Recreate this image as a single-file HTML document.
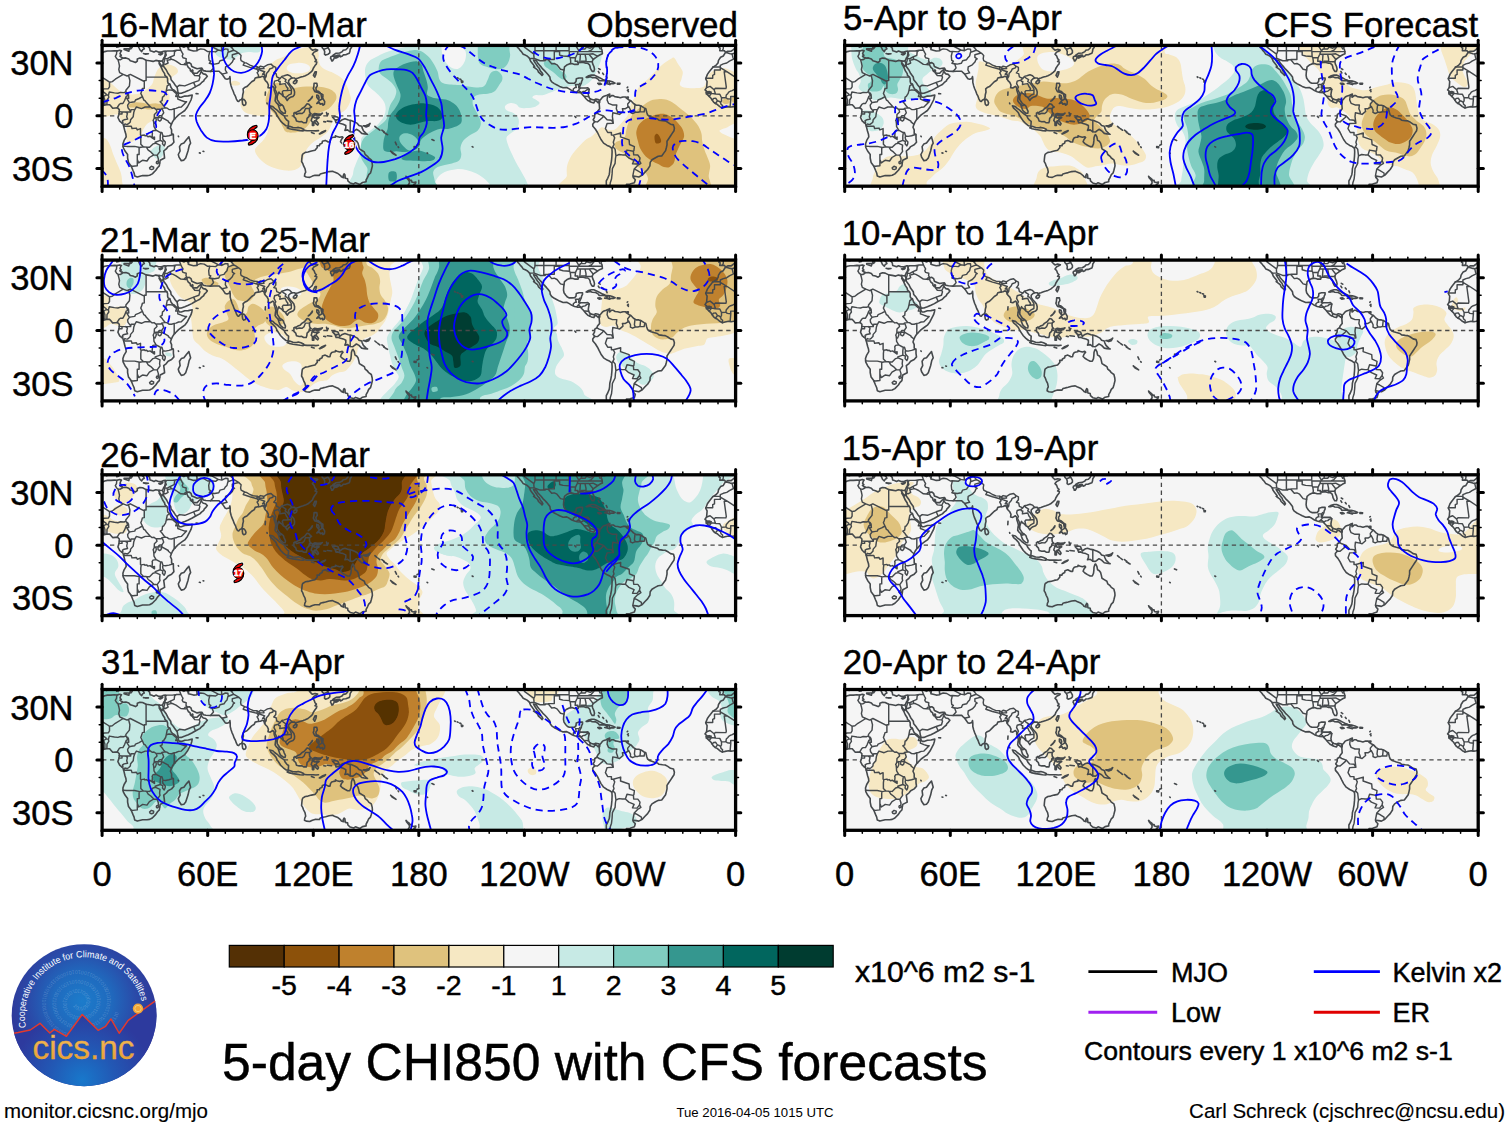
<!DOCTYPE html>
<html lang="en"><head><meta charset="utf-8"><title>5-day CHI850 with CFS forecasts</title>
<style>
html,body{margin:0;padding:0;background:#fff;}
svg{display:block;}
text{font-family:"Liberation Sans", sans-serif;fill:#000;stroke:#000;stroke-width:0.45px;}
.t34{font-size:35.15px;}
.tk{font-size:34.5px;}
.cb{font-size:28.5px;}
.lg{font-size:27px;}
.sm{font-size:20.5px;stroke-width:0.15px;}
.kc{fill:none;stroke:#0000ff;stroke-width:1.8;stroke-linejoin:round;stroke-linecap:butt;}
.kd{fill:none;stroke:#0000ff;stroke-width:1.8;stroke-dasharray:7.2 5;stroke-linejoin:round;}
.cst{fill:none;stroke:#45494c;stroke-width:1.6;stroke-linejoin:round;stroke-linecap:round;}
.bdr{fill:none;stroke:#45494c;stroke-width:1.45;stroke-linejoin:round;stroke-linecap:round;}
</style></head><body>
<svg width="1510" height="1127" viewBox="0 0 1510 1127">
<rect width="1510" height="1127" fill="#fff"/>
<defs>
<clipPath id="pc"><rect x="0" y="0" width="633.5" height="140.8"/></clipPath>
<filter id="sm" x="-5%" y="-5%" width="110%" height="110%"><feGaussianBlur stdDeviation="0.6"/></filter>
<g id="cst"><path class="cst" d="M-10.4,7.4L-9.3,7.2L-5.3,8.3L-3.5,8.6L0.0,7.4L2.6,6.2L5.3,5.6L8.8,5.6L12.3,5.3L15.1,5.5L17.6,4.8L19.4,5.3L18.7,6.3L17.9,8.4L19.2,9.9L17.8,10.7L19.4,12.0L21.1,12.7L23.8,12.5L26.7,13.5L28.2,15.3L30.8,16.0L33.4,17.1L35.2,15.8L35.2,13.7L37.8,12.7L40.5,13.0L44.0,14.8L47.5,15.3L51.0,16.0L53.7,15.0L56.3,15.5L57.4,17.6L57.0,18.3L58.9,21.5L60.7,25.5L62.5,28.2L62.8,29.9L64.8,31.7L65.5,33.4L65.5,36.1L66.0,37.8L67.7,38.7L69.0,42.2L70.4,44.0L72.1,44.9L74.8,47.5L76.2,48.4L76.0,50.0L77.4,51.9L79.2,51.9L82.7,50.7L86.2,50.5L90.1,49.6L89.7,51.9L88.9,54.6L87.1,58.1L85.3,61.6L82.7,65.1L80.1,66.9L76.5,69.5L73.9,72.1L72.1,73.9L70.4,76.5L69.2,79.2L68.3,81.8L69.5,84.5L69.5,88.0L71.3,89.7L71.3,93.3L71.8,96.8L69.5,99.4L66.0,101.2L64.2,103.5L61.6,105.6L62.1,109.1L62.5,112.6L58.1,114.9L57.7,117.0L57.2,120.5L55.4,122.3L53.7,124.9L50.2,128.5L47.5,129.9L44.9,130.2L40.5,130.2L35.2,131.6L32.6,130.6L32.0,127.6L30.8,124.9L29.0,120.5L26.4,117.0L25.5,112.6L25.5,109.1L22.9,105.6L21.1,102.1L20.8,98.5L22.0,95.0L24.1,91.5L23.8,88.9L22.9,86.2L21.6,80.9L20.8,78.3L17.6,75.7L15.8,72.1L16.7,69.5L17.1,66.9L17.2,64.2L15.5,62.5L13.2,62.6L10.6,62.8L8.8,60.7L7.6,59.3L4.4,59.3L1.8,59.8L-1.8,61.2L-4.4,61.6L-7.0,61.2L-10.6,61.9L-13.2,62.6L-15.8,61.2L-18.5,58.9L-20.2,58.1L-22.0,56.7L-23.4,54.6L-24.6,52.8L-26.4,51.0L-28.2,49.3L-29.4,47.5L-29.0,45.8L-30.6,44.5L-29.0,42.2L-28.7,38.7L-28.5,36.1L-29.9,33.4L-28.2,29.0L-26.4,26.4L-22.9,22.0L-19.4,19.7L-17.6,17.6L-17.1,15.0L-15.0,11.8L-12.3,10.6L-10.4,7.4M86.8,91.5L88.5,97.7L87.1,100.3L85.9,105.6L83.6,112.6L81.8,114.7L79.2,115.3L76.9,111.7L76.2,109.1L78.0,105.6L77.4,101.2L79.2,98.5L81.8,97.7L84.5,94.1L86.8,91.5M57.4,17.6L59.8,21.1L61.4,18.5L61.6,21.1L64.2,24.6L66.0,28.2L68.6,31.7L69.0,34.3L71.3,37.0L73.0,39.6L75.1,42.2L75.7,45.8L76.5,48.0L79.2,47.9L82.7,46.6L86.2,45.2L89.7,43.5L91.9,42.2L95.0,40.5L97.7,39.1L99.4,37.3L101.7,35.5L102.1,34.3L103.8,32.6L105.2,30.8L103.5,29.0L101.2,28.5L99.4,26.7L99.1,24.3L98.5,24.6L96.8,25.9L95.0,27.8L92.4,27.8L90.6,27.3L90.8,25.0L90.1,24.5L89.4,26.4L88.3,25.2L88.0,23.4L86.2,22.0L85.3,20.2L84.5,18.5L85.3,17.6L87.1,17.2L88.9,18.5L89.7,21.1L92.4,22.3L95.0,23.4L97.7,22.9L99.8,22.7L101.2,25.2L103.8,25.7L108.2,26.0L111.7,25.9L114.4,25.9L117.0,25.9L118.4,27.3L120.0,28.7L121.4,30.8L123.2,33.4L124.9,33.8L127.1,33.1L127.8,31.1L128.1,33.4L128.1,37.0L129.0,40.5L129.9,43.1L131.1,45.8L132.0,48.4L133.4,51.0L134.3,53.7L135.5,55.8L136.6,56.1L137.8,54.6L139.4,54.0L140.4,51.9L140.6,49.3L141.3,46.6L141.0,43.5L142.5,42.2L144.8,41.2L146.9,39.1L149.6,36.4L152.2,34.8L153.1,32.6L155.7,32.0L158.4,31.7L160.1,30.8L161.5,31.1L162.4,33.4L163.3,35.2L165.1,37.0L166.3,39.6L165.9,42.2L168.1,42.6L170.7,41.0L171.9,42.2L172.1,44.9L173.0,47.5L173.7,50.2L173.3,52.8L173.0,55.4L174.2,57.2L176.0,58.9L176.8,61.6L177.7,64.2L178.6,65.6L181.2,67.7L183.0,67.9L183.4,66.0L182.1,63.3L181.2,60.7L179.5,59.3L177.7,58.2L176.5,56.3L175.1,54.2L175.1,51.0L176.0,48.4L176.8,46.6L177.7,48.0L179.5,48.9L181.2,51.0L183.0,51.9L184.8,54.6L185.1,55.1L186.5,53.1L188.3,51.9L190.9,51.0L192.3,49.3L192.5,46.6L191.8,44.0L190.0,41.7L188.3,39.9L186.5,37.3L186.5,35.2L188.3,33.4L190.0,32.6L192.7,32.6L193.6,34.3L194.4,33.1L196.2,32.6L198.8,31.7L201.1,31.0L203.2,30.3L205.9,29.0L208.5,26.9L210.3,25.2L211.2,22.9L212.9,20.2L214.3,18.5L214.7,16.7L212.9,16.2L214.3,14.6L212.9,13.2L212.0,10.6L210.3,8.8L212.0,6.7L215.0,5.3L215.6,4.6L212.9,4.0L210.3,4.8L208.5,3.2L207.3,1.8L208.5,1.2L210.3,0.2L212.9,-1.4M219.1,-0.5L220.3,2.6L221.7,4.0L222.6,6.2L222.4,8.8L223.5,9.7L226.1,8.8L227.7,7.4L227.7,5.3L226.1,2.6L224.7,0.5L225.2,-0.7M228.8,11.4L228.4,12.8L229.3,14.1L229.6,15.5L230.5,15.5L231.9,13.2L232.3,11.4L230.5,10.6L231.0,9.7L234.0,7.9L237.6,7.6L240.2,6.2L241.1,4.9L243.7,4.4L245.5,2.6L246.4,0.0L246.9,-1.4L249.0,-1.1L249.5,1.8L248.1,3.9L247.8,6.2L247.2,7.9L245.8,8.4L243.7,9.3L241.1,9.5L240.2,10.6L238.4,11.4L237.6,9.7L234.9,10.0L233.2,10.6L230.5,10.6L228.8,11.4M233.2,12.3L234.9,11.4L236.7,10.2L236.7,11.1L234.9,12.3L233.7,12.7L233.2,12.3M211.3,29.9L212.9,26.4L214.3,26.4L213.8,29.0L212.6,31.7L211.3,29.9M191.3,36.6L192.7,35.2L195.0,35.2L194.4,37.3L192.7,38.4L191.3,37.7L191.3,36.6M140.4,53.7L141.7,54.0L143.1,55.4L143.9,57.5L143.4,59.3L141.7,60.0L140.6,58.9L140.2,56.3L140.4,53.7M167.7,60.5L170.7,61.2L172.5,63.0L175.1,64.8L176.8,66.5L179.5,68.6L182.1,70.4L183.0,72.5L184.8,74.8L186.5,76.0L186.2,80.6L183.9,80.4L181.2,78.3L178.6,75.7L176.8,73.0L175.1,70.4L173.7,67.4L171.6,65.1L168.9,62.8L167.7,60.5M185.1,82.4L187.4,80.9L190.9,82.2L194.4,82.4L196.2,82.0L198.8,82.7L201.5,83.9L201.1,85.5L198.0,85.2L194.4,84.6L190.9,84.1L187.4,83.4L185.1,82.4M191.8,67.7L193.6,67.4L195.7,66.0L198.0,65.1L199.7,63.3L202.4,61.6L205.0,58.4L206.8,58.9L208.2,60.7L209.4,61.6L207.6,62.8L207.3,64.6L207.6,66.9L209.1,68.6L207.3,69.0L206.8,71.3L205.0,73.0L204.7,75.7L204.1,77.4L201.5,77.4L199.7,76.2L197.1,76.4L194.4,75.7L193.6,73.0L191.8,71.3L191.8,67.7M210.8,69.0L212.6,68.1L215.6,68.6L219.1,68.3L220.3,67.7L218.2,69.7L215.6,69.5L212.6,69.5L211.2,71.8L212.9,72.5L215.6,71.8L217.0,72.1L214.7,73.6L213.8,75.1L215.2,76.5L216.4,78.3L215.6,79.7L214.3,78.8L212.9,77.1L212.6,75.3L211.7,76.5L211.7,80.1L210.3,80.1L210.3,76.5L209.1,75.1L209.9,72.5L210.8,69.0M212.0,37.8L214.7,37.8L215.2,40.5L213.8,42.6L214.2,45.4L216.1,45.8L218.2,47.5L218.2,48.4L215.6,47.0L212.9,46.3L212.0,44.9L211.2,43.1L211.7,41.4L212.0,37.8M214.7,58.1L217.3,55.1L220.8,53.1L222.6,56.3L222.3,58.9L220.8,59.8L220.3,58.1L218.2,58.9L217.3,57.2L214.7,58.1M219.1,48.4L220.8,49.3L220.8,51.9L219.6,52.4L219.1,50.2L219.1,48.4M214.7,49.6L216.4,50.2L217.0,52.3L216.4,54.2L215.6,53.1L214.7,51.9L214.7,49.6M206.2,55.8L208.5,53.7L210.3,51.0L209.9,52.3L207.6,54.9L206.2,55.8M230.5,71.8L233.2,71.1L235.8,71.8L237.6,76.2L240.2,74.3L242.8,73.4L246.4,74.6L249.0,75.1L252.5,76.5L255.2,78.0L256.9,80.1L259.6,80.9L260.1,82.7L261.3,85.3L264.0,88.0L265.4,88.9L262.2,88.5L259.6,88.0L256.9,85.3L254.3,83.9L252.5,85.3L250.8,86.6L248.1,86.4L245.5,84.5L242.8,85.0L243.7,82.7L243.7,80.1L241.1,78.8L238.4,78.1L235.8,77.1L234.0,77.4L233.2,75.3L235.4,74.4L232.8,74.3L230.5,71.8M261.3,80.4L264.0,80.1L266.6,79.2L268.0,78.0L266.6,80.6L264.0,81.5L261.3,80.4M272.8,80.9L274.5,82.4M275.7,83.2L277.7,84.8M279.8,84.8L282.1,86.6M281.6,86.9L284.2,88.5M283.8,88.5L285.4,89.2M288.6,105.8L293.0,109.1L293.9,109.8L290.4,107.9L288.6,105.8M293.2,96.8L294.4,99.4M296.0,101.4L296.5,102.1M312.0,101.2L314.1,101.4L313.8,102.4L312.0,102.1L312.0,101.2M315.0,99.8L316.7,99.1M202.4,85.0L205.0,85.3L207.6,85.3L209.4,85.3L211.2,85.3L213.8,85.5L216.4,85.2M217.3,88.5L220.0,86.6L223.5,85.2L222.6,86.2L220.0,87.6L218.2,88.5L217.3,88.5M209.4,87.1L212.0,88.0M224.4,67.2L225.2,70.4L226.1,68.3M225.2,75.7L229.6,76.2M221.7,76.2L223.5,76.5M200.1,110.0L200.6,108.7L203.2,107.0L205.9,106.6L209.4,105.6L212.9,104.9L215.2,102.1L215.0,100.3L217.3,100.3L217.7,98.9L220.0,97.7L220.3,95.9L223.1,95.0L224.9,95.9L226.1,96.6L227.9,96.6L228.4,94.1L229.6,92.4L231.4,91.9L233.2,91.7L233.3,90.4L234.9,91.2L237.6,91.9L240.2,91.3L240.9,92.2L239.3,94.1L238.4,96.4L240.2,98.2L242.8,99.8L245.5,101.2L247.6,101.2L248.8,98.5L249.2,95.0L249.3,92.4L250.2,89.7L250.9,89.2L252.2,91.5L252.9,95.0L254.6,95.9L255.9,97.7L256.6,100.3L257.3,103.5L259.9,105.1L262.2,106.5L263.1,109.1L265.4,110.9L266.6,112.6L269.2,114.4L270.1,117.9L270.3,120.5L269.2,124.9L268.4,127.6L266.6,129.3L265.4,132.0L264.0,134.6L264.0,136.4L260.4,137.1L257.8,139.0L255.2,138.0L253.4,137.3L251.6,138.5L248.1,137.6L245.8,135.5L245.5,133.4L243.2,132.9L242.8,129.3L242.0,128.5L241.1,130.2L241.4,132.3L239.3,131.4L238.4,130.2L235.8,128.1L232.3,126.7L230.5,125.8L227.0,126.2L223.5,127.2L220.8,127.8L218.2,128.5L217.3,130.0L212.9,129.9L210.3,130.7L207.6,132.0L204.1,131.6L202.4,130.7L202.7,128.5L203.6,126.7L202.9,123.2L201.5,120.5L200.6,117.9L199.5,116.1L199.7,113.5L200.1,110.0M308.3,141.7L307.6,140.6L306.2,139.4L307.4,137.6L307.2,135.8L306.2,134.4L304.4,132.3L303.9,130.9L305.3,132.3L307.1,133.7L307.9,135.1L309.4,135.0L309.7,136.6L311.5,137.1L313.8,136.6L313.2,138.5L311.5,139.4L311.5,140.4L310.6,141.8M359.2,35.4L360.7,35.9L360.6,37.0L359.5,37.0L359.2,35.4M357.7,33.6L358.8,34.0M355.1,32.4L356.0,32.9M352.5,31.5L353.0,31.9M414.6,-1.1L415.3,1.8L417.0,3.5L418.3,5.3L419.3,6.2L421.1,8.8L423.2,9.7L425.0,10.6L427.3,12.7L428.5,15.8L429.9,17.6L431.5,19.7L432.5,21.1L431.5,21.6L433.8,23.2L435.5,24.6L436.4,26.7L439.0,29.0L439.9,30.1L440.8,29.0L439.9,27.3L438.2,25.5L437.3,23.2L435.5,21.1L433.8,18.5L432.0,15.8L431.5,14.6L434.3,15.3L435.5,17.6L437.3,19.7L439.0,21.5L440.8,23.8L442.6,25.5L444.3,27.3L446.1,29.4L447.8,31.7L448.2,34.3L449.6,36.4L452.2,38.2L454.9,39.6L457.5,41.0L461.0,42.4L464.6,42.1L467.2,43.5L469.8,45.2L472.5,46.3L475.1,47.0L478.6,47.2L479.5,48.4L481.3,50.2L482.7,51.9L483.9,53.3L485.7,55.1L487.4,55.8L489.2,56.8L491.8,57.5L492.7,55.4L494.5,55.8L495.9,57.2L497.1,55.8L497.6,56.3L497.1,58.1L497.3,60.7L497.5,63.3L495.4,66.0L494.8,67.7L492.7,69.0L492.4,72.1L491.0,74.4L492.7,76.2L490.6,78.8L490.8,80.9L493.2,83.6L495.4,87.1L497.1,90.6L498.9,94.1L501.5,97.7L505.0,100.0L507.7,101.2L509.8,102.9L510.0,106.5L509.8,110.9L509.4,115.3L508.6,119.7L507.7,123.2L507.5,126.7L507.1,129.3L505.6,132.9L504.2,135.5L504.2,138.1L504.5,141.8M503.3,-1.1L502.9,0.9L500.6,0.9L499.1,1.4L499.2,3.5L499.8,4.4L500.1,6.2L500.3,8.3L498.0,9.3L495.4,10.9L493.6,12.3L491.0,14.1L490.1,16.2L490.6,18.5L491.8,21.1L492.4,23.8L491.8,26.0L490.1,26.0L489.2,24.6L488.3,22.9L488.0,21.1L487.4,19.4L485.7,17.9L483.9,17.9L481.3,17.1L478.6,16.9L476.5,17.1L476.0,19.0L472.5,19.0L469.8,18.1L467.2,18.5L464.6,19.7L462.4,21.5L461.9,24.6L461.6,27.3L461.4,29.9L461.9,32.6L463.7,35.2L465.4,37.0L467.2,37.8L469.8,37.8L472.5,37.7L473.9,36.1L474.2,33.4L476.9,32.6L480.4,32.6L480.4,34.3L479.5,36.1L479.2,37.8L478.3,39.6L477.2,42.2L478.6,42.6L481.3,42.6L483.9,42.6L485.7,42.4L487.1,44.0L486.6,46.6L486.2,49.3L486.6,51.0L487.4,52.8L489.2,54.0L491.8,54.6L493.6,53.7L496.2,54.2L497.5,55.1L498.9,53.7L500.6,51.6L501.9,50.9L504.2,50.2L505.9,49.3L507.7,48.6L507.3,50.2L507.3,51.9L508.2,51.4L509.4,50.2L511.2,50.2L513.0,51.4L515.6,51.7L518.2,52.4L520.9,51.6L523.5,51.6L524.4,52.8L527.0,54.6L528.8,55.4L531.4,58.1L534.1,59.8L536.7,59.8L539.3,60.7L542.0,62.5L543.7,63.3L544.6,66.9L545.5,69.5L547.3,70.9L549.0,71.6L551.7,72.5L555.2,73.4L556.9,74.8L560.5,75.3L563.1,75.5L565.7,76.9L568.4,78.8L571.4,79.5L572.3,82.7L571.9,85.3L570.1,88.0L568.4,90.6L566.6,93.3L564.9,95.9L564.9,99.4L564.3,102.1L563.5,105.2L561.3,108.2L559.6,110.5L556.1,110.9L553.4,112.3L549.9,114.4L548.1,117.0L547.8,120.5L545.5,124.1L542.9,126.7L540.2,129.7L536.7,131.6L534.1,131.1L531.4,130.7L531.1,132.0L533.2,134.3L532.3,137.3L527.9,138.7L524.4,139.0L523.5,141.8M484.1,31.9L486.6,30.4L489.2,29.7L491.8,29.7L494.5,30.8L498.0,32.6L500.6,34.0L502.9,34.8L501.5,35.4L497.1,35.4L496.2,34.0L493.6,32.4L490.1,32.2L488.3,31.3L485.7,32.0L484.1,31.9M502.4,35.4L505.0,35.4L507.7,35.7L510.3,36.4L513.0,37.7L511.2,38.4L508.6,38.2L507.7,39.2L505.0,38.4L502.6,38.0L504.2,37.7L505.6,37.0L502.4,35.4M495.7,38.0L498.0,37.8L499.4,38.7L497.1,39.1L495.7,38.0M515.2,37.8L517.9,38.0L517.7,38.7L515.2,38.7L515.2,37.8M496.2,26.0L497.1,27.6M496.6,23.2L498.0,24.1M500.6,27.8L501.5,29.0M504.2,30.8L505.0,32.6M524.9,51.6L526.2,51.6L526.2,52.6L524.9,52.6L524.9,51.6M525.4,45.0L526.2,44.3M525.1,42.2L525.6,41.7M526.2,46.3L526.3,45.8M-15.5,-1.1L-16.7,2.1L-15.5,2.6L-15.8,5.3L-11.4,5.3L-9.7,6.9L-7.9,5.8L-4.4,5.8L-2.6,4.4L-0.5,2.6L0.4,2.1L-0.5,0.9L0.9,-1.1M4.4,0.9L5.8,0.4M14.6,1.8L16.7,1.4L17.1,-1.1L14.8,-1.1L14.6,1.8M22.0,3.5L27.3,3.2L26.7,5.8L22.0,4.2L22.0,3.5M27.6,-0.2L28.2,1.8L27.6,3.5L29.0,3.2L30.1,1.8L29.0,0.5L29.9,-0.9M32.6,-0.2L31.9,-1.1M34.3,-1.1L36.1,0.9L37.0,2.6L37.8,4.4L39.6,6.2L40.5,4.4L42.2,3.5L41.4,1.8L40.1,0.9L40.5,-0.9M41.4,8.1L46.3,8.4L43.6,8.8L41.4,8.1M46.3,-1.1L46.1,1.2L47.5,2.6L48.0,5.3L49.8,5.8L51.9,6.7L53.8,5.6L56.3,6.7L59.3,6.7L61.6,5.8L63.3,5.6L63.3,7.0L63.2,8.8L62.6,11.4L61.6,12.7L60.7,15.0L60.2,15.5L58.4,15.7L56.8,15.3M56.8,8.8L59.3,8.1L60.7,7.7L59.8,8.8L58.1,9.5L56.8,8.8M87.1,-1.1L86.6,1.8L86.2,4.2L88.5,4.8L91.5,5.6L95.0,5.3L94.8,1.8L93.3,-1.1M94.0,48.2L95.9,48.4M101.0,105.9L101.7,106.1M97.3,107.5L98.2,107.7M163.3,46.6L163.1,49.8M164.9,57.7L165.1,58.4M472.7,70.9L473.7,72.0M329.8,94.1L331.9,95.0M370.1,101.2L370.9,101.7M325.0,107.5L325.5,107.9M352.5,31.5L353.2,31.9M76.2,90.8L76.5,91.3"/><path class="bdr" d="M-3.5,8.6L-2.6,12.3L-2.1,13.7L-6.2,15.8L-8.8,17.6L-12.3,18.5L-15.3,19.9L-15.3,22.3M-15.3,21.6L-22.9,21.6M-15.3,22.3L-15.3,24.6L-21.1,24.6L-21.1,29.0L-22.9,29.9L-22.9,32.9L-29.9,32.9M-15.3,22.3L-8.4,26.4L2.1,33.3L5.6,35.5L7.4,36.8L10.2,36.2L13.2,33.8L21.1,29.0L17.6,27.3L16.7,24.1L17.4,20.6L16.7,17.2L15.8,14.1L14.6,13.2L13.2,10.9L14.4,8.8L14.6,6.2L15.1,5.5M15.8,14.1L18.1,14.4L20.2,13.2L20.2,12.0M44.0,14.8L44.0,31.7L44.0,35.2L42.2,35.2L42.2,36.1L28.2,29.0L26.4,29.9L25.0,30.6L21.1,29.0M44.0,31.7L64.8,31.7M-29.0,42.2L-25.5,41.0L-21.5,44.3L-20.2,42.9L-9.7,43.1L-9.3,41.7L-11.4,26.4L-8.4,26.4M-21.5,44.3L-20.1,48.6L-24.1,48.0L-26.4,51.0M-29.4,46.5L-26.4,46.1L-24.3,46.8L-26.4,47.2L-29.4,47.3M-29.4,48.6L-26.4,48.2L-24.1,48.0M-20.1,48.6L-15.8,48.9L-14.1,52.4L-14.1,55.4L-15.0,57.0L-16.7,55.8L-18.1,55.4L-18.7,54.6L-19.9,52.8L-22.0,53.0L-23.4,54.6M-15.0,57.0L-14.6,58.9L-13.0,60.2L-13.2,62.6M-18.1,55.4L-20.2,58.1M-14.1,52.4L-10.6,52.3L-9.7,52.1L-9.3,49.6L-7.7,48.0L-6.9,46.8L-4.9,45.6L-3.5,45.2L-1.2,44.0L0.4,44.0L2.3,43.5L6.2,43.3L7.4,41.4L7.4,36.8M0.4,44.0L0.9,46.3L3.9,48.4L4.2,49.4M-9.7,52.1L-8.3,53.3L-4.8,53.7L-4.9,51.0L-0.9,51.0L1.6,51.0L4.2,49.4L6.3,49.8L7.2,46.6L12.3,47.5L15.8,47.9L18.5,47.0L22.0,47.2L23.8,46.3M-4.8,53.7L-5.5,61.4M1.6,51.0L0.4,51.0L0.9,55.4L1.2,58.4L2.1,59.7M1.6,51.0L2.8,54.6L2.8,59.3M6.3,49.8L6.7,51.9L4.9,54.6L4.8,59.1M23.8,46.3L25.0,48.4L25.5,50.2L24.1,51.0L22.5,55.1L20.8,58.1L18.5,58.1L17.2,58.9L15.5,61.6L15.1,62.3M23.8,46.3L23.8,44.9L27.3,40.6L27.8,35.2L26.4,29.9M42.2,36.1L42.2,42.8L40.3,43.1L39.6,45.6L38.7,48.0L40.3,51.2L37.0,53.1L33.4,54.6L32.6,56.3L29.4,56.8L27.3,57.2L24.6,52.8L26.7,52.8L26.4,49.3L25.5,47.7L25.0,48.4M27.3,57.2L25.5,59.8L25.9,62.3L28.2,65.3L28.5,66.5L23.4,66.5L19.9,66.5L17.2,66.3M19.9,66.5L19.9,68.6L16.9,68.6M23.4,66.5L25.3,67.9L24.6,71.3L25.5,73.7L22.0,74.4L20.4,75.3L20.8,76.9L19.5,77.3M28.5,66.5L29.0,64.2L32.7,64.2L31.7,66.9L31.1,71.3L28.5,74.3L28.2,76.5L26.7,78.0L25.3,79.0L23.6,78.8L22.9,78.5L22.0,79.4L21.5,80.6M32.7,64.2L34.3,61.6L39.4,63.2L43.1,61.6L48.2,61.4L50.0,62.8L51.9,62.5L54.2,64.2L54.9,66.5L52.3,69.0L52.1,72.9M40.3,51.2L41.7,54.6L43.1,55.4L44.3,57.2L48.2,61.4M64.2,45.2L63.5,48.0L61.6,51.0L60.4,51.7L60.0,55.3L58.1,56.3L59.8,58.1L61.6,60.7L63.2,62.3L59.8,63.0L58.9,63.9L54.6,63.9L54.2,64.2M67.7,38.7L65.1,40.5L64.2,45.2L66.9,44.5L70.4,44.9L73.4,47.5L74.6,48.4L73.6,51.0L75.7,51.0L76.0,50.0M75.7,51.0L75.7,53.7L79.2,55.1L82.7,56.3L84.5,56.3L79.2,61.6L76.5,61.9L73.9,63.0L72.1,63.3L72.1,73.4L73.0,73.4M63.2,62.3L64.8,62.6L66.9,64.1L69.5,64.2L72.1,63.3M59.8,63.0L60.7,64.8L61.6,67.4L59.8,70.0L59.7,72.1L66.2,75.7L66.3,76.5L69.0,78.7M59.7,70.0L57.2,70.4L55.8,72.1L56.0,74.8L57.7,75.7L58.9,74.8L59.8,72.1L59.7,70.0M59.7,72.1L53.7,72.1L52.1,72.9L51.0,75.1L51.4,75.7L51.7,78.1L52.8,78.0L53.7,76.2L54.2,74.6L53.7,72.1M51.7,78.1L51.9,81.3L54.0,84.8L50.9,85.3L50.0,86.8L50.3,88.0L50.0,91.2L51.0,92.2L52.4,91.7L52.4,94.0L50.0,92.4L47.9,90.8L45.8,91.3L44.5,90.1L42.9,90.4L42.2,89.6L39.1,90.1L38.7,93.3L38.7,98.9L41.2,101.4M54.0,84.8L57.9,86.9L58.6,87.1L58.1,90.8L58.1,95.0L53.1,96.8L53.5,97.8M58.6,87.1L59.8,87.1L60.9,90.6L60.5,91.9L60.9,94.1L63.2,96.6L63.0,98.5L62.1,100.5L60.4,98.5L60.7,96.1L58.1,95.0M60.9,90.6L63.3,91.0L66.9,90.3L71.3,88.9M21.5,80.6L22.9,80.8L29.2,80.8L29.9,83.1L34.3,82.7L35.2,84.5L38.4,83.2L38.4,89.7L39.1,90.1M20.8,100.8L24.6,101.0L32.6,101.0L37.7,102.1L41.2,101.4L44.3,101.7L47.5,101.9L50.9,98.5L53.5,97.8L57.9,99.8L57.5,103.6L57.9,105.9L55.1,109.8L56.3,113.5L56.1,116.0L56.5,117.5L57.7,117.5M37.0,102.6L37.0,109.1L35.2,109.1L35.2,114.0L35.2,120.4L30.8,120.9L29.0,120.7M35.2,114.0L36.6,117.5L39.9,115.3L40.5,114.9L44.9,115.6L47.3,112.1L51.7,109.5L55.1,109.8M44.3,101.7L46.1,104.7L48.7,106.5L51.7,109.5M56.1,116.0L54.6,116.1L54.2,117.5L55.1,118.4L56.5,117.5M47.5,122.5L49.3,120.9L51.6,121.8L51.4,123.5L49.6,124.2L48.0,123.7L47.5,122.5M60.2,15.5L61.4,18.5L62.5,15.0L62.6,12.8L62.6,12.0L64.2,9.7L63.3,7.4M63.3,7.0L64.6,5.6L66.9,5.6L70.4,5.6L74.4,4.9L78.8,4.9L77.4,1.1L78.8,0.5L81.8,1.9L84.5,0.5L86.0,2.8M74.4,4.9L72.5,6.3L72.1,9.9L68.3,11.6L64.8,13.5L62.6,12.8M61.4,18.5L63.3,19.0L66.0,17.6L65.1,15.0L68.6,14.1L69.0,13.7L68.3,11.6M69.0,13.7L71.1,14.3L73.9,15.7L78.7,19.0L81.8,19.2L83.6,19.4M81.8,19.2L83.4,17.6L84.5,17.6M85.3,17.6L83.9,15.8L84.1,13.2L80.9,12.3L80.1,10.6L80.9,8.8L79.9,7.0L78.8,4.9M95.0,4.8L98.5,3.5L102.1,4.0L105.6,6.2L107.7,6.0L106.6,10.6L107.0,15.0L108.7,15.8L107.2,17.9L110.0,18.7L111.4,22.5L110.5,23.6L108.4,26.0M107.2,17.9L112.6,18.7L116.7,17.9L117.9,15.3L121.9,14.3L123.2,12.3L124.9,10.6L125.8,7.0L130.2,5.3L131.8,4.9L133.6,5.8L136.9,7.9M107.7,6.0L113.5,6.5L116.1,4.6L119.7,5.3L123.2,3.5L125.8,3.7L126.0,5.8M116.1,4.6L109.1,0.9L103.1,-1.1M119.7,5.3L119.3,0.7L123.2,-0.4L128.5,1.1L129.9,2.6L131.8,4.9M129.9,2.6L129.9,0.4L133.7,-1.1M75.1,41.5L77.4,39.8L82.7,40.5L91.5,37.0L96.8,35.2L97.8,31.7L97.1,30.4L92.6,30.1L90.8,27.8M91.5,37.0L93.4,41.2M97.1,30.4L98.2,28.2L98.7,26.9L99.2,26.6M120.0,28.7L124.9,27.5L123.2,24.6L123.5,21.5L127.6,19.4L130.2,16.7L131.3,14.1L132.5,13.5L130.2,12.0L130.2,9.3L135.5,7.9L136.9,7.9L139.0,10.0L138.5,13.2L139.0,15.3L142.5,17.2L141.1,19.7L147.8,22.0L155.0,23.9L155.0,21.3L151.3,21.1L147.8,19.7L144.3,17.6L142.5,17.2M155.0,21.3L156.4,22.3L158.0,23.4L161.9,23.2L161.2,21.5L158.4,20.8L156.4,22.3M161.9,21.5L165.4,19.4L168.9,18.7L171.2,20.8L170.7,22.5L167.5,23.6L166.6,25.7L164.4,28.2L164.0,31.3L162.9,32.9L162.4,34.0M155.0,23.9L156.4,25.9L155.0,27.3L156.3,29.6L156.6,31.9M156.4,24.1L158.0,24.8L162.6,26.4L160.5,28.9L162.4,28.7L162.9,32.9M171.2,20.8L173.7,22.0L173.7,25.0L171.7,27.5L174.0,28.2L174.7,31.5L178.1,33.1L176.1,34.7L172.5,35.7L171.9,38.2L173.7,41.7L172.8,43.6L174.6,47.2L175.1,50.2L173.7,52.4M178.1,33.1L179.7,31.0L181.2,32.6L183.9,34.3L183.0,36.1L185.1,37.5L187.4,40.5L189.2,43.6L189.3,44.7L189.2,48.4L186.4,49.8L184.8,51.2L183.7,52.1M176.1,34.7L176.8,36.1L178.1,36.1L177.7,39.1L179.5,38.7L183.0,38.2L184.4,41.4L185.8,43.1L185.1,45.2L181.2,45.2L180.2,46.5L181.1,49.8M185.1,45.2L189.3,44.7M179.7,31.0L182.1,30.4L185.3,29.4L187.8,30.3L190.0,32.6M176.1,59.1L177.9,60.4L179.7,59.5M192.9,66.9L194.4,68.8L197.1,67.9L200.1,68.1L202.0,66.5L203.4,63.0L206.9,63.0M248.1,75.0L248.1,86.4M221.9,3.9L225.9,2.5M218.9,-0.2L221.7,-1.1M427.4,13.2L431.5,12.8L438.0,15.3L443.1,15.3L443.1,14.4L446.1,14.4L449.6,18.5L452.2,18.1L454.9,19.4L458.4,23.8L461.9,24.6M432.7,5.3L467.0,5.3M452.2,6.2L457.5,6.2L457.5,9.7L461.0,10.6L467.4,11.1L467.2,6.2L476.0,6.2L500.3,6.2M441.7,15.3L441.7,-1.1M446.1,14.1L452.2,14.1L452.2,5.3M454.0,5.3L454.0,-1.1M422.3,1.8L431.8,8.8L431.7,10.0L432.0,12.8M422.3,1.8L422.3,-1.1M432.9,5.3L432.9,-1.1M431.8,8.8L432.7,6.7L432.9,5.3M467.0,5.3L467.0,-1.1M468.1,12.3L473.4,12.3M467.4,11.1L468.1,12.3L468.6,15.8L468.4,18.1M473.4,12.3L473.0,15.8L475.8,15.8L475.5,17.1M473.4,12.3L475.1,8.8L476.0,6.2L476.7,5.3L475.1,2.6L472.7,-1.1M478.3,8.8L477.8,15.8L477.9,17.1M482.9,8.8L483.9,13.5L483.9,15.8L483.7,16.4M479.3,15.8L483.9,15.8L484.3,16.4L489.2,16.4L490.1,16.2M475.1,8.8L486.9,8.8L491.0,13.9M486.9,8.8L491.0,8.4L495.4,10.7M486.4,6.0L489.2,4.8L492.4,1.2L496.8,1.2L498.0,3.5M476.7,5.3L478.6,3.5L483.0,3.5L484.4,1.6L488.1,2.8L491.8,0.5L491.8,-1.1M479.5,3.5L479.5,-1.1M484.3,1.6L484.3,-1.1M491.8,0.5L500.1,0.5M454.0,0.0L467.0,0.0M432.9,-1.1L441.7,-1.1M471.2,44.9L471.2,43.6L473.0,42.1L474.2,42.1L473.4,39.1L476.9,39.1L477.9,37.8M474.9,46.3L476.2,45.0L478.1,42.8M476.9,39.1L476.5,42.4L478.1,42.8M479.2,47.5L480.9,46.1L483.0,45.8L484.8,44.3L487.1,44.0M476.2,45.0L479.0,47.0M482.7,50.9L486.2,51.2M487.6,56.1L488.1,53.5M497.3,57.5L497.5,55.1M507.1,35.7L507.3,38.7M507.3,49.6L505.4,51.0L505.0,54.6L506.4,57.9L510.3,59.5L514.7,59.5L514.2,63.3L515.6,66.9L515.2,68.3L510.7,67.4L510.3,71.3L511.2,77.8L509.4,74.8L505.0,74.4L501.5,70.6L497.1,69.0L494.8,67.7M501.5,70.6L500.5,72.1L495.4,76.5L492.2,76.4M511.2,77.8L505.0,78.1L503.3,83.2L505.6,87.1L509.3,87.1L509.3,89.7L511.2,89.7L512.6,92.4L511.2,96.8L511.9,99.1L510.8,101.2L509.8,102.6M511.2,89.7L518.6,87.6L518.4,91.5L527.0,94.5L527.4,99.1L532.3,101.2L531.8,105.2L531.3,105.9L531.6,109.5L535.7,109.6L537.9,112.6L537.4,115.4L538.8,117.9L535.5,120.0L532.1,123.5L534.9,124.9L539.3,127.6L539.5,129.7M510.8,101.2L513.0,103.8L513.8,110.5L517.0,109.1L520.3,109.5L523.3,109.5L524.9,104.7L531.3,105.9M523.3,109.5L526.7,112.6L532.0,114.9L530.4,118.4L534.9,118.6L537.4,115.4M532.1,123.5L531.1,128.5L530.7,130.7M513.8,110.5L513.3,113.5L513.0,117.9L510.3,123.2L510.0,128.5L509.4,133.7L508.2,137.3L507.7,141.8M515.2,68.3L517.4,69.0L520.9,66.0L520.3,63.3L523.3,63.3L526.7,61.2L528.4,64.6L528.3,67.0L530.5,68.1L533.2,66.9L535.8,66.9L537.9,66.3L542.0,66.5L542.7,63.3M528.3,55.4L525.6,58.6L525.8,61.2L526.7,61.2M533.2,66.9L532.3,64.6L532.8,60.0M537.9,66.3L538.5,60.4M-13.0,4.9L-12.3,3.2L-12.3,0.5L-12.0,-1.1M46.3,-1.1L46.6,-0.5"/></g>
</defs>
<g transform="translate(102.1,45.4)"><g clip-path="url(#pc)">
<rect x="0" y="0" width="633.5" height="140.8" fill="#f5f5f5"/>
<g filter="url(#sm)"><path d="M-8.8,34.0C-7.4,27.6 -2.7,33.5 0.1,34.0C2.8,34.5 5.3,35.4 7.7,36.9C10.0,38.3 12.0,40.9 14.1,42.6C16.3,44.3 18.0,45.9 20.6,46.9C23.2,48.0 26.7,49.1 30.0,49.1C33.2,49.1 36.8,48.5 40.0,46.9C43.2,45.4 47.3,42.3 49.4,39.7C51.4,37.2 51.2,34.5 52.2,31.8C53.3,29.2 54.3,26.0 55.8,23.9C57.4,21.9 59.4,20.3 61.6,19.6C63.7,18.9 66.6,19.1 68.8,19.6C70.9,20.1 73.4,21.3 74.5,22.5C75.7,23.7 76.1,25.5 75.7,26.8C75.2,28.1 72.9,29.3 71.6,30.4C70.4,31.5 69.0,31.8 68.0,33.3C67.0,34.7 66.0,36.9 65.6,39.0C65.2,41.2 65.5,44.1 65.9,46.2C66.2,48.4 67.7,50.0 67.6,52.0C67.6,53.9 66.8,56.0 65.6,57.7C64.3,59.4 61.6,60.6 60.1,62.0C58.6,63.5 57.6,64.7 56.5,66.3C55.5,68.0 55.0,70.4 53.7,72.1C52.3,73.8 50.1,75.3 48.6,76.4C47.2,77.5 46.2,77.3 45.0,78.5C43.8,79.7 42.5,81.8 41.4,83.6C40.4,85.4 39.9,87.5 38.6,89.3C37.3,91.1 35.3,93.0 33.5,94.4C31.7,95.7 29.2,97.0 27.8,97.2C26.4,97.5 25.6,97.1 24.9,95.8C24.3,94.5 24.0,91.5 23.9,89.3C23.8,87.2 24.7,84.7 24.5,82.9C24.3,81.1 23.8,80.0 22.8,78.5C21.8,77.1 19.4,75.7 18.5,74.2C17.5,72.8 18.0,70.8 17.0,69.9C16.1,69.1 14.4,69.1 12.7,69.2C11.0,69.3 9.1,69.9 7.0,70.4C4.9,70.8 2.7,71.8 0.1,72.1C-2.6,72.4 -7.4,78.4 -8.8,72.1C-10.3,65.7 -10.3,40.3 -8.8,34.0Z" fill="#f6e8c3"/><path d="M-8.8,90.8C-7.4,81.2 -2.2,91.6 0.1,92.2C2.3,92.8 3.4,92.9 4.8,94.4C6.2,95.8 7.3,98.3 8.4,100.8C9.5,103.3 10.2,106.6 11.3,109.4C12.3,112.3 13.7,115.2 14.9,118.1C16.1,120.9 17.6,123.8 18.5,126.7C19.3,129.6 19.8,131.5 19.9,135.3C20.0,139.1 24.0,147.3 19.2,149.7C14.4,152.1 -4.2,159.5 -8.8,149.7C-13.5,139.9 -10.3,100.3 -8.8,90.8Z" fill="#f6e8c3"/><path d="M48.9,105.1C49.5,104.0 51.3,102.4 52.9,101.5C54.6,100.6 57.1,99.5 58.7,99.7C60.3,99.8 62.1,101.1 62.7,102.3C63.3,103.4 62.7,105.1 62.3,106.6C61.9,108.0 61.1,109.7 60.1,110.9C59.2,112.1 57.9,113.6 56.5,113.8C55.2,113.9 53.4,112.5 52.2,111.6C51.0,110.7 49.9,109.4 49.4,108.3C48.8,107.2 48.3,106.3 48.9,105.1Z" fill="#c7eae5"/><path d="M111.9,-8.4C104.0,-6.0 111.9,2.7 112.6,6.0C113.3,9.2 114.6,9.8 116.2,11.0C117.7,12.2 119.8,12.6 121.9,13.2C124.1,13.7 127.1,14.5 129.1,14.3C131.1,14.1 132.5,12.7 134.1,11.7C135.8,10.7 137.1,9.0 139.2,8.1C141.2,7.3 143.8,6.9 146.4,6.7C148.9,6.5 152.2,7.5 154.3,7.1C156.3,6.8 157.6,7.1 158.6,4.5C159.5,1.9 167.8,-6.2 160.0,-8.4C152.2,-10.6 119.8,-10.8 111.9,-8.4Z" fill="#c7eae5"/><path d="M128.4,36.9C129.0,36.3 131.1,35.4 132.7,35.4C134.3,35.5 137.0,36.6 137.7,37.3C138.5,38.0 138.0,39.3 137.0,39.7C136.1,40.2 133.4,40.3 132.0,40.2C130.6,40.1 129.4,39.6 128.8,39.0C128.2,38.5 127.7,37.5 128.4,36.9Z" fill="#f6e8c3"/><path d="M173.8,14.6C176.2,13.2 178.6,12.9 181.0,11.7C183.4,10.5 185.8,8.7 188.2,7.4C190.6,6.2 193.0,5.1 195.4,4.2C197.8,3.4 200.2,2.8 202.6,2.4C205.0,2.0 207.6,1.7 209.8,1.9C211.9,2.2 214.4,2.4 215.5,3.8C216.7,5.2 216.5,8.7 216.7,10.3C216.8,11.8 215.9,11.5 216.2,13.2C216.5,14.8 217.1,18.4 218.4,20.3C219.7,22.3 222.0,23.5 224.1,24.7C226.3,25.9 228.9,26.3 231.3,27.5C233.7,28.7 236.3,29.9 238.5,31.8C240.7,33.8 242.7,36.1 244.2,39.0C245.8,41.9 247.1,46.4 247.8,49.1C248.6,51.7 249.2,52.4 248.6,54.8C248.0,57.2 245.9,61.3 244.2,63.5C242.6,65.6 240.4,66.3 238.5,67.8C236.6,69.2 234.2,70.4 232.7,72.1C231.3,73.8 231.1,75.4 229.9,77.8C228.7,80.2 227.5,84.1 225.6,86.4C223.6,88.8 221.0,90.3 218.4,92.2C215.7,94.1 212.1,95.8 209.8,97.9C207.4,100.1 205.4,102.5 204.0,105.1C202.6,107.8 202.1,111.1 201.1,113.8C200.2,116.4 199.7,119.1 198.3,120.9C196.8,122.7 194.9,123.8 192.5,124.5C190.1,125.2 187.0,125.5 183.9,125.2C180.8,125.0 176.9,124.1 173.8,123.1C170.7,122.1 167.8,121.1 165.2,119.5C162.6,117.9 159.9,115.7 158.0,113.8C156.1,111.8 154.5,109.7 153.7,108.0C152.9,106.3 152.5,105.1 153.0,103.7C153.5,102.3 155.3,100.8 156.6,99.4C157.9,97.9 159.5,97.0 160.9,95.1C162.3,93.2 164.1,90.8 165.2,87.9C166.3,85.0 167.0,80.7 167.4,77.8C167.7,74.9 168.7,71.6 167.4,70.4C166.0,69.1 162.5,70.5 159.5,70.4C156.5,70.2 152.3,69.9 149.4,69.2C146.5,68.5 144.0,67.8 142.2,66.3C140.4,64.9 139.1,62.7 138.6,60.6C138.1,58.4 138.7,55.8 139.3,53.4C139.9,51.0 141.0,48.6 142.2,46.2C143.4,43.8 144.8,41.2 146.5,39.0C148.2,36.9 150.1,35.4 152.3,33.3C154.4,31.1 157.1,28.2 159.5,26.1C161.9,23.9 164.2,22.3 166.6,20.3C169.0,18.4 171.4,16.0 173.8,14.6Z" fill="#f6e8c3"/><path d="M251.0,149.7C237.5,146.1 250.5,133.4 251.0,128.1C251.5,122.9 252.8,121.2 253.9,118.1C255.0,114.9 256.6,112.3 257.5,109.4C258.3,106.6 258.6,103.7 258.9,100.8C259.3,97.9 258.1,94.8 259.6,92.2C261.2,89.6 265.4,87.4 268.3,85.0C271.1,82.6 274.5,80.5 276.9,77.8C279.3,75.2 281.6,72.1 282.6,69.2C283.7,66.3 283.8,63.2 283.3,60.6C282.9,57.9 281.6,55.8 279.8,53.4C278.0,51.0 275.0,48.6 272.6,46.2C270.2,43.8 266.9,41.7 265.4,39.0C263.8,36.4 263.6,33.2 263.2,30.4C262.9,27.6 262.6,24.9 263.2,22.5C263.8,20.1 265.0,17.8 266.8,16.0C268.6,14.2 271.4,13.2 274.0,11.7C276.6,10.3 279.8,8.6 282.6,7.4C285.5,6.2 288.4,5.4 291.3,4.5C294.1,3.7 297.0,3.1 299.9,2.4C302.7,1.6 307.1,1.7 308.5,-0.1C309.9,-1.9 290.8,-6.1 308.5,-8.4C326.2,-10.7 382.6,-13.2 414.5,-14.1C446.4,-15.1 485.8,-16.5 500.0,-14.1C514.3,-11.8 500.1,-4.6 500.0,-0.1C499.9,4.5 500.0,9.3 499.3,13.2C498.6,17.0 497.0,20.1 495.7,23.2C494.4,26.3 492.9,29.4 491.4,31.8C489.8,34.2 488.4,36.0 486.4,37.6C484.3,39.1 482.0,40.7 479.2,41.2C476.3,41.7 472.7,40.1 469.1,40.5C465.5,40.8 461.0,42.3 457.6,43.3C454.3,44.4 451.9,45.9 449.0,46.9C446.1,48.0 443.0,49.3 440.4,49.8C437.7,50.3 434.9,49.4 433.2,49.8C431.5,50.2 430.1,51.1 430.3,52.0C430.5,52.8 433.4,53.9 434.6,54.8C435.8,55.8 437.7,56.6 437.5,57.7C437.2,58.8 435.3,60.5 433.2,61.3C431.0,62.1 427.2,62.6 424.6,62.7C421.9,62.9 419.0,62.6 417.4,62.0C415.7,61.4 415.9,59.9 414.5,59.1C413.1,58.4 410.7,57.5 408.7,57.7C406.8,57.9 403.7,59.4 403.0,60.6C402.3,61.8 403.0,63.7 404.4,64.9C405.9,66.1 409.7,66.6 411.6,67.8C413.5,69.0 415.1,70.4 415.9,72.1C416.8,73.8 416.9,75.9 416.7,77.8C416.4,79.7 415.8,81.9 414.5,83.6C413.2,85.3 410.4,86.4 408.7,87.9C407.1,89.3 404.9,90.3 404.4,92.2C404.0,94.1 404.9,96.5 405.9,99.4C406.8,102.3 408.7,106.3 410.2,109.4C411.6,112.6 412.8,114.9 414.5,118.1C416.2,121.2 418.6,125.0 420.2,128.1C421.9,131.2 423.5,133.2 424.6,136.7C425.6,140.3 432.7,147.5 426.7,149.7C420.7,151.8 395.0,151.1 388.6,149.7C382.3,148.2 389.6,143.7 388.6,141.1C387.7,138.4 385.3,136.0 382.9,133.9C380.5,131.7 377.4,129.7 374.3,128.1C371.1,126.6 367.6,125.2 364.2,124.5C360.8,123.8 357.7,123.5 354.1,123.8C350.5,124.2 345.8,125.2 342.6,126.7C339.5,128.1 337.3,130.0 335.5,132.4C333.7,134.8 332.5,138.2 331.9,141.1C331.3,143.9 345.3,148.2 331.9,149.7C318.4,151.1 264.5,153.3 251.0,149.7Z" fill="#c7eae5"/><path d="M466.5,150.4C436.7,147.0 465.1,135.2 464.8,130.2C464.6,125.1 464.3,123.5 465.1,120.1C465.9,116.7 467.5,113.1 469.4,110.0C471.4,106.9 474.2,104.0 476.6,101.3C479.1,98.7 481.7,95.8 483.9,94.1C486.0,92.4 487.7,92.4 489.6,90.9C491.6,89.5 493.7,87.0 495.4,85.4C497.1,83.9 498.1,82.1 499.7,81.8C501.4,81.6 503.4,83.6 505.5,84.0C507.7,84.4 510.3,85.2 512.7,84.0C515.1,82.8 517.8,79.2 520.0,76.8C522.1,74.4 524.3,72.4 525.7,69.6C527.2,66.7 527.4,62.6 528.6,59.5C529.8,56.3 531.9,53.2 533.0,50.8C534.0,48.4 534.2,46.9 535.1,45.0C536.1,43.1 536.9,41.2 538.7,39.2C540.5,37.3 543.5,35.6 545.9,33.5C548.4,31.3 550.8,28.7 553.2,26.2C555.6,23.8 557.7,21.2 560.4,19.0C563.0,16.9 567.1,14.3 569.0,13.3C571.0,12.2 571.0,11.6 572.2,12.5C573.4,13.5 574.9,16.7 576.3,19.0C577.7,21.3 580.1,23.8 580.6,26.2C581.1,28.7 579.9,31.3 579.4,33.5C579.0,35.6 577.3,37.8 577.7,39.2C578.1,40.7 579.6,41.5 582.0,42.1C584.4,42.7 588.9,43.0 592.1,42.9C595.4,42.7 599.5,42.7 601.5,41.4C603.6,40.1 603.3,37.2 604.4,34.9C605.5,32.6 606.5,29.5 608.0,27.7C609.6,25.9 611.6,24.9 613.8,24.1C616.0,23.2 618.6,22.5 621.0,22.6C623.4,22.8 625.8,24.0 628.2,24.8C630.6,25.6 632.8,27.1 635.5,27.7C638.1,28.3 642.7,20.0 644.1,28.4C645.6,36.8 645.9,70.0 644.1,78.2C642.3,86.5 636.6,77.3 633.4,77.9C630.3,78.5 628.0,80.6 625.4,81.8C622.7,83.1 617.7,84.1 617.4,85.4C617.2,86.8 621.2,88.4 623.9,89.8C626.6,91.1 630.1,92.8 633.4,93.4C636.8,94.0 642.3,83.9 644.1,93.4C645.9,102.9 673.7,140.9 644.1,150.4C614.5,159.9 496.4,153.8 466.5,150.4Z" fill="#f6e8c3"/><path d="M184.6,22.5C184.7,21.3 185.7,19.7 187.5,18.9C189.3,18.1 192.9,17.6 195.4,17.5C197.9,17.3 200.5,17.6 202.6,18.2C204.6,18.8 206.9,19.9 207.6,21.1C208.3,22.3 208.0,24.3 206.9,25.4C205.8,26.4 203.5,27.1 201.1,27.5C198.7,27.9 194.9,28.1 192.5,27.8C190.1,27.6 188.1,27.0 186.8,26.1C185.4,25.2 184.5,23.7 184.6,22.5Z" fill="#f5f5f5"/><path d="M340.5,-12.7C337.7,-9.1 339.5,3.8 340.1,8.8C340.7,13.9 342.5,15.2 344.1,17.5C345.7,19.7 347.9,21.5 349.8,22.5C351.7,23.5 353.8,24.0 355.6,23.5C357.4,23.0 359.3,21.3 360.6,19.6C361.9,17.9 363.0,15.4 363.5,13.2C364.0,10.9 364.1,8.1 363.5,6.0C362.9,3.9 361.0,3.6 359.9,0.5C358.8,-2.6 360.2,-10.5 357.0,-12.7C353.8,-14.9 343.3,-16.3 340.5,-12.7Z" fill="#f5f5f5"/><path d="M26.4,59.4C27.2,58.6 30.6,57.3 32.8,57.0C35.1,56.7 37.6,57.2 40.0,57.4C42.4,57.7 44.8,58.5 47.2,58.6C49.6,58.7 52.1,57.8 54.4,58.0C56.7,58.1 60.1,58.6 60.9,59.4C61.6,60.3 60.3,62.5 58.7,63.2C57.1,63.8 53.7,63.3 51.5,63.5C49.4,63.6 47.7,64.3 45.8,64.2C43.8,64.1 42.2,63.1 40.0,62.7C37.9,62.4 34.9,62.1 32.8,62.0C30.8,61.9 28.9,62.4 27.8,62.0C26.7,61.6 25.5,60.3 26.4,59.4Z" fill="#dfc27d"/><path d="M163.5,54.8C163.6,52.7 164.9,49.4 165.9,46.9C167.0,44.4 168.2,41.3 169.8,39.7C171.4,38.1 173.2,37.3 175.3,37.3C177.4,37.3 180.1,38.9 182.4,39.7C184.8,40.6 187.2,42.3 189.6,42.6C192.0,43.0 194.4,42.1 196.8,41.9C199.2,41.7 201.4,41.3 204.0,41.2C206.6,41.1 209.8,41.1 212.6,41.2C215.5,41.3 218.6,41.4 221.3,41.9C223.9,42.4 226.4,43.0 228.4,44.1C230.5,45.1 232.5,46.8 233.5,48.4C234.4,49.9 234.5,51.7 234.2,53.4C233.8,55.1 232.6,56.7 231.3,58.4C230.0,60.1 228.2,62.1 226.3,63.5C224.4,64.8 221.8,65.4 219.8,66.3C217.8,67.3 215.7,67.9 214.1,69.2C212.4,70.5 211.2,72.3 209.8,74.2C208.3,76.1 207.1,78.9 205.4,80.7C203.8,82.5 202.1,83.9 199.7,85.0C197.3,86.1 193.7,86.9 191.1,87.2C188.4,87.4 185.6,87.3 183.9,86.4C182.2,85.6 182.0,83.8 181.0,82.1C180.1,80.5 179.3,78.3 178.1,76.4C176.9,74.5 175.4,72.6 173.8,70.6C172.3,68.7 170.2,66.7 168.8,64.9C167.4,63.1 166.1,61.5 165.2,59.9C164.3,58.2 163.4,57.0 163.5,54.8Z" fill="#dfc27d"/><path d="M276.6,22.5C276.8,20.6 277.2,17.9 278.6,16.3C280.0,14.7 282.3,14.0 284.8,12.9C287.3,11.7 290.5,10.6 293.4,9.6C296.3,8.5 299.2,7.5 302.0,6.7C304.9,5.9 308.0,5.0 310.7,4.8C313.3,4.6 315.4,4.5 317.8,5.4C320.3,6.3 323.2,8.3 325.4,10.3C327.6,12.3 329.5,14.8 331.1,17.5C332.8,20.1 334.4,23.2 335.5,26.1C336.5,29.0 336.4,32.7 337.6,34.7C338.8,36.7 339.4,37.5 342.6,38.3C345.9,39.1 352.2,39.1 357.0,39.7C361.8,40.3 367.3,41.7 371.4,41.9C375.5,42.1 379.1,42.4 381.4,41.2C383.8,40.0 384.3,37.0 385.5,34.7C386.7,32.4 387.1,29.1 388.6,27.5C390.1,26.0 392.6,25.1 394.4,25.4C396.2,25.7 398.4,27.7 399.4,29.3C400.4,30.8 400.6,32.8 400.1,34.7C399.6,36.6 397.8,38.5 396.5,40.5C395.2,42.4 394.0,44.9 392.2,46.2C390.4,47.5 388.3,47.9 385.8,48.4C383.2,48.8 379.5,48.5 377.1,49.1C374.8,49.7 372.7,50.3 371.7,52.0C370.6,53.6 370.2,56.7 370.7,59.1C371.1,61.5 373.1,63.9 374.3,66.3C375.5,68.7 377.1,71.4 377.9,73.5C378.6,75.7 378.9,77.3 378.6,79.3C378.2,81.2 377.4,83.3 375.7,85.0C374.0,86.7 370.9,87.6 368.5,89.3C366.1,91.0 363.0,92.9 361.3,95.1C359.6,97.2 358.8,99.9 358.4,102.3C358.1,104.7 359.4,107.3 359.2,109.4C358.9,111.6 358.6,113.8 357.0,115.2C355.5,116.6 352.2,117.3 349.8,118.1C347.4,118.8 345.0,118.9 342.6,119.5C340.2,120.1 337.4,120.5 335.5,121.7C333.5,122.9 331.6,124.4 331.1,126.7C330.7,129.0 332.2,131.5 332.6,135.3C332.9,139.1 344.6,147.3 333.3,149.7C322.0,152.1 276.2,152.6 264.7,149.7C253.2,146.8 264.1,136.7 264.2,132.4C264.4,128.1 265.6,126.0 265.4,123.8C265.2,121.7 264.2,121.2 263.2,119.5C262.3,117.8 260.5,115.9 259.6,113.8C258.8,111.6 258.2,109.2 258.2,106.6C258.2,103.9 258.6,100.3 259.3,97.9C260.1,95.5 260.8,94.1 262.5,92.2C264.2,90.3 267.3,88.4 269.7,86.4C272.1,84.5 274.5,82.7 276.9,80.7C279.3,78.7 282.5,76.6 284.1,74.2C285.6,71.8 285.5,68.8 286.2,66.3C286.9,63.8 287.3,61.5 288.4,59.1C289.5,56.7 291.7,54.4 292.7,52.0C293.6,49.6 294.6,47.2 294.1,44.8C293.6,42.4 291.7,39.7 289.8,37.6C287.9,35.4 284.7,33.5 282.6,31.8C280.6,30.2 278.6,29.1 277.6,27.5C276.6,26.0 276.4,24.4 276.6,22.5Z" fill="#80cdc1"/><path d="M375.7,-0.1C375.6,-4.4 370.4,-10.6 375.7,-12.7C381.0,-14.8 402.0,-15.3 407.3,-12.7C412.6,-10.1 407.2,-0.7 407.3,3.1C407.4,6.9 408.3,7.9 408.0,10.3C407.8,12.7 407.0,15.4 405.9,17.5C404.8,19.5 403.5,21.4 401.6,22.5C399.6,23.6 397.0,24.1 394.4,23.9C391.7,23.8 388.4,22.6 385.8,21.8C383.1,20.9 380.2,20.3 378.6,18.9C376.9,17.5 376.5,16.3 376.0,13.2C375.5,10.0 375.7,4.2 375.7,-0.1Z" fill="#80cdc1"/><path d="M442.0,16.9C442.8,16.0 445.8,15.1 447.8,15.4C449.7,15.8 451.9,17.5 453.5,19.0C455.2,20.6 456.4,23.4 457.9,24.8C459.3,26.2 461.1,26.6 462.2,27.7C463.3,28.8 464.4,30.2 464.4,31.3C464.4,32.4 463.3,33.9 462.2,34.2C461.1,34.4 459.6,33.8 457.9,32.7C456.2,31.7 454.0,29.3 452.1,27.7C450.2,26.1 447.9,24.6 446.3,23.4C444.8,22.2 443.4,21.6 442.7,20.5C442.0,19.4 441.2,17.7 442.0,16.9Z" fill="#80cdc1"/><path d="M541.6,59.5C543.8,58.0 546.2,56.1 548.8,55.1C551.5,54.2 554.8,53.8 557.5,53.7C560.1,53.6 562.3,53.7 564.7,54.4C567.1,55.1 569.5,56.4 571.9,58.0C574.3,59.6 576.7,61.9 579.2,63.8C581.6,65.7 584.2,67.6 586.4,69.6C588.5,71.5 590.5,73.4 592.1,75.3C593.8,77.3 595.3,78.9 596.5,81.1C597.7,83.3 598.8,85.9 599.4,88.3C600.0,90.7 599.6,92.9 600.1,95.5C600.6,98.2 601.4,101.6 602.3,104.2C603.1,106.9 604.2,108.8 605.1,111.4C606.1,114.1 607.8,117.0 608.0,120.1C608.3,123.2 607.1,125.1 606.6,130.2C606.1,135.2 615.2,147.0 605.1,150.4C595.0,153.8 555.8,153.3 545.9,150.4C536.1,147.5 546.7,137.2 545.9,133.1C545.2,129.0 543.5,128.0 541.6,125.9C539.7,123.7 536.6,122.0 534.4,120.1C532.2,118.2 530.5,116.2 528.6,114.3C526.7,112.4 524.8,110.0 522.8,108.5C520.9,107.1 518.8,106.9 517.1,105.7C515.4,104.4 513.3,102.8 512.7,101.3C512.1,99.9 512.5,98.1 513.5,97.0C514.4,95.9 517.0,95.8 518.5,94.8C520.1,93.9 521.9,93.0 522.8,91.2C523.8,89.4 523.7,86.4 524.3,84.0C524.9,81.6 525.5,79.2 526.5,76.8C527.4,74.4 528.5,71.7 530.1,69.6C531.6,67.4 533.9,65.5 535.8,63.8C537.8,62.1 539.4,60.9 541.6,59.5Z" fill="#dfc27d"/><path d="M620.3,55.1C620.7,54.3 622.1,53.2 623.2,53.0C624.3,52.8 626.1,53.2 626.8,54.0C627.5,54.7 628.0,56.5 627.5,57.3C627.0,58.1 625.0,58.7 623.9,58.7C622.8,58.8 621.3,58.3 620.7,57.7C620.1,57.1 619.9,55.9 620.3,55.1Z" fill="#dfc27d"/><path d="M630.0,52.2C630.8,51.4 634.5,50.7 635.5,51.5C636.4,52.4 636.3,56.4 635.5,57.3C634.6,58.1 631.3,57.4 630.4,56.6C629.5,55.7 629.1,53.1 630.0,52.2Z" fill="#dfc27d"/><path d="M291.3,27.5C291.5,25.6 292.4,24.7 294.1,23.2C295.8,21.8 298.9,20.0 301.3,18.9C303.7,17.8 306.2,17.2 308.5,16.7C310.8,16.3 313.2,15.7 315.0,16.0C316.8,16.4 318.2,17.2 319.3,18.9C320.4,20.6 320.6,23.5 321.4,26.1C322.3,28.7 323.6,32.1 324.3,34.7C325.0,37.3 325.6,39.5 325.7,41.9C325.9,44.3 324.3,47.4 325.0,49.1C325.7,50.8 328.0,51.2 330.1,52.0C332.1,52.7 334.6,52.9 337.2,53.4C339.9,53.9 343.2,53.9 345.9,54.8C348.5,55.8 351.1,57.5 353.0,59.1C355.0,60.8 356.3,62.7 357.4,64.9C358.4,67.0 359.3,69.9 359.5,72.1C359.8,74.2 359.9,76.3 358.8,77.8C357.7,79.4 355.2,80.5 353.0,81.4C350.9,82.4 348.5,83.2 345.9,83.6C343.2,83.9 339.9,83.1 337.2,83.6C334.6,84.1 332.4,85.3 330.1,86.4C327.7,87.6 324.8,89.3 322.9,90.8C321.0,92.2 319.5,93.4 318.6,95.1C317.6,96.7 318.3,99.1 317.1,100.8C315.9,102.5 313.8,104.2 311.4,105.1C309.0,106.1 305.6,106.4 302.7,106.6C299.9,106.7 296.5,105.8 294.1,105.8C291.7,105.8 290.4,106.7 288.4,106.6C286.3,106.4 283.1,106.6 281.9,105.1C280.7,103.7 281.1,100.3 281.2,97.9C281.3,95.5 281.9,93.2 282.6,90.8C283.3,88.4 284.9,86.0 285.5,83.6C286.1,81.2 285.7,78.8 286.2,76.4C286.7,74.0 287.3,71.4 288.4,69.2C289.5,67.0 291.3,65.6 292.7,63.5C294.1,61.3 296.0,58.7 297.0,56.3C298.0,53.9 298.7,51.5 298.4,49.1C298.2,46.7 296.5,44.3 295.6,41.9C294.6,39.5 293.4,37.1 292.7,34.7C292.0,32.3 291.0,29.4 291.3,27.5Z" fill="#35978f"/><path d="M299.9,112.3C301.1,111.0 305.6,107.8 308.5,106.6C311.4,105.4 314.2,104.9 317.1,105.1C320.0,105.4 323.1,106.9 325.7,108.0C328.4,109.1 332.2,110.4 332.9,111.6C333.6,112.8 332.2,114.5 330.1,115.2C327.9,115.9 323.6,115.9 320.0,115.9C316.4,115.9 311.6,115.4 308.5,115.2C305.4,114.9 302.7,114.9 301.3,114.5C299.9,114.0 298.7,113.6 299.9,112.3Z" fill="#35978f"/><path d="M286.9,127.0C288.0,125.5 292.6,125.3 293.8,126.7C295.0,128.0 295.2,133.6 294.1,135.0C293.0,136.5 288.4,136.6 287.2,135.3C286.0,134.0 285.8,128.4 286.9,127.0Z" fill="#35978f"/><path d="M534.4,85.4C534.8,83.8 535.4,81.5 536.6,79.7C537.8,77.9 539.6,76.1 541.6,74.6C543.7,73.2 546.4,72.0 548.8,71.0C551.2,70.0 553.6,69.2 556.1,68.8C558.5,68.5 560.9,68.2 563.3,68.8C565.7,69.4 568.3,70.9 570.5,72.4C572.7,74.0 574.6,76.3 576.3,78.2C577.9,80.1 579.6,81.8 580.6,84.0C581.6,86.2 582.3,89.1 582.0,91.2C581.8,93.4 580.1,95.1 579.2,97.0C578.2,98.9 577.2,100.6 576.3,102.8C575.3,104.9 574.1,107.6 573.4,110.0C572.7,112.4 572.9,115.3 571.9,117.2C571.0,119.1 569.3,120.8 567.6,121.5C565.9,122.3 563.8,122.0 561.8,121.5C559.9,121.1 558.0,119.6 556.1,118.6C554.1,117.7 552.0,116.7 550.3,115.8C548.6,114.8 547.4,114.1 545.9,112.9C544.5,111.7 542.9,110.2 541.6,108.5C540.3,106.9 539.0,104.9 538.0,102.8C537.0,100.6 536.4,97.7 535.8,95.5C535.2,93.4 534.6,91.5 534.4,89.8C534.2,88.1 534.0,87.1 534.4,85.4Z" fill="#bf812d"/><path d="M297.7,90.8C298.6,89.4 300.7,88.1 302.7,87.9C304.8,87.6 307.9,88.4 309.9,89.3C312.0,90.3 314.0,92.1 315.0,93.6C315.9,95.2 316.3,97.1 315.7,98.7C315.1,100.2 312.8,101.9 311.4,103.0C309.9,104.1 308.7,105.5 307.1,105.1C305.4,104.8 302.9,102.4 301.3,100.8C299.8,99.3 298.3,97.5 297.7,95.8C297.1,94.1 296.9,92.1 297.7,90.8Z" fill="#80cdc1"/><path d="M293.8,69.2C294.3,68.0 295.5,66.2 297.0,64.9C298.5,63.6 300.6,62.3 302.7,61.3C304.9,60.3 307.5,59.7 309.9,59.1C312.3,58.6 314.7,58.1 317.1,58.0C319.5,57.9 321.9,58.1 324.3,58.4C326.7,58.7 329.3,59.0 331.5,59.9C333.6,60.7 335.8,61.9 337.2,63.5C338.7,65.0 339.8,67.5 340.1,69.2C340.5,70.9 340.4,72.4 339.4,73.5C338.4,74.6 336.4,75.3 334.4,75.7C332.3,76.0 329.3,75.5 327.2,75.7C325.0,75.8 323.3,76.0 321.4,76.4C319.5,76.7 317.8,77.3 315.7,77.8C313.5,78.3 310.9,79.3 308.5,79.3C306.1,79.3 303.3,78.5 301.3,77.8C299.3,77.1 297.5,75.9 296.3,75.0C295.1,74.0 294.5,73.0 294.1,72.1C293.7,71.1 293.4,70.4 293.8,69.2Z" fill="#01665e"/><path d="M552.4,91.2C552.6,89.8 553.3,89.0 553.9,88.6C554.5,88.3 555.3,88.4 556.1,89.1C556.8,89.7 557.7,91.5 558.2,92.7C558.7,93.9 559.3,95.4 558.9,96.3C558.6,97.2 557.0,98.0 556.1,98.1C555.1,98.3 553.8,98.1 553.2,97.0C552.6,95.8 552.3,92.6 552.4,91.2Z" fill="#8c510a"/></g>
<use href="#cst"/><use href="#cst" x="633.5"/><use href="#cst" x="-633.5"/>
</g></g>
<line x1="102.1" y1="115.8" x2="118.5" y2="115.8" stroke="#484848" stroke-width="1.3" stroke-dasharray="4.3 3.6" stroke-dashoffset="0.00"/><line x1="177.8" y1="115.8" x2="277.0" y2="115.8" stroke="#484848" stroke-width="1.3" stroke-dasharray="4.3 3.6" stroke-dashoffset="4.57"/><line x1="284.4" y1="115.8" x2="293.9" y2="115.8" stroke="#484848" stroke-width="1.3" stroke-dasharray="4.3 3.6" stroke-dashoffset="0.60"/><line x1="309.0" y1="115.8" x2="312.9" y2="115.8" stroke="#484848" stroke-width="1.3" stroke-dasharray="4.3 3.6" stroke-dashoffset="1.54"/><line x1="313.6" y1="115.8" x2="594.6" y2="115.8" stroke="#484848" stroke-width="1.3" stroke-dasharray="4.3 3.6" stroke-dashoffset="6.12"/><line x1="648.7" y1="115.8" x2="735.6" y2="115.8" stroke="#484848" stroke-width="1.3" stroke-dasharray="4.3 3.6" stroke-dashoffset="1.46"/><line x1="418.8" y1="45.4" x2="418.8" y2="186.2" stroke="#484848" stroke-width="1.3" stroke-dasharray="4.3 3.6"/>
<g transform="translate(102.1,45.4)"><g clip-path="url(#pc)">
<path class="kd" d="M0.1,57.0C1.2,56.6 4.6,55.6 7.0,54.8C9.3,54.1 11.7,53.3 14.1,52.4C16.5,51.4 19.1,50.0 21.3,49.1C23.6,48.2 25.4,47.6 27.8,46.9C30.2,46.3 32.9,45.6 35.7,45.2C38.5,44.8 41.2,44.7 44.3,44.8C47.4,44.8 51.4,45.1 54.4,45.5C57.4,45.8 60.4,45.7 62.3,46.9C64.2,48.1 65.6,50.8 65.9,52.7C66.1,54.6 64.9,56.5 63.7,58.4C62.5,60.3 60.1,62.3 58.7,64.2C57.3,66.1 56.0,67.9 55.1,69.9C54.2,72.0 53.5,74.5 53.4,76.4C53.2,78.3 54.4,79.9 54.1,81.4C53.8,82.9 52.9,84.2 51.5,85.3C50.1,86.4 48.2,87.0 45.8,88.2C43.4,89.3 40.0,90.8 37.1,92.2C34.3,93.6 31.2,95.2 28.5,96.5C25.8,97.8 22.5,98.7 21.0,100.1C19.6,101.5 19.7,103.1 19.9,105.1C20.1,107.2 21.2,109.6 22.5,112.3C23.7,115.1 26.0,118.2 27.4,121.7C28.8,125.1 30.0,129.8 30.8,133.2C31.7,136.5 32.3,140.3 32.5,141.8"/><path class="kd" d="M-0.9,124.5C-0.3,125.1 1.9,126.6 2.9,128.1C4.0,129.7 5.0,131.6 5.5,133.9C6.0,136.1 5.8,140.5 5.8,141.8"/><path class="kc" d="M110.4,-1.2C110.3,0.5 109.6,5.3 109.7,8.8C109.8,12.4 110.8,17.0 111.1,20.3C111.5,23.7 112.0,25.9 111.9,29.0C111.7,32.1 111.1,35.9 110.4,39.0C109.7,42.1 108.8,45.0 107.6,47.6C106.4,50.3 104.9,52.4 103.2,54.8C101.6,57.2 99.1,59.6 97.5,62.0C95.9,64.4 94.4,66.8 93.9,69.2C93.4,71.6 93.8,73.8 94.6,76.4C95.5,79.0 97.3,82.4 98.9,85.0C100.6,87.6 102.3,90.4 104.7,92.2C107.1,94.0 109.7,95.1 113.3,95.8C116.9,96.5 121.7,96.3 126.2,96.2C130.8,96.1 136.3,95.6 140.6,95.1C144.9,94.5 149.0,93.9 152.1,92.9C155.2,92.0 157.3,90.9 159.3,89.3C161.3,87.8 163.1,85.7 164.3,83.6C165.5,81.4 166.0,79.0 166.5,76.4C167.0,73.8 167.1,70.6 167.2,67.8C167.3,64.9 167.0,62.3 167.2,59.1C167.4,56.0 168.3,52.4 168.6,49.1C169.0,45.7 169.0,42.1 169.4,39.0C169.7,35.9 169.6,33.3 170.8,30.4C172.0,27.5 174.6,24.4 176.5,21.8C178.5,19.1 180.6,16.7 182.3,14.6C184.0,12.4 185.2,10.5 186.6,8.8C188.0,7.2 189.0,5.8 190.9,4.5C192.8,3.3 196.2,2.3 198.1,1.4C200.0,0.4 201.7,-0.8 202.4,-1.2"/><path class="kc" d="M122.2,-1.2C121.9,-0.0 120.5,3.3 120.5,6.0C120.4,8.6 121.0,12.0 121.9,14.6C122.9,17.2 124.6,19.9 126.2,21.8C127.9,23.7 129.8,25.1 132.0,26.1C134.1,27.0 136.8,27.6 139.2,27.5C141.6,27.4 144.0,26.6 146.4,25.4C148.8,24.2 151.6,22.4 153.5,20.3C155.5,18.3 156.8,15.6 157.9,13.2C158.9,10.8 159.8,8.4 160.0,6.0C160.2,3.6 159.4,-0.0 159.3,-1.2"/><path class="kc" d="M258.3,-1.2C257.9,0.5 256.9,5.3 255.7,8.8C254.6,12.4 253.1,16.7 251.4,20.3C249.8,23.9 247.4,27.0 245.7,30.4C244.0,33.8 242.6,36.9 241.4,40.5C240.2,44.1 239.2,48.4 238.5,52.0C237.8,55.6 237.2,58.7 237.1,62.0C236.9,65.4 238.3,69.0 237.8,72.1C237.3,75.2 235.5,77.8 234.2,80.7C232.9,83.6 231.1,86.0 229.9,89.3C228.7,92.7 227.7,96.7 227.0,100.8C226.3,104.9 225.9,109.4 225.6,113.8C225.2,118.1 225.1,122.0 224.8,126.7C224.6,131.4 224.2,139.3 224.1,141.8"/><path class="kc" d="M275.9,26.1C278.7,25.0 281.1,24.3 284.5,23.9C287.8,23.6 292.6,23.8 296.0,23.9C299.3,24.1 302.2,24.1 304.6,24.7C307.0,25.3 308.7,26.1 310.4,27.5C312.0,29.0 313.2,30.9 314.7,33.3C316.1,35.7 317.5,39.0 319.0,41.9C320.4,44.8 322.3,47.6 323.3,50.5C324.2,53.4 324.6,56.0 324.7,59.1C324.8,62.3 324.0,66.1 324.0,69.2C324.0,72.3 325.1,75.0 324.7,77.8C324.4,80.7 323.0,84.1 321.8,86.4C320.6,88.8 318.5,90.3 317.5,92.2C316.6,94.1 317.1,96.0 316.1,97.9C315.1,99.9 313.9,101.8 311.8,103.7C309.6,105.6 306.3,107.8 303.2,109.4C300.1,111.1 296.7,112.6 293.1,113.8C289.5,114.9 285.2,116.1 281.6,116.6C278.0,117.1 274.7,117.3 271.5,116.6C268.4,115.9 265.6,114.2 262.9,112.3C260.3,110.4 257.5,107.8 255.7,105.1C253.9,102.5 252.9,99.9 252.1,96.5C251.4,93.2 251.3,88.6 251.4,85.0C251.5,81.4 252.7,78.3 252.9,75.0C253.0,71.6 251.9,68.2 252.1,64.9C252.4,61.5 253.2,57.9 254.3,54.8C255.4,51.7 257.2,49.1 258.6,46.2C260.1,43.3 261.5,40.2 262.9,37.6C264.4,35.0 265.1,32.3 267.2,30.4C269.4,28.5 273.0,27.2 275.9,26.1Z"/><path class="kc" d="M280.9,-1.2C282.9,-0.3 288.9,2.9 293.1,4.5C297.3,6.2 302.2,7.4 306.0,8.8C309.9,10.3 313.2,10.8 316.1,13.2C319.0,15.6 321.1,19.6 323.3,23.2C325.4,26.8 327.1,30.9 329.0,34.7C330.9,38.5 333.1,42.4 334.8,46.2C336.5,50.0 338.1,53.9 339.1,57.7C340.1,61.5 340.1,65.4 340.5,69.2C341.0,73.0 342.2,76.9 342.0,80.7C341.7,84.5 339.3,88.4 339.1,92.2C338.9,96.0 340.8,100.1 340.5,103.7C340.3,107.3 339.6,110.9 337.7,113.8C335.7,116.6 332.1,118.8 329.0,120.9C325.9,123.1 322.6,125.0 319.0,126.7C315.4,128.4 311.3,129.6 307.5,131.0C303.6,132.4 299.6,133.5 296.0,135.3C292.4,137.1 287.6,140.7 285.9,141.8"/><path class="kd" d="M347.7,-1.2C346.8,-0.0 343.4,3.6 342.4,6.0C341.3,8.4 340.9,10.8 341.2,13.2C341.5,15.6 342.8,17.9 344.1,20.3C345.4,22.7 347.2,25.1 349.1,27.5C351.0,29.9 353.3,32.3 355.6,34.7C357.9,37.1 360.5,39.5 362.8,41.9C365.0,44.3 367.6,46.7 369.2,49.1C370.9,51.5 371.7,53.6 372.8,56.3C373.9,58.9 374.5,62.0 375.7,64.9C376.9,67.8 378.1,71.1 380.0,73.5C381.9,75.9 384.6,77.6 387.2,79.3C389.8,80.9 392.7,82.7 395.8,83.6C398.9,84.4 402.3,84.4 405.9,84.3C409.5,84.2 413.5,83.3 417.4,82.9C421.2,82.4 425.0,82.0 428.9,81.8C432.7,81.7 436.5,82.0 440.4,82.1C444.2,82.2 448.0,82.5 451.9,82.4C455.7,82.3 459.8,82.1 463.4,81.4C466.9,80.8 470.3,79.7 473.4,78.5C476.5,77.3 479.4,75.7 482.0,74.2C484.7,72.8 486.8,71.2 489.2,69.9C491.6,68.6 493.8,67.2 496.4,66.3C499.0,65.5 501.9,64.9 505.0,64.9C508.1,64.9 511.7,66.0 515.1,66.3C518.4,66.7 522.3,67.2 525.2,67.0C528.0,66.9 531.1,65.8 532.3,65.6"/><path class="kd" d="M357.0,0.2C358.0,0.7 360.8,1.6 362.8,2.8C364.7,4.0 366.4,5.7 368.5,7.4C370.7,9.1 373.3,11.4 375.7,13.2C378.1,15.0 380.2,16.7 382.9,18.2C385.5,19.6 388.6,20.7 391.5,21.8C394.4,22.9 397.3,23.8 400.1,24.7C403.0,25.5 405.9,26.1 408.7,26.8C411.6,27.5 414.5,27.9 417.4,29.0C420.2,30.0 423.1,31.8 426.0,33.3C428.9,34.7 431.7,36.3 434.6,37.6C437.5,38.9 440.4,40.1 443.2,41.2C446.1,42.3 448.7,43.2 451.9,44.1C455.0,44.9 458.6,45.7 461.9,46.2C465.3,46.7 468.6,46.7 472.0,46.9C475.3,47.2 478.9,47.6 482.0,47.6C485.2,47.6 488.0,47.4 490.7,46.9C493.3,46.4 495.9,45.8 497.8,44.8C499.8,43.7 501.1,42.4 502.2,40.5C503.2,38.5 503.8,35.9 504.3,33.3C504.8,30.6 505.0,27.5 505.0,24.7C505.0,21.8 504.1,18.7 504.3,16.0C504.6,13.4 505.4,10.9 506.5,8.8C507.5,6.8 509.1,5.1 510.8,3.8C512.5,2.5 514.6,1.8 516.5,0.9C518.4,0.1 521.3,-0.9 522.3,-1.2"/><path class="kd" d="M431.0,6.0C431.9,6.6 434.0,8.5 436.1,9.6C438.1,10.6 440.8,11.8 443.2,12.4C445.6,13.0 448.0,13.2 450.4,13.2C452.8,13.2 455.0,12.9 457.6,12.4C460.2,12.0 463.6,11.1 466.2,10.3C468.9,9.4 471.3,8.5 473.4,7.4C475.6,6.3 477.5,5.3 479.2,3.8C480.8,2.4 482.8,-0.4 483.5,-1.2"/><path class="kd" d="M504.1,34.9C504.2,33.5 504.8,29.1 504.8,26.2C504.8,23.4 504.0,20.2 504.1,17.6C504.2,14.9 504.6,12.4 505.5,10.4C506.5,8.3 507.9,6.7 509.9,5.3C511.8,3.9 514.2,2.6 517.1,2.0C520.0,1.4 523.6,1.6 527.2,1.7C530.8,1.8 535.4,1.7 538.7,2.4C542.1,3.1 545.0,4.6 547.4,6.0C549.8,7.5 551.7,9.2 553.2,11.1C554.6,13.0 555.7,15.3 556.1,17.6C556.4,19.9 556.1,22.6 555.3,24.8C554.6,27.0 553.3,28.7 551.7,30.6C550.2,32.5 548.1,34.7 545.9,36.4C543.8,38.0 540.8,39.2 538.7,40.7C536.7,42.1 534.6,43.0 533.7,45.0C532.7,47.1 533.1,51.6 533.0,53.0"/><path class="kd" d="M525.7,66.7 L534.4,63.8"/><path class="kd" d="M536.6,141.7C536.8,140.8 537.4,138.1 538.0,136.0C538.6,133.8 540.1,131.2 540.2,128.8C540.3,126.3 539.7,123.7 538.7,121.5C537.8,119.4 536.1,117.4 534.4,115.8C532.7,114.1 530.5,113.1 528.6,111.4C526.7,109.7 524.3,107.8 522.8,105.7C521.4,103.5 520.3,101.1 520.0,98.4C519.6,95.8 520.4,92.7 520.7,89.8C521.0,86.9 520.8,83.5 521.7,81.1C522.5,78.7 523.6,76.7 525.7,75.3C527.9,74.0 531.0,73.6 534.4,73.2C537.8,72.7 542.1,72.6 545.9,72.7C549.8,72.9 553.6,73.7 557.5,73.9C561.3,74.1 565.2,74.4 569.0,74.2C572.9,73.9 576.7,73.1 580.6,72.4C584.4,71.8 588.3,71.0 592.1,70.3C596.0,69.6 600.1,69.1 603.7,68.1C607.3,67.2 610.4,65.7 613.8,64.5C617.2,63.3 620.3,62.0 623.9,60.9C627.5,59.8 633.5,58.5 635.5,58.0"/><path class="kd" d="M605.1,138.9C603.9,137.9 600.6,135.2 597.9,133.1C595.3,130.9 592.1,128.3 589.3,125.9C586.4,123.5 583.0,120.8 580.6,118.6C578.2,116.5 576.3,114.8 574.8,112.9C573.3,110.9 572.3,109.0 571.6,107.1C571.0,105.2 570.2,103.0 570.8,101.3C571.3,99.6 572.9,98.0 574.8,97.0C576.7,96.0 579.4,95.7 582.0,95.5C584.7,95.4 587.8,95.4 590.7,95.8C593.6,96.3 596.5,97.0 599.4,98.4C602.3,99.8 605.1,102.3 608.0,104.2C610.9,106.1 613.8,108.1 616.7,110.0C619.6,111.9 622.2,113.8 625.4,115.8C628.5,117.7 633.8,120.6 635.5,121.5"/>
</g></g>
<line x1="102.1" y1="45.4" x2="102.1" y2="40.2" stroke="#000" stroke-width="3.0" stroke-linecap="round"/>
<line x1="102.1" y1="186.2" x2="102.1" y2="191.4" stroke="#000" stroke-width="3.0" stroke-linecap="round"/>
<line x1="119.7" y1="45.4" x2="119.7" y2="42.5" stroke="#000" stroke-width="1.5" stroke-linecap="round"/>
<line x1="119.7" y1="186.2" x2="119.7" y2="189.1" stroke="#000" stroke-width="1.5" stroke-linecap="round"/>
<line x1="137.3" y1="45.4" x2="137.3" y2="42.5" stroke="#000" stroke-width="1.5" stroke-linecap="round"/>
<line x1="137.3" y1="186.2" x2="137.3" y2="189.1" stroke="#000" stroke-width="1.5" stroke-linecap="round"/>
<line x1="154.9" y1="45.4" x2="154.9" y2="42.5" stroke="#000" stroke-width="1.5" stroke-linecap="round"/>
<line x1="154.9" y1="186.2" x2="154.9" y2="189.1" stroke="#000" stroke-width="1.5" stroke-linecap="round"/>
<line x1="172.5" y1="45.4" x2="172.5" y2="42.5" stroke="#000" stroke-width="1.5" stroke-linecap="round"/>
<line x1="172.5" y1="186.2" x2="172.5" y2="189.1" stroke="#000" stroke-width="1.5" stroke-linecap="round"/>
<line x1="190.1" y1="45.4" x2="190.1" y2="42.5" stroke="#000" stroke-width="1.5" stroke-linecap="round"/>
<line x1="190.1" y1="186.2" x2="190.1" y2="189.1" stroke="#000" stroke-width="1.5" stroke-linecap="round"/>
<line x1="207.7" y1="45.4" x2="207.7" y2="40.2" stroke="#000" stroke-width="3.0" stroke-linecap="round"/>
<line x1="207.7" y1="186.2" x2="207.7" y2="191.4" stroke="#000" stroke-width="3.0" stroke-linecap="round"/>
<line x1="225.3" y1="45.4" x2="225.3" y2="42.5" stroke="#000" stroke-width="1.5" stroke-linecap="round"/>
<line x1="225.3" y1="186.2" x2="225.3" y2="189.1" stroke="#000" stroke-width="1.5" stroke-linecap="round"/>
<line x1="242.9" y1="45.4" x2="242.9" y2="42.5" stroke="#000" stroke-width="1.5" stroke-linecap="round"/>
<line x1="242.9" y1="186.2" x2="242.9" y2="189.1" stroke="#000" stroke-width="1.5" stroke-linecap="round"/>
<line x1="260.5" y1="45.4" x2="260.5" y2="42.5" stroke="#000" stroke-width="1.5" stroke-linecap="round"/>
<line x1="260.5" y1="186.2" x2="260.5" y2="189.1" stroke="#000" stroke-width="1.5" stroke-linecap="round"/>
<line x1="278.1" y1="45.4" x2="278.1" y2="42.5" stroke="#000" stroke-width="1.5" stroke-linecap="round"/>
<line x1="278.1" y1="186.2" x2="278.1" y2="189.1" stroke="#000" stroke-width="1.5" stroke-linecap="round"/>
<line x1="295.7" y1="45.4" x2="295.7" y2="42.5" stroke="#000" stroke-width="1.5" stroke-linecap="round"/>
<line x1="295.7" y1="186.2" x2="295.7" y2="189.1" stroke="#000" stroke-width="1.5" stroke-linecap="round"/>
<line x1="313.3" y1="45.4" x2="313.3" y2="40.2" stroke="#000" stroke-width="3.0" stroke-linecap="round"/>
<line x1="313.3" y1="186.2" x2="313.3" y2="191.4" stroke="#000" stroke-width="3.0" stroke-linecap="round"/>
<line x1="330.9" y1="45.4" x2="330.9" y2="42.5" stroke="#000" stroke-width="1.5" stroke-linecap="round"/>
<line x1="330.9" y1="186.2" x2="330.9" y2="189.1" stroke="#000" stroke-width="1.5" stroke-linecap="round"/>
<line x1="348.5" y1="45.4" x2="348.5" y2="42.5" stroke="#000" stroke-width="1.5" stroke-linecap="round"/>
<line x1="348.5" y1="186.2" x2="348.5" y2="189.1" stroke="#000" stroke-width="1.5" stroke-linecap="round"/>
<line x1="366.1" y1="45.4" x2="366.1" y2="42.5" stroke="#000" stroke-width="1.5" stroke-linecap="round"/>
<line x1="366.1" y1="186.2" x2="366.1" y2="189.1" stroke="#000" stroke-width="1.5" stroke-linecap="round"/>
<line x1="383.7" y1="45.4" x2="383.7" y2="42.5" stroke="#000" stroke-width="1.5" stroke-linecap="round"/>
<line x1="383.7" y1="186.2" x2="383.7" y2="189.1" stroke="#000" stroke-width="1.5" stroke-linecap="round"/>
<line x1="401.2" y1="45.4" x2="401.2" y2="42.5" stroke="#000" stroke-width="1.5" stroke-linecap="round"/>
<line x1="401.2" y1="186.2" x2="401.2" y2="189.1" stroke="#000" stroke-width="1.5" stroke-linecap="round"/>
<line x1="418.8" y1="45.4" x2="418.8" y2="40.2" stroke="#000" stroke-width="3.0" stroke-linecap="round"/>
<line x1="418.8" y1="186.2" x2="418.8" y2="191.4" stroke="#000" stroke-width="3.0" stroke-linecap="round"/>
<line x1="436.4" y1="45.4" x2="436.4" y2="42.5" stroke="#000" stroke-width="1.5" stroke-linecap="round"/>
<line x1="436.4" y1="186.2" x2="436.4" y2="189.1" stroke="#000" stroke-width="1.5" stroke-linecap="round"/>
<line x1="454.0" y1="45.4" x2="454.0" y2="42.5" stroke="#000" stroke-width="1.5" stroke-linecap="round"/>
<line x1="454.0" y1="186.2" x2="454.0" y2="189.1" stroke="#000" stroke-width="1.5" stroke-linecap="round"/>
<line x1="471.6" y1="45.4" x2="471.6" y2="42.5" stroke="#000" stroke-width="1.5" stroke-linecap="round"/>
<line x1="471.6" y1="186.2" x2="471.6" y2="189.1" stroke="#000" stroke-width="1.5" stroke-linecap="round"/>
<line x1="489.2" y1="45.4" x2="489.2" y2="42.5" stroke="#000" stroke-width="1.5" stroke-linecap="round"/>
<line x1="489.2" y1="186.2" x2="489.2" y2="189.1" stroke="#000" stroke-width="1.5" stroke-linecap="round"/>
<line x1="506.8" y1="45.4" x2="506.8" y2="42.5" stroke="#000" stroke-width="1.5" stroke-linecap="round"/>
<line x1="506.8" y1="186.2" x2="506.8" y2="189.1" stroke="#000" stroke-width="1.5" stroke-linecap="round"/>
<line x1="524.4" y1="45.4" x2="524.4" y2="40.2" stroke="#000" stroke-width="3.0" stroke-linecap="round"/>
<line x1="524.4" y1="186.2" x2="524.4" y2="191.4" stroke="#000" stroke-width="3.0" stroke-linecap="round"/>
<line x1="542.0" y1="45.4" x2="542.0" y2="42.5" stroke="#000" stroke-width="1.5" stroke-linecap="round"/>
<line x1="542.0" y1="186.2" x2="542.0" y2="189.1" stroke="#000" stroke-width="1.5" stroke-linecap="round"/>
<line x1="559.6" y1="45.4" x2="559.6" y2="42.5" stroke="#000" stroke-width="1.5" stroke-linecap="round"/>
<line x1="559.6" y1="186.2" x2="559.6" y2="189.1" stroke="#000" stroke-width="1.5" stroke-linecap="round"/>
<line x1="577.2" y1="45.4" x2="577.2" y2="42.5" stroke="#000" stroke-width="1.5" stroke-linecap="round"/>
<line x1="577.2" y1="186.2" x2="577.2" y2="189.1" stroke="#000" stroke-width="1.5" stroke-linecap="round"/>
<line x1="594.8" y1="45.4" x2="594.8" y2="42.5" stroke="#000" stroke-width="1.5" stroke-linecap="round"/>
<line x1="594.8" y1="186.2" x2="594.8" y2="189.1" stroke="#000" stroke-width="1.5" stroke-linecap="round"/>
<line x1="612.4" y1="45.4" x2="612.4" y2="42.5" stroke="#000" stroke-width="1.5" stroke-linecap="round"/>
<line x1="612.4" y1="186.2" x2="612.4" y2="189.1" stroke="#000" stroke-width="1.5" stroke-linecap="round"/>
<line x1="630.0" y1="45.4" x2="630.0" y2="40.2" stroke="#000" stroke-width="3.0" stroke-linecap="round"/>
<line x1="630.0" y1="186.2" x2="630.0" y2="191.4" stroke="#000" stroke-width="3.0" stroke-linecap="round"/>
<line x1="647.6" y1="45.4" x2="647.6" y2="42.5" stroke="#000" stroke-width="1.5" stroke-linecap="round"/>
<line x1="647.6" y1="186.2" x2="647.6" y2="189.1" stroke="#000" stroke-width="1.5" stroke-linecap="round"/>
<line x1="665.2" y1="45.4" x2="665.2" y2="42.5" stroke="#000" stroke-width="1.5" stroke-linecap="round"/>
<line x1="665.2" y1="186.2" x2="665.2" y2="189.1" stroke="#000" stroke-width="1.5" stroke-linecap="round"/>
<line x1="682.8" y1="45.4" x2="682.8" y2="42.5" stroke="#000" stroke-width="1.5" stroke-linecap="round"/>
<line x1="682.8" y1="186.2" x2="682.8" y2="189.1" stroke="#000" stroke-width="1.5" stroke-linecap="round"/>
<line x1="700.4" y1="45.4" x2="700.4" y2="42.5" stroke="#000" stroke-width="1.5" stroke-linecap="round"/>
<line x1="700.4" y1="186.2" x2="700.4" y2="189.1" stroke="#000" stroke-width="1.5" stroke-linecap="round"/>
<line x1="718.0" y1="45.4" x2="718.0" y2="42.5" stroke="#000" stroke-width="1.5" stroke-linecap="round"/>
<line x1="718.0" y1="186.2" x2="718.0" y2="189.1" stroke="#000" stroke-width="1.5" stroke-linecap="round"/>
<line x1="735.6" y1="45.4" x2="735.6" y2="40.2" stroke="#000" stroke-width="3.0" stroke-linecap="round"/>
<line x1="735.6" y1="186.2" x2="735.6" y2="191.4" stroke="#000" stroke-width="3.0" stroke-linecap="round"/>
<line x1="102.1" y1="168.6" x2="96.9" y2="168.6" stroke="#000" stroke-width="3.0" stroke-linecap="round"/>
<line x1="735.6" y1="168.6" x2="740.8" y2="168.6" stroke="#000" stroke-width="3.0" stroke-linecap="round"/>
<line x1="102.1" y1="151.0" x2="99.2" y2="151.0" stroke="#000" stroke-width="1.5" stroke-linecap="round"/>
<line x1="735.6" y1="151.0" x2="738.5" y2="151.0" stroke="#000" stroke-width="1.5" stroke-linecap="round"/>
<line x1="102.1" y1="133.4" x2="99.2" y2="133.4" stroke="#000" stroke-width="1.5" stroke-linecap="round"/>
<line x1="735.6" y1="133.4" x2="738.5" y2="133.4" stroke="#000" stroke-width="1.5" stroke-linecap="round"/>
<line x1="102.1" y1="115.8" x2="96.9" y2="115.8" stroke="#000" stroke-width="3.0" stroke-linecap="round"/>
<line x1="735.6" y1="115.8" x2="740.8" y2="115.8" stroke="#000" stroke-width="3.0" stroke-linecap="round"/>
<line x1="102.1" y1="98.2" x2="99.2" y2="98.2" stroke="#000" stroke-width="1.5" stroke-linecap="round"/>
<line x1="735.6" y1="98.2" x2="738.5" y2="98.2" stroke="#000" stroke-width="1.5" stroke-linecap="round"/>
<line x1="102.1" y1="80.6" x2="99.2" y2="80.6" stroke="#000" stroke-width="1.5" stroke-linecap="round"/>
<line x1="735.6" y1="80.6" x2="738.5" y2="80.6" stroke="#000" stroke-width="1.5" stroke-linecap="round"/>
<line x1="102.1" y1="63.0" x2="96.9" y2="63.0" stroke="#000" stroke-width="3.0" stroke-linecap="round"/>
<line x1="735.6" y1="63.0" x2="740.8" y2="63.0" stroke="#000" stroke-width="3.0" stroke-linecap="round"/>
<rect x="102.1" y="45.4" width="633.5" height="140.8" fill="none" stroke="#000" stroke-width="3.3"/>
<text class="t34" id="t1" x="99.5" y="37.2" textLength="267.2" lengthAdjust="spacingAndGlyphs">16-Mar to 20-Mar</text>
<text class="tk" x="73.5" y="75.4" text-anchor="end">30N</text>
<text class="tk" x="73.5" y="128.2" text-anchor="end">0</text>
<text class="tk" x="73.5" y="181.0" text-anchor="end">30S</text>
<g transform="translate(102.1,260.1)"><g clip-path="url(#pc)">
<rect x="0" y="0" width="633.5" height="140.8" fill="#f5f5f5"/>
<g filter="url(#sm)"><path d="M20.6,-8.1C15.1,-5.5 20.3,3.6 19.9,7.7C19.5,11.8 18.5,13.6 18.2,16.3C17.8,19.1 17.5,22.0 17.9,24.2C18.3,26.5 19.2,28.5 20.6,30.0C22.0,31.5 24.2,32.7 26.4,33.3C28.5,33.9 31.3,34.1 33.5,33.6C35.8,33.1 38.2,32.0 39.7,30.4C41.3,28.9 42.3,26.5 42.9,24.2C43.5,22.0 42.6,18.8 43.2,17.0C43.8,15.3 45.0,14.5 46.5,13.5C48.0,12.4 51.0,12.0 52.2,10.6C53.4,9.1 53.5,7.9 53.7,4.8C53.8,1.7 58.5,-5.9 52.9,-8.1C47.4,-10.3 26.1,-10.7 20.6,-8.1Z" fill="#c7eae5"/><path d="M-8.8,35.0C-7.4,29.5 -2.3,34.8 0.1,35.0C2.5,35.3 4.3,35.5 5.5,36.4C6.8,37.4 7.7,39.3 7.7,40.8C7.7,42.2 5.2,44.0 5.5,45.1C5.9,46.1 7.9,47.0 9.8,47.2C11.7,47.5 14.7,46.3 17.0,46.5C19.3,46.7 22.0,47.5 23.5,48.7C24.9,49.9 25.4,51.7 25.6,53.7C25.9,55.7 25.6,58.8 24.9,60.9C24.2,62.9 23.1,65.2 21.3,65.9C19.5,66.6 16.3,65.6 14.1,65.2C12.0,64.8 10.1,63.5 8.4,63.8C6.7,64.0 5.5,65.9 4.1,66.6C2.7,67.3 2.2,67.8 0.1,68.1C-2.1,68.3 -7.4,73.6 -8.8,68.1C-10.3,62.6 -10.3,40.5 -8.8,35.0Z" fill="#f6e8c3"/><path d="M-8.8,97.5C-7.4,93.1 -2.3,96.9 0.1,97.5C2.5,98.1 3.7,99.3 5.5,101.1C7.4,102.9 9.6,105.9 11.3,108.3C12.9,110.7 14.6,113.3 15.6,115.5C16.5,117.6 17.7,120.0 17.0,121.2C16.3,122.4 13.2,122.3 11.3,122.7C9.4,123.0 7.4,123.2 5.5,123.4C3.7,123.6 2.5,124.0 0.1,124.1C-2.3,124.2 -7.4,128.5 -8.8,124.1C-10.3,119.7 -10.3,102.0 -8.8,97.5Z" fill="#f6e8c3"/><path d="M63.3,92.5C64.0,92.1 67.7,92.6 68.8,93.2C69.8,93.8 70.2,95.7 69.5,96.1C68.8,96.5 65.5,96.3 64.4,95.7C63.4,95.1 62.6,92.9 63.3,92.5Z" fill="#c7eae5"/><path d="M79.5,-13.8C44.7,-11.5 79.9,-3.1 79.5,0.2C79.2,3.6 78.7,4.3 77.4,6.3C76.1,8.2 73.2,10.2 71.6,12.0C70.1,13.8 68.5,15.1 68.0,17.0C67.6,19.0 67.9,21.2 68.8,23.5C69.6,25.8 71.6,28.5 73.1,30.7C74.5,32.9 75.7,34.9 77.4,36.4C79.1,38.0 81.2,39.0 83.1,40.0C85.0,41.1 87.7,41.4 88.9,42.9C90.1,44.5 90.3,47.1 90.3,49.4C90.3,51.7 89.0,54.2 88.9,56.6C88.8,59.0 89.4,61.1 89.6,63.8C89.8,66.4 90.0,69.7 90.3,72.4C90.7,75.0 90.6,77.4 91.7,79.6C92.9,81.7 95.6,83.4 97.5,85.3C99.4,87.2 101.1,89.4 103.2,91.1C105.4,92.7 107.8,94.2 110.4,95.4C113.1,96.6 116.4,97.0 119.1,98.2C121.7,99.4 123.8,100.9 126.2,102.6C128.6,104.2 131.0,106.4 133.4,108.3C135.8,110.2 138.2,112.1 140.6,114.1C143.0,116.0 145.4,118.1 147.8,119.8C150.2,121.5 152.6,122.9 155.0,124.1C157.4,125.3 160.2,126.3 162.2,127.0C164.1,127.7 164.2,127.9 166.6,128.4C169.1,128.9 173.8,130.1 176.7,129.9C179.6,129.6 181.7,127.0 183.9,127.0C186.0,127.0 187.2,129.0 189.6,129.9C192.0,130.7 195.6,132.0 198.3,132.0C200.9,132.0 203.5,130.9 205.4,129.9C207.4,128.8 208.1,126.9 209.8,125.5C211.4,124.2 213.8,122.8 215.5,122.0C217.2,121.1 218.1,120.9 219.8,120.5C221.5,120.2 223.9,120.6 225.6,119.8C227.2,119.0 228.2,116.7 229.9,115.5C231.6,114.3 233.5,113.3 235.6,112.6C237.8,111.9 240.9,112.1 242.8,111.2C244.7,110.2 245.7,108.5 247.1,106.9C248.6,105.2 250.2,103.0 251.4,101.1C252.6,99.2 253.6,97.3 254.3,95.4C255.0,93.5 255.0,91.8 255.7,89.6C256.5,87.5 257.4,84.4 258.6,82.4C259.8,80.5 261.5,79.1 262.9,78.1C264.4,77.2 265.3,77.6 267.2,76.7C269.2,75.7 272.5,74.1 274.4,72.4C276.3,70.7 277.3,68.5 278.7,66.6C280.2,64.7 281.8,63.0 283.0,60.9C284.2,58.7 285.2,56.1 285.9,53.7C286.6,51.3 286.9,48.9 287.4,46.5C287.8,44.1 288.3,41.7 288.8,39.3C289.3,36.9 290.2,34.8 290.2,32.1C290.2,29.5 289.3,26.4 288.8,23.5C288.3,20.6 287.5,17.8 287.4,14.9C287.2,12.0 287.8,11.1 288.1,6.3C288.3,1.5 323.6,-10.5 288.8,-13.8C254.0,-17.2 114.4,-16.2 79.5,-13.8Z" fill="#f6e8c3"/><path d="M203.3,112.6C203.8,111.2 207.2,111.2 209.8,111.2C212.3,111.2 216.0,111.9 218.4,112.6C220.8,113.3 223.4,114.3 224.1,115.5C224.8,116.7 224.1,118.8 222.7,119.8C221.3,120.8 218.1,121.2 215.5,121.2C212.9,121.2 208.9,121.2 206.9,119.8C204.8,118.4 202.8,114.1 203.3,112.6Z" fill="#f6e8c3"/><path d="M277.9,150.0C243.8,148.3 276.7,143.0 277.9,139.9C279.1,136.8 282.7,133.9 285.1,131.3C287.5,128.7 290.4,126.5 292.3,124.1C294.2,121.7 296.3,119.1 296.6,116.9C296.8,114.8 294.8,113.3 293.7,111.2C292.6,109.0 291.1,106.6 290.1,104.0C289.2,101.4 288.7,98.5 288.0,95.4C287.2,92.3 286.3,88.4 285.8,85.3C285.3,82.2 284.2,79.6 285.1,76.7C285.9,73.8 288.7,70.9 290.8,68.1C293.0,65.2 295.9,62.6 298.0,59.4C300.2,56.3 302.0,52.7 303.8,49.4C305.6,46.0 307.4,42.7 308.8,39.3C310.2,36.0 311.1,32.9 312.4,29.3C313.7,25.7 315.3,21.4 316.7,17.8C318.1,14.2 319.6,13.0 321.0,7.7C322.4,2.4 306.4,-10.3 325.3,-13.8C344.2,-17.4 416.1,-17.2 434.5,-13.8C453.0,-10.5 435.0,1.2 436.0,6.3C436.9,11.3 438.9,13.0 440.3,16.3C441.7,19.7 443.2,23.0 444.6,26.4C446.0,29.7 447.6,33.1 448.9,36.4C450.2,39.8 451.5,43.2 452.5,46.5C453.5,49.9 454.2,53.7 454.7,56.6C455.1,59.4 455.9,61.8 455.4,63.8C454.9,65.7 451.9,66.4 451.8,68.1C451.7,69.7 453.9,71.7 454.7,73.8C455.4,76.0 455.1,78.4 456.1,81.0C457.1,83.6 459.5,87.2 460.4,89.6C461.4,92.0 462.3,93.5 461.8,95.4C461.4,97.3 458.9,99.2 457.5,101.1C456.2,103.0 454.7,104.7 453.9,106.9C453.2,109.0 452.4,112.1 453.2,114.1C454.1,116.0 456.3,117.2 459.0,118.4C461.6,119.6 465.9,119.8 469.0,121.2C472.1,122.7 475.5,124.8 477.7,127.0C479.8,129.1 481.1,130.3 482.0,134.2C482.8,138.0 516.7,147.3 482.7,150.0C448.7,152.6 312.0,151.7 277.9,150.0Z" fill="#c7eae5"/><path d="M514.2,95.8C514.7,94.2 516.8,92.0 518.5,91.5C520.2,91.0 522.4,91.8 524.3,93.0C526.2,94.2 528.1,97.1 530.1,98.7C532.0,100.4 533.7,101.9 535.8,103.1C538.0,104.3 540.9,104.7 543.1,106.0C545.2,107.2 547.4,108.6 548.8,110.3C550.3,112.0 552.0,114.1 551.7,116.1C551.5,118.0 549.1,120.4 547.4,121.8C545.7,123.3 543.5,124.7 541.6,124.7C539.7,124.7 537.5,123.3 535.8,121.8C534.2,120.4 533.2,118.0 531.5,116.1C529.8,114.1 527.7,112.0 525.7,110.3C523.8,108.6 521.6,107.4 520.0,106.0C518.3,104.5 516.6,103.3 515.6,101.6C514.7,99.9 513.7,97.5 514.2,95.8Z" fill="#c7eae5"/><path d="M537.3,-13.9C518.8,-10.5 539.2,1.8 538.7,6.3C538.2,10.9 536.1,11.1 534.4,13.6C532.7,16.0 530.5,18.6 528.6,20.8C526.7,22.9 525.3,25.1 522.8,26.5C520.4,28.0 517.1,28.7 514.2,29.4C511.3,30.2 507.7,29.9 505.5,30.9C503.4,31.8 502.2,33.3 501.2,35.2C500.2,37.1 500.1,40.0 499.7,42.4C499.4,44.8 499.4,47.2 499.0,49.6C498.7,52.1 497.7,54.5 497.6,56.9C497.5,59.3 497.2,62.4 498.3,64.1C499.4,65.8 501.9,66.7 504.1,67.0C506.2,67.2 508.9,65.0 511.3,65.5C513.7,66.0 516.1,68.7 518.5,69.9C520.9,71.1 523.1,71.5 525.7,72.7C528.4,74.0 531.7,75.6 534.4,77.1C537.0,78.5 539.2,80.0 541.6,81.4C544.0,82.9 546.4,84.3 548.8,85.7C551.2,87.2 553.6,88.9 556.1,90.1C558.5,91.3 561.1,92.4 563.3,93.0C565.4,93.6 567.1,93.9 569.0,93.7C571.0,93.4 572.7,92.4 574.8,91.5C577.0,90.7 579.6,89.4 582.0,88.6C584.4,87.9 586.9,87.7 589.3,87.2C591.7,86.7 594.3,86.2 596.5,85.7C598.6,85.3 600.8,85.5 602.3,84.3C603.7,83.1 603.7,79.7 605.1,78.5C606.6,77.3 608.3,77.6 610.9,77.1C613.6,76.6 618.1,76.1 621.0,75.6C623.9,75.2 626.2,74.7 628.2,74.2C630.3,73.7 629.8,73.0 633.4,72.7C637.0,72.5 647.2,87.2 649.9,72.7C652.6,58.3 668.7,0.6 649.9,-13.9C631.1,-28.3 555.8,-17.2 537.3,-13.9Z" fill="#f6e8c3"/><path d="M626.8,98.7C627.8,97.4 629.6,98.1 633.4,98.0C637.3,97.9 647.2,95.2 649.9,98.0C652.6,100.8 652.6,111.8 649.9,114.6C647.2,117.4 636.8,115.1 633.4,114.6C630.1,114.1 630.7,113.2 629.7,111.7C628.7,110.3 628.0,108.1 627.5,106.0C627.0,103.8 625.8,100.1 626.8,98.7Z" fill="#f6e8c3"/><path d="M178.9,28.5C179.6,27.1 183.0,26.6 185.3,26.4C187.6,26.2 190.4,26.5 192.5,27.1C194.7,27.7 197.2,28.8 198.3,30.0C199.3,31.2 199.7,33.2 199.0,34.3C198.3,35.4 196.0,35.9 193.9,36.4C191.9,37.0 188.9,38.1 186.8,37.9C184.6,37.6 182.3,36.6 181.0,35.0C179.7,33.5 178.1,30.0 178.9,28.5Z" fill="#f5f5f5"/><path d="M162.3,76.7C162.8,75.3 164.7,73.8 166.6,73.1C168.6,72.4 171.4,72.0 173.8,72.4C176.2,72.7 179.1,73.8 181.0,75.3C182.9,76.7 185.1,79.3 185.3,81.0C185.6,82.7 184.1,84.4 182.4,85.3C180.8,86.3 177.7,86.7 175.3,86.7C172.9,86.7 170.0,86.1 168.1,85.3C166.2,84.5 164.7,83.2 163.8,81.7C162.8,80.3 161.9,78.1 162.3,76.7Z" fill="#f5f5f5"/><path d="M180.3,105.4C180.8,104.1 183.3,102.6 185.3,101.8C187.4,101.1 190.4,100.9 192.5,101.1C194.7,101.4 197.1,102.1 198.3,103.3C199.5,104.5 199.7,106.3 199.7,108.3C199.7,110.3 198.0,113.3 198.3,115.5C198.5,117.6 201.1,119.6 201.1,121.2C201.1,122.9 199.7,125.5 198.3,125.5C196.8,125.5 194.2,123.2 192.5,121.2C190.8,119.3 189.9,116.0 188.2,114.1C186.5,112.1 183.8,111.2 182.4,109.7C181.1,108.3 179.8,106.7 180.3,105.4Z" fill="#f5f5f5"/><path d="M24.9,20.6C25.5,19.4 26.8,18.1 27.8,17.8C28.8,17.4 30.5,17.6 31.1,18.5C31.7,19.3 31.7,21.4 31.4,22.8C31.1,24.2 30.1,26.3 29.2,27.1C28.4,27.9 27.2,28.2 26.4,27.8C25.6,27.5 24.7,26.2 24.5,25.0C24.3,23.8 24.4,21.8 24.9,20.6Z" fill="#80cdc1"/><path d="M99.7,19.2C100.4,18.2 104.1,17.5 106.1,17.8C108.2,18.0 110.2,19.8 111.9,20.6C113.5,21.5 115.7,22.0 116.2,22.8C116.7,23.6 116.2,25.2 114.7,25.7C113.3,26.2 109.7,26.0 107.6,25.7C105.4,25.3 103.1,24.6 101.8,23.5C100.5,22.4 98.9,20.2 99.7,19.2Z" fill="#dfc27d"/><path d="M122.6,14.9C122.6,12.7 123.5,9.9 124.8,7.7C126.1,5.6 129.4,5.6 130.5,2.0C131.7,-1.6 113.5,-11.2 132.0,-13.8C150.4,-16.5 223.0,-17.9 241.2,-13.8C259.4,-9.8 246.0,6.7 241.2,10.6C236.4,14.4 218.7,9.6 212.5,9.1C206.2,8.7 206.7,7.7 203.8,7.7C201.0,7.7 198.1,8.4 195.2,9.1C192.3,9.9 189.5,11.3 186.6,12.0C183.7,12.7 180.8,13.0 178.0,13.5C175.1,13.9 172.2,14.4 169.4,14.9C166.5,15.4 163.4,15.6 160.7,16.3C158.1,17.0 155.5,17.8 153.5,19.2C151.6,20.6 149.5,22.8 149.2,25.0C149.0,27.1 151.9,30.0 152.1,32.1C152.3,34.3 151.6,36.3 150.7,37.9C149.7,39.4 148.0,41.0 146.4,41.5C144.7,42.0 142.5,41.1 140.6,40.8C138.7,40.4 136.5,40.5 134.9,39.3C133.2,38.1 131.7,35.7 130.5,33.6C129.4,31.4 128.6,28.5 127.7,26.4C126.7,24.2 125.6,22.6 124.8,20.6C124.0,18.7 122.6,17.0 122.6,14.9Z" fill="#dfc27d"/><path d="M122.6,46.5C122.9,44.4 124.7,42.0 126.2,40.8C127.8,39.6 130.5,38.8 132.0,39.3C133.4,39.8 134.0,42.0 134.9,43.6C135.7,45.3 136.1,47.5 137.0,49.4C138.0,51.3 139.3,54.7 140.6,55.1C141.9,55.6 144.0,53.7 144.9,52.3C145.9,50.8 145.4,47.9 146.4,46.5C147.3,45.1 149.0,43.8 150.7,43.6C152.3,43.5 154.5,44.6 156.4,45.8C158.3,47.0 160.8,49.0 162.2,50.8C163.5,52.6 164.3,54.7 164.3,56.6C164.3,58.5 163.5,60.9 162.2,62.3C160.8,63.8 158.1,64.0 156.4,65.2C154.7,66.4 152.7,67.6 152.1,69.5C151.5,71.4 152.9,74.3 152.8,76.7C152.7,79.1 152.5,82.0 151.4,83.9C150.3,85.8 148.4,87.1 146.4,88.2C144.3,89.3 141.6,90.1 139.2,90.3C136.8,90.6 134.6,90.2 132.0,89.6C129.4,89.0 126.2,87.7 123.4,86.7C120.5,85.8 117.4,85.1 114.7,83.9C112.1,82.7 109.2,81.2 107.6,79.6C105.9,77.9 104.7,75.7 104.7,73.8C104.7,71.9 106.1,69.6 107.6,68.1C109.0,66.5 111.1,65.4 113.3,64.5C115.5,63.5 118.3,63.2 120.5,62.3C122.6,61.5 125.5,60.9 126.2,59.4C127.0,58.0 125.4,55.9 124.8,53.7C124.2,51.5 122.4,48.7 122.6,46.5Z" fill="#dfc27d"/><path d="M161.6,56.6C161.4,54.2 162.5,51.1 163.8,49.4C165.1,47.7 167.6,46.5 169.5,46.5C171.4,46.5 173.3,47.9 175.3,49.4C177.2,50.8 179.8,53.2 181.0,55.1C182.2,57.0 182.9,59.2 182.4,60.9C182.0,62.6 180.1,64.2 178.1,65.2C176.2,66.1 173.1,66.9 171.0,66.6C168.8,66.4 166.8,65.4 165.2,63.8C163.6,62.1 161.9,59.0 161.6,56.6Z" fill="#dfc27d"/><path d="M203.3,-13.8C193.5,-10.5 202.2,1.7 202.6,6.3C202.9,10.8 204.2,11.1 205.4,13.5C206.6,15.9 208.3,18.2 209.8,20.6C211.2,23.0 212.6,25.7 214.1,27.8C215.5,30.0 218.1,31.7 218.4,33.6C218.6,35.5 216.9,37.9 215.5,39.3C214.1,40.8 211.9,41.0 209.8,42.2C207.6,43.4 204.7,45.1 202.6,46.5C200.4,47.9 198.0,49.4 196.8,50.8C195.6,52.3 194.9,53.7 195.4,55.1C195.9,56.6 197.8,58.2 199.7,59.4C201.6,60.6 204.2,61.6 206.9,62.3C209.5,63.0 212.6,63.5 215.5,63.8C218.4,64.0 221.5,63.5 224.1,63.8C226.8,64.0 228.9,64.6 231.3,65.2C233.7,65.8 235.9,66.9 238.5,67.3C241.1,67.8 244.2,68.2 247.1,68.1C250.0,67.9 252.9,67.1 255.7,66.6C258.6,66.1 261.5,65.7 264.4,65.2C267.2,64.7 270.4,64.5 273.0,63.8C275.6,63.0 278.3,62.3 280.2,60.9C282.1,59.4 283.5,57.3 284.5,55.1C285.4,53.0 286.2,50.3 285.9,47.9C285.7,45.6 284.2,42.9 283.0,40.8C281.8,38.6 279.7,37.2 278.7,35.0C277.8,32.9 277.4,30.2 277.3,27.8C277.2,25.4 278.3,23.0 278.0,20.6C277.8,18.2 277.2,15.6 275.9,13.5C274.5,11.3 272.0,9.4 270.1,7.7C268.2,6.0 265.8,7.0 264.4,3.4C262.9,-0.2 271.7,-11.0 261.5,-13.8C251.3,-16.7 213.1,-17.2 203.3,-13.8Z" fill="#dfc27d"/><path d="M289.4,150.0C276.5,146.9 290.6,135.8 292.3,131.3C293.9,126.7 297.8,125.3 299.5,122.7C301.1,120.0 302.3,118.1 302.3,115.5C302.3,112.9 300.4,109.7 299.5,106.9C298.5,104.0 297.8,101.6 296.6,98.2C295.4,94.9 293.5,90.1 292.3,86.7C291.1,83.4 289.5,80.8 289.4,78.1C289.3,75.5 289.9,73.6 291.6,70.9C293.2,68.3 296.9,65.4 299.5,62.3C302.0,59.2 304.5,55.6 306.6,52.3C308.8,48.9 310.7,45.6 312.4,42.2C314.1,38.8 315.3,35.7 316.7,32.1C318.1,28.5 319.3,24.5 321.0,20.6C322.7,16.8 324.8,14.9 326.8,9.1C328.7,3.4 318.7,-10.0 332.5,-13.8C346.3,-17.7 396.2,-17.4 409.4,-13.8C422.6,-10.3 410.5,2.2 411.5,7.7C412.6,13.2 414.4,15.4 415.9,19.2C417.3,23.0 419.0,27.1 420.2,30.7C421.4,34.3 421.8,37.6 423.0,40.8C424.2,43.9 426.2,46.7 427.4,49.4C428.6,52.0 430.2,53.7 430.2,56.6C430.2,59.4 427.6,63.5 427.4,66.6C427.1,69.7 429.3,72.4 428.8,75.3C428.3,78.1 425.0,80.5 424.5,83.9C424.0,87.2 426.2,91.8 425.9,95.4C425.7,99.0 423.8,102.3 423.0,105.4C422.3,108.5 422.8,111.4 421.6,114.1C420.4,116.7 418.3,119.1 415.9,121.2C413.5,123.4 410.6,125.3 407.2,127.0C403.9,128.7 399.1,130.1 395.7,131.3C392.4,132.5 390.0,133.2 387.1,134.2C384.2,135.1 381.4,134.4 378.5,137.0C375.6,139.7 384.7,147.8 369.9,150.0C355.0,152.1 302.3,153.1 289.4,150.0Z" fill="#80cdc1"/><path d="M413.1,35.2C414.1,22.5 417.2,34.2 418.9,35.2C420.6,36.2 422.0,38.6 423.2,41.0C424.4,43.4 425.4,47.0 426.1,49.6C426.8,52.3 427.7,54.2 427.6,56.9C427.4,59.5 425.6,62.6 425.4,65.5C425.2,68.4 426.2,71.1 426.1,74.2C426.0,77.3 424.7,81.2 424.7,84.3C424.7,87.4 426.0,90.1 426.1,93.0C426.2,95.8 426.1,99.2 425.4,101.6C424.7,104.0 422.9,105.7 421.8,107.4C420.7,109.1 420.3,111.0 418.9,111.7C417.5,112.4 414.1,124.5 413.1,111.7C412.2,99.0 412.2,48.0 413.1,35.2Z" fill="#80cdc1"/><path d="M574.8,-13.9C561.6,-10.3 571.5,3.0 570.5,7.8C569.5,12.6 569.5,12.4 569.0,15.0C568.6,17.6 569.0,21.3 567.6,23.7C566.2,26.1 562.5,27.3 560.4,29.4C558.2,31.6 555.8,34.0 554.6,36.7C553.4,39.3 553.2,42.7 553.2,45.3C553.2,48.0 555.1,50.1 554.6,52.5C554.1,54.9 551.2,57.3 550.3,59.8C549.3,62.2 548.8,64.6 548.8,67.0C548.8,69.4 549.1,72.3 550.3,74.2C551.5,76.1 553.9,77.7 556.1,78.5C558.2,79.4 560.9,79.5 563.3,79.2C565.7,79.0 568.6,78.2 570.5,77.1C572.4,76.0 573.1,74.2 574.8,72.7C576.5,71.3 578.2,69.6 580.6,68.4C583.0,67.2 586.1,66.3 589.3,65.5C592.4,64.8 596.0,64.4 599.4,64.1C602.7,63.7 605.9,63.6 609.5,63.4C613.1,63.1 617.0,63.0 621.0,62.6C625.0,62.3 628.6,61.4 633.4,61.2C638.2,61.0 647.2,73.7 649.9,61.2C652.6,48.7 662.4,-1.4 649.9,-13.9C637.4,-26.4 588.1,-17.5 574.8,-13.9Z" fill="#dfc27d"/><path d="M217.7,-13.8C211.0,-10.7 217.3,1.0 218.4,4.8C219.5,8.7 222.2,7.7 224.1,9.1C226.0,10.6 228.7,11.5 229.9,13.5C231.1,15.4 231.8,18.0 231.3,20.6C230.8,23.3 228.4,26.4 227.0,29.3C225.6,32.1 223.9,35.0 222.7,37.9C221.5,40.8 220.2,43.9 219.8,46.5C219.5,49.1 219.8,51.5 220.5,53.7C221.3,55.9 222.3,57.8 224.1,59.4C225.9,61.1 228.9,62.7 231.3,63.8C233.7,64.8 235.9,65.7 238.5,65.9C241.1,66.1 244.7,66.0 247.1,65.2C249.5,64.4 251.2,61.8 252.9,60.9C254.5,59.9 255.5,59.2 257.2,59.4C258.9,59.7 260.8,61.7 262.9,62.3C265.1,62.9 268.1,63.5 270.1,63.0C272.1,62.6 274.2,61.0 275.1,59.4C276.1,57.9 276.5,55.6 275.9,53.7C275.3,51.8 273.0,49.9 271.5,47.9C270.1,46.0 268.3,44.4 267.2,42.2C266.2,40.0 265.6,37.4 265.1,35.0C264.6,32.6 264.7,30.2 264.4,27.8C264.0,25.4 263.6,23.0 262.9,20.6C262.2,18.2 260.3,15.6 260.1,13.5C259.8,11.3 261.5,9.6 261.5,7.7C261.5,5.8 260.5,5.6 260.1,2.0C259.6,-1.6 265.7,-11.2 258.6,-13.8C251.5,-16.5 224.4,-17.0 217.7,-13.8Z" fill="#bf812d"/><path d="M300.9,150.0C295.6,147.6 302.3,139.2 303.8,135.6C305.2,132.0 307.8,130.8 309.5,128.4C311.2,126.0 313.3,123.6 313.8,121.2C314.3,118.8 313.3,116.7 312.4,114.1C311.4,111.4 309.3,108.5 308.1,105.4C306.9,102.3 306.4,98.7 305.2,95.4C304.0,92.0 302.3,88.4 300.9,85.3C299.5,82.2 296.6,79.3 296.6,76.7C296.6,74.1 298.5,72.4 300.9,69.5C303.3,66.6 308.1,62.8 311.0,59.4C313.8,56.1 316.0,52.7 318.1,49.4C320.3,46.0 322.2,42.7 323.9,39.3C325.6,36.0 326.8,32.9 328.2,29.3C329.6,25.7 331.1,21.4 332.5,17.8C333.9,14.2 335.4,13.0 336.8,7.7C338.3,2.4 332.7,-10.3 341.1,-13.8C349.5,-17.4 378.7,-17.4 387.1,-13.8C395.5,-10.3 389.8,2.4 391.4,7.7C393.1,13.0 395.3,14.7 397.2,17.8C399.1,20.9 401.6,23.5 402.9,26.4C404.2,29.3 405.1,32.4 405.1,35.0C405.1,37.6 403.5,39.8 402.9,42.2C402.3,44.6 401.2,47.0 401.5,49.4C401.7,51.8 403.4,53.9 404.4,56.6C405.3,59.2 406.8,62.3 407.2,65.2C407.7,68.1 407.7,71.2 407.2,73.8C406.8,76.4 405.3,78.4 404.4,81.0C403.4,83.6 402.4,86.7 401.5,89.6C400.5,92.5 399.6,95.4 398.6,98.2C397.7,101.1 396.7,104.0 395.7,106.9C394.8,109.7 394.8,112.9 392.9,115.5C391.0,118.1 387.1,120.5 384.2,122.7C381.4,124.8 379.0,126.5 375.6,128.4C372.3,130.3 368.4,132.7 364.1,134.2C359.8,135.6 354.1,136.3 349.8,137.0C345.4,137.8 340.7,136.3 338.3,138.5C335.9,140.6 341.6,148.1 335.4,150.0C329.2,151.9 306.2,152.4 300.9,150.0Z" fill="#35978f"/><path d="M589.3,13.6C590.1,11.6 591.7,9.2 593.6,7.8C595.5,6.3 598.2,5.5 600.8,4.9C603.5,4.3 606.8,3.7 609.5,4.2C612.1,4.7 614.5,6.2 616.7,7.8C618.9,9.3 621.0,11.4 622.5,13.6C623.9,15.7 625.1,18.1 625.4,20.8C625.6,23.4 624.6,27.0 623.9,29.4C623.2,31.8 622.2,33.5 621.0,35.2C619.8,36.9 617.2,37.9 616.7,39.5C616.2,41.2 618.6,43.8 618.1,45.3C617.7,46.9 615.5,48.4 613.8,48.9C612.1,49.4 610.0,48.6 608.0,48.2C606.1,47.8 604.2,47.2 602.3,46.8C600.3,46.3 598.3,46.0 596.5,45.3C594.7,44.6 591.9,43.9 591.4,42.4C590.9,41.0 592.7,38.6 593.6,36.7C594.4,34.7 596.7,32.8 596.5,30.9C596.2,29.0 593.5,27.0 592.1,25.1C590.8,23.2 589.0,21.3 588.5,19.3C588.1,17.4 588.4,15.5 589.3,13.6Z" fill="#bf812d"/><path d="M329.6,127.7C330.4,126.9 333.7,126.4 334.7,127.0C335.6,127.5 336.1,130.2 335.4,131.0C334.7,131.8 331.3,132.1 330.4,131.6C329.4,131.0 328.9,128.5 329.6,127.7Z" fill="#80cdc1"/><path d="M358.4,14.9C360.1,13.9 362.2,12.3 364.1,12.0C366.0,11.8 368.0,12.3 369.9,13.5C371.8,14.7 373.9,17.0 375.6,19.2C377.3,21.4 379.7,23.8 379.9,26.4C380.2,29.0 377.8,32.4 377.1,35.0C376.3,37.6 375.1,39.8 375.6,42.2C376.1,44.6 378.7,47.0 379.9,49.4C381.1,51.8 381.4,54.2 382.8,56.6C384.2,59.0 386.6,61.5 388.6,63.8C390.5,66.1 393.3,68.0 394.3,70.4C395.3,72.8 395.0,75.9 394.3,78.1C393.6,80.4 391.7,82.0 390.0,83.9C388.3,85.8 385.7,87.2 384.2,89.6C382.8,92.0 382.1,95.4 381.4,98.2C380.7,101.1 380.4,104.0 379.9,106.9C379.5,109.7 379.7,113.3 378.5,115.5C377.3,117.6 375.1,118.8 372.7,119.8C370.4,120.8 367.0,121.5 364.1,121.2C361.3,121.0 358.4,119.6 355.5,118.4C352.6,117.2 349.5,115.7 346.9,114.1C344.2,112.4 341.9,110.5 339.7,108.3C337.5,106.1 335.9,103.5 333.9,101.1C332.0,98.7 330.4,96.1 328.2,93.9C326.0,91.8 323.6,89.9 321.0,88.2C318.4,86.5 315.0,85.6 312.4,83.9C309.8,82.2 305.9,80.0 305.2,78.1C304.5,76.2 306.4,74.3 308.1,72.4C309.8,70.5 312.9,68.5 315.3,66.6C317.7,64.7 319.8,62.8 322.4,60.9C325.1,59.0 328.4,57.0 331.1,55.1C333.7,53.2 336.3,51.8 338.3,49.4C340.2,47.0 341.4,43.6 342.6,40.8C343.8,37.9 344.2,35.0 345.4,32.1C346.6,29.3 348.3,25.9 349.8,23.5C351.2,21.1 352.6,19.2 354.1,17.8C355.5,16.3 356.7,15.9 358.4,14.9Z" fill="#01665e"/><path d="M605.9,18.6C606.3,17.9 608.0,16.7 609.5,16.4C610.9,16.2 613.4,16.6 614.5,17.2C615.6,17.8 616.4,19.3 616.0,20.1C615.5,20.8 613.2,21.4 611.6,21.5C610.1,21.6 607.5,21.3 606.6,20.8C605.6,20.3 605.4,19.3 605.9,18.6Z" fill="#8c510a"/><path d="M322.4,72.4C322.9,70.5 324.6,68.5 326.8,66.6C328.9,64.7 332.7,62.6 335.4,60.9C338.0,59.2 339.7,57.8 342.6,56.6C345.4,55.4 349.3,54.4 352.6,53.7C356.0,53.0 360.1,51.8 362.7,52.3C365.3,52.7 367.2,54.7 368.4,56.6C369.6,58.5 369.2,61.6 369.9,63.8C370.6,65.9 371.6,67.3 372.7,69.5C373.9,71.7 376.6,74.5 377.1,76.7C377.5,78.8 376.8,80.8 375.6,82.4C374.4,84.1 372.0,85.3 369.9,86.7C367.7,88.2 364.6,89.6 362.7,91.1C360.8,92.5 359.1,93.0 358.4,95.4C357.7,97.8 359.3,103.4 358.4,105.4C357.4,107.5 353.8,108.3 352.6,107.6C351.4,106.9 351.7,103.2 351.2,101.1C350.7,99.1 351.2,97.0 349.8,95.4C348.3,93.7 345.0,92.5 342.6,91.1C340.2,89.6 337.8,87.9 335.4,86.7C333.0,85.6 330.1,85.3 328.2,83.9C326.3,82.4 324.8,80.0 323.9,78.1C322.9,76.2 322.0,74.3 322.4,72.4Z" fill="#003c30"/></g>
<use href="#cst"/><use href="#cst" x="633.5"/><use href="#cst" x="-633.5"/>
</g></g>
<line x1="102.1" y1="330.5" x2="118.5" y2="330.5" stroke="#484848" stroke-width="1.3" stroke-dasharray="4.3 3.6" stroke-dashoffset="0.00"/><line x1="177.8" y1="330.5" x2="277.0" y2="330.5" stroke="#484848" stroke-width="1.3" stroke-dasharray="4.3 3.6" stroke-dashoffset="4.57"/><line x1="284.4" y1="330.5" x2="293.9" y2="330.5" stroke="#484848" stroke-width="1.3" stroke-dasharray="4.3 3.6" stroke-dashoffset="0.60"/><line x1="309.0" y1="330.5" x2="312.9" y2="330.5" stroke="#484848" stroke-width="1.3" stroke-dasharray="4.3 3.6" stroke-dashoffset="1.54"/><line x1="313.6" y1="330.5" x2="594.6" y2="330.5" stroke="#484848" stroke-width="1.3" stroke-dasharray="4.3 3.6" stroke-dashoffset="6.12"/><line x1="648.7" y1="330.5" x2="735.6" y2="330.5" stroke="#484848" stroke-width="1.3" stroke-dasharray="4.3 3.6" stroke-dashoffset="1.46"/><line x1="418.8" y1="260.1" x2="418.8" y2="400.9" stroke="#484848" stroke-width="1.3" stroke-dasharray="4.3 3.6"/>
<g transform="translate(102.1,260.1)"><g clip-path="url(#pc)">
<path class="kc" d="M12.0,-0.9C11.4,-0.1 9.7,2.2 8.4,4.1C7.1,6.0 5.2,8.1 4.1,10.6C3.0,13.1 2.2,16.6 1.9,19.2C1.7,21.8 1.8,24.2 2.6,26.4C3.5,28.5 5.0,30.7 7.0,32.1C8.9,33.5 11.5,34.5 14.1,34.7C16.8,35.0 20.1,34.4 22.8,33.6C25.4,32.8 27.8,31.7 30.0,30.0C32.1,28.3 34.4,26.0 35.7,23.5C37.0,21.0 37.4,17.8 37.9,14.9C38.3,12.0 38.6,8.9 38.6,6.3C38.5,3.6 37.6,0.3 37.4,-0.9"/><path class="kd" d="M80.3,9.1C78.8,9.6 74.3,10.8 71.6,12.0C69.0,13.2 66.4,14.4 64.4,16.3C62.5,18.2 61.2,21.1 60.1,23.5C59.1,25.9 58.5,28.3 58.0,30.7C57.5,33.1 56.9,35.7 57.3,37.9C57.6,40.0 58.9,41.7 60.1,43.6C61.3,45.6 63.2,47.5 64.4,49.4C65.6,51.3 67.1,53.0 67.3,55.1C67.6,57.3 66.6,60.2 65.9,62.3C65.2,64.5 63.7,65.9 63.0,68.1C62.3,70.2 61.7,73.1 61.6,75.3C61.4,77.4 62.8,79.3 62.3,81.0C61.8,82.7 60.5,84.4 58.7,85.3C56.9,86.3 54.1,86.5 51.5,86.7C48.9,87.0 46.0,86.9 42.9,87.0C39.8,87.2 36.2,87.2 32.8,87.5C29.5,87.7 25.9,87.9 22.8,88.5C19.7,89.1 16.5,89.9 14.1,91.1C11.7,92.2 9.8,93.5 8.4,95.4C7.0,97.3 5.5,100.2 5.5,102.6C5.5,105.0 6.7,107.6 8.4,109.7C10.1,111.9 13.2,113.6 15.6,115.5C18.0,117.4 20.6,119.1 22.8,121.2C24.9,123.4 26.8,125.9 28.5,128.4C30.2,130.9 32.1,135.0 32.8,136.3"/><path class="kd" d="M52.2,134.9C52.6,134.2 53.1,131.4 54.4,130.6C55.7,129.7 58.0,129.6 60.1,129.9C62.3,130.1 65.2,131.1 67.3,132.0C69.5,133.0 71.3,134.1 73.1,135.6C74.9,137.2 77.3,140.4 78.1,141.4"/><path class="kd" d="M106.1,70.2C105.9,68.4 106.6,65.8 107.6,63.8C108.5,61.7 110.0,59.8 111.9,58.0C113.8,56.2 116.4,54.3 119.1,53.0C121.7,51.7 125.0,50.5 127.7,50.1C130.3,49.7 132.5,50.0 134.9,50.8C137.3,51.7 139.9,53.2 142.0,55.1C144.2,57.0 146.1,59.9 147.8,62.3C149.5,64.7 151.0,67.1 152.1,69.5C153.2,71.9 154.1,74.5 154.3,76.7C154.4,78.8 154.1,80.9 152.8,82.4C151.5,84.0 148.9,85.1 146.4,86.0C143.8,86.9 140.6,87.7 137.7,87.9C134.9,88.1 131.7,88.0 129.1,87.5C126.5,86.9 124.3,85.9 121.9,84.6C119.5,83.3 116.9,81.2 114.7,79.6C112.6,77.9 110.4,76.1 109.0,74.5C107.6,73.0 106.4,72.0 106.1,70.2Z"/><path class="kd" d="M122.6,-0.9C121.6,0.3 117.5,4.1 116.2,6.3C114.9,8.4 114.3,10.1 114.7,12.0C115.2,13.9 117.1,16.2 119.1,17.8C121.0,19.3 123.6,20.4 126.2,21.4C128.9,22.3 131.7,23.0 134.9,23.5C138.0,24.0 141.6,24.4 144.9,24.2C148.3,24.1 151.9,23.6 155.0,22.8C158.1,22.0 161.0,20.8 163.6,19.2C166.2,17.6 168.6,15.4 170.8,13.5C172.9,11.5 174.6,9.5 176.5,7.7C178.5,5.9 180.7,4.1 182.3,2.7C183.8,1.2 185.3,-0.3 185.9,-0.9"/><path class="kd" d="M179.4,7.7C178.7,9.1 176.5,13.5 175.1,16.3C173.7,19.2 172.0,21.8 170.8,25.0C169.6,28.1 168.6,31.7 167.9,35.0C167.2,38.4 166.5,41.5 166.5,45.1C166.5,48.7 167.4,52.7 167.9,56.6C168.4,60.4 168.9,64.5 169.4,68.1C169.8,71.7 170.4,74.8 170.8,78.1C171.1,81.5 171.7,84.8 171.5,88.2C171.3,91.5 170.4,95.1 169.4,98.2C168.3,101.4 166.7,104.2 165.0,106.9C163.4,109.5 161.2,111.9 159.3,114.1C157.4,116.2 155.7,118.1 153.5,119.8C151.4,121.5 149.0,123.2 146.4,124.1C143.7,125.1 141.1,125.4 137.7,125.5C134.4,125.7 129.8,125.2 126.2,124.8C122.6,124.5 119.3,123.5 116.2,123.4C113.1,123.3 109.8,123.4 107.6,124.1C105.3,124.8 103.6,126.0 102.5,127.7C101.4,129.4 100.9,131.9 101.1,134.2C101.3,136.4 103.1,140.2 103.5,141.4"/><path class="kc" d="M210.5,-0.9C209.6,-0.3 206.9,1.0 205.4,2.7C204.0,4.4 202.7,6.9 201.9,9.1C201.0,11.4 200.3,13.9 200.4,16.3C200.5,18.7 201.5,21.4 202.6,23.5C203.6,25.7 205.2,27.9 206.9,29.3C208.6,30.6 210.5,31.4 212.6,31.4C214.8,31.4 217.4,30.3 219.8,29.3C222.2,28.2 224.6,26.4 227.0,25.0C229.4,23.5 232.0,22.3 234.2,20.6C236.3,19.0 238.3,17.0 239.9,14.9C241.6,12.7 242.8,9.6 244.2,7.7C245.7,5.8 246.3,4.8 248.6,3.4C250.8,2.0 256.3,-0.2 257.9,-0.9"/><path class="kc" d="M264.1,-0.9C265.3,-0.1 269.1,2.7 271.5,4.1C274.0,5.6 276.3,6.9 278.7,7.7C281.1,8.5 283.5,9.0 285.9,9.1C288.3,9.3 290.7,9.0 293.1,8.4C295.5,7.8 298.1,6.5 300.3,5.6C302.4,4.6 304.1,3.6 306.0,2.7C308.0,1.7 310.8,0.3 311.8,-0.2"/><path class="kd" d="M244.2,141.4C245.0,140.4 246.6,137.5 248.6,135.6C250.5,133.7 253.1,131.8 255.7,129.9C258.4,127.9 261.2,125.8 264.4,124.1C267.5,122.4 271.1,121.2 274.4,119.8C277.8,118.4 281.4,116.9 284.5,115.5C287.6,114.1 290.9,113.1 293.1,111.2C295.3,109.3 296.3,106.6 297.4,104.0C298.5,101.4 299.1,98.2 299.6,95.4C300.1,92.5 299.9,89.6 300.3,86.7C300.6,83.9 301.6,81.0 301.7,78.1C301.8,75.3 301.2,72.4 301.0,69.5C300.8,66.6 300.5,63.8 300.3,60.9C300.1,58.0 300.3,54.5 299.6,52.3C298.9,50.0 297.8,48.5 296.0,47.2C294.2,45.9 291.7,45.0 288.8,44.4C285.9,43.7 282.1,43.4 278.7,43.3C275.4,43.3 271.8,43.4 268.7,43.9C265.6,44.4 262.4,45.4 260.1,46.5C257.7,47.7 255.5,49.1 254.3,50.8C253.1,52.5 252.9,54.4 252.9,56.6C252.9,58.7 253.9,61.5 254.3,63.8C254.7,66.0 255.5,68.1 255.0,70.2C254.5,72.4 252.7,74.4 251.4,76.7C250.1,79.0 248.2,81.2 247.1,83.9C246.0,86.5 245.4,89.9 245.0,92.5C244.5,95.1 245.3,97.8 244.2,99.7C243.2,101.6 240.9,102.6 238.5,104.0C236.1,105.4 232.7,106.9 229.9,108.3C227.0,109.7 224.1,111.3 221.3,112.6C218.4,113.9 214.8,114.8 212.6,116.2C210.5,117.6 210.0,119.2 208.3,121.2C206.6,123.3 204.7,126.4 202.6,128.4C200.4,130.5 198.0,131.9 195.4,133.5C192.7,135.0 189.3,136.4 186.8,137.8C184.2,139.1 181.4,140.8 180.3,141.4"/><path class="kc" d="M348.6,-0.9C347.6,1.0 344.5,6.5 342.6,10.6C340.6,14.7 338.5,19.2 336.8,23.5C335.1,27.8 333.9,32.1 332.5,36.4C331.1,40.8 329.4,45.3 328.2,49.4C327.0,53.5 325.7,57.0 325.3,60.9C325.0,64.7 325.8,68.5 326.0,72.4C326.3,76.2 326.5,80.0 326.8,83.9C327.0,87.7 327.0,91.5 327.5,95.4C328.0,99.2 329.5,103.0 329.6,106.9C329.8,110.7 328.8,114.5 328.2,118.4C327.6,122.2 326.7,126.0 326.0,129.9C325.4,133.7 324.6,139.4 324.3,141.4"/><path class="kc" d="M367.7,10.6C370.8,10.3 374.5,11.2 378.5,12.0C382.4,12.9 387.6,14.4 391.4,15.6C395.3,16.8 398.4,17.6 401.5,19.2C404.6,20.8 407.5,22.6 410.1,25.0C412.7,27.3 415.1,30.7 417.3,33.6C419.5,36.4 421.1,39.1 423.0,42.2C425.0,45.3 427.7,49.1 428.8,52.3C429.9,55.4 429.8,58.0 429.5,60.9C429.3,63.8 427.6,66.6 427.4,69.5C427.1,72.4 428.6,75.3 428.1,78.1C427.6,81.0 426.0,83.9 424.5,86.7C422.9,89.6 420.9,92.5 418.7,95.4C416.6,98.2 413.9,101.4 411.5,104.0C409.2,106.6 407.0,109.0 404.4,111.2C401.7,113.3 398.9,115.2 395.7,116.9C392.6,118.6 389.0,120.2 385.7,121.2C382.3,122.3 379.2,123.3 375.6,123.4C372.0,123.5 367.5,122.8 364.1,122.0C360.8,121.1 358.1,119.9 355.5,118.4C352.9,116.8 350.5,115.0 348.3,112.6C346.2,110.2 344.0,107.1 342.6,104.0C341.1,100.9 340.5,97.3 339.7,93.9C338.9,90.6 338.0,87.5 337.5,83.9C337.1,80.3 336.7,76.2 336.8,72.4C336.9,68.5 337.5,64.7 338.3,60.9C339.0,57.0 340.2,53.2 341.1,49.4C342.1,45.6 342.8,41.5 344.0,37.9C345.2,34.3 346.6,30.9 348.3,27.8C350.0,24.7 352.1,21.6 354.1,19.2C356.0,16.8 357.5,14.9 359.8,13.5C362.1,12.0 364.6,10.8 367.7,10.6Z"/><path class="kc" d="M364.1,39.3C366.0,37.9 368.7,35.9 371.3,35.0C373.9,34.2 377.1,33.8 379.9,34.3C382.8,34.8 385.9,36.3 388.6,37.9C391.2,39.4 393.6,41.7 395.7,43.6C397.9,45.6 400.1,47.5 401.5,49.4C402.9,51.3 404.6,53.2 404.4,55.1C404.1,57.0 400.5,59.0 400.1,60.9C399.6,62.8 400.7,64.7 401.5,66.6C402.3,68.5 404.7,70.5 405.1,72.4C405.4,74.3 405.0,76.4 403.6,78.1C402.3,79.8 399.7,81.2 397.2,82.4C394.7,83.6 391.7,84.4 388.6,85.3C385.4,86.3 381.6,87.5 378.5,88.2C375.4,88.9 372.5,89.7 369.9,89.6C367.2,89.5 364.8,88.7 362.7,87.5C360.5,86.3 358.5,84.5 356.9,82.4C355.4,80.4 354.2,77.9 353.3,75.3C352.5,72.6 351.9,69.5 351.9,66.6C351.9,63.8 352.6,60.9 353.3,58.0C354.1,55.1 355.1,51.8 356.2,49.4C357.3,47.0 358.5,45.3 359.8,43.6C361.1,42.0 362.2,40.8 364.1,39.3Z"/><path class="kc" d="M467.6,2.7C465.9,3.5 460.6,5.9 457.5,7.7C454.4,9.5 451.5,11.3 448.9,13.5C446.3,15.6 443.3,18.0 441.7,20.6C440.2,23.3 439.6,26.2 439.6,29.3C439.6,32.4 440.7,36.0 441.7,39.3C442.8,42.7 444.8,46.0 446.0,49.4C447.2,52.7 448.3,56.1 448.9,59.4C449.5,62.8 449.8,66.4 449.6,69.5C449.5,72.6 448.3,75.3 448.2,78.1C448.1,81.0 449.2,83.6 448.9,86.7C448.7,89.9 447.7,93.5 446.8,96.8C445.8,100.2 444.7,103.8 443.2,106.9C441.6,110.0 439.8,113.1 437.4,115.5C435.0,117.9 431.9,119.6 428.8,121.2C425.7,122.9 421.8,124.1 418.7,125.5C415.6,127.0 413.0,128.2 410.1,129.9C407.2,131.5 404.0,133.7 401.5,135.6C399.0,137.5 396.1,140.4 395.0,141.4"/><path class="kc" d="M385.4,-0.9C386.4,-0.2 389.0,2.3 391.4,3.4C393.9,4.5 397.4,5.3 400.1,5.6C402.7,5.8 405.2,5.6 407.2,5.1C409.3,4.6 411.1,3.7 412.3,2.7C413.4,1.7 413.7,-0.3 414.0,-0.9"/><path class="kd" d="M496.9,22.9C497.8,21.6 500.2,19.0 502.6,17.2C505.0,15.4 508.4,13.4 511.3,12.1C514.2,10.8 518.0,9.5 520.0,9.2C521.9,9.0 523.1,9.9 522.8,10.7C522.6,11.4 520.0,12.6 518.5,13.6C517.1,14.5 515.1,15.2 514.2,16.4C513.2,17.6 512.7,19.3 512.7,20.8C512.7,22.2 514.4,23.9 514.2,25.1C513.9,26.3 512.7,27.2 511.3,28.0C509.9,28.8 507.4,29.7 505.5,29.7C503.6,29.7 501.2,28.8 499.7,28.0C498.3,27.2 497.3,25.9 496.9,25.1C496.4,24.3 495.9,24.3 496.9,22.9Z"/><path class="kd" d="M512.0,0.6C513.3,1.5 517.2,4.8 520.0,6.3C522.7,7.9 525.3,9.0 528.6,9.9C532.0,10.9 536.3,11.3 540.2,12.1C544.0,13.0 548.1,14.0 551.7,15.0C555.3,16.0 558.7,16.7 561.8,17.9C565.0,19.1 567.8,20.7 570.5,22.2C573.1,23.8 575.3,25.9 577.7,27.3C580.1,28.6 582.5,29.6 584.9,30.2C587.3,30.8 589.7,31.2 592.1,30.9C594.6,30.5 597.2,29.4 599.4,28.0C601.5,26.5 603.8,24.4 605.1,22.2C606.5,20.1 607.3,17.4 607.3,15.0C607.3,12.6 606.2,10.2 605.1,7.8C604.1,5.4 601.8,1.8 601.1,0.6"/><path class="kc" d="M582.8,142.0C583.5,140.8 586.1,137.0 587.1,134.8C588.1,132.7 588.9,131.2 588.5,129.1C588.2,126.9 586.5,124.2 584.9,121.8C583.4,119.4 581.3,117.3 579.2,114.6C577.0,112.0 574.3,108.6 571.9,106.0C569.5,103.3 567.4,100.5 564.7,98.7C562.1,96.9 559.4,96.0 556.1,95.1C552.7,94.3 548.4,93.7 544.5,93.7C540.7,93.7 536.6,94.3 533.0,95.1C529.3,96.0 525.4,97.2 522.8,98.7C520.3,100.3 518.5,102.3 517.8,104.5C517.1,106.7 517.9,109.3 518.5,111.7C519.1,114.1 520.0,116.8 521.4,118.9C522.8,121.1 525.6,122.8 527.2,124.7C528.7,126.6 530.1,128.3 530.8,130.5C531.5,132.7 531.2,135.8 531.5,137.7C531.8,139.6 532.4,141.3 532.5,142.0"/><path class="kc" d="M215.3,2.2C213.9,2.9 209.0,4.4 206.7,6.3C204.4,8.1 202.6,11.1 201.7,13.5C200.7,15.9 200.6,18.2 201.0,20.6C201.3,23.0 202.4,26.0 203.8,27.8C205.3,29.6 207.7,30.7 209.6,31.4C211.5,32.2 214.4,32.3 215.3,32.4"/><path class="kd" d="M180.1,141.4C181.4,140.5 185.3,137.9 188.0,136.3C190.8,134.8 194.0,133.3 196.7,132.0C199.3,130.7 201.7,130.1 203.8,128.4C206.0,126.7 207.7,124.1 209.6,122.0C211.5,119.8 214.4,116.6 215.3,115.5"/>
</g></g>
<line x1="102.1" y1="260.1" x2="102.1" y2="254.9" stroke="#000" stroke-width="3.0" stroke-linecap="round"/>
<line x1="102.1" y1="400.9" x2="102.1" y2="406.1" stroke="#000" stroke-width="3.0" stroke-linecap="round"/>
<line x1="119.7" y1="260.1" x2="119.7" y2="257.2" stroke="#000" stroke-width="1.5" stroke-linecap="round"/>
<line x1="119.7" y1="400.9" x2="119.7" y2="403.8" stroke="#000" stroke-width="1.5" stroke-linecap="round"/>
<line x1="137.3" y1="260.1" x2="137.3" y2="257.2" stroke="#000" stroke-width="1.5" stroke-linecap="round"/>
<line x1="137.3" y1="400.9" x2="137.3" y2="403.8" stroke="#000" stroke-width="1.5" stroke-linecap="round"/>
<line x1="154.9" y1="260.1" x2="154.9" y2="257.2" stroke="#000" stroke-width="1.5" stroke-linecap="round"/>
<line x1="154.9" y1="400.9" x2="154.9" y2="403.8" stroke="#000" stroke-width="1.5" stroke-linecap="round"/>
<line x1="172.5" y1="260.1" x2="172.5" y2="257.2" stroke="#000" stroke-width="1.5" stroke-linecap="round"/>
<line x1="172.5" y1="400.9" x2="172.5" y2="403.8" stroke="#000" stroke-width="1.5" stroke-linecap="round"/>
<line x1="190.1" y1="260.1" x2="190.1" y2="257.2" stroke="#000" stroke-width="1.5" stroke-linecap="round"/>
<line x1="190.1" y1="400.9" x2="190.1" y2="403.8" stroke="#000" stroke-width="1.5" stroke-linecap="round"/>
<line x1="207.7" y1="260.1" x2="207.7" y2="254.9" stroke="#000" stroke-width="3.0" stroke-linecap="round"/>
<line x1="207.7" y1="400.9" x2="207.7" y2="406.1" stroke="#000" stroke-width="3.0" stroke-linecap="round"/>
<line x1="225.3" y1="260.1" x2="225.3" y2="257.2" stroke="#000" stroke-width="1.5" stroke-linecap="round"/>
<line x1="225.3" y1="400.9" x2="225.3" y2="403.8" stroke="#000" stroke-width="1.5" stroke-linecap="round"/>
<line x1="242.9" y1="260.1" x2="242.9" y2="257.2" stroke="#000" stroke-width="1.5" stroke-linecap="round"/>
<line x1="242.9" y1="400.9" x2="242.9" y2="403.8" stroke="#000" stroke-width="1.5" stroke-linecap="round"/>
<line x1="260.5" y1="260.1" x2="260.5" y2="257.2" stroke="#000" stroke-width="1.5" stroke-linecap="round"/>
<line x1="260.5" y1="400.9" x2="260.5" y2="403.8" stroke="#000" stroke-width="1.5" stroke-linecap="round"/>
<line x1="278.1" y1="260.1" x2="278.1" y2="257.2" stroke="#000" stroke-width="1.5" stroke-linecap="round"/>
<line x1="278.1" y1="400.9" x2="278.1" y2="403.8" stroke="#000" stroke-width="1.5" stroke-linecap="round"/>
<line x1="295.7" y1="260.1" x2="295.7" y2="257.2" stroke="#000" stroke-width="1.5" stroke-linecap="round"/>
<line x1="295.7" y1="400.9" x2="295.7" y2="403.8" stroke="#000" stroke-width="1.5" stroke-linecap="round"/>
<line x1="313.3" y1="260.1" x2="313.3" y2="254.9" stroke="#000" stroke-width="3.0" stroke-linecap="round"/>
<line x1="313.3" y1="400.9" x2="313.3" y2="406.1" stroke="#000" stroke-width="3.0" stroke-linecap="round"/>
<line x1="330.9" y1="260.1" x2="330.9" y2="257.2" stroke="#000" stroke-width="1.5" stroke-linecap="round"/>
<line x1="330.9" y1="400.9" x2="330.9" y2="403.8" stroke="#000" stroke-width="1.5" stroke-linecap="round"/>
<line x1="348.5" y1="260.1" x2="348.5" y2="257.2" stroke="#000" stroke-width="1.5" stroke-linecap="round"/>
<line x1="348.5" y1="400.9" x2="348.5" y2="403.8" stroke="#000" stroke-width="1.5" stroke-linecap="round"/>
<line x1="366.1" y1="260.1" x2="366.1" y2="257.2" stroke="#000" stroke-width="1.5" stroke-linecap="round"/>
<line x1="366.1" y1="400.9" x2="366.1" y2="403.8" stroke="#000" stroke-width="1.5" stroke-linecap="round"/>
<line x1="383.7" y1="260.1" x2="383.7" y2="257.2" stroke="#000" stroke-width="1.5" stroke-linecap="round"/>
<line x1="383.7" y1="400.9" x2="383.7" y2="403.8" stroke="#000" stroke-width="1.5" stroke-linecap="round"/>
<line x1="401.2" y1="260.1" x2="401.2" y2="257.2" stroke="#000" stroke-width="1.5" stroke-linecap="round"/>
<line x1="401.2" y1="400.9" x2="401.2" y2="403.8" stroke="#000" stroke-width="1.5" stroke-linecap="round"/>
<line x1="418.8" y1="260.1" x2="418.8" y2="254.9" stroke="#000" stroke-width="3.0" stroke-linecap="round"/>
<line x1="418.8" y1="400.9" x2="418.8" y2="406.1" stroke="#000" stroke-width="3.0" stroke-linecap="round"/>
<line x1="436.4" y1="260.1" x2="436.4" y2="257.2" stroke="#000" stroke-width="1.5" stroke-linecap="round"/>
<line x1="436.4" y1="400.9" x2="436.4" y2="403.8" stroke="#000" stroke-width="1.5" stroke-linecap="round"/>
<line x1="454.0" y1="260.1" x2="454.0" y2="257.2" stroke="#000" stroke-width="1.5" stroke-linecap="round"/>
<line x1="454.0" y1="400.9" x2="454.0" y2="403.8" stroke="#000" stroke-width="1.5" stroke-linecap="round"/>
<line x1="471.6" y1="260.1" x2="471.6" y2="257.2" stroke="#000" stroke-width="1.5" stroke-linecap="round"/>
<line x1="471.6" y1="400.9" x2="471.6" y2="403.8" stroke="#000" stroke-width="1.5" stroke-linecap="round"/>
<line x1="489.2" y1="260.1" x2="489.2" y2="257.2" stroke="#000" stroke-width="1.5" stroke-linecap="round"/>
<line x1="489.2" y1="400.9" x2="489.2" y2="403.8" stroke="#000" stroke-width="1.5" stroke-linecap="round"/>
<line x1="506.8" y1="260.1" x2="506.8" y2="257.2" stroke="#000" stroke-width="1.5" stroke-linecap="round"/>
<line x1="506.8" y1="400.9" x2="506.8" y2="403.8" stroke="#000" stroke-width="1.5" stroke-linecap="round"/>
<line x1="524.4" y1="260.1" x2="524.4" y2="254.9" stroke="#000" stroke-width="3.0" stroke-linecap="round"/>
<line x1="524.4" y1="400.9" x2="524.4" y2="406.1" stroke="#000" stroke-width="3.0" stroke-linecap="round"/>
<line x1="542.0" y1="260.1" x2="542.0" y2="257.2" stroke="#000" stroke-width="1.5" stroke-linecap="round"/>
<line x1="542.0" y1="400.9" x2="542.0" y2="403.8" stroke="#000" stroke-width="1.5" stroke-linecap="round"/>
<line x1="559.6" y1="260.1" x2="559.6" y2="257.2" stroke="#000" stroke-width="1.5" stroke-linecap="round"/>
<line x1="559.6" y1="400.9" x2="559.6" y2="403.8" stroke="#000" stroke-width="1.5" stroke-linecap="round"/>
<line x1="577.2" y1="260.1" x2="577.2" y2="257.2" stroke="#000" stroke-width="1.5" stroke-linecap="round"/>
<line x1="577.2" y1="400.9" x2="577.2" y2="403.8" stroke="#000" stroke-width="1.5" stroke-linecap="round"/>
<line x1="594.8" y1="260.1" x2="594.8" y2="257.2" stroke="#000" stroke-width="1.5" stroke-linecap="round"/>
<line x1="594.8" y1="400.9" x2="594.8" y2="403.8" stroke="#000" stroke-width="1.5" stroke-linecap="round"/>
<line x1="612.4" y1="260.1" x2="612.4" y2="257.2" stroke="#000" stroke-width="1.5" stroke-linecap="round"/>
<line x1="612.4" y1="400.9" x2="612.4" y2="403.8" stroke="#000" stroke-width="1.5" stroke-linecap="round"/>
<line x1="630.0" y1="260.1" x2="630.0" y2="254.9" stroke="#000" stroke-width="3.0" stroke-linecap="round"/>
<line x1="630.0" y1="400.9" x2="630.0" y2="406.1" stroke="#000" stroke-width="3.0" stroke-linecap="round"/>
<line x1="647.6" y1="260.1" x2="647.6" y2="257.2" stroke="#000" stroke-width="1.5" stroke-linecap="round"/>
<line x1="647.6" y1="400.9" x2="647.6" y2="403.8" stroke="#000" stroke-width="1.5" stroke-linecap="round"/>
<line x1="665.2" y1="260.1" x2="665.2" y2="257.2" stroke="#000" stroke-width="1.5" stroke-linecap="round"/>
<line x1="665.2" y1="400.9" x2="665.2" y2="403.8" stroke="#000" stroke-width="1.5" stroke-linecap="round"/>
<line x1="682.8" y1="260.1" x2="682.8" y2="257.2" stroke="#000" stroke-width="1.5" stroke-linecap="round"/>
<line x1="682.8" y1="400.9" x2="682.8" y2="403.8" stroke="#000" stroke-width="1.5" stroke-linecap="round"/>
<line x1="700.4" y1="260.1" x2="700.4" y2="257.2" stroke="#000" stroke-width="1.5" stroke-linecap="round"/>
<line x1="700.4" y1="400.9" x2="700.4" y2="403.8" stroke="#000" stroke-width="1.5" stroke-linecap="round"/>
<line x1="718.0" y1="260.1" x2="718.0" y2="257.2" stroke="#000" stroke-width="1.5" stroke-linecap="round"/>
<line x1="718.0" y1="400.9" x2="718.0" y2="403.8" stroke="#000" stroke-width="1.5" stroke-linecap="round"/>
<line x1="735.6" y1="260.1" x2="735.6" y2="254.9" stroke="#000" stroke-width="3.0" stroke-linecap="round"/>
<line x1="735.6" y1="400.9" x2="735.6" y2="406.1" stroke="#000" stroke-width="3.0" stroke-linecap="round"/>
<line x1="102.1" y1="383.3" x2="96.9" y2="383.3" stroke="#000" stroke-width="3.0" stroke-linecap="round"/>
<line x1="735.6" y1="383.3" x2="740.8" y2="383.3" stroke="#000" stroke-width="3.0" stroke-linecap="round"/>
<line x1="102.1" y1="365.7" x2="99.2" y2="365.7" stroke="#000" stroke-width="1.5" stroke-linecap="round"/>
<line x1="735.6" y1="365.7" x2="738.5" y2="365.7" stroke="#000" stroke-width="1.5" stroke-linecap="round"/>
<line x1="102.1" y1="348.1" x2="99.2" y2="348.1" stroke="#000" stroke-width="1.5" stroke-linecap="round"/>
<line x1="735.6" y1="348.1" x2="738.5" y2="348.1" stroke="#000" stroke-width="1.5" stroke-linecap="round"/>
<line x1="102.1" y1="330.5" x2="96.9" y2="330.5" stroke="#000" stroke-width="3.0" stroke-linecap="round"/>
<line x1="735.6" y1="330.5" x2="740.8" y2="330.5" stroke="#000" stroke-width="3.0" stroke-linecap="round"/>
<line x1="102.1" y1="312.9" x2="99.2" y2="312.9" stroke="#000" stroke-width="1.5" stroke-linecap="round"/>
<line x1="735.6" y1="312.9" x2="738.5" y2="312.9" stroke="#000" stroke-width="1.5" stroke-linecap="round"/>
<line x1="102.1" y1="295.3" x2="99.2" y2="295.3" stroke="#000" stroke-width="1.5" stroke-linecap="round"/>
<line x1="735.6" y1="295.3" x2="738.5" y2="295.3" stroke="#000" stroke-width="1.5" stroke-linecap="round"/>
<line x1="102.1" y1="277.7" x2="96.9" y2="277.7" stroke="#000" stroke-width="3.0" stroke-linecap="round"/>
<line x1="735.6" y1="277.7" x2="740.8" y2="277.7" stroke="#000" stroke-width="3.0" stroke-linecap="round"/>
<rect x="102.1" y="260.1" width="633.5" height="140.8" fill="none" stroke="#000" stroke-width="3.3"/>
<text class="t34" id="t2" x="100.1" y="251.9" textLength="269.8" lengthAdjust="spacingAndGlyphs">21-Mar to 25-Mar</text>
<text class="tk" x="73.5" y="290.1" text-anchor="end">30N</text>
<text class="tk" x="73.5" y="342.9" text-anchor="end">0</text>
<text class="tk" x="73.5" y="395.7" text-anchor="end">30S</text>
<g transform="translate(102.1,474.8)"><g clip-path="url(#pc)">
<rect x="0" y="0" width="633.5" height="140.8" fill="#f5f5f5"/>
<g filter="url(#sm)"><path d="M42.9,33.9C44.0,32.0 45.3,30.9 47.2,29.6C49.1,28.2 52.2,27.4 54.4,26.0C56.5,24.5 58.6,21.1 60.1,20.9C61.7,20.8 63.1,23.3 63.7,25.3C64.4,27.2 64.0,30.0 64.2,32.4C64.3,34.8 64.6,37.2 64.4,39.6C64.3,42.0 63.7,44.9 63.0,46.8C62.3,48.7 61.6,50.2 60.1,51.1C58.7,52.1 56.5,52.6 54.4,52.6C52.2,52.6 49.2,52.1 47.2,51.1C45.2,50.2 43.2,48.5 42.2,46.8C41.1,45.1 40.6,43.2 40.7,41.1C40.9,38.9 41.8,35.8 42.9,33.9Z" fill="#c7eae5"/><path d="M65.2,-13.5C58.2,-10.0 64.1,3.2 64.4,8.0C64.8,12.8 66.4,13.0 67.3,15.2C68.3,17.3 69.5,18.8 70.2,20.9C70.9,23.1 71.0,25.7 71.6,28.1C72.2,30.5 72.8,33.4 73.8,35.3C74.7,37.2 75.8,39.1 77.4,39.6C78.9,40.1 81.4,39.1 83.1,38.2C84.8,37.2 86.2,35.6 87.4,33.9C88.6,32.2 89.1,29.6 90.3,28.1C91.5,26.7 92.9,26.1 94.6,25.3C96.3,24.4 98.2,23.8 100.4,23.1C102.5,22.4 105.6,22.0 107.6,20.9C109.5,19.9 111.0,18.5 111.9,16.6C112.7,14.7 112.8,11.6 112.6,9.4C112.3,7.3 111.5,5.3 110.4,3.7C109.4,2.1 106.8,2.8 106.1,-0.0C105.4,-2.9 112.9,-11.3 106.1,-13.5C99.3,-15.8 72.1,-17.1 65.2,-13.5Z" fill="#c7eae5"/><path d="M-8.8,78.4C-7.4,74.6 -2.8,78.2 0.1,78.4C2.9,78.7 6.0,78.9 8.4,79.9C10.7,80.8 12.8,82.3 14.1,84.2C15.5,86.1 16.5,89.0 16.3,91.4C16.1,93.8 12.8,96.1 12.7,98.5C12.6,100.9 14.4,103.3 15.6,105.7C16.8,108.1 18.9,111.0 19.9,112.9C20.9,114.8 21.8,116.7 21.3,117.2C20.9,117.7 18.7,117.0 17.0,115.8C15.3,114.6 13.2,112.0 11.3,110.0C9.4,108.1 7.4,105.7 5.5,104.3C3.7,102.9 2.5,101.9 0.1,101.4C-2.3,100.9 -7.4,105.3 -8.8,101.4C-10.3,97.6 -10.3,82.3 -8.8,78.4Z" fill="#c7eae5"/><path d="M20.6,150.3C9.4,147.6 19.3,138.1 19.9,134.5C20.5,130.9 22.3,130.2 24.2,128.7C26.1,127.3 29.0,127.0 31.4,125.8C33.8,124.7 36.2,122.7 38.6,121.5C41.0,120.3 43.1,119.4 45.8,118.7C48.4,117.9 51.5,117.3 54.4,117.2C57.3,117.1 60.1,117.0 63.0,117.9C65.9,118.9 69.0,121.2 71.6,123.0C74.3,124.8 76.7,126.6 78.8,128.7C81.0,130.9 83.1,132.3 84.6,135.9C86.0,139.5 98.1,147.9 87.4,150.3C76.8,152.7 31.9,152.9 20.6,150.3Z" fill="#c7eae5"/><path d="M12.7,18.1C13.5,15.9 16.3,12.6 18.5,10.9C20.6,9.2 23.2,8.2 25.6,8.0C28.0,7.8 31.3,8.5 32.8,9.4C34.4,10.4 35.2,11.8 35.0,13.8C34.7,15.7 32.9,18.8 31.4,20.9C29.8,23.1 27.8,25.5 25.6,26.7C23.5,27.9 20.5,28.6 18.5,28.1C16.4,27.6 14.4,25.5 13.4,23.8C12.5,22.1 11.9,20.2 12.7,18.1Z" fill="#f6e8c3"/><path d="M-8.8,39.6C-7.4,37.2 -2.3,39.4 0.1,39.6C2.5,39.9 3.7,40.1 5.5,41.1C7.4,42.0 9.1,44.4 11.3,45.4C13.4,46.3 16.3,46.3 18.5,46.8C20.6,47.3 23.1,47.0 24.2,48.2C25.3,49.4 25.2,52.3 24.9,54.0C24.7,55.7 24.3,57.5 22.8,58.3C21.2,59.1 18.0,59.1 15.6,59.0C13.2,58.9 10.6,58.2 8.4,57.6C6.2,57.0 4.0,56.0 2.6,55.4C1.3,54.8 2.0,54.2 0.1,54.0C-1.9,53.8 -7.4,56.4 -8.8,54.0C-10.3,51.6 -10.3,42.0 -8.8,39.6Z" fill="#f6e8c3"/><path d="M11.3,33.9C11.3,32.3 13.8,31.4 15.6,31.0C17.4,30.6 20.4,31.0 22.0,31.7C23.7,32.4 25.5,34.0 25.6,35.3C25.8,36.6 24.4,38.8 22.8,39.6C21.1,40.5 17.5,41.3 15.6,40.3C13.7,39.4 11.3,35.4 11.3,33.9Z" fill="#f6e8c3"/><path d="M185.2,150.3C162.9,148.1 183.7,140.7 182.3,137.3C180.8,134.0 178.7,132.6 176.5,130.2C174.4,127.8 171.7,125.4 169.4,123.0C167.0,120.6 164.3,118.2 162.2,115.8C160.0,113.4 158.1,110.8 156.4,108.6C154.7,106.4 153.8,104.8 152.1,102.9C150.4,100.9 148.3,98.8 146.4,97.1C144.4,95.4 142.8,94.2 140.6,92.8C138.5,91.4 135.8,89.9 133.4,88.5C131.0,87.0 128.6,85.6 126.2,84.2C123.8,82.7 121.1,81.5 119.1,79.9C117.0,78.2 114.5,76.0 114.0,74.1C113.5,72.2 115.3,70.5 116.2,68.4C117.0,66.2 118.8,63.8 119.1,61.2C119.3,58.5 117.4,55.2 117.6,52.6C117.9,49.9 119.1,48.2 120.5,45.4C121.9,42.5 124.7,38.7 126.2,35.3C127.8,32.0 129.1,28.4 129.8,25.3C130.5,22.1 130.1,19.5 130.5,16.6C131.0,13.8 132.5,13.0 132.7,8.0C132.9,3.0 99.7,-10.0 132.0,-13.5C164.2,-17.1 293.3,-16.9 326.2,-13.5C359.0,-10.2 328.3,1.8 329.0,6.6C329.8,11.4 329.8,12.3 330.5,15.2C331.2,18.1 332.1,21.4 333.3,23.8C334.5,26.2 337.2,27.4 337.7,29.6C338.1,31.7 337.4,34.6 336.2,36.7C335.0,38.9 332.6,40.3 330.5,42.5C328.3,44.7 325.7,47.5 323.3,49.7C320.9,51.8 318.3,53.8 316.1,55.4C313.9,57.1 312.5,58.3 310.4,59.7C308.2,61.2 305.6,62.6 303.2,64.1C300.8,65.5 298.4,66.7 296.0,68.4C293.6,70.0 290.7,72.4 288.8,74.1C286.9,75.8 284.7,76.7 284.5,78.4C284.2,80.1 285.9,82.3 287.4,84.2C288.8,86.1 291.4,88.0 293.1,89.9C294.8,91.8 295.7,93.8 297.4,95.7C299.1,97.6 301.0,99.5 303.2,101.4C305.3,103.3 308.2,105.5 310.4,107.2C312.5,108.8 314.4,109.8 316.1,111.5C317.8,113.2 320.2,115.1 320.4,117.2C320.6,119.4 318.3,121.8 317.5,124.4C316.8,127.0 316.3,128.7 316.1,133.0C315.9,137.3 337.9,147.4 316.1,150.3C294.3,153.2 207.5,152.4 185.2,150.3Z" fill="#f6e8c3"/><path d="M375.5,150.3C342.6,147.8 374.8,139.5 374.1,135.9C373.3,132.3 372.4,131.1 371.2,128.7C370.0,126.3 368.3,123.9 366.9,121.5C365.4,119.1 363.5,116.7 362.6,114.4C361.6,112.0 360.9,109.6 361.1,107.2C361.4,104.8 362.8,102.1 364.0,100.0C365.2,97.8 367.8,96.1 368.3,94.2C368.8,92.3 368.3,90.2 366.9,88.5C365.4,86.8 362.3,85.4 359.7,84.2C357.1,83.0 353.9,82.0 351.1,81.3C348.2,80.6 345.1,80.6 342.4,79.9C339.8,79.1 336.9,78.2 335.3,77.0C333.6,75.8 331.9,74.1 332.4,72.7C332.9,71.2 335.5,69.6 338.1,68.4C340.8,67.2 344.8,66.7 348.2,65.5C351.6,64.3 355.1,62.9 358.3,61.2C361.4,59.5 364.5,57.3 366.9,55.4C369.3,53.5 370.7,51.6 372.6,49.7C374.5,47.8 377.7,45.6 378.4,43.9C379.1,42.3 378.4,41.1 376.9,39.6C375.5,38.2 372.4,36.7 369.8,35.3C367.1,33.9 363.5,32.7 361.1,31.0C358.7,29.3 356.8,27.6 355.4,25.3C353.9,22.9 353.7,19.7 352.5,16.6C351.3,13.5 349.0,11.6 348.2,6.6C347.4,1.5 302.0,-10.2 347.5,-13.5C392.9,-16.9 575.7,-17.4 621.0,-13.6C666.4,-9.7 620.8,4.5 619.6,9.5C618.4,14.6 616.0,14.1 613.8,16.7C611.6,19.4 608.7,22.5 606.6,25.4C604.4,28.3 603.0,31.7 600.8,34.1C598.6,36.5 595.5,37.9 593.6,39.8C591.7,41.8 589.7,43.9 589.3,45.6C588.8,47.3 591.4,48.3 590.7,49.9C590.0,51.6 586.9,53.8 584.9,55.7C583.0,57.6 580.6,59.3 579.2,61.5C577.7,63.7 577.5,66.6 576.3,68.7C575.1,70.9 573.6,73.3 571.9,74.5C570.2,75.7 567.8,75.2 566.2,75.9C564.5,76.7 563.5,77.6 561.8,78.8C560.1,80.0 557.5,81.2 556.1,83.2C554.6,85.1 553.4,87.7 553.2,90.4C552.9,93.0 553.6,96.4 554.6,99.0C555.6,101.7 557.5,103.8 558.9,106.3C560.4,108.7 561.6,111.3 563.3,113.5C565.0,115.6 567.6,117.1 569.0,119.2C570.5,121.4 571.5,123.8 571.9,126.5C572.4,129.1 572.1,131.0 571.9,135.1C571.8,139.2 603.9,148.5 571.2,151.0C538.5,153.5 408.4,152.8 375.5,150.3Z" fill="#c7eae5"/><path d="M605.1,86.0C606.3,84.8 609.7,82.9 612.4,81.7C615.0,80.5 618.4,79.1 621.0,78.8C623.7,78.6 626.2,79.8 628.2,80.3C630.3,80.7 629.8,81.5 633.4,81.7C637.0,82.0 647.2,78.8 649.9,81.7C652.6,84.6 652.6,96.1 649.9,99.0C647.2,101.9 637.3,99.5 633.4,99.0C629.6,98.6 629.3,97.1 626.8,96.1C624.2,95.2 621.0,94.0 618.1,93.3C615.2,92.5 611.6,92.5 609.5,91.8C607.3,91.1 605.9,89.9 605.1,88.9C604.4,88.0 603.9,87.2 605.1,86.0Z" fill="#c7eae5"/><path d="M621.0,49.9C621.7,48.3 624.7,46.8 626.8,45.6C628.9,44.4 629.6,43.2 633.4,42.7C637.3,42.2 647.2,39.6 649.9,42.7C652.6,45.9 652.6,58.4 649.9,61.5C647.2,64.6 637.0,61.7 633.4,61.5C629.8,61.3 630.1,61.0 628.2,60.1C626.4,59.1 623.7,57.4 622.5,55.7C621.3,54.0 620.3,51.6 621.0,49.9Z" fill="#f6e8c3"/><path d="M331.9,72.7C332.6,71.5 336.7,70.4 339.1,69.8C341.5,69.2 343.4,69.2 346.3,69.1C349.2,69.0 353.7,68.5 356.3,69.1C359.0,69.7 361.6,71.1 362.1,72.7C362.6,74.2 361.1,77.0 359.2,78.4C357.3,79.9 353.5,81.1 350.6,81.3C347.7,81.5 344.6,80.6 342.0,79.9C339.3,79.1 336.5,78.2 334.8,77.0C333.1,75.8 331.2,73.9 331.9,72.7Z" fill="#c7eae5"/><path d="M571.9,-13.6C567.2,-10.2 572.1,1.6 572.7,6.6C573.3,11.7 574.2,13.7 575.5,16.7C576.9,19.8 578.6,22.9 580.6,24.7C582.6,26.5 585.5,28.1 587.8,27.6C590.1,27.1 592.5,24.1 594.3,21.8C596.1,19.5 597.5,17.3 598.6,13.9C599.8,10.4 600.7,5.4 601.1,0.9C601.5,-3.7 606.0,-11.2 601.1,-13.6C596.2,-16.0 576.7,-16.9 571.9,-13.6Z" fill="#f5f5f5"/><path d="M75.2,6.6C75.5,5.4 78.2,4.7 79.5,5.1C80.8,5.6 81.9,8.0 83.1,9.4C84.3,10.9 86.5,12.3 86.7,13.8C87.0,15.2 85.9,16.5 84.6,18.1C83.2,19.6 80.4,21.5 78.8,23.1C77.3,24.7 76.4,26.8 75.2,27.4C74.0,28.0 72.0,27.6 71.6,26.7C71.3,25.7 72.1,23.3 73.1,21.7C74.0,20.0 76.5,18.2 77.4,16.6C78.2,15.1 78.5,14.0 78.1,12.3C77.7,10.6 75.0,7.8 75.2,6.6Z" fill="#80cdc1"/><path d="M49.8,136.2C50.5,135.4 53.3,135.2 54.1,135.9C54.9,136.6 55.3,139.7 54.7,140.5C54.0,141.3 50.9,141.5 50.1,140.8C49.3,140.1 49.1,137.0 49.8,136.2Z" fill="#80cdc1"/><path d="M146.4,-13.5C117.9,-10.0 148.4,3.2 149.2,8.0C150.1,12.8 151.6,12.6 151.4,15.2C151.1,17.8 149.1,21.2 147.8,23.8C146.5,26.5 144.7,28.6 143.5,31.0C142.3,33.4 141.8,36.0 140.6,38.2C139.4,40.3 137.5,41.8 136.3,43.9C135.1,46.1 134.4,48.7 133.4,51.1C132.5,53.5 130.9,55.9 130.5,58.3C130.2,60.7 130.5,63.1 131.3,65.5C132.0,67.9 133.3,70.5 134.9,72.7C136.4,74.8 138.5,77.0 140.6,78.4C142.8,79.9 145.6,80.1 147.8,81.3C149.9,82.5 151.6,83.7 153.5,85.6C155.5,87.5 157.4,90.2 159.3,92.8C161.2,95.4 163.1,98.8 165.0,101.4C167.0,104.1 168.6,106.2 170.8,108.6C172.9,111.0 175.6,113.6 178.0,115.8C180.4,117.9 182.8,119.6 185.2,121.5C187.6,123.5 189.9,125.6 192.3,127.3C194.7,129.0 197.1,130.4 199.5,131.6C201.9,132.8 204.3,133.8 206.7,134.5C209.1,135.2 211.0,135.9 213.9,135.9C216.8,135.9 220.5,135.4 224.1,134.5C227.7,133.5 231.8,131.6 235.6,130.2C239.5,128.7 243.3,127.3 247.1,125.8C251.0,124.4 255.3,122.7 258.6,121.5C262.0,120.3 264.4,119.9 267.2,118.7C270.1,117.5 273.2,115.5 275.9,114.4C278.5,113.2 281.4,112.9 283.0,111.5C284.7,110.0 285.2,107.9 285.9,105.7C286.6,103.6 287.8,100.9 287.4,98.5C286.9,96.1 284.5,93.5 283.0,91.4C281.6,89.2 279.2,87.5 278.7,85.6C278.3,83.7 279.0,81.8 280.2,79.9C281.4,77.9 283.8,76.0 285.9,74.1C288.1,72.2 290.9,70.3 293.1,68.4C295.3,66.4 297.2,64.8 298.9,62.6C300.5,60.5 301.7,57.8 303.2,55.4C304.6,53.0 306.0,50.6 307.5,48.2C308.9,45.9 310.1,43.5 311.8,41.1C313.5,38.7 315.9,36.3 317.5,33.9C319.2,31.5 320.6,29.1 321.8,26.7C323.0,24.3 324.2,22.1 324.7,19.5C325.2,16.9 325.2,13.5 324.7,10.9C324.2,8.2 322.7,7.8 321.8,3.7C321.0,-0.4 348.9,-10.7 319.7,-13.5C290.4,-16.4 174.8,-17.1 146.4,-13.5Z" fill="#dfc27d"/><path d="M463.2,150.3C453.9,147.8 461.7,139.3 460.3,135.9C458.9,132.6 456.7,132.1 454.5,130.2C452.4,128.2 450.0,126.3 447.4,124.4C444.7,122.5 441.6,120.3 438.7,118.7C435.9,117.0 433.0,116.0 430.1,114.4C427.2,112.7 423.9,110.8 421.5,108.6C419.1,106.4 417.2,104.1 415.7,101.4C414.3,98.8 413.8,95.7 412.9,92.8C411.9,89.9 411.4,86.6 410.0,84.2C408.6,81.8 406.4,79.9 404.2,78.4C402.1,77.0 399.5,76.5 397.1,75.6C394.7,74.6 392.0,73.9 389.9,72.7C387.7,71.5 385.3,70.0 384.1,68.4C382.9,66.7 382.2,64.8 382.7,62.6C383.2,60.5 385.3,57.6 387.0,55.4C388.7,53.3 391.1,51.6 392.7,49.7C394.4,47.8 396.1,46.1 397.1,43.9C398.0,41.8 398.7,38.9 398.5,36.7C398.3,34.6 397.5,32.4 395.6,31.0C393.7,29.6 389.9,28.8 387.0,28.1C384.1,27.4 381.3,27.6 378.4,26.7C375.5,25.7 372.1,24.3 369.8,22.4C367.4,20.5 365.2,17.8 364.0,15.2C362.8,12.6 362.9,11.4 362.6,6.6C362.2,1.8 332.2,-10.2 361.9,-13.5C391.5,-16.9 510.6,-17.2 540.2,-13.6C569.8,-10.0 539.9,3.0 539.4,8.1C539.0,13.1 537.9,13.9 537.3,16.7C536.7,19.6 535.6,22.5 535.8,25.4C536.1,28.3 537.3,31.4 538.7,34.1C540.2,36.7 542.3,39.4 544.5,41.3C546.7,43.2 549.1,44.5 551.7,45.6C554.4,46.7 557.7,47.1 560.4,47.8C563.0,48.5 566.6,48.9 567.6,49.9C568.6,51.0 567.4,53.1 566.2,54.3C565.0,55.5 562.3,56.0 560.4,57.2C558.5,58.4 555.9,59.8 554.6,61.5C553.3,63.2 553.4,65.3 552.4,67.3C551.5,69.2 549.9,71.1 548.8,73.0C547.8,75.0 547.1,76.9 545.9,78.8C544.7,80.7 543.1,82.4 541.6,84.6C540.2,86.8 538.5,89.4 537.3,91.8C536.1,94.2 535.8,97.1 534.4,99.0C533.0,101.0 530.5,102.2 528.6,103.4C526.7,104.6 524.5,105.0 522.8,106.3C521.2,107.5 520.0,108.7 518.5,110.6C517.1,112.5 515.1,115.2 514.2,117.8C513.2,120.4 512.7,123.6 512.7,126.5C512.7,129.4 513.7,131.0 514.2,135.1C514.7,139.2 524.1,148.5 515.6,151.0C507.1,153.5 472.4,152.8 463.2,150.3Z" fill="#80cdc1"/><path d="M379.1,-13.5C373.6,-11.2 379.0,-2.8 379.8,0.8C380.7,4.4 382.0,6.1 384.1,8.0C386.3,9.9 389.4,11.5 392.7,12.3C396.1,13.2 401.1,13.4 404.2,13.0C407.4,12.7 410.0,12.2 411.4,10.2C412.9,8.1 412.6,4.8 412.9,0.8C413.1,-3.1 418.5,-11.2 412.9,-13.5C407.2,-15.9 384.6,-15.9 379.1,-13.5Z" fill="#c7eae5"/><path d="M162.3,-13.5C137.4,-10.0 162.7,3.0 163.0,8.0C163.4,13.0 164.1,13.8 164.5,16.6C164.8,19.5 165.2,22.4 165.2,25.3C165.2,28.1 164.8,31.0 164.5,33.9C164.1,36.7 163.6,39.9 163.0,42.5C162.5,45.1 162.5,47.3 160.9,49.7C159.3,52.1 155.9,54.5 153.7,56.9C151.6,59.3 149.3,61.9 148.0,64.1C146.6,66.2 145.1,67.9 145.8,69.8C146.5,71.7 150.0,74.0 152.3,75.6C154.5,77.1 157.3,77.7 159.5,79.1C161.6,80.6 163.3,81.9 165.2,84.2C167.1,86.4 168.8,90.2 171.0,92.8C173.1,95.4 175.7,97.8 178.1,100.0C180.5,102.1 182.7,103.8 185.3,105.7C188.0,107.6 191.1,109.8 193.9,111.5C196.8,113.2 199.5,114.6 202.6,115.8C205.7,117.0 209.3,118.1 212.6,118.7C216.0,119.3 219.3,119.4 222.7,119.4C226.0,119.4 229.4,119.0 232.7,118.7C236.1,118.3 239.5,117.9 242.8,117.2C246.2,116.5 249.8,115.3 252.9,114.4C256.0,113.4 258.9,112.7 261.5,111.5C264.1,110.3 266.5,108.8 268.7,107.2C270.8,105.5 273.2,103.6 274.4,101.4C275.6,99.3 275.9,96.6 275.9,94.2C275.9,91.8 274.4,89.4 274.4,87.0C274.4,84.7 274.7,82.0 275.9,79.9C277.1,77.7 279.7,76.0 281.6,74.1C283.5,72.2 285.4,70.0 287.4,68.4C289.3,66.7 291.4,66.0 293.1,64.1C294.8,62.1 296.2,59.3 297.4,56.9C298.6,54.5 299.1,52.1 300.3,49.7C301.5,47.3 303.2,44.9 304.6,42.5C306.0,40.1 307.5,37.7 308.9,35.3C310.4,32.9 312.0,30.5 313.2,28.1C314.4,25.7 315.4,23.6 316.1,20.9C316.8,18.3 317.8,15.2 317.5,12.3C317.3,9.4 315.5,8.0 314.7,3.7C313.8,-0.6 337.9,-10.7 312.5,-13.5C287.1,-16.4 187.2,-17.1 162.3,-13.5Z" fill="#bf812d"/><path d="M487.6,150.3C484.1,147.8 486.2,139.3 484.7,135.9C483.3,132.6 481.1,131.8 479.0,130.2C476.8,128.5 474.2,127.3 471.8,125.8C469.4,124.4 467.0,123.2 464.6,121.5C462.2,119.9 459.8,117.7 457.4,115.8C455.0,113.9 452.9,112.0 450.2,110.0C447.6,108.1 444.2,106.2 441.6,104.3C439.0,102.4 436.6,100.5 434.4,98.5C432.3,96.6 429.9,95.2 428.7,92.8C427.5,90.4 428.0,87.0 427.2,84.2C426.5,81.3 425.6,77.9 424.4,75.6C423.2,73.2 422.0,71.5 420.1,69.8C418.1,68.1 414.3,67.4 412.9,65.5C411.4,63.6 411.5,61.2 411.4,58.3C411.3,55.4 411.7,51.4 412.1,48.2C412.6,45.1 413.0,42.5 414.3,39.6C415.6,36.7 419.3,31.7 420.1,31.0C420.8,30.3 418.9,35.7 418.9,35.5C418.9,35.3 419.9,32.1 420.3,29.7C420.8,27.3 421.3,24.4 421.8,21.1C422.3,17.7 422.7,15.3 423.2,9.5C423.7,3.7 408.8,-9.7 424.7,-13.6C440.6,-17.4 502.6,-17.2 518.5,-13.6C534.4,-10.0 519.5,3.3 520.0,8.1C520.4,12.9 521.4,12.7 521.4,15.3C521.4,17.9 520.4,21.1 520.0,24.0C519.5,26.8 518.3,30.0 518.5,32.6C518.8,35.3 520.4,37.4 521.4,39.8C522.4,42.2 523.1,44.9 524.3,47.1C525.5,49.2 526.9,51.4 528.6,52.8C530.3,54.3 532.5,54.8 534.4,55.7C536.3,56.7 539.0,57.2 540.2,58.6C541.4,60.1 541.9,62.5 541.6,64.4C541.4,66.3 539.9,68.2 538.7,70.2C537.5,72.1 535.4,74.0 534.4,75.9C533.4,77.9 533.4,79.8 533.0,81.7C532.5,83.6 532.7,85.6 531.5,87.5C530.3,89.4 527.7,91.3 525.7,93.3C523.8,95.2 521.9,97.6 520.0,99.0C518.0,100.5 515.6,100.7 514.2,101.9C512.7,103.1 512.5,104.6 511.3,106.3C510.1,107.9 508.2,109.9 507.0,112.0C505.8,114.2 504.6,116.6 504.1,119.2C503.6,121.9 503.8,125.0 504.1,127.9C504.3,130.8 505.3,132.7 505.5,136.6C505.8,140.4 508.5,148.7 505.5,151.0C502.5,153.3 491.1,152.8 487.6,150.3Z" fill="#35978f"/><path d="M171.7,-13.5C149.2,-10.0 171.9,2.7 172.4,8.0C172.9,13.3 174.2,15.0 174.5,18.1C174.9,21.2 175.1,23.8 174.5,26.7C173.9,29.6 172.0,32.4 171.0,35.3C169.9,38.2 168.8,41.1 168.1,43.9C167.4,46.8 166.8,49.7 166.6,52.6C166.5,55.4 166.9,58.3 167.4,61.2C167.8,64.1 168.4,67.2 169.5,69.8C170.6,72.4 172.2,74.8 173.8,77.0C175.5,79.1 177.4,80.8 179.6,82.7C181.7,84.7 184.1,86.6 186.8,88.5C189.4,90.4 192.7,92.3 195.4,94.2C198.0,96.1 200.2,98.3 202.6,100.0C205.0,101.7 207.1,103.3 209.8,104.3C212.4,105.3 215.5,105.7 218.4,105.7C221.3,105.7 224.1,104.4 227.0,104.3C229.9,104.2 232.7,104.8 235.6,105.0C238.5,105.3 241.4,106.0 244.2,105.7C247.1,105.5 250.2,104.5 252.9,103.6C255.5,102.6 258.1,101.3 260.1,100.0C262.0,98.7 263.4,97.6 264.4,95.7C265.3,93.8 265.3,90.9 265.8,88.5C266.3,86.1 266.3,83.5 267.2,81.3C268.2,79.1 269.9,77.5 271.5,75.6C273.2,73.6 275.4,71.7 277.3,69.8C279.2,67.9 281.1,66.2 283.0,64.1C285.0,61.9 287.4,59.3 288.8,56.9C290.2,54.5 290.7,52.3 291.7,49.7C292.6,47.0 293.6,43.7 294.5,41.1C295.5,38.4 296.2,36.0 297.4,33.9C298.6,31.7 300.3,30.3 301.7,28.1C303.2,26.0 305.1,23.6 306.0,20.9C307.0,18.3 307.2,18.1 307.5,12.3C307.7,6.6 330.1,-9.2 307.5,-13.5C284.8,-17.9 194.2,-17.1 171.7,-13.5Z" fill="#8c510a"/><path d="M462.2,26.1C462.6,24.7 462.7,23.0 464.4,21.8C466.1,20.6 469.6,19.4 472.3,18.9C475.1,18.4 478.1,18.7 481.0,18.9C483.9,19.1 487.0,19.6 489.6,20.4C492.3,21.1 494.9,21.7 496.9,23.2C498.8,24.8 500.0,27.5 501.2,29.7C502.4,32.0 503.4,34.5 504.1,37.0C504.8,39.4 504.8,42.0 505.5,44.2C506.2,46.3 507.0,48.3 508.4,49.9C509.9,51.6 512.3,52.6 514.2,54.3C516.1,56.0 518.3,57.9 520.0,60.1C521.6,62.2 523.3,64.9 524.3,67.3C525.3,69.7 526.0,72.1 525.7,74.5C525.5,76.9 524.1,79.9 522.8,81.7C521.6,83.5 520.2,84.6 518.5,85.3C516.8,86.0 514.7,85.7 512.7,86.0C510.8,86.4 508.9,86.8 507.0,87.5C505.0,88.2 502.9,89.4 501.2,90.4C499.5,91.3 498.5,92.4 496.9,93.3C495.2,94.1 493.3,95.1 491.1,95.4C488.9,95.8 486.3,95.8 483.9,95.4C481.5,95.1 479.3,93.9 476.6,93.3C474.0,92.7 470.6,92.3 468.0,91.8C465.3,91.3 463.2,90.9 460.8,90.4C458.4,89.9 455.7,89.7 453.5,88.9C451.4,88.2 449.9,87.2 447.8,86.0C445.6,84.8 442.7,83.2 440.6,81.7C438.4,80.3 436.7,79.1 434.8,77.4C432.9,75.7 430.4,73.5 429.0,71.6C427.6,69.7 426.7,67.8 426.1,65.8C425.5,63.9 425.2,61.5 425.4,60.1C425.6,58.6 426.2,57.6 427.6,56.9C428.9,56.1 431.2,55.5 433.3,55.4C435.5,55.4 438.1,55.8 440.6,56.7C443.0,57.7 445.1,60.7 447.8,61.2C450.4,61.8 453.5,60.7 456.4,60.1C459.3,59.4 462.2,58.1 465.1,57.2C468.0,56.2 470.9,54.5 473.8,54.3C476.6,54.0 479.5,55.0 482.4,55.7C485.3,56.4 489.2,58.3 491.1,58.3C493.0,58.3 494.5,56.9 494.0,55.7C493.5,54.6 490.1,52.8 488.2,51.4C486.3,49.9 484.3,48.5 482.4,47.1C480.5,45.6 478.8,43.9 476.6,42.7C474.5,41.5 471.6,41.0 469.4,39.8C467.3,38.6 464.9,37.1 463.7,35.5C462.4,33.9 462.2,32.0 461.9,30.5C461.7,28.9 461.8,27.6 462.2,26.1Z" fill="#01665e"/><path d="M445.6,11.0C446.1,9.9 448.0,8.1 449.2,7.4C450.4,6.6 452.1,6.0 452.8,6.6C453.5,7.2 454.0,9.8 453.5,11.0C453.1,12.2 451.1,13.4 449.9,13.9C448.7,14.3 447.1,14.3 446.3,13.9C445.6,13.4 445.1,12.1 445.6,11.0Z" fill="#01665e"/><path d="M466.5,67.3C467.1,65.7 468.0,64.1 469.4,62.9C470.9,61.7 473.8,60.3 475.2,60.1C476.6,59.8 477.6,60.3 478.1,61.5C478.6,62.7 478.0,65.3 478.1,67.3C478.2,69.2 479.3,71.5 478.8,73.0C478.3,74.6 476.8,76.2 475.2,76.7C473.6,77.1 470.9,76.7 469.4,75.9C467.9,75.2 466.7,73.8 466.3,72.3C465.8,70.9 466.0,68.8 466.5,67.3Z" fill="#35978f"/><path d="M477.4,80.3C478.0,78.8 479.7,76.9 481.0,76.7C482.3,76.4 484.5,77.5 485.3,78.8C486.2,80.1 486.8,83.0 486.0,84.6C485.3,86.2 482.4,88.1 481.0,88.2C479.5,88.3 478.0,86.6 477.4,85.3C476.8,84.0 476.8,81.7 477.4,80.3Z" fill="#35978f"/><path d="M179.6,-13.5C159.8,-10.0 178.7,2.7 178.9,8.0C179.0,13.3 179.8,15.0 180.3,18.1C180.8,21.2 182.1,23.8 181.7,26.7C181.4,29.6 179.2,32.4 178.1,35.3C177.1,38.2 175.9,41.1 175.3,43.9C174.7,46.8 174.3,49.7 174.5,52.6C174.8,55.4 175.6,58.5 176.7,61.2C177.8,63.8 179.3,66.2 181.0,68.4C182.7,70.5 184.4,72.2 186.8,74.1C189.2,76.0 192.5,78.2 195.4,79.9C198.3,81.5 201.1,83.0 204.0,84.2C206.9,85.4 209.5,85.9 212.6,87.0C215.7,88.2 219.3,90.2 222.7,91.4C226.0,92.6 229.9,93.3 232.7,94.2C235.6,95.2 237.5,96.9 239.9,97.1C242.3,97.3 245.2,96.6 247.1,95.7C249.0,94.7 250.0,93.3 251.4,91.4C252.9,89.4 254.3,86.3 255.7,84.2C257.2,82.0 258.4,80.1 260.1,78.4C261.7,76.7 263.9,75.6 265.8,74.1C267.7,72.7 269.6,71.5 271.5,69.8C273.5,68.1 275.6,66.2 277.3,64.1C279.0,61.9 280.7,59.3 281.6,56.9C282.6,54.5 282.6,52.3 283.0,49.7C283.5,47.0 283.8,43.9 284.5,41.1C285.2,38.2 285.9,35.3 287.4,32.4C288.8,29.6 291.2,26.5 293.1,23.8C295.0,21.2 297.8,19.3 298.9,16.6C299.9,14.0 299.8,13.0 299.6,8.0C299.3,3.0 317.4,-10.0 297.4,-13.5C277.4,-17.1 199.3,-17.1 179.6,-13.5Z" fill="#543005"/></g>
<use href="#cst"/><use href="#cst" x="633.5"/><use href="#cst" x="-633.5"/>
</g></g>
<line x1="102.1" y1="545.2" x2="118.5" y2="545.2" stroke="#484848" stroke-width="1.3" stroke-dasharray="4.3 3.6" stroke-dashoffset="0.00"/><line x1="177.8" y1="545.2" x2="277.0" y2="545.2" stroke="#484848" stroke-width="1.3" stroke-dasharray="4.3 3.6" stroke-dashoffset="4.57"/><line x1="284.4" y1="545.2" x2="293.9" y2="545.2" stroke="#484848" stroke-width="1.3" stroke-dasharray="4.3 3.6" stroke-dashoffset="0.60"/><line x1="309.0" y1="545.2" x2="312.9" y2="545.2" stroke="#484848" stroke-width="1.3" stroke-dasharray="4.3 3.6" stroke-dashoffset="1.54"/><line x1="313.6" y1="545.2" x2="594.6" y2="545.2" stroke="#484848" stroke-width="1.3" stroke-dasharray="4.3 3.6" stroke-dashoffset="6.12"/><line x1="648.7" y1="545.2" x2="735.6" y2="545.2" stroke="#484848" stroke-width="1.3" stroke-dasharray="4.3 3.6" stroke-dashoffset="1.46"/><line x1="418.8" y1="474.8" x2="418.8" y2="615.6" stroke="#484848" stroke-width="1.3" stroke-dasharray="4.3 3.6"/>
<g transform="translate(102.1,474.8)"><g clip-path="url(#pc)">
<path class="kd" d="M11.3,20.9C10.9,19.1 11.7,16.9 12.7,15.2C13.7,13.5 15.3,11.7 17.0,10.9C18.7,10.0 20.9,9.9 22.8,10.2C24.7,10.4 27.1,11.1 28.5,12.3C30.0,13.5 31.0,15.6 31.4,17.3C31.7,19.1 31.5,21.4 30.7,23.1C29.8,24.8 28.0,26.6 26.4,27.4C24.7,28.2 22.5,28.4 20.6,28.1C18.7,27.9 16.4,27.2 14.9,26.0C13.3,24.8 11.6,22.7 11.3,20.9Z"/><path class="kd" d="M1.9,26.7C2.5,27.9 3.7,31.8 5.5,33.9C7.3,35.9 10.3,37.8 12.7,38.9C15.1,40.0 17.3,40.5 19.9,40.3C22.5,40.2 25.9,39.3 28.5,38.2C31.2,37.1 33.5,35.6 35.7,33.9C37.9,32.2 39.9,30.3 41.4,28.1C43.0,26.0 44.2,23.3 45.0,20.9C45.9,18.5 46.4,16.2 46.5,13.8C46.6,11.4 46.1,9.0 45.8,6.6C45.4,4.2 44.6,0.6 44.3,-0.6"/><path class="kc" d="M79.1,-0.6C78.3,0.8 75.9,5.1 74.5,8.0C73.1,10.9 72.0,13.8 70.9,16.6C69.8,19.5 68.6,22.4 68.0,25.3C67.4,28.1 67.0,31.2 67.3,33.9C67.7,36.5 68.9,39.0 70.2,41.1C71.5,43.1 73.3,44.8 75.2,46.1C77.1,47.4 79.4,48.4 81.7,49.0C84.0,49.6 86.5,49.7 88.9,49.7C91.3,49.7 93.7,49.4 96.1,49.0C98.5,48.5 101.3,47.9 103.2,46.8C105.2,45.7 106.4,44.2 107.6,42.5C108.8,40.8 109.2,38.7 110.4,36.7C111.6,34.8 113.1,32.8 114.7,31.0C116.4,29.2 118.6,27.8 120.5,26.0C122.4,24.2 124.6,22.3 126.2,20.2C127.9,18.2 129.7,16.0 130.5,13.8C131.4,11.5 131.4,9.0 131.3,6.6C131.1,4.2 130.1,0.6 129.8,-0.6"/><path class="kc" d="M91.0,15.2C90.9,13.6 90.9,11.1 91.7,9.4C92.6,7.8 94.4,6.2 96.1,5.1C97.7,4.1 99.9,3.1 101.8,3.0C103.7,2.9 106.0,3.5 107.6,4.4C109.1,5.4 110.5,7.0 111.1,8.7C111.7,10.4 111.7,12.7 111.1,14.5C110.5,16.3 109.1,18.3 107.6,19.5C106.0,20.7 103.7,21.4 101.8,21.7C99.9,21.9 97.6,21.4 96.1,20.9C94.5,20.5 93.3,19.7 92.5,18.8C91.6,17.8 91.1,16.8 91.0,15.2Z"/><path class="kc" d="M-0.9,66.2C0.6,67.5 5.4,71.6 8.4,74.1C11.4,76.6 14.1,78.7 17.0,81.3C19.9,83.9 22.8,87.2 25.6,89.9C28.5,92.7 31.4,95.2 34.3,97.8C37.1,100.5 40.0,103.2 42.9,105.7C45.8,108.2 48.9,110.5 51.5,112.9C54.1,115.3 56.3,117.8 58.7,120.1C61.1,122.4 63.5,124.5 65.9,126.6C68.3,128.6 70.9,130.5 73.1,132.3C75.2,134.1 77.3,135.8 78.8,137.3C80.4,138.9 81.8,140.9 82.4,141.7"/><path class="kc" d="M1.9,141.7C2.8,141.2 5.2,139.6 7.0,139.1C8.8,138.5 10.7,138.3 12.7,138.5C14.7,138.7 18.1,140.2 19.2,140.5"/><path class="kd" d="M189.9,1.5C189.3,2.6 186.9,5.7 186.0,8.0C185.2,10.3 184.4,12.7 184.6,15.2C184.8,17.7 186.5,20.7 187.5,23.1C188.4,25.5 190.0,27.3 190.4,29.6C190.7,31.8 190.1,34.4 189.6,36.7C189.2,39.1 187.6,41.5 187.5,43.9C187.4,46.3 188.0,48.7 188.9,51.1C189.9,53.5 192.2,55.9 193.2,58.3C194.3,60.7 194.3,63.3 195.4,65.5C196.5,67.6 198.0,69.3 199.7,71.2C201.4,73.2 203.3,74.8 205.4,77.0C207.6,79.1 210.2,82.0 212.6,84.2C215.0,86.3 217.4,88.1 219.8,89.9C222.2,91.7 224.4,93.4 227.0,95.0C229.6,96.5 232.7,97.8 235.6,99.3C238.5,100.7 241.8,102.0 244.2,103.6C246.6,105.1 248.1,106.6 250.0,108.6C251.9,110.6 253.9,113.4 255.7,115.8C257.5,118.2 259.6,120.6 260.8,123.0C262.0,125.4 262.8,127.8 262.9,130.2C263.0,132.6 262.1,135.4 261.5,137.3C260.9,139.3 259.7,140.9 259.3,141.7"/><path class="kd" d="M208.3,3.0C209.3,3.8 212.1,6.8 214.1,8.0C216.0,9.2 217.7,10.2 219.8,10.2C222.0,10.2 225.1,9.1 227.0,8.0C228.9,6.9 230.3,5.1 231.3,3.7C232.3,2.3 232.7,0.1 233.0,-0.6"/><path class="kd" d="M229.9,36.7C229.5,35.9 228.7,34.4 229.2,33.2C229.6,32.0 231.0,30.5 232.7,29.6C234.5,28.6 237.1,27.9 239.9,27.4C242.8,26.9 246.4,26.6 250.0,26.4C253.6,26.2 257.7,26.0 261.5,26.0C265.3,26.0 269.2,26.2 273.0,26.4C276.8,26.6 280.9,27.1 284.5,27.4C288.1,27.7 291.9,27.8 294.5,28.1C297.2,28.5 298.9,28.6 300.3,29.6C301.7,30.5 302.6,32.0 303.2,33.9C303.8,35.8 303.9,38.4 303.9,41.1C303.9,43.7 303.4,46.8 303.2,49.7C302.9,52.6 302.3,55.7 302.4,58.3C302.6,60.9 303.4,63.1 303.9,65.5C304.4,67.9 305.4,70.0 305.3,72.7C305.2,75.3 304.2,78.9 303.2,81.3C302.1,83.7 300.8,85.4 298.9,87.0C296.9,88.7 294.3,90.3 291.7,91.4C289.0,92.4 285.9,93.3 283.0,93.5C280.2,93.8 277.3,93.4 274.4,92.8C271.5,92.2 268.2,91.1 265.8,89.9C263.4,88.7 261.5,87.3 260.1,85.6C258.6,83.9 256.9,81.8 257.2,79.9C257.4,77.9 260.3,75.8 261.5,74.1C262.7,72.4 264.4,71.5 264.4,69.8C264.4,68.1 262.9,65.7 261.5,64.1C260.1,62.4 257.9,60.9 255.7,59.7C253.6,58.5 251.0,58.1 248.6,56.9C246.2,55.7 243.3,54.0 241.4,52.6C239.5,51.1 238.3,49.9 237.1,48.2C235.9,46.6 235.1,44.2 234.2,42.5C233.2,40.8 232.0,39.1 231.3,38.2C230.6,37.2 230.2,37.6 229.9,36.7Z"/><path class="kd" d="M268.0,2.3C269.3,2.5 273.1,3.5 275.9,3.7C278.6,3.9 282.0,4.0 284.5,3.7C287.0,3.4 289.9,2.3 290.9,2.0"/><path class="kd" d="M325.9,0.8C325.7,2.3 325.4,7.0 324.7,9.4C324.1,11.8 323.3,13.5 321.8,15.2C320.4,16.9 318.0,18.3 316.1,19.5C314.2,20.7 312.1,22.1 310.4,22.4C308.6,22.6 305.8,22.4 305.3,20.9C304.8,19.5 306.4,15.7 307.5,13.8C308.6,11.8 310.1,10.3 311.8,9.4C313.5,8.6 316.6,8.8 317.5,8.7"/><path class="kd" d="M338.9,64.1C338.9,62.5 339.6,60.0 341.0,58.6C342.4,57.2 345.2,56.0 347.5,55.7C349.8,55.5 352.7,56.1 354.7,57.2C356.7,58.2 358.5,60.2 359.4,61.9C360.3,63.6 359.7,66.0 360.0,67.6C360.3,69.3 360.0,70.4 361.1,72.0C362.3,73.5 365.3,75.3 366.9,77.0C368.5,78.7 370.5,80.2 370.9,82.0C371.3,83.8 370.3,86.0 369.0,87.8C367.8,89.6 365.6,91.5 363.3,92.8C361.0,94.1 358.0,95.1 355.4,95.4C352.7,95.6 350.0,95.1 347.5,94.2C345.0,93.3 342.2,91.7 340.3,89.9C338.4,88.1 336.7,85.6 336.0,83.5C335.3,81.3 335.5,78.9 336.0,77.0C336.5,75.1 338.0,73.5 338.9,72.0C339.7,70.4 341.0,69.0 341.0,67.6C341.0,66.3 338.9,65.6 338.9,64.1Z"/><path class="kd" d="M315.9,114.4C316.0,112.9 316.2,108.8 316.6,105.7C316.9,102.6 317.5,98.8 318.0,95.7C318.5,92.6 319.2,89.9 319.5,87.0C319.7,84.2 319.6,81.3 319.5,78.4C319.3,75.6 318.7,72.9 318.7,69.8C318.7,66.7 319.0,62.6 319.5,59.7C319.9,56.9 320.4,55.2 321.6,52.6C322.8,49.9 324.7,46.6 326.6,43.9C328.6,41.3 330.7,38.8 333.1,36.7C335.5,34.7 338.3,32.8 341.0,31.7C343.8,30.6 346.8,30.0 349.6,30.3C352.5,30.5 355.6,31.8 358.3,33.2C360.9,34.5 363.0,36.2 365.4,38.2C367.8,40.2 370.6,43.0 372.6,45.4C374.7,47.8 376.3,49.9 377.7,52.6C379.0,55.2 379.9,58.3 380.5,61.2C381.1,64.1 380.4,67.4 381.3,69.8C382.1,72.2 384.5,73.4 385.6,75.6C386.6,77.7 387.4,79.9 387.7,82.7C388.1,85.6 387.8,89.4 387.7,92.8C387.6,96.1 387.6,99.7 387.0,102.9C386.4,106.0 385.6,109.1 384.1,111.5C382.7,113.9 380.8,115.7 378.4,117.2C376.0,118.8 372.9,119.7 369.8,120.8C366.6,121.9 363.0,122.9 359.7,123.7C356.3,124.5 352.5,124.8 349.6,125.8C346.8,126.9 344.6,128.5 342.4,130.2C340.3,131.8 338.3,134.0 336.7,135.9C335.1,137.8 333.7,140.7 333.1,141.7"/><path class="kd" d="M306.5,19.5C307.5,19.1 309.9,17.9 312.3,17.3C314.7,16.8 317.8,16.4 320.9,15.9C324.0,15.4 327.6,14.8 331.0,14.5C334.3,14.1 337.9,13.8 341.0,13.8C344.1,13.8 346.8,13.8 349.6,14.5C352.5,15.2 355.4,16.5 358.3,18.1C361.1,19.6 364.0,22.0 366.9,23.8C369.8,25.6 372.6,27.2 375.5,28.8C378.4,30.5 381.7,32.1 384.1,33.9C386.5,35.7 388.2,37.5 389.9,39.6C391.6,41.8 393.2,44.4 394.2,46.8C395.1,49.2 395.4,51.4 395.6,54.0C395.9,56.6 395.4,60.0 395.6,62.6C395.9,65.3 396.1,67.6 397.1,69.8C398.0,72.0 400.2,73.4 401.4,75.6C402.6,77.7 403.6,79.9 404.2,82.7C404.8,85.6 405.0,89.4 405.0,92.8C405.0,96.1 404.1,99.7 404.2,102.9C404.4,106.0 405.9,108.8 405.7,111.5C405.4,114.1 404.2,116.5 402.8,118.7C401.4,120.8 399.2,122.5 397.1,124.4C394.9,126.3 392.3,128.2 389.9,130.2C387.5,132.1 385.2,134.0 382.7,135.9C380.2,137.8 376.1,140.7 374.8,141.7"/><path class="kd" d="M315.9,114.4C315.3,115.5 314.1,119.6 312.3,121.5C310.5,123.5 307.5,124.7 305.1,125.8C302.7,127.0 299.1,128.2 297.9,128.7"/><path class="kd" d="M296.5,134.5C297.7,134.7 301.5,134.7 303.6,135.9C305.8,137.1 308.4,140.7 309.4,141.7"/><path class="kc" d="M398.5,-0.6C399.7,0.1 403.5,2.3 405.7,3.7C407.8,5.1 410.0,6.1 411.4,8.0C412.9,9.9 413.3,12.6 414.3,15.2C415.3,17.8 416.1,20.9 417.2,23.8C418.3,26.7 419.8,29.6 420.8,32.4C421.7,35.3 422.2,38.2 422.9,41.1C423.6,43.9 424.8,46.8 425.1,49.7C425.3,52.6 424.4,55.4 424.4,58.3C424.4,61.2 424.5,64.1 425.1,66.9C425.7,69.8 426.6,72.7 428.0,75.6C429.3,78.4 431.2,81.3 433.0,84.2C434.8,87.0 437.1,89.9 438.7,92.8C440.4,95.7 441.6,98.8 443.0,101.4C444.5,104.1 445.7,106.4 447.4,108.6C449.0,110.8 450.9,112.7 453.1,114.4C455.3,116.0 457.7,117.5 460.3,118.7C462.9,119.9 466.0,121.1 468.9,121.5C471.8,122.0 474.7,121.9 477.5,121.5C480.4,121.2 483.8,120.3 486.2,119.4C488.6,118.4 490.1,117.3 491.9,115.8C493.7,114.2 495.6,112.2 496.9,110.0C498.3,107.9 499.0,105.3 499.8,102.9C500.6,100.5 500.9,97.8 502.0,95.7C503.0,93.5 504.6,91.6 506.3,89.9C508.0,88.2 510.1,87.3 512.0,85.6C513.9,83.9 516.8,80.8 517.8,79.9"/><path class="kc" d="M441.6,61.2C441.6,58.8 441.4,55.4 441.6,52.6C441.8,49.7 442.1,46.3 443.0,43.9C444.0,41.5 445.4,39.6 447.4,38.2C449.3,36.7 451.9,35.7 454.5,35.3C457.2,35.0 460.5,35.4 463.2,36.0C465.8,36.6 468.0,37.9 470.4,38.9C472.7,39.9 475.1,40.7 477.5,41.8C479.9,42.9 482.6,44.1 484.7,45.4C486.9,46.7 488.8,48.0 490.5,49.7C492.1,51.4 494.2,53.5 494.8,55.4C495.4,57.3 494.8,59.7 494.1,61.2C493.3,62.6 491.2,62.6 490.5,64.1C489.8,65.5 489.6,67.9 489.8,69.8C489.9,71.7 491.5,73.6 491.2,75.6C490.8,77.5 489.4,79.5 487.6,81.3C485.8,83.1 483.0,85.1 480.4,86.3C477.8,87.5 474.7,88.4 471.8,88.5C468.9,88.6 466.0,87.9 463.2,87.0C460.3,86.2 457.2,84.9 454.5,83.5C451.9,82.0 449.3,80.2 447.4,78.4C445.4,76.6 444.0,74.6 443.0,72.7C442.1,70.8 441.8,68.8 441.6,66.9C441.4,65.0 441.6,63.6 441.6,61.2Z"/><path class="kc" d="M468.0,-0.6C467.9,1.1 467.8,6.5 467.7,9.5C467.6,12.5 467.3,16.1 467.3,17.5"/><path class="kc" d="M478.1,18.9C479.8,18.8 484.8,18.8 488.2,18.2C491.6,17.6 495.4,16.5 498.3,15.3C501.2,14.1 503.4,12.5 505.5,11.0C507.7,9.4 509.9,7.8 511.3,5.9C512.7,4.0 513.3,0.5 513.8,-0.6"/><path class="kc" d="M534.0,-0.6C533.8,0.6 532.6,4.7 533.0,6.6C533.3,8.6 534.4,10.1 535.8,11.0C537.3,11.8 539.7,11.9 541.6,11.7C543.5,11.4 545.8,10.7 547.4,9.5C549.0,8.3 550.6,6.2 551.0,4.5C551.4,2.8 550.2,0.3 550.0,-0.6"/><path class="kc" d="M570.1,-0.6C569.8,0.6 569.5,4.2 568.3,6.6C567.2,9.0 565.3,11.4 563.3,13.9C561.2,16.3 558.7,18.7 556.1,21.1C553.4,23.5 550.3,26.1 547.4,28.3C544.5,30.5 541.4,32.1 538.7,34.1C536.1,36.0 533.4,37.9 531.5,39.8C529.6,41.8 527.8,43.5 527.2,45.6C526.6,47.8 528.4,50.4 527.9,52.8C527.4,55.2 525.9,57.9 524.3,60.1C522.7,62.2 519.7,63.7 518.5,65.8C517.3,68.0 517.3,70.6 517.1,73.0C516.8,75.5 517.6,78.1 517.1,80.3C516.6,82.4 515.6,84.1 514.2,86.0C512.7,88.0 510.1,90.0 508.4,91.8C506.7,93.6 504.8,96.0 504.1,96.9"/><path class="kc" d="M635.5,65.8C634.0,64.9 629.4,61.6 626.8,60.1C624.1,58.5 622.2,57.6 619.6,56.4C616.9,55.2 613.8,53.8 610.9,52.8C608.0,51.9 605.1,51.0 602.3,50.7C599.4,50.3 596.5,50.1 593.6,50.7C590.7,51.3 587.3,52.7 584.9,54.3C582.5,55.8 580.2,57.9 579.2,60.1C578.1,62.2 578.2,64.9 578.4,67.3C578.7,69.7 580.7,72.1 580.6,74.5C580.5,76.9 578.6,79.3 577.7,81.7C576.9,84.1 575.7,86.5 575.5,88.9C575.4,91.3 575.9,93.5 577.0,96.1C578.1,98.8 580.2,102.2 582.0,104.8C583.8,107.5 585.9,109.6 587.8,112.0C589.7,114.4 591.7,116.8 593.6,119.2C595.5,121.7 597.7,124.1 599.4,126.5C601.0,128.9 602.4,131.0 603.7,133.7C604.9,136.3 606.3,140.9 606.9,142.3"/>
</g></g>
<line x1="102.1" y1="474.8" x2="102.1" y2="469.6" stroke="#000" stroke-width="3.0" stroke-linecap="round"/>
<line x1="102.1" y1="615.6" x2="102.1" y2="620.8" stroke="#000" stroke-width="3.0" stroke-linecap="round"/>
<line x1="119.7" y1="474.8" x2="119.7" y2="471.9" stroke="#000" stroke-width="1.5" stroke-linecap="round"/>
<line x1="119.7" y1="615.6" x2="119.7" y2="618.5" stroke="#000" stroke-width="1.5" stroke-linecap="round"/>
<line x1="137.3" y1="474.8" x2="137.3" y2="471.9" stroke="#000" stroke-width="1.5" stroke-linecap="round"/>
<line x1="137.3" y1="615.6" x2="137.3" y2="618.5" stroke="#000" stroke-width="1.5" stroke-linecap="round"/>
<line x1="154.9" y1="474.8" x2="154.9" y2="471.9" stroke="#000" stroke-width="1.5" stroke-linecap="round"/>
<line x1="154.9" y1="615.6" x2="154.9" y2="618.5" stroke="#000" stroke-width="1.5" stroke-linecap="round"/>
<line x1="172.5" y1="474.8" x2="172.5" y2="471.9" stroke="#000" stroke-width="1.5" stroke-linecap="round"/>
<line x1="172.5" y1="615.6" x2="172.5" y2="618.5" stroke="#000" stroke-width="1.5" stroke-linecap="round"/>
<line x1="190.1" y1="474.8" x2="190.1" y2="471.9" stroke="#000" stroke-width="1.5" stroke-linecap="round"/>
<line x1="190.1" y1="615.6" x2="190.1" y2="618.5" stroke="#000" stroke-width="1.5" stroke-linecap="round"/>
<line x1="207.7" y1="474.8" x2="207.7" y2="469.6" stroke="#000" stroke-width="3.0" stroke-linecap="round"/>
<line x1="207.7" y1="615.6" x2="207.7" y2="620.8" stroke="#000" stroke-width="3.0" stroke-linecap="round"/>
<line x1="225.3" y1="474.8" x2="225.3" y2="471.9" stroke="#000" stroke-width="1.5" stroke-linecap="round"/>
<line x1="225.3" y1="615.6" x2="225.3" y2="618.5" stroke="#000" stroke-width="1.5" stroke-linecap="round"/>
<line x1="242.9" y1="474.8" x2="242.9" y2="471.9" stroke="#000" stroke-width="1.5" stroke-linecap="round"/>
<line x1="242.9" y1="615.6" x2="242.9" y2="618.5" stroke="#000" stroke-width="1.5" stroke-linecap="round"/>
<line x1="260.5" y1="474.8" x2="260.5" y2="471.9" stroke="#000" stroke-width="1.5" stroke-linecap="round"/>
<line x1="260.5" y1="615.6" x2="260.5" y2="618.5" stroke="#000" stroke-width="1.5" stroke-linecap="round"/>
<line x1="278.1" y1="474.8" x2="278.1" y2="471.9" stroke="#000" stroke-width="1.5" stroke-linecap="round"/>
<line x1="278.1" y1="615.6" x2="278.1" y2="618.5" stroke="#000" stroke-width="1.5" stroke-linecap="round"/>
<line x1="295.7" y1="474.8" x2="295.7" y2="471.9" stroke="#000" stroke-width="1.5" stroke-linecap="round"/>
<line x1="295.7" y1="615.6" x2="295.7" y2="618.5" stroke="#000" stroke-width="1.5" stroke-linecap="round"/>
<line x1="313.3" y1="474.8" x2="313.3" y2="469.6" stroke="#000" stroke-width="3.0" stroke-linecap="round"/>
<line x1="313.3" y1="615.6" x2="313.3" y2="620.8" stroke="#000" stroke-width="3.0" stroke-linecap="round"/>
<line x1="330.9" y1="474.8" x2="330.9" y2="471.9" stroke="#000" stroke-width="1.5" stroke-linecap="round"/>
<line x1="330.9" y1="615.6" x2="330.9" y2="618.5" stroke="#000" stroke-width="1.5" stroke-linecap="round"/>
<line x1="348.5" y1="474.8" x2="348.5" y2="471.9" stroke="#000" stroke-width="1.5" stroke-linecap="round"/>
<line x1="348.5" y1="615.6" x2="348.5" y2="618.5" stroke="#000" stroke-width="1.5" stroke-linecap="round"/>
<line x1="366.1" y1="474.8" x2="366.1" y2="471.9" stroke="#000" stroke-width="1.5" stroke-linecap="round"/>
<line x1="366.1" y1="615.6" x2="366.1" y2="618.5" stroke="#000" stroke-width="1.5" stroke-linecap="round"/>
<line x1="383.7" y1="474.8" x2="383.7" y2="471.9" stroke="#000" stroke-width="1.5" stroke-linecap="round"/>
<line x1="383.7" y1="615.6" x2="383.7" y2="618.5" stroke="#000" stroke-width="1.5" stroke-linecap="round"/>
<line x1="401.2" y1="474.8" x2="401.2" y2="471.9" stroke="#000" stroke-width="1.5" stroke-linecap="round"/>
<line x1="401.2" y1="615.6" x2="401.2" y2="618.5" stroke="#000" stroke-width="1.5" stroke-linecap="round"/>
<line x1="418.8" y1="474.8" x2="418.8" y2="469.6" stroke="#000" stroke-width="3.0" stroke-linecap="round"/>
<line x1="418.8" y1="615.6" x2="418.8" y2="620.8" stroke="#000" stroke-width="3.0" stroke-linecap="round"/>
<line x1="436.4" y1="474.8" x2="436.4" y2="471.9" stroke="#000" stroke-width="1.5" stroke-linecap="round"/>
<line x1="436.4" y1="615.6" x2="436.4" y2="618.5" stroke="#000" stroke-width="1.5" stroke-linecap="round"/>
<line x1="454.0" y1="474.8" x2="454.0" y2="471.9" stroke="#000" stroke-width="1.5" stroke-linecap="round"/>
<line x1="454.0" y1="615.6" x2="454.0" y2="618.5" stroke="#000" stroke-width="1.5" stroke-linecap="round"/>
<line x1="471.6" y1="474.8" x2="471.6" y2="471.9" stroke="#000" stroke-width="1.5" stroke-linecap="round"/>
<line x1="471.6" y1="615.6" x2="471.6" y2="618.5" stroke="#000" stroke-width="1.5" stroke-linecap="round"/>
<line x1="489.2" y1="474.8" x2="489.2" y2="471.9" stroke="#000" stroke-width="1.5" stroke-linecap="round"/>
<line x1="489.2" y1="615.6" x2="489.2" y2="618.5" stroke="#000" stroke-width="1.5" stroke-linecap="round"/>
<line x1="506.8" y1="474.8" x2="506.8" y2="471.9" stroke="#000" stroke-width="1.5" stroke-linecap="round"/>
<line x1="506.8" y1="615.6" x2="506.8" y2="618.5" stroke="#000" stroke-width="1.5" stroke-linecap="round"/>
<line x1="524.4" y1="474.8" x2="524.4" y2="469.6" stroke="#000" stroke-width="3.0" stroke-linecap="round"/>
<line x1="524.4" y1="615.6" x2="524.4" y2="620.8" stroke="#000" stroke-width="3.0" stroke-linecap="round"/>
<line x1="542.0" y1="474.8" x2="542.0" y2="471.9" stroke="#000" stroke-width="1.5" stroke-linecap="round"/>
<line x1="542.0" y1="615.6" x2="542.0" y2="618.5" stroke="#000" stroke-width="1.5" stroke-linecap="round"/>
<line x1="559.6" y1="474.8" x2="559.6" y2="471.9" stroke="#000" stroke-width="1.5" stroke-linecap="round"/>
<line x1="559.6" y1="615.6" x2="559.6" y2="618.5" stroke="#000" stroke-width="1.5" stroke-linecap="round"/>
<line x1="577.2" y1="474.8" x2="577.2" y2="471.9" stroke="#000" stroke-width="1.5" stroke-linecap="round"/>
<line x1="577.2" y1="615.6" x2="577.2" y2="618.5" stroke="#000" stroke-width="1.5" stroke-linecap="round"/>
<line x1="594.8" y1="474.8" x2="594.8" y2="471.9" stroke="#000" stroke-width="1.5" stroke-linecap="round"/>
<line x1="594.8" y1="615.6" x2="594.8" y2="618.5" stroke="#000" stroke-width="1.5" stroke-linecap="round"/>
<line x1="612.4" y1="474.8" x2="612.4" y2="471.9" stroke="#000" stroke-width="1.5" stroke-linecap="round"/>
<line x1="612.4" y1="615.6" x2="612.4" y2="618.5" stroke="#000" stroke-width="1.5" stroke-linecap="round"/>
<line x1="630.0" y1="474.8" x2="630.0" y2="469.6" stroke="#000" stroke-width="3.0" stroke-linecap="round"/>
<line x1="630.0" y1="615.6" x2="630.0" y2="620.8" stroke="#000" stroke-width="3.0" stroke-linecap="round"/>
<line x1="647.6" y1="474.8" x2="647.6" y2="471.9" stroke="#000" stroke-width="1.5" stroke-linecap="round"/>
<line x1="647.6" y1="615.6" x2="647.6" y2="618.5" stroke="#000" stroke-width="1.5" stroke-linecap="round"/>
<line x1="665.2" y1="474.8" x2="665.2" y2="471.9" stroke="#000" stroke-width="1.5" stroke-linecap="round"/>
<line x1="665.2" y1="615.6" x2="665.2" y2="618.5" stroke="#000" stroke-width="1.5" stroke-linecap="round"/>
<line x1="682.8" y1="474.8" x2="682.8" y2="471.9" stroke="#000" stroke-width="1.5" stroke-linecap="round"/>
<line x1="682.8" y1="615.6" x2="682.8" y2="618.5" stroke="#000" stroke-width="1.5" stroke-linecap="round"/>
<line x1="700.4" y1="474.8" x2="700.4" y2="471.9" stroke="#000" stroke-width="1.5" stroke-linecap="round"/>
<line x1="700.4" y1="615.6" x2="700.4" y2="618.5" stroke="#000" stroke-width="1.5" stroke-linecap="round"/>
<line x1="718.0" y1="474.8" x2="718.0" y2="471.9" stroke="#000" stroke-width="1.5" stroke-linecap="round"/>
<line x1="718.0" y1="615.6" x2="718.0" y2="618.5" stroke="#000" stroke-width="1.5" stroke-linecap="round"/>
<line x1="735.6" y1="474.8" x2="735.6" y2="469.6" stroke="#000" stroke-width="3.0" stroke-linecap="round"/>
<line x1="735.6" y1="615.6" x2="735.6" y2="620.8" stroke="#000" stroke-width="3.0" stroke-linecap="round"/>
<line x1="102.1" y1="598.0" x2="96.9" y2="598.0" stroke="#000" stroke-width="3.0" stroke-linecap="round"/>
<line x1="735.6" y1="598.0" x2="740.8" y2="598.0" stroke="#000" stroke-width="3.0" stroke-linecap="round"/>
<line x1="102.1" y1="580.4" x2="99.2" y2="580.4" stroke="#000" stroke-width="1.5" stroke-linecap="round"/>
<line x1="735.6" y1="580.4" x2="738.5" y2="580.4" stroke="#000" stroke-width="1.5" stroke-linecap="round"/>
<line x1="102.1" y1="562.8" x2="99.2" y2="562.8" stroke="#000" stroke-width="1.5" stroke-linecap="round"/>
<line x1="735.6" y1="562.8" x2="738.5" y2="562.8" stroke="#000" stroke-width="1.5" stroke-linecap="round"/>
<line x1="102.1" y1="545.2" x2="96.9" y2="545.2" stroke="#000" stroke-width="3.0" stroke-linecap="round"/>
<line x1="735.6" y1="545.2" x2="740.8" y2="545.2" stroke="#000" stroke-width="3.0" stroke-linecap="round"/>
<line x1="102.1" y1="527.6" x2="99.2" y2="527.6" stroke="#000" stroke-width="1.5" stroke-linecap="round"/>
<line x1="735.6" y1="527.6" x2="738.5" y2="527.6" stroke="#000" stroke-width="1.5" stroke-linecap="round"/>
<line x1="102.1" y1="510.0" x2="99.2" y2="510.0" stroke="#000" stroke-width="1.5" stroke-linecap="round"/>
<line x1="735.6" y1="510.0" x2="738.5" y2="510.0" stroke="#000" stroke-width="1.5" stroke-linecap="round"/>
<line x1="102.1" y1="492.4" x2="96.9" y2="492.4" stroke="#000" stroke-width="3.0" stroke-linecap="round"/>
<line x1="735.6" y1="492.4" x2="740.8" y2="492.4" stroke="#000" stroke-width="3.0" stroke-linecap="round"/>
<rect x="102.1" y="474.8" width="633.5" height="140.8" fill="none" stroke="#000" stroke-width="3.3"/>
<text class="t34" id="t3" x="100.2" y="466.6" textLength="269.7" lengthAdjust="spacingAndGlyphs">26-Mar to 30-Mar</text>
<text class="tk" x="73.5" y="504.8" text-anchor="end">30N</text>
<text class="tk" x="73.5" y="557.6" text-anchor="end">0</text>
<text class="tk" x="73.5" y="610.4" text-anchor="end">30S</text>
<g transform="translate(102.1,689.5)"><g clip-path="url(#pc)">
<rect x="0" y="0" width="633.5" height="140.8" fill="#f5f5f5"/>
<g filter="url(#sm)"><path d="M-8.8,-13.2C0.3,-32.4 36.5,-15.6 45.8,-13.2C55.0,-10.9 45.8,-2.5 46.5,1.1C47.2,4.7 48.3,6.2 50.1,8.3C51.9,10.5 55.3,11.9 57.3,14.1C59.2,16.2 60.1,18.8 61.6,21.2C63.0,23.6 64.2,26.3 65.9,28.4C67.6,30.6 69.7,32.5 71.6,34.2C73.5,35.9 75.5,37.5 77.4,38.5C79.3,39.4 81.0,40.2 83.1,39.9C85.3,39.7 87.9,38.2 90.3,37.0C92.7,35.9 95.1,33.9 97.5,32.7C99.9,31.5 102.3,30.6 104.7,29.9C107.1,29.1 109.2,28.8 111.9,28.4C114.5,28.1 118.1,27.6 120.5,27.7C122.9,27.8 125.8,28.1 126.2,29.1C126.7,30.2 125.0,32.6 123.4,34.2C121.7,35.7 118.6,37.3 116.2,38.5C113.8,39.7 110.7,40.2 109.0,41.4C107.3,42.6 105.6,44.2 106.1,45.7C106.6,47.1 110.4,48.3 111.9,50.0C113.3,51.7 114.7,53.6 114.7,55.7C114.7,57.9 113.1,60.5 111.9,62.9C110.7,65.3 108.6,67.5 107.6,70.1C106.5,72.7 105.3,75.9 105.4,78.7C105.5,81.6 107.2,84.5 108.3,87.3C109.4,90.2 111.3,93.3 111.9,96.0C112.5,98.6 112.5,100.8 111.9,103.2C111.3,105.6 109.7,108.2 108.3,110.3C106.8,112.5 104.4,114.2 103.2,116.1C102.0,118.0 101.1,119.7 101.1,121.8C101.1,124.0 102.0,126.6 103.2,129.0C104.4,131.4 106.8,132.6 108.3,136.2C109.7,139.8 124.2,148.2 111.9,150.6C99.5,153.0 47.7,152.7 34.3,150.6C20.9,148.4 32.8,140.8 31.4,137.6C30.0,134.5 27.8,134.3 25.6,131.9C23.5,129.5 20.9,126.1 18.5,123.3C16.1,120.4 13.4,117.3 11.3,114.7C9.1,112.0 7.4,109.6 5.5,107.5C3.7,105.3 2.5,102.7 0.1,101.7C-2.3,100.8 -7.4,120.9 -8.8,101.7C-10.3,82.6 -17.9,5.9 -8.8,-13.2Z" fill="#c7eae5"/><path d="M94.6,-13.2C85.3,-10.4 95.1,-0.3 96.1,4.0C97.0,8.3 98.5,10.0 100.4,12.6C102.3,15.3 104.9,18.0 107.6,19.8C110.2,21.6 113.5,22.4 116.2,23.4C118.8,24.4 120.7,25.9 123.4,25.6C126.0,25.2 129.4,22.9 132.0,21.2C134.6,19.6 136.8,17.4 139.2,15.5C141.6,13.6 144.4,11.7 146.4,9.7C148.3,7.8 149.7,7.8 150.7,4.0C151.6,0.2 161.4,-10.4 152.1,-13.2C142.8,-16.1 104.0,-16.1 94.6,-13.2Z" fill="#c7eae5"/><path d="M127.0,107.5C127.4,106.1 130.2,104.4 132.0,103.9C133.8,103.4 135.8,104.0 137.7,104.6C139.7,105.2 141.6,106.3 143.5,107.5C145.4,108.7 147.6,110.1 149.2,111.8C150.9,113.5 153.1,115.8 153.5,117.5C154.0,119.2 153.3,121.0 152.1,121.8C150.9,122.7 148.5,122.8 146.4,122.6C144.2,122.3 141.3,121.5 139.2,120.4C137.0,119.3 135.1,117.5 133.4,116.1C131.7,114.7 130.2,113.2 129.1,111.8C128.0,110.3 126.5,108.8 127.0,107.5Z" fill="#c7eae5"/><path d="M143.6,64.4C143.8,62.2 145.3,58.6 146.5,55.7C147.7,52.9 149.2,49.7 150.8,47.1C152.5,44.5 154.7,42.3 156.6,39.9C158.5,37.5 160.7,35.4 162.3,32.7C164.0,30.1 165.4,27.0 166.6,24.1C167.8,21.2 168.3,18.1 169.5,15.5C170.7,12.9 171.4,10.2 173.8,8.3C176.2,6.4 180.3,5.2 183.9,4.0C187.5,2.8 193.0,4.0 195.4,1.1C197.8,-1.8 173.3,-10.9 198.3,-13.2C223.2,-15.6 320.6,-15.6 344.8,-13.2C369.0,-10.9 344.4,-2.7 343.4,1.1C342.4,5.0 340.5,6.9 339.1,9.7C337.7,12.6 336.0,15.5 334.8,18.4C333.6,21.2 331.4,24.1 331.9,27.0C332.4,29.9 336.9,32.3 337.7,35.6C338.4,39.0 337.7,44.0 336.2,47.1C334.8,50.2 331.7,52.7 329.0,54.3C326.4,55.9 323.5,55.5 320.4,56.5C317.3,57.4 313.2,58.5 310.4,60.0C307.5,61.6 305.6,64.0 303.2,65.8C300.8,67.6 298.1,69.1 296.0,70.8C293.8,72.5 292.1,74.3 290.2,75.9C288.3,77.4 286.2,78.5 284.5,80.2C282.8,81.8 281.1,83.8 280.2,85.9C279.2,88.1 279.1,90.7 278.7,93.1C278.4,95.5 278.5,97.9 278.0,100.3C277.5,102.7 276.9,105.1 275.9,107.5C274.8,109.9 273.5,112.7 271.5,114.7C269.6,116.6 267.0,118.0 264.4,119.0C261.7,119.9 258.6,120.4 255.7,120.4C252.9,120.4 249.5,118.7 247.1,119.0C244.7,119.2 243.3,120.9 241.4,121.8C239.5,122.8 238.0,124.1 235.6,124.7C233.2,125.3 229.9,125.4 227.0,125.4C224.1,125.4 221.3,125.0 218.4,124.7C215.5,124.5 212.1,125.0 209.8,124.0C207.4,123.0 205.7,120.8 204.0,119.0C202.3,117.2 201.1,115.4 199.7,113.2C198.3,111.1 196.8,108.4 195.4,106.0C193.9,103.6 192.7,101.0 191.1,98.8C189.4,96.7 187.5,95.0 185.3,93.1C183.2,91.2 180.8,89.3 178.1,87.3C175.5,85.4 172.4,83.3 169.5,81.6C166.6,79.9 163.8,78.7 160.9,77.3C158.0,75.9 154.8,74.4 152.3,73.0C149.8,71.5 147.2,70.1 145.8,68.7C144.4,67.2 143.5,66.5 143.6,64.4Z" fill="#f6e8c3"/><path d="M312.3,75.9C311.6,75.1 316.6,73.2 319.5,72.3C322.3,71.3 325.9,70.8 329.5,70.1C333.1,69.4 337.2,68.5 341.0,67.9C344.8,67.3 348.9,67.0 352.5,66.5C356.1,66.0 359.2,65.3 362.6,65.1C365.9,64.8 369.8,64.8 372.6,65.1C375.5,65.3 378.4,65.6 379.8,66.5C381.3,67.5 381.7,69.4 381.3,70.8C380.8,72.3 378.4,73.8 376.9,75.1C375.5,76.4 373.2,77.3 372.6,78.7C372.0,80.2 374.3,82.4 373.3,83.8C372.4,85.1 369.4,86.0 366.9,86.6C364.4,87.2 361.1,87.5 358.3,87.3C355.4,87.2 352.0,86.4 349.6,85.9C347.2,85.4 345.3,85.4 343.9,84.5C342.4,83.5 342.7,81.4 341.0,80.2C339.3,79.0 336.7,77.9 333.8,77.3C331.0,76.7 327.4,76.8 323.8,76.6C320.2,76.3 313.0,76.6 312.3,75.9Z" fill="#c7eae5"/><path d="M299.3,93.1C300.4,92.1 303.9,92.0 306.5,91.7C309.2,91.3 312.3,91.2 315.1,90.9C318.0,90.7 321.5,90.1 323.8,90.2C326.0,90.3 328.1,90.5 328.8,91.7C329.5,92.9 328.7,95.5 328.1,97.4C327.5,99.3 326.6,101.8 325.2,103.2C323.8,104.5 321.6,105.2 319.5,105.3C317.3,105.4 314.7,104.7 312.3,103.9C309.9,103.0 307.1,101.4 305.1,100.3C303.0,99.2 301.0,98.6 300.1,97.4C299.1,96.2 298.3,94.1 299.3,93.1Z" fill="#c7eae5"/><path d="M354.7,101.7C355.1,100.3 357.7,99.0 359.7,98.1C361.7,97.3 364.2,96.8 366.9,96.7C369.5,96.6 372.9,96.9 375.5,97.4C378.1,97.9 380.3,98.6 382.7,99.6C385.1,100.5 387.5,101.8 389.9,103.2C392.3,104.5 394.7,105.8 397.1,107.5C399.5,109.1 401.8,111.1 404.2,113.2C406.6,115.4 409.3,118.0 411.4,120.4C413.6,122.8 415.7,125.4 417.2,127.6C418.6,129.7 419.8,131.4 420.1,133.3C420.3,135.3 419.3,136.2 418.6,139.1C417.9,142.0 422.4,148.7 415.7,150.6C409.0,152.5 384.7,153.0 378.4,150.6C372.0,148.2 378.1,139.8 377.7,136.2C377.2,132.6 376.3,131.4 375.5,129.0C374.7,126.6 373.8,124.0 372.6,121.8C371.4,119.7 370.0,118.0 368.3,116.1C366.6,114.2 364.5,111.9 362.6,110.3C360.7,108.8 358.1,108.2 356.8,106.7C355.5,105.3 354.2,103.2 354.7,101.7Z" fill="#c7eae5"/><path d="M425.8,80.2C426.3,79.3 428.1,78.0 429.4,78.0C430.7,78.0 433.0,79.1 433.7,80.2C434.4,81.2 434.4,83.6 433.7,84.5C433.0,85.4 430.6,85.8 429.4,85.6C428.1,85.4 426.8,84.2 426.2,83.3C425.6,82.4 425.3,81.0 425.8,80.2Z" fill="#f6e8c3"/><path d="M497.6,-13.3C488.8,-11.1 497.9,-3.4 497.6,0.0C497.2,3.4 496.7,4.8 495.4,6.9C494.1,9.1 492.0,11.0 489.6,12.7C487.2,14.4 483.9,15.8 481.0,17.0C478.1,18.2 475.0,18.7 472.3,19.9C469.7,21.1 466.8,22.6 465.1,24.3C463.4,25.9 462.2,28.1 462.2,30.0C462.2,32.0 463.4,34.4 465.1,35.8C466.8,37.3 470.4,38.7 472.3,38.7C474.2,38.7 475.4,35.6 476.6,35.8C477.9,36.1 478.6,38.2 479.5,40.1C480.5,42.1 481.2,45.2 482.4,47.4C483.6,49.5 485.3,51.5 486.8,53.1C488.2,54.8 489.9,55.8 491.1,57.5C492.3,59.2 493.0,61.3 494.0,63.2C494.9,65.2 495.9,67.3 496.9,69.0C497.8,70.7 498.3,72.4 499.7,73.3C501.2,74.3 503.6,74.8 505.5,74.8C507.4,74.8 509.4,74.1 511.3,73.3C513.2,72.6 515.1,71.7 517.1,70.5C519.0,69.3 521.2,67.6 522.8,66.1C524.5,64.7 525.5,63.2 527.2,61.8C528.9,60.4 531.3,59.4 533.0,57.5C534.6,55.5 536.8,52.7 537.3,50.2C537.8,47.8 535.4,45.2 535.8,43.0C536.3,40.9 538.5,38.9 540.2,37.3C541.9,35.6 544.7,34.8 545.9,32.9C547.1,31.0 547.4,28.1 547.4,25.7C547.4,23.3 545.5,20.9 545.9,18.5C546.4,16.1 549.4,13.7 550.3,11.3C551.1,8.9 551.0,8.1 551.0,4.0C551.0,-0.0 559.2,-10.4 550.3,-13.3C541.4,-16.2 506.4,-15.5 497.6,-13.3Z" fill="#c7eae5"/><path d="M530.8,92.1C531.1,90.1 532.6,87.9 534.4,86.3C536.2,84.8 539.0,83.6 541.6,82.7C544.3,81.9 547.6,81.2 550.3,81.3C552.9,81.4 555.3,82.4 557.5,83.5C559.7,84.5 561.9,86.1 563.3,87.8C564.6,89.5 565.4,91.4 565.4,93.6C565.4,95.7 564.4,98.6 563.3,100.8C562.2,102.9 560.9,105.2 558.9,106.6C557.0,107.9 554.1,108.5 551.7,108.7C549.3,109.0 546.9,108.7 544.5,108.0C542.1,107.3 539.3,106.0 537.3,104.4C535.2,102.8 533.3,100.7 532.2,98.6C531.1,96.6 530.4,94.2 530.8,92.1Z" fill="#f6e8c3"/><path d="M424.7,-13.3C419.1,-11.1 424.2,-3.4 424.7,0.0C425.2,3.4 426.1,4.9 427.6,6.9C429.0,8.9 430.9,11.0 433.3,12.0C435.7,13.0 439.4,12.8 442.0,12.7C444.6,12.6 447.8,12.2 449.2,11.3C450.7,10.3 449.5,8.4 450.7,6.9C451.9,5.5 455.2,6.0 456.4,2.6C457.6,-0.8 463.2,-10.6 457.9,-13.3C452.6,-15.9 430.2,-15.5 424.7,-13.3Z" fill="#f6e8c3"/><path d="M501.2,122.4C502.0,120.5 503.6,118.6 505.5,118.1C507.4,117.6 510.3,118.9 512.7,119.5C515.1,120.1 517.6,121.1 520.0,121.7C522.4,122.3 525.0,122.3 527.2,123.2C529.3,124.0 531.7,125.2 533.0,126.8C534.2,128.3 534.9,130.9 534.4,132.5C533.9,134.2 532.0,135.9 530.1,136.9C528.1,137.8 525.0,137.7 522.8,138.3C520.7,139.0 520.0,138.6 517.1,140.8C514.2,142.9 508.0,152.0 505.5,151.3C503.0,150.7 502.8,140.5 501.9,136.9C501.1,133.3 500.6,132.1 500.5,129.7C500.3,127.2 500.3,124.4 501.2,122.4Z" fill="#c7eae5"/><path d="M609.5,87.8C609.7,86.8 611.9,85.7 613.8,84.9C615.7,84.1 618.6,83.5 621.0,82.7C623.4,82.0 626.2,80.9 628.2,80.6C630.3,80.2 629.8,80.6 633.4,80.6C637.0,80.6 647.2,77.9 649.9,80.6C652.6,83.2 652.6,93.9 649.9,96.4C647.2,99.0 637.3,96.4 633.4,95.7C629.6,95.0 629.1,92.8 626.8,92.1C624.5,91.4 622.0,91.6 619.6,91.4C617.2,91.2 614.0,91.3 612.4,90.7C610.7,90.1 609.2,88.7 609.5,87.8Z" fill="#c7eae5"/><path d="M605.1,-13.3C597.7,-11.1 604.4,-3.4 605.1,0.0C605.9,3.4 607.5,5.1 609.5,6.9C611.4,8.8 615.0,9.3 616.7,11.3C618.4,13.2 619.3,16.1 619.6,18.5C619.8,20.9 617.9,23.5 618.1,25.7C618.4,27.9 619.6,30.0 621.0,31.5C622.5,32.9 624.7,33.6 626.8,34.4C628.9,35.1 629.6,35.6 633.4,35.8C637.3,36.1 647.2,44.0 649.9,35.8C652.6,27.6 657.4,-5.1 649.9,-13.3C642.4,-21.5 612.6,-15.5 605.1,-13.3Z" fill="#c7eae5"/><path d="M413.1,128.2C414.1,124.6 417.6,128.2 418.9,129.7C420.2,131.1 420.8,133.3 421.1,136.9C421.3,140.5 421.7,148.9 420.3,151.3C419.0,153.7 414.3,155.2 413.1,151.3C411.9,147.5 412.2,131.8 413.1,128.2Z" fill="#c7eae5"/><path d="M-8.8,-13.2C-4.8,-20.4 11.3,-15.6 15.6,-13.2C19.9,-10.9 16.9,-2.7 17.0,1.1C17.1,5.0 16.1,7.6 16.3,9.7C16.5,11.9 17.1,13.3 18.5,14.1C19.8,14.8 22.8,13.1 24.2,14.1C25.6,15.0 27.0,17.8 27.1,19.8C27.2,21.8 26.1,25.1 24.9,26.3C23.7,27.5 21.7,27.1 19.9,27.0C18.1,26.9 16.1,25.2 14.1,25.6C12.2,25.9 10.7,28.4 8.4,29.1C6.0,29.9 2.9,29.7 0.1,29.9C-2.8,30.0 -7.4,37.0 -8.8,29.9C-10.3,22.7 -12.9,-6.1 -8.8,-13.2Z" fill="#80cdc1"/><path d="M40.0,47.1C40.5,45.0 42.4,43.0 44.3,41.4C46.2,39.7 48.9,38.0 51.5,37.0C54.1,36.1 57.7,35.4 60.1,35.6C62.5,35.9 64.2,37.0 65.9,38.5C67.6,39.9 68.3,42.3 70.2,44.2C72.1,46.2 75.2,48.5 77.4,50.0C79.5,51.4 81.7,51.4 83.1,52.9C84.6,54.3 86.0,56.7 86.0,58.6C86.0,60.5 82.6,62.4 83.1,64.4C83.6,66.3 87.0,67.7 88.9,70.1C90.8,72.5 93.2,75.9 94.6,78.7C96.1,81.6 97.3,84.7 97.5,87.3C97.7,90.0 97.3,92.6 96.1,94.5C94.9,96.4 92.5,97.6 90.3,98.8C88.2,100.0 85.3,100.8 83.1,101.7C81.0,102.7 79.1,103.2 77.4,104.6C75.7,106.0 74.7,108.7 73.1,110.3C71.4,112.0 69.0,113.2 67.3,114.7C65.6,116.1 64.2,118.7 63.0,119.0C61.8,119.2 61.6,117.3 60.1,116.1C58.7,114.9 56.1,111.8 54.4,111.8C52.7,111.8 51.5,114.9 50.1,116.1C48.6,117.3 47.4,118.5 45.8,119.0C44.1,119.4 41.7,119.7 40.0,119.0C38.3,118.2 37.1,116.3 35.7,114.7C34.3,113.0 32.2,111.1 31.4,108.9C30.6,106.7 30.4,104.4 30.7,101.7C30.9,99.1 32.2,96.0 32.8,93.1C33.4,90.2 33.8,87.3 34.3,84.5C34.7,81.6 35.6,78.7 35.7,75.9C35.8,73.0 34.7,69.9 35.0,67.2C35.2,64.6 36.1,62.2 37.1,60.0C38.2,57.9 41.0,56.5 41.4,54.3C41.9,52.1 39.5,49.3 40.0,47.1Z" fill="#80cdc1"/><path d="M164.5,55.7C164.5,53.1 165.8,50.0 166.6,47.1C167.5,44.2 168.3,41.4 169.5,38.5C170.7,35.6 172.4,32.5 173.8,29.9C175.3,27.2 176.2,24.5 178.1,22.7C180.1,20.9 182.7,19.8 185.3,19.1C188.0,18.4 191.1,18.2 193.9,18.4C196.8,18.5 199.9,19.1 202.6,19.8C205.2,20.5 207.4,22.4 209.8,22.7C212.1,22.9 214.5,22.0 216.9,21.2C219.3,20.5 221.7,19.3 224.1,18.4C226.5,17.4 228.9,16.2 231.3,15.5C233.7,14.8 235.9,14.8 238.5,14.1C241.1,13.3 244.7,12.4 247.1,11.2C249.5,10.0 251.2,8.5 252.9,6.9C254.5,5.2 256.2,4.5 257.2,1.1C258.1,-2.2 248.3,-10.9 258.6,-13.2C268.9,-15.6 308.2,-15.6 319.0,-13.2C329.8,-10.9 322.3,-2.9 323.3,1.1C324.2,5.2 324.7,7.8 324.7,11.2C324.7,14.5 324.0,17.9 323.3,21.2C322.6,24.6 321.6,28.2 320.4,31.3C319.2,34.4 317.8,37.3 316.1,39.9C314.4,42.6 312.3,45.0 310.4,47.1C308.4,49.3 306.5,50.9 304.6,52.9C302.7,54.8 301.0,56.7 298.9,58.6C296.7,60.5 293.8,62.4 291.7,64.4C289.5,66.3 287.8,68.4 285.9,70.1C284.0,71.8 282.1,73.0 280.2,74.4C278.3,75.9 275.9,77.0 274.4,78.7C273.0,80.4 271.5,82.3 271.5,84.5C271.5,86.6 273.5,89.3 274.4,91.7C275.4,94.1 277.1,96.4 277.3,98.8C277.5,101.2 277.1,104.4 275.9,106.0C274.7,107.7 272.3,108.7 270.1,108.9C268.0,109.1 265.1,107.9 262.9,107.5C260.8,107.0 259.1,106.0 257.2,106.0C255.3,106.0 253.6,107.0 251.4,107.5C249.3,107.9 246.6,108.4 244.2,108.9C241.8,109.4 239.5,109.9 237.1,110.3C234.7,110.8 232.3,111.3 229.9,111.8C227.5,112.3 224.8,113.5 222.7,113.2C220.5,113.0 218.6,111.8 216.9,110.3C215.3,108.9 214.3,106.5 212.6,104.6C211.0,102.7 208.8,100.8 206.9,98.8C205.0,96.9 203.0,94.8 201.1,93.1C199.2,91.4 197.3,90.2 195.4,88.8C193.5,87.3 191.6,85.9 189.6,84.5C187.7,83.0 186.0,81.6 183.9,80.2C181.7,78.7 178.9,77.5 176.7,75.9C174.5,74.2 172.6,72.3 171.0,70.1C169.3,67.9 167.7,65.3 166.6,62.9C165.6,60.5 164.5,58.4 164.5,55.7Z" fill="#dfc27d"/><path d="M499.7,-13.3C495.3,-10.9 499.3,-2.7 499.0,1.2C498.8,5.0 498.2,7.2 498.3,9.8C498.4,12.5 498.8,14.9 499.7,17.0C500.7,19.2 502.6,20.9 504.1,22.8C505.5,24.7 507.0,26.7 508.4,28.6C509.9,30.5 511.8,34.1 512.7,34.4C513.7,34.6 514.2,31.7 514.2,30.0C514.2,28.4 512.5,26.2 512.7,24.3C513.0,22.3 514.4,19.9 515.6,18.5C516.8,17.0 518.5,16.8 520.0,15.6C521.4,14.4 523.3,13.2 524.3,11.3C525.3,9.3 525.5,8.1 525.7,4.0C526.0,-0.0 530.1,-10.4 525.7,-13.3C521.4,-16.2 504.2,-15.7 499.7,-13.3Z" fill="#80cdc1"/><path d="M502.6,45.9C502.9,44.6 504.1,43.0 505.5,42.3C507.0,41.6 509.6,41.2 511.3,41.6C513.0,41.9 514.7,43.3 515.6,44.5C516.6,45.7 517.6,47.8 517.1,48.8C516.6,49.8 513.7,49.3 512.7,50.2C511.8,51.2 511.3,53.1 511.3,54.6C511.3,56.0 513.0,57.5 512.7,58.9C512.5,60.4 511.1,62.8 509.9,63.2C508.7,63.7 506.1,63.0 505.5,61.8C504.9,60.6 506.5,57.9 506.2,56.0C506.0,54.1 504.7,51.9 504.1,50.2C503.5,48.6 502.4,47.2 502.6,45.9Z" fill="#80cdc1"/><path d="M621.0,-13.3C616.2,-11.1 620.5,-3.4 621.0,0.0C621.5,3.4 622.9,4.6 623.9,6.9C624.9,9.3 626.6,11.7 626.8,14.2C627.0,16.6 625.1,19.4 625.4,21.4C625.6,23.3 626.9,24.5 628.2,25.7C629.6,26.9 629.8,28.1 633.4,28.6C637.0,29.1 647.2,35.6 649.9,28.6C652.6,21.6 654.7,-6.3 649.9,-13.3C645.1,-20.3 625.8,-15.5 621.0,-13.3Z" fill="#80cdc1"/><path d="M60.1,73.0C61.1,71.3 62.8,68.7 64.4,67.2C66.1,65.8 68.5,64.4 70.2,64.4C71.9,64.4 74.0,65.6 74.5,67.2C75.0,68.9 73.8,72.3 73.1,74.4C72.3,76.6 70.0,78.2 70.2,80.2C70.4,82.1 73.3,84.0 74.5,85.9C75.7,87.8 77.6,90.1 77.4,91.7C77.1,93.2 74.7,94.4 73.1,95.3C71.4,96.1 69.2,96.7 67.3,96.7C65.4,96.7 63.5,95.9 61.6,95.3C59.7,94.7 57.6,93.9 55.8,93.1C54.0,92.3 51.5,91.4 50.8,90.2C50.1,89.0 50.7,87.3 51.5,85.9C52.3,84.5 54.6,83.0 55.8,81.6C57.0,80.2 58.0,78.7 58.7,77.3C59.4,75.9 59.2,74.7 60.1,73.0Z" fill="#35978f"/><path d="M177.4,52.9C177.2,50.9 178.7,48.3 179.6,45.7C180.4,43.0 181.5,39.3 182.4,37.0C183.4,34.8 183.6,33.2 185.3,32.0C187.0,30.8 190.1,30.0 192.5,29.9C194.9,29.7 197.3,30.6 199.7,31.3C202.1,32.0 204.2,33.9 206.9,34.2C209.5,34.4 212.9,33.5 215.5,32.7C218.1,32.0 220.3,31.1 222.7,29.9C225.1,28.7 227.5,27.0 229.9,25.6C232.3,24.1 234.7,22.4 237.1,21.2C239.5,20.0 241.8,19.6 244.2,18.4C246.6,17.2 249.3,15.7 251.4,14.1C253.6,12.4 255.5,10.0 257.2,8.3C258.9,6.6 260.5,7.6 261.5,4.0C262.4,0.4 254.8,-10.4 262.9,-13.2C271.1,-16.1 301.8,-15.6 310.4,-13.2C318.9,-10.9 312.7,-2.7 313.9,1.1C315.1,5.0 316.8,6.9 317.5,9.7C318.3,12.6 318.5,15.3 318.3,18.4C318.0,21.5 317.2,25.3 316.1,28.4C315.0,31.5 313.2,34.4 311.8,37.0C310.4,39.7 308.9,42.1 307.5,44.2C306.0,46.4 305.1,48.1 303.2,50.0C301.2,51.9 298.1,53.8 296.0,55.7C293.8,57.6 292.4,59.8 290.2,61.5C288.1,63.2 285.0,64.4 283.0,65.8C281.1,67.2 280.4,68.9 278.7,70.1C277.1,71.3 274.9,72.0 273.0,73.0C271.1,73.9 268.7,74.4 267.2,75.9C265.8,77.3 265.6,79.9 264.4,81.6C263.2,83.3 262.0,84.7 260.1,85.9C258.1,87.1 255.3,88.1 252.9,88.8C250.5,89.5 247.8,90.2 245.7,90.2C243.5,90.2 241.4,90.0 239.9,88.8C238.5,87.6 237.3,85.0 237.1,83.0C236.8,81.1 239.5,78.5 238.5,77.3C237.5,76.1 233.7,76.3 231.3,75.9C228.9,75.4 226.3,74.3 224.1,74.4C222.0,74.5 220.3,76.0 218.4,76.6C216.5,77.2 214.8,77.9 212.6,78.0C210.5,78.1 207.8,77.9 205.4,77.3C203.0,76.7 199.9,75.9 198.3,74.4C196.6,73.0 196.1,70.6 195.4,68.7C194.7,66.7 195.1,64.4 193.9,62.9C192.7,61.5 190.4,61.0 188.2,60.0C186.0,59.1 182.8,58.4 181.0,57.2C179.2,56.0 177.7,54.8 177.4,52.9Z" fill="#bf812d"/><path d="M206.9,57.2C207.4,55.6 210.7,53.1 212.6,51.4C214.5,49.7 216.5,48.5 218.4,47.1C220.3,45.7 222.2,44.2 224.1,42.8C226.0,41.4 228.0,40.2 229.9,38.5C231.8,36.8 233.7,34.4 235.6,32.7C237.5,31.1 239.2,29.9 241.4,28.4C243.5,27.0 246.4,25.6 248.6,24.1C250.7,22.7 252.6,21.5 254.3,19.8C256.0,18.1 257.2,16.0 258.6,14.1C260.1,12.1 261.2,9.9 262.9,8.3C264.6,6.8 266.5,5.6 268.7,4.7C270.8,3.9 273.2,3.6 275.9,3.3C278.5,2.9 281.6,2.6 284.5,2.6C287.4,2.5 290.5,2.5 293.1,2.8C295.7,3.2 298.4,3.8 300.3,4.7C302.2,5.6 303.6,6.5 304.6,8.3C305.6,10.1 305.7,13.1 306.0,15.5C306.4,17.9 306.9,20.3 306.8,22.7C306.6,25.1 306.2,27.5 305.3,29.9C304.5,32.3 303.0,34.9 301.7,37.0C300.4,39.2 298.9,40.9 297.4,42.8C296.0,44.7 294.5,46.6 293.1,48.5C291.7,50.5 290.5,52.4 288.8,54.3C287.1,56.2 285.2,58.4 283.0,60.0C280.9,61.7 278.5,62.9 275.9,64.4C273.2,65.8 270.1,67.6 267.2,68.7C264.4,69.7 261.5,70.5 258.6,70.8C255.7,71.2 252.9,71.1 250.0,70.8C247.1,70.6 244.2,69.9 241.4,69.4C238.5,68.9 235.6,68.5 232.7,67.9C229.9,67.3 227.0,66.6 224.1,65.8C221.3,65.0 217.9,63.8 215.5,62.9C213.1,62.1 211.2,61.7 209.8,60.8C208.3,59.8 206.4,58.7 206.9,57.2Z" fill="#8c510a"/><path d="M272.3,16.9C272.7,15.5 274.1,13.7 275.9,12.6C277.7,11.5 280.7,10.8 283.0,10.5C285.4,10.1 288.2,10.0 290.2,10.5C292.3,10.9 294.2,11.8 295.3,13.3C296.3,14.9 296.7,17.5 296.7,19.8C296.7,22.1 296.1,24.8 295.3,27.0C294.4,29.1 293.2,31.3 291.7,32.7C290.1,34.2 287.6,35.4 285.9,35.6C284.2,35.9 282.8,35.4 281.6,34.2C280.4,33.0 279.7,30.1 278.7,28.4C277.8,26.8 276.8,25.3 275.9,24.1C274.9,22.9 273.6,22.4 273.0,21.2C272.4,20.0 271.8,18.4 272.3,16.9Z" fill="#543005"/></g>
<use href="#cst"/><use href="#cst" x="633.5"/><use href="#cst" x="-633.5"/>
</g></g>
<line x1="102.1" y1="759.9" x2="118.5" y2="759.9" stroke="#484848" stroke-width="1.3" stroke-dasharray="4.3 3.6" stroke-dashoffset="0.00"/><line x1="177.8" y1="759.9" x2="277.0" y2="759.9" stroke="#484848" stroke-width="1.3" stroke-dasharray="4.3 3.6" stroke-dashoffset="4.57"/><line x1="284.4" y1="759.9" x2="293.9" y2="759.9" stroke="#484848" stroke-width="1.3" stroke-dasharray="4.3 3.6" stroke-dashoffset="0.60"/><line x1="309.0" y1="759.9" x2="312.9" y2="759.9" stroke="#484848" stroke-width="1.3" stroke-dasharray="4.3 3.6" stroke-dashoffset="1.54"/><line x1="313.6" y1="759.9" x2="594.6" y2="759.9" stroke="#484848" stroke-width="1.3" stroke-dasharray="4.3 3.6" stroke-dashoffset="6.12"/><line x1="648.7" y1="759.9" x2="735.6" y2="759.9" stroke="#484848" stroke-width="1.3" stroke-dasharray="4.3 3.6" stroke-dashoffset="1.46"/><line x1="418.8" y1="689.5" x2="418.8" y2="830.3" stroke="#484848" stroke-width="1.3" stroke-dasharray="4.3 3.6"/>
<g transform="translate(102.1,689.5)"><g clip-path="url(#pc)">
<path class="kd" d="M96.1,-1.0C96.3,0.5 96.5,5.7 97.5,8.3C98.5,10.9 99.9,13.1 101.8,14.8C103.7,16.4 106.8,17.8 109.0,18.1C111.1,18.4 113.1,17.8 114.7,16.6C116.4,15.5 118.2,13.1 119.1,11.2C119.9,9.3 120.0,7.5 119.8,5.4C119.5,3.4 118.0,0.0 117.6,-1.0"/><path class="kc" d="M46.5,70.8C46.4,67.9 45.6,65.2 45.8,62.9C45.9,60.6 46.2,58.6 47.2,57.2C48.2,55.7 49.4,55.0 51.5,54.3C53.7,53.6 56.8,53.0 60.1,52.9C63.5,52.7 67.8,53.3 71.6,53.6C75.5,53.9 79.3,54.0 83.1,54.6C87.0,55.2 91.0,56.4 94.6,57.2C98.2,58.0 101.3,58.6 104.7,59.3C108.0,60.0 111.4,61.0 114.7,61.5C118.1,62.0 121.9,61.8 124.8,62.2C127.7,62.6 130.3,62.8 132.0,63.6C133.7,64.5 134.7,65.7 134.9,67.2C135.0,68.8 133.2,71.3 132.7,73.0C132.2,74.7 133.1,75.7 132.0,77.3C130.9,78.8 128.2,80.6 126.2,82.3C124.3,84.0 122.2,85.6 120.5,87.3C118.8,89.1 117.4,91.1 116.2,93.1C115.0,95.1 114.5,97.4 113.3,99.6C112.1,101.7 110.7,104.0 109.0,106.0C107.3,108.1 105.2,109.9 103.2,111.8C101.3,113.7 99.4,116.1 97.5,117.5C95.6,119.0 94.1,119.9 91.7,120.4C89.4,120.9 86.0,120.8 83.1,120.4C80.3,120.0 77.4,119.1 74.5,118.2C71.6,117.4 68.5,116.4 65.9,115.4C63.2,114.3 60.9,113.3 58.7,111.8C56.5,110.2 54.6,108.2 52.9,106.0C51.3,103.9 49.7,101.5 48.6,98.8C47.6,96.2 46.8,93.3 46.5,90.2C46.1,87.1 46.5,83.4 46.5,80.2C46.5,76.9 46.6,73.7 46.5,70.8Z"/><path class="kc" d="M151.0,-1.0C150.3,0.5 148.0,5.3 147.1,8.3C146.2,11.3 145.8,14.1 145.6,16.9C145.5,19.8 146.5,22.7 146.4,25.6C146.2,28.4 145.6,31.5 144.9,34.2C144.2,36.8 142.9,39.1 142.0,41.4C141.2,43.6 139.9,46.3 139.9,47.8C139.9,49.4 140.5,50.1 142.0,50.7C143.6,51.3 146.6,51.6 149.2,51.7C151.9,51.8 155.0,51.6 157.9,51.4C160.7,51.3 163.6,51.2 166.5,50.7C169.4,50.2 172.6,49.5 175.1,48.5C177.6,47.6 180.1,46.4 181.6,45.0C183.0,43.5 183.1,42.0 183.7,39.9C184.3,37.9 184.4,35.1 185.2,32.7C185.9,30.3 186.6,27.9 188.0,25.6C189.5,23.2 191.6,20.3 193.8,18.4C195.9,16.5 198.6,15.4 201.0,14.1C203.4,12.7 205.7,11.7 208.2,10.5C210.6,9.3 212.8,7.8 215.5,6.9C218.2,5.9 221.3,5.3 224.1,4.7C227.0,4.1 229.9,3.7 232.7,3.3C235.6,2.9 239.0,2.8 241.4,2.3C243.8,1.8 246.2,0.7 247.1,0.4"/><path class="kc" d="M223.0,142.0C222.6,140.0 221.2,134.3 220.5,130.5C219.9,126.6 219.2,122.8 219.1,119.0C219.0,115.1 219.2,111.1 219.8,107.5C220.4,103.9 222.0,100.3 222.7,97.4C223.4,94.5 222.9,92.4 224.1,90.2C225.3,88.1 227.7,86.4 229.9,84.5C232.0,82.6 234.9,80.5 237.1,78.7C239.2,76.9 240.7,74.9 242.8,73.7C245.0,72.5 247.4,71.8 250.0,71.5C252.6,71.3 255.7,71.7 258.6,72.3C261.5,72.9 264.4,74.2 267.2,75.1C270.1,76.1 272.7,77.0 275.9,78.0C279.0,79.0 282.6,80.2 285.9,80.9C289.3,81.6 292.6,82.2 296.0,82.3C299.3,82.4 302.9,82.1 306.0,81.6C309.2,81.1 311.8,80.2 314.7,79.4C317.5,78.7 320.4,77.7 323.3,77.3C326.2,76.9 329.0,76.8 331.9,77.0C334.8,77.2 338.4,77.8 340.5,78.7C342.7,79.6 344.6,81.1 344.8,82.3C345.1,83.5 343.6,85.0 342.0,85.9C340.3,86.9 337.2,87.2 334.8,88.1C332.4,88.9 329.3,89.6 327.6,90.9C325.9,92.3 325.3,93.7 324.7,96.0C324.1,98.2 324.2,101.5 324.0,104.6C323.8,107.7 323.2,111.3 323.3,114.7C323.4,118.0 324.1,121.6 324.7,124.7C325.3,127.8 326.1,130.5 326.9,133.3C327.6,136.2 328.9,140.5 329.3,142.0"/><path class="kc" d="M292.4,142.0C291.1,140.8 287.0,137.2 284.5,134.8C282.0,132.4 279.9,129.7 277.3,127.6C274.7,125.4 271.5,123.8 268.7,121.8C265.8,119.9 262.4,118.0 260.1,116.1C257.7,114.2 255.7,112.3 254.3,110.3C252.9,108.4 251.9,106.5 251.4,104.6C251.0,102.7 250.7,100.5 251.4,98.8C252.1,97.2 253.6,95.6 255.7,94.5C257.9,93.5 261.2,92.9 264.4,92.4C267.5,91.9 271.1,91.5 274.4,91.7C277.8,91.8 281.4,92.3 284.5,93.1C287.6,93.9 290.5,95.1 293.1,96.7C295.7,98.2 298.4,100.4 300.3,102.4C302.2,104.5 303.4,106.6 304.6,108.9C305.8,111.2 306.6,113.5 307.5,116.1C308.3,118.7 309.2,122.1 309.6,124.7C310.1,127.3 310.6,129.0 310.4,131.9C310.1,134.8 308.6,140.3 308.2,142.0"/><path class="kc" d="M312.5,52.9C312.6,50.9 313.7,48.3 314.7,45.7C315.6,43.0 317.3,39.9 318.3,37.0C319.2,34.2 319.6,31.3 320.4,28.4C321.2,25.6 322.1,22.4 323.3,19.8C324.5,17.2 325.7,14.4 327.6,12.6C329.5,10.8 332.4,9.4 334.8,9.0C337.2,8.7 340.1,9.1 342.0,10.5C343.9,11.8 345.2,14.2 346.3,16.9C347.4,19.7 348.1,23.4 348.4,27.0C348.8,30.6 348.7,34.7 348.4,38.5C348.2,42.3 348.1,46.9 347.0,50.0C345.9,53.1 344.0,55.1 342.0,57.2C339.9,59.2 337.4,61.1 334.8,62.2C332.1,63.3 328.8,63.9 326.2,63.6C323.5,63.4 321.0,61.8 319.0,60.8C316.9,59.7 315.0,58.5 313.9,57.2C312.9,55.9 312.4,54.8 312.5,52.9Z"/><path class="kd" d="M362.9,-1.0C363.5,0.8 366.0,6.5 366.9,9.7C367.8,13.0 367.6,15.5 368.3,18.4C369.0,21.2 369.9,24.1 371.2,27.0C372.5,29.9 374.8,32.7 376.2,35.6C377.7,38.5 379.1,41.1 379.8,44.2C380.5,47.3 380.1,50.9 380.5,54.3C381.0,57.6 382.0,61.2 382.7,64.4C383.4,67.5 384.2,70.1 384.8,73.0C385.4,75.9 386.4,78.7 386.3,81.6C386.2,84.5 384.8,87.3 384.1,90.2C383.4,93.1 382.4,95.7 382.0,98.8C381.5,102.0 381.6,105.8 381.3,108.9C380.9,112.0 380.8,114.9 379.8,117.5C378.9,120.2 377.2,122.6 375.5,124.7C373.8,126.9 371.2,128.5 369.8,130.5C368.3,132.4 367.2,134.3 366.9,136.2C366.5,138.1 367.6,141.0 367.7,142.0"/><path class="kd" d="M375.2,-1.0C375.7,0.8 377.4,6.5 378.4,9.7C379.4,13.0 380.1,15.7 381.3,18.4C382.4,21.0 383.9,23.4 385.6,25.6C387.2,27.7 389.9,29.1 391.3,31.3C392.7,33.5 393.6,35.9 394.2,38.5C394.8,41.1 394.7,44.2 394.9,47.1C395.1,50.0 395.3,52.9 395.6,55.7C396.0,58.6 396.6,61.5 397.1,64.4C397.5,67.2 398.1,70.1 398.5,73.0C398.9,75.9 399.1,78.7 399.2,81.6C399.3,84.5 399.1,87.3 399.2,90.2C399.3,93.1 399.1,96.2 399.9,98.8C400.8,101.5 402.1,103.9 404.2,106.0C406.4,108.2 410.0,110.1 412.9,111.8C415.7,113.5 418.4,114.8 421.5,116.1C424.6,117.4 428.2,118.8 431.5,119.7C434.9,120.5 438.0,120.9 441.6,121.1C445.2,121.4 449.5,121.4 453.1,121.1C456.7,120.9 460.3,120.3 463.2,119.7C466.0,119.1 468.3,118.6 470.4,117.5C472.4,116.4 474.3,115.1 475.4,113.2C476.5,111.3 476.5,108.7 476.8,106.0C477.2,103.4 477.2,100.3 477.5,97.4C477.9,94.5 479.0,91.7 479.0,88.8C479.0,85.9 478.1,82.8 477.5,80.2C476.9,77.5 475.6,75.6 475.4,73.0C475.1,70.3 476.0,67.2 476.1,64.4C476.2,61.5 476.2,58.6 476.1,55.7C476.0,52.9 475.3,50.0 475.4,47.1C475.5,44.2 476.5,41.4 476.8,38.5C477.2,35.6 477.7,32.5 477.5,29.9C477.4,27.2 476.8,24.8 476.1,22.7C475.4,20.5 473.7,17.9 473.2,16.9"/><path class="kd" d="M418.6,21.2C417.4,22.7 417.9,25.8 417.2,28.4C416.5,31.1 415.3,34.2 414.3,37.0C413.3,39.9 412.3,42.8 411.4,45.7C410.6,48.5 409.8,51.4 409.3,54.3C408.8,57.2 408.6,60.0 408.6,62.9C408.6,65.8 408.8,68.7 409.3,71.5C409.8,74.4 410.4,77.5 411.4,80.2C412.5,82.8 414.1,85.2 415.7,87.3C417.4,89.5 419.3,91.3 421.5,93.1C423.6,94.9 426.3,96.9 428.7,98.1C431.1,99.3 433.2,100.2 435.9,100.3C438.5,100.4 441.8,99.7 444.5,98.8C447.1,98.0 449.5,96.6 451.7,95.3C453.8,93.9 455.7,92.5 457.4,90.9C459.1,89.4 460.8,87.9 461.7,85.9C462.7,83.9 462.9,81.4 463.2,78.7C463.4,76.1 463.2,73.0 463.2,70.1C463.2,67.2 463.2,64.4 463.2,61.5C463.2,58.6 463.3,55.5 463.2,52.9C463.0,50.2 463.2,47.6 462.4,45.7C461.7,43.8 460.4,42.8 458.9,41.4C457.3,39.9 455.0,38.5 453.1,37.0C451.2,35.6 449.3,34.2 447.4,32.7C445.4,31.3 443.5,30.0 441.6,28.4C439.7,26.9 437.8,24.7 435.9,23.4C433.9,22.1 432.0,21.1 430.1,20.5C428.2,19.9 426.3,19.7 424.4,19.8C422.4,19.9 419.8,19.8 418.6,21.2Z"/><path class="kd" d="M431.5,60.0C431.9,58.7 433.2,56.7 434.4,55.7C435.6,54.8 437.4,54.2 438.7,54.3C440.1,54.4 441.7,55.3 442.3,56.5C442.9,57.6 442.7,59.9 442.3,61.5C442.0,63.0 440.3,64.1 440.2,65.8C440.1,67.5 441.1,69.9 441.6,71.5C442.1,73.2 443.3,74.4 443.0,75.9C442.8,77.3 441.6,79.3 440.2,80.2C438.7,81.0 436.0,81.2 434.4,80.9C432.9,80.5 431.5,79.3 430.8,78.0C430.1,76.7 429.8,74.5 430.1,73.0C430.5,71.4 432.6,70.2 433.0,68.7C433.3,67.1 432.5,65.1 432.3,63.6C432.0,62.2 431.2,61.4 431.5,60.0Z"/><path class="kd" d="M460.3,15.5C460.8,16.9 462.1,21.2 463.2,24.1C464.2,27.0 465.3,29.9 466.8,32.7C468.2,35.6 470.2,38.7 471.8,41.4C473.3,44.0 474.2,46.2 476.1,48.5C478.0,50.9 481.4,53.3 483.3,55.7C485.2,58.1 486.6,60.3 487.6,62.9C488.6,65.6 488.6,68.7 489.0,71.5C489.5,74.4 489.5,77.3 490.5,80.2C491.4,83.0 493.6,85.9 494.8,88.8C496.0,91.7 496.9,94.3 497.7,97.4C498.4,100.5 498.6,104.1 499.1,107.5C499.6,110.8 500.1,114.2 500.5,117.5C501.0,120.9 501.2,124.7 502.0,127.6C502.7,130.5 503.6,132.4 504.8,134.8C506.1,137.2 508.7,140.8 509.4,142.0"/><path class="kc" d="M505.2,-1.0C505.5,0.3 506.0,4.7 507.0,6.9C508.0,9.2 509.6,11.3 511.3,12.7C513.0,14.2 515.1,15.4 517.1,15.6C519.0,15.8 521.4,15.4 522.8,14.2C524.3,13.0 525.2,10.9 525.7,8.4C526.3,5.9 526.0,0.6 526.0,-1.0"/><path class="kc" d="M565.4,-1.0C565.4,0.3 565.8,4.4 565.4,6.9C565.1,9.5 564.6,12.2 563.3,14.2C561.9,16.1 559.9,17.3 557.5,18.5C555.1,19.7 552.0,20.7 548.8,21.4C545.7,22.1 541.9,22.2 538.7,22.8C535.6,23.4 532.5,23.8 530.1,25.0C527.7,26.2 525.9,28.0 524.3,30.0C522.7,32.1 521.5,34.6 520.7,37.3C519.8,39.9 519.4,43.0 519.2,45.9C519.1,48.8 519.4,51.7 520.0,54.6C520.6,57.5 521.6,60.6 522.8,63.2C524.1,65.9 525.3,68.5 527.2,70.5C529.1,72.4 531.7,73.8 534.4,74.8C537.0,75.8 540.2,76.2 543.1,76.2C545.9,76.2 549.7,75.8 551.7,74.8C553.8,73.8 554.6,71.9 555.3,70.5C556.1,69.0 555.2,67.8 556.1,66.1C556.9,64.4 558.7,62.3 560.4,60.4C562.1,58.4 564.5,56.7 566.2,54.6C567.8,52.4 569.4,49.8 570.5,47.4C571.6,45.0 571.7,42.2 572.7,40.1C573.6,38.1 574.7,36.7 576.3,35.1C577.8,33.5 580.1,32.3 582.0,30.8C584.0,29.2 586.4,27.8 587.8,25.7C589.3,23.7 589.5,20.7 590.7,18.5C591.9,16.3 593.5,14.6 595.0,12.7C596.6,10.8 598.4,9.1 600.1,6.9C601.8,4.8 604.5,0.9 605.4,-0.3"/>
</g></g>
<line x1="102.1" y1="689.5" x2="102.1" y2="684.3" stroke="#000" stroke-width="3.0" stroke-linecap="round"/>
<line x1="102.1" y1="830.3" x2="102.1" y2="835.5" stroke="#000" stroke-width="3.0" stroke-linecap="round"/>
<line x1="119.7" y1="689.5" x2="119.7" y2="686.6" stroke="#000" stroke-width="1.5" stroke-linecap="round"/>
<line x1="119.7" y1="830.3" x2="119.7" y2="833.2" stroke="#000" stroke-width="1.5" stroke-linecap="round"/>
<line x1="137.3" y1="689.5" x2="137.3" y2="686.6" stroke="#000" stroke-width="1.5" stroke-linecap="round"/>
<line x1="137.3" y1="830.3" x2="137.3" y2="833.2" stroke="#000" stroke-width="1.5" stroke-linecap="round"/>
<line x1="154.9" y1="689.5" x2="154.9" y2="686.6" stroke="#000" stroke-width="1.5" stroke-linecap="round"/>
<line x1="154.9" y1="830.3" x2="154.9" y2="833.2" stroke="#000" stroke-width="1.5" stroke-linecap="round"/>
<line x1="172.5" y1="689.5" x2="172.5" y2="686.6" stroke="#000" stroke-width="1.5" stroke-linecap="round"/>
<line x1="172.5" y1="830.3" x2="172.5" y2="833.2" stroke="#000" stroke-width="1.5" stroke-linecap="round"/>
<line x1="190.1" y1="689.5" x2="190.1" y2="686.6" stroke="#000" stroke-width="1.5" stroke-linecap="round"/>
<line x1="190.1" y1="830.3" x2="190.1" y2="833.2" stroke="#000" stroke-width="1.5" stroke-linecap="round"/>
<line x1="207.7" y1="689.5" x2="207.7" y2="684.3" stroke="#000" stroke-width="3.0" stroke-linecap="round"/>
<line x1="207.7" y1="830.3" x2="207.7" y2="835.5" stroke="#000" stroke-width="3.0" stroke-linecap="round"/>
<line x1="225.3" y1="689.5" x2="225.3" y2="686.6" stroke="#000" stroke-width="1.5" stroke-linecap="round"/>
<line x1="225.3" y1="830.3" x2="225.3" y2="833.2" stroke="#000" stroke-width="1.5" stroke-linecap="round"/>
<line x1="242.9" y1="689.5" x2="242.9" y2="686.6" stroke="#000" stroke-width="1.5" stroke-linecap="round"/>
<line x1="242.9" y1="830.3" x2="242.9" y2="833.2" stroke="#000" stroke-width="1.5" stroke-linecap="round"/>
<line x1="260.5" y1="689.5" x2="260.5" y2="686.6" stroke="#000" stroke-width="1.5" stroke-linecap="round"/>
<line x1="260.5" y1="830.3" x2="260.5" y2="833.2" stroke="#000" stroke-width="1.5" stroke-linecap="round"/>
<line x1="278.1" y1="689.5" x2="278.1" y2="686.6" stroke="#000" stroke-width="1.5" stroke-linecap="round"/>
<line x1="278.1" y1="830.3" x2="278.1" y2="833.2" stroke="#000" stroke-width="1.5" stroke-linecap="round"/>
<line x1="295.7" y1="689.5" x2="295.7" y2="686.6" stroke="#000" stroke-width="1.5" stroke-linecap="round"/>
<line x1="295.7" y1="830.3" x2="295.7" y2="833.2" stroke="#000" stroke-width="1.5" stroke-linecap="round"/>
<line x1="313.3" y1="689.5" x2="313.3" y2="684.3" stroke="#000" stroke-width="3.0" stroke-linecap="round"/>
<line x1="313.3" y1="830.3" x2="313.3" y2="835.5" stroke="#000" stroke-width="3.0" stroke-linecap="round"/>
<line x1="330.9" y1="689.5" x2="330.9" y2="686.6" stroke="#000" stroke-width="1.5" stroke-linecap="round"/>
<line x1="330.9" y1="830.3" x2="330.9" y2="833.2" stroke="#000" stroke-width="1.5" stroke-linecap="round"/>
<line x1="348.5" y1="689.5" x2="348.5" y2="686.6" stroke="#000" stroke-width="1.5" stroke-linecap="round"/>
<line x1="348.5" y1="830.3" x2="348.5" y2="833.2" stroke="#000" stroke-width="1.5" stroke-linecap="round"/>
<line x1="366.1" y1="689.5" x2="366.1" y2="686.6" stroke="#000" stroke-width="1.5" stroke-linecap="round"/>
<line x1="366.1" y1="830.3" x2="366.1" y2="833.2" stroke="#000" stroke-width="1.5" stroke-linecap="round"/>
<line x1="383.7" y1="689.5" x2="383.7" y2="686.6" stroke="#000" stroke-width="1.5" stroke-linecap="round"/>
<line x1="383.7" y1="830.3" x2="383.7" y2="833.2" stroke="#000" stroke-width="1.5" stroke-linecap="round"/>
<line x1="401.2" y1="689.5" x2="401.2" y2="686.6" stroke="#000" stroke-width="1.5" stroke-linecap="round"/>
<line x1="401.2" y1="830.3" x2="401.2" y2="833.2" stroke="#000" stroke-width="1.5" stroke-linecap="round"/>
<line x1="418.8" y1="689.5" x2="418.8" y2="684.3" stroke="#000" stroke-width="3.0" stroke-linecap="round"/>
<line x1="418.8" y1="830.3" x2="418.8" y2="835.5" stroke="#000" stroke-width="3.0" stroke-linecap="round"/>
<line x1="436.4" y1="689.5" x2="436.4" y2="686.6" stroke="#000" stroke-width="1.5" stroke-linecap="round"/>
<line x1="436.4" y1="830.3" x2="436.4" y2="833.2" stroke="#000" stroke-width="1.5" stroke-linecap="round"/>
<line x1="454.0" y1="689.5" x2="454.0" y2="686.6" stroke="#000" stroke-width="1.5" stroke-linecap="round"/>
<line x1="454.0" y1="830.3" x2="454.0" y2="833.2" stroke="#000" stroke-width="1.5" stroke-linecap="round"/>
<line x1="471.6" y1="689.5" x2="471.6" y2="686.6" stroke="#000" stroke-width="1.5" stroke-linecap="round"/>
<line x1="471.6" y1="830.3" x2="471.6" y2="833.2" stroke="#000" stroke-width="1.5" stroke-linecap="round"/>
<line x1="489.2" y1="689.5" x2="489.2" y2="686.6" stroke="#000" stroke-width="1.5" stroke-linecap="round"/>
<line x1="489.2" y1="830.3" x2="489.2" y2="833.2" stroke="#000" stroke-width="1.5" stroke-linecap="round"/>
<line x1="506.8" y1="689.5" x2="506.8" y2="686.6" stroke="#000" stroke-width="1.5" stroke-linecap="round"/>
<line x1="506.8" y1="830.3" x2="506.8" y2="833.2" stroke="#000" stroke-width="1.5" stroke-linecap="round"/>
<line x1="524.4" y1="689.5" x2="524.4" y2="684.3" stroke="#000" stroke-width="3.0" stroke-linecap="round"/>
<line x1="524.4" y1="830.3" x2="524.4" y2="835.5" stroke="#000" stroke-width="3.0" stroke-linecap="round"/>
<line x1="542.0" y1="689.5" x2="542.0" y2="686.6" stroke="#000" stroke-width="1.5" stroke-linecap="round"/>
<line x1="542.0" y1="830.3" x2="542.0" y2="833.2" stroke="#000" stroke-width="1.5" stroke-linecap="round"/>
<line x1="559.6" y1="689.5" x2="559.6" y2="686.6" stroke="#000" stroke-width="1.5" stroke-linecap="round"/>
<line x1="559.6" y1="830.3" x2="559.6" y2="833.2" stroke="#000" stroke-width="1.5" stroke-linecap="round"/>
<line x1="577.2" y1="689.5" x2="577.2" y2="686.6" stroke="#000" stroke-width="1.5" stroke-linecap="round"/>
<line x1="577.2" y1="830.3" x2="577.2" y2="833.2" stroke="#000" stroke-width="1.5" stroke-linecap="round"/>
<line x1="594.8" y1="689.5" x2="594.8" y2="686.6" stroke="#000" stroke-width="1.5" stroke-linecap="round"/>
<line x1="594.8" y1="830.3" x2="594.8" y2="833.2" stroke="#000" stroke-width="1.5" stroke-linecap="round"/>
<line x1="612.4" y1="689.5" x2="612.4" y2="686.6" stroke="#000" stroke-width="1.5" stroke-linecap="round"/>
<line x1="612.4" y1="830.3" x2="612.4" y2="833.2" stroke="#000" stroke-width="1.5" stroke-linecap="round"/>
<line x1="630.0" y1="689.5" x2="630.0" y2="684.3" stroke="#000" stroke-width="3.0" stroke-linecap="round"/>
<line x1="630.0" y1="830.3" x2="630.0" y2="835.5" stroke="#000" stroke-width="3.0" stroke-linecap="round"/>
<line x1="647.6" y1="689.5" x2="647.6" y2="686.6" stroke="#000" stroke-width="1.5" stroke-linecap="round"/>
<line x1="647.6" y1="830.3" x2="647.6" y2="833.2" stroke="#000" stroke-width="1.5" stroke-linecap="round"/>
<line x1="665.2" y1="689.5" x2="665.2" y2="686.6" stroke="#000" stroke-width="1.5" stroke-linecap="round"/>
<line x1="665.2" y1="830.3" x2="665.2" y2="833.2" stroke="#000" stroke-width="1.5" stroke-linecap="round"/>
<line x1="682.8" y1="689.5" x2="682.8" y2="686.6" stroke="#000" stroke-width="1.5" stroke-linecap="round"/>
<line x1="682.8" y1="830.3" x2="682.8" y2="833.2" stroke="#000" stroke-width="1.5" stroke-linecap="round"/>
<line x1="700.4" y1="689.5" x2="700.4" y2="686.6" stroke="#000" stroke-width="1.5" stroke-linecap="round"/>
<line x1="700.4" y1="830.3" x2="700.4" y2="833.2" stroke="#000" stroke-width="1.5" stroke-linecap="round"/>
<line x1="718.0" y1="689.5" x2="718.0" y2="686.6" stroke="#000" stroke-width="1.5" stroke-linecap="round"/>
<line x1="718.0" y1="830.3" x2="718.0" y2="833.2" stroke="#000" stroke-width="1.5" stroke-linecap="round"/>
<line x1="735.6" y1="689.5" x2="735.6" y2="684.3" stroke="#000" stroke-width="3.0" stroke-linecap="round"/>
<line x1="735.6" y1="830.3" x2="735.6" y2="835.5" stroke="#000" stroke-width="3.0" stroke-linecap="round"/>
<line x1="102.1" y1="812.7" x2="96.9" y2="812.7" stroke="#000" stroke-width="3.0" stroke-linecap="round"/>
<line x1="735.6" y1="812.7" x2="740.8" y2="812.7" stroke="#000" stroke-width="3.0" stroke-linecap="round"/>
<line x1="102.1" y1="795.1" x2="99.2" y2="795.1" stroke="#000" stroke-width="1.5" stroke-linecap="round"/>
<line x1="735.6" y1="795.1" x2="738.5" y2="795.1" stroke="#000" stroke-width="1.5" stroke-linecap="round"/>
<line x1="102.1" y1="777.5" x2="99.2" y2="777.5" stroke="#000" stroke-width="1.5" stroke-linecap="round"/>
<line x1="735.6" y1="777.5" x2="738.5" y2="777.5" stroke="#000" stroke-width="1.5" stroke-linecap="round"/>
<line x1="102.1" y1="759.9" x2="96.9" y2="759.9" stroke="#000" stroke-width="3.0" stroke-linecap="round"/>
<line x1="735.6" y1="759.9" x2="740.8" y2="759.9" stroke="#000" stroke-width="3.0" stroke-linecap="round"/>
<line x1="102.1" y1="742.3" x2="99.2" y2="742.3" stroke="#000" stroke-width="1.5" stroke-linecap="round"/>
<line x1="735.6" y1="742.3" x2="738.5" y2="742.3" stroke="#000" stroke-width="1.5" stroke-linecap="round"/>
<line x1="102.1" y1="724.7" x2="99.2" y2="724.7" stroke="#000" stroke-width="1.5" stroke-linecap="round"/>
<line x1="735.6" y1="724.7" x2="738.5" y2="724.7" stroke="#000" stroke-width="1.5" stroke-linecap="round"/>
<line x1="102.1" y1="707.1" x2="96.9" y2="707.1" stroke="#000" stroke-width="3.0" stroke-linecap="round"/>
<line x1="735.6" y1="707.1" x2="740.8" y2="707.1" stroke="#000" stroke-width="3.0" stroke-linecap="round"/>
<rect x="102.1" y="689.5" width="633.5" height="140.8" fill="none" stroke="#000" stroke-width="3.3"/>
<text class="t34" id="t4" x="101.1" y="674.3" textLength="243.3" lengthAdjust="spacingAndGlyphs">31-Mar to 4-Apr</text>
<text class="tk" x="73.5" y="719.5" text-anchor="end">30N</text>
<text class="tk" x="73.5" y="772.3" text-anchor="end">0</text>
<text class="tk" x="73.5" y="825.1" text-anchor="end">30S</text>
<text class="tk" x="102.1" y="885.5" text-anchor="middle">0</text>
<text class="tk" x="207.7" y="885.5" text-anchor="middle">60E</text>
<text class="tk" x="313.3" y="885.5" text-anchor="middle">120E</text>
<text class="tk" x="418.8" y="885.5" text-anchor="middle">180</text>
<text class="tk" x="524.4" y="885.5" text-anchor="middle">120W</text>
<text class="tk" x="630.0" y="885.5" text-anchor="middle">60W</text>
<text class="tk" x="735.6" y="885.5" text-anchor="middle">0</text>
<g transform="translate(844.7,45.4)"><g clip-path="url(#pc)">
<rect x="0" y="0" width="633.5" height="140.8" fill="#f5f5f5"/>
<g filter="url(#sm)"><path d="M5.9,-14.1C-3.8,-11.3 6.4,-1.5 6.6,3.1C6.9,7.6 6.6,9.8 7.4,13.2C8.1,16.5 9.8,20.6 11.0,23.2C12.1,25.9 13.7,26.8 14.5,29.0C15.4,31.1 16.1,34.0 16.0,36.1C15.9,38.3 13.6,40.2 13.8,41.9C14.1,43.6 15.9,45.3 17.4,46.2C19.0,47.2 21.7,46.7 23.2,47.6C24.6,48.6 24.8,50.8 26.0,52.0C27.2,53.2 28.2,54.6 30.4,54.8C32.5,55.1 36.3,53.9 39.0,53.4C41.6,52.9 43.5,52.0 46.2,52.0C48.8,52.0 52.1,53.0 54.8,53.4C57.4,53.8 59.1,54.1 62.0,54.1C64.8,54.1 68.9,53.8 72.0,53.4C75.1,53.0 78.3,52.7 80.7,52.0C83.0,51.2 85.9,50.5 86.4,49.1C86.9,47.6 84.7,45.0 83.5,43.3C82.3,41.7 80.2,40.7 79.2,39.0C78.3,37.3 77.3,35.0 77.8,33.3C78.3,31.6 80.4,30.4 82.1,29.0C83.8,27.5 85.7,25.9 87.8,24.7C90.0,23.5 93.3,23.0 95.0,21.8C96.7,20.6 97.9,18.9 97.9,17.5C97.9,16.0 96.5,14.0 95.0,13.2C93.6,12.3 91.0,12.2 89.3,12.4C87.6,12.7 86.9,14.5 85.0,14.6C83.0,14.7 79.9,13.9 77.8,13.2C75.6,12.4 73.9,11.2 72.0,10.3C70.1,9.3 67.7,8.6 66.3,7.4C64.8,6.2 63.6,6.7 63.4,3.1C63.2,-0.5 74.4,-11.3 64.8,-14.1C55.3,-17.0 15.6,-17.0 5.9,-14.1Z" fill="#c7eae5"/><path d="M16.0,67.8C16.2,66.1 18.6,65.3 20.3,64.9C22.0,64.5 24.1,65.1 26.0,65.6C28.0,66.1 29.9,66.7 31.8,67.8C33.7,68.8 36.3,70.4 37.5,72.1C38.7,73.8 39.2,75.9 39.0,77.8C38.7,79.7 37.5,82.3 36.1,83.6C34.7,84.9 32.3,85.5 30.4,85.7C28.4,86.0 26.0,85.8 24.6,85.0C23.2,84.2 22.7,82.4 21.7,80.7C20.8,79.0 19.8,77.1 18.9,75.0C17.9,72.8 15.7,69.4 16.0,67.8Z" fill="#c7eae5"/><path d="M28.2,149.7C19.9,146.8 27.7,136.5 28.2,132.4C28.7,128.4 30.0,127.6 31.1,125.2C32.1,122.9 33.1,120.2 34.7,118.1C36.2,115.9 38.0,113.6 40.4,112.3C42.8,111.0 46.2,110.4 49.0,110.2C51.9,109.9 55.0,110.8 57.7,110.9C60.3,111.0 62.2,111.1 64.8,110.9C67.5,110.6 70.8,110.4 73.5,109.4C76.1,108.5 78.5,107.0 80.7,105.1C82.8,103.2 84.7,100.3 86.4,97.9C88.1,95.5 89.0,92.9 90.7,90.8C92.4,88.6 94.3,86.9 96.5,85.0C98.6,83.1 101.0,80.6 103.6,79.3C106.3,77.9 109.2,77.6 112.3,77.1C115.4,76.6 119.2,76.3 122.3,76.4C125.4,76.5 128.1,77.2 130.9,77.8C133.8,78.4 137.2,79.1 139.6,80.0C142.0,80.8 145.1,82.0 145.3,82.9C145.6,83.7 143.2,84.3 141.0,85.0C138.9,85.7 135.0,86.2 132.4,87.2C129.8,88.1 127.4,89.4 125.2,90.8C123.0,92.1 121.4,93.4 119.5,95.1C117.5,96.7 115.4,98.9 113.7,100.8C112.0,102.7 110.8,104.4 109.4,106.6C108.0,108.7 106.5,111.6 105.1,113.8C103.6,115.9 102.2,117.8 100.8,119.5C99.3,121.2 98.1,122.4 96.5,123.8C94.8,125.2 92.4,126.7 90.7,128.1C89.0,129.6 87.8,131.0 86.4,132.4C85.0,133.9 83.5,133.9 82.1,136.7C80.7,139.6 86.8,147.5 77.8,149.7C68.8,151.8 36.5,152.6 28.2,149.7Z" fill="#f6e8c3"/><path d="M134.5,16.0C133.2,17.0 134.2,20.8 133.8,23.2C133.5,25.6 132.9,28.0 132.4,30.4C131.9,32.8 131.1,35.0 130.9,37.6C130.8,40.2 131.4,43.6 131.7,46.2C131.9,48.8 132.5,51.0 132.4,53.4C132.3,55.8 130.7,58.7 130.9,60.6C131.2,62.5 132.1,63.7 133.8,64.9C135.5,66.1 138.4,66.9 141.0,67.8C143.6,68.6 146.8,69.2 149.6,69.9C152.5,70.6 155.4,71.2 158.3,72.1C161.1,72.9 164.0,74.2 166.9,75.0C169.8,75.7 172.9,75.4 175.5,76.4C178.1,77.3 180.3,79.3 182.7,80.7C185.1,82.1 187.7,83.3 189.9,85.0C192.0,86.7 194.3,89.1 195.6,90.8C196.9,92.4 196.8,93.4 197.7,95.1C198.5,96.7 199.3,99.1 200.5,100.8C201.7,102.5 202.9,104.2 204.8,105.1C206.8,106.1 209.6,106.1 212.0,106.6C214.4,107.0 216.8,107.3 219.2,108.0C221.6,108.7 224.2,109.7 226.4,110.9C228.6,112.1 230.2,113.8 232.1,115.2C234.1,116.6 236.0,118.3 237.9,119.5C239.8,120.7 241.5,122.1 243.6,122.4C245.8,122.6 248.2,121.4 250.8,120.9C253.5,120.5 256.8,120.0 259.5,119.5C262.1,119.0 264.0,118.1 266.6,118.1C269.3,118.1 272.4,119.1 275.3,119.5C278.1,119.9 281.0,120.5 283.9,120.2C286.8,120.0 289.9,118.9 292.5,118.1C295.1,117.2 298.3,116.6 299.7,115.2C301.1,113.8 301.6,111.6 301.1,109.4C300.6,107.3 298.5,104.7 296.8,102.3C295.1,99.9 293.0,97.2 291.1,95.1C289.2,92.9 287.2,91.0 285.3,89.3C283.4,87.6 281.5,86.2 279.6,85.0C277.7,83.8 275.7,83.3 273.8,82.1C271.9,80.9 269.5,79.5 268.1,77.8C266.6,76.1 265.4,74.0 265.2,72.1C265.0,70.2 265.9,68.0 266.6,66.3C267.4,64.7 268.1,63.0 269.5,62.0C270.9,61.1 273.1,60.6 275.3,60.6C277.4,60.6 279.8,61.5 282.4,62.0C285.1,62.5 288.2,63.1 291.1,63.5C293.9,63.8 296.6,64.2 299.7,64.2C302.8,64.2 306.4,63.8 309.8,63.5C313.1,63.1 316.7,62.7 319.8,62.0C322.9,61.3 325.8,60.3 328.4,59.1C331.1,57.9 333.7,56.5 335.6,54.8C337.5,53.2 339.1,51.2 339.9,49.1C340.8,46.9 340.9,44.3 340.6,41.9C340.4,39.5 339.1,37.3 338.5,34.7C337.9,32.1 337.5,29.0 337.1,26.1C336.6,23.2 336.6,19.9 335.6,17.5C334.7,15.1 333.2,13.2 331.3,11.7C329.4,10.3 326.0,9.8 324.1,8.8C322.2,7.9 320.8,9.8 319.8,6.0C318.9,2.1 342.1,-10.8 318.4,-14.1C294.7,-17.5 200.9,-17.0 177.5,-14.1C154.2,-11.3 178.0,-0.7 178.3,3.1C178.5,6.9 179.6,7.2 179.0,8.8C178.4,10.5 176.3,11.7 174.7,13.2C173.0,14.6 170.8,16.3 168.9,17.5C167.0,18.7 165.3,19.7 163.2,20.3C161.0,20.9 158.4,21.2 156.0,21.1C153.6,20.9 151.2,20.2 148.8,19.6C146.4,19.0 144.0,18.1 141.6,17.5C139.2,16.9 135.8,15.1 134.5,16.0Z" fill="#f6e8c3"/><path d="M191.2,149.7C183.0,146.8 191.3,136.5 191.9,132.4C192.5,128.4 193.1,127.0 194.8,125.2C196.5,123.5 199.3,122.4 202.0,121.7C204.6,120.9 207.7,121.2 210.6,120.9C213.5,120.7 216.3,120.2 219.2,120.2C222.1,120.2 225.2,120.1 227.8,120.9C230.5,121.8 233.1,123.6 235.0,125.2C236.9,126.9 238.4,126.9 239.3,131.0C240.3,135.1 248.8,146.6 240.8,149.7C232.7,152.8 199.3,152.6 191.2,149.7Z" fill="#f6e8c3"/><path d="M336.5,149.7C315.7,147.3 336.3,139.4 336.5,135.3C336.8,131.2 337.6,128.6 338.0,125.2C338.3,121.9 338.5,118.5 338.7,115.2C338.9,111.8 339.1,108.5 339.4,105.1C339.8,101.8 341.1,98.2 340.8,95.1C340.6,92.0 339.3,88.8 338.0,86.4C336.7,84.1 334.3,83.1 332.9,80.7C331.6,78.3 330.2,74.7 330.1,72.1C330.0,69.4 330.4,66.8 332.2,64.9C334.0,63.0 337.7,62.0 340.8,60.6C344.0,59.1 347.6,57.9 350.9,56.3C354.3,54.6 357.9,52.4 361.0,50.5C364.1,48.6 367.0,46.7 369.6,44.8C372.2,42.9 374.4,40.9 376.8,39.0C379.2,37.1 381.8,35.4 384.0,33.3C386.1,31.1 389.0,28.2 389.7,26.1C390.4,23.9 389.5,22.0 388.3,20.3C387.1,18.7 384.4,17.2 382.5,16.0C380.6,14.8 378.7,14.6 376.8,13.2C374.9,11.7 372.3,9.6 371.0,7.4C369.7,5.3 369.2,3.8 368.9,0.2C368.5,-3.4 360.8,-11.8 368.9,-14.1C376.9,-16.5 408.3,-17.0 417.0,-14.1C425.8,-11.3 419.6,-0.7 421.3,3.1C423.0,6.9 424.9,6.7 427.1,8.8C429.2,11.0 431.9,13.6 434.3,16.0C436.7,18.4 439.5,20.8 441.4,23.2C443.4,25.6 444.1,28.0 445.8,30.4C447.4,32.8 449.8,35.2 451.5,37.6C453.2,40.0 454.6,42.1 455.8,44.8C457.0,47.4 458.0,50.5 458.7,53.4C459.4,56.3 459.6,59.1 460.1,62.0C460.6,64.9 460.6,68.0 461.6,70.6C462.5,73.3 464.0,75.4 465.9,77.8C467.8,80.2 471.1,82.6 473.1,85.0C475.0,87.4 476.4,89.6 477.4,92.2C478.3,94.8 479.3,97.9 478.8,100.8C478.3,103.7 476.2,106.6 474.5,109.4C472.8,112.3 470.4,115.2 468.8,118.1C467.1,120.9 465.5,123.8 464.4,126.7C463.4,129.6 462.8,131.5 462.3,135.3C461.8,139.1 482.5,147.3 461.6,149.7C440.6,152.1 357.4,152.1 336.5,149.7Z" fill="#c7eae5"/><path d="M453.8,-14.1C446.8,-11.3 454.3,-1.0 455.2,3.1C456.2,7.2 457.6,7.9 459.5,10.3C461.5,12.7 464.3,15.1 466.7,17.5C469.1,19.9 472.0,22.0 473.9,24.7C475.8,27.3 477.1,30.4 478.2,33.3C479.3,36.1 479.7,38.8 480.4,41.9C481.1,45.0 482.1,49.1 482.5,52.0C483.0,54.8 482.5,57.3 483.3,59.1C484.0,60.9 485.3,62.3 486.8,62.7C488.4,63.2 490.4,61.4 492.6,62.0C494.7,62.6 497.6,64.7 499.8,66.3C501.9,68.0 503.6,69.7 505.5,72.1C507.4,74.5 510.1,77.8 511.3,80.7C512.5,83.6 512.2,86.4 512.7,89.3C513.2,92.2 513.2,95.5 514.1,97.9C515.1,100.3 516.5,102.3 518.5,103.7C520.4,105.1 523.2,105.4 525.6,106.6C528.0,107.8 530.7,109.2 532.8,110.9C535.0,112.6 536.4,115.2 538.6,116.6C540.7,118.1 543.4,118.8 545.8,119.5C548.2,120.2 550.6,120.2 552.9,120.9C555.3,121.7 557.7,122.9 560.1,123.8C562.5,124.8 565.4,125.2 567.3,126.7C569.2,128.1 570.4,130.0 571.6,132.4C572.8,134.8 574.0,138.2 574.5,141.1C575.0,143.9 571.2,148.2 574.5,149.7C577.9,151.1 591.4,152.1 594.6,149.7C597.9,147.3 594.9,139.1 593.9,135.3C592.9,131.5 590.2,129.6 588.9,126.7C587.6,123.8 586.2,120.9 586.0,118.1C585.8,115.2 586.5,112.3 587.4,109.4C588.4,106.6 590.4,103.7 591.8,100.8C593.1,97.9 594.9,94.8 595.3,92.2C595.8,89.6 595.7,87.2 594.6,85.0C593.5,82.9 591.0,80.7 588.9,79.3C586.7,77.8 583.8,77.6 581.7,76.4C579.5,75.2 577.4,74.2 575.9,72.1C574.5,69.9 573.8,66.3 573.1,63.5C572.3,60.6 572.1,57.7 571.6,54.8C571.2,52.0 570.9,48.6 570.2,46.2C569.5,43.8 569.0,41.9 567.3,40.5C565.6,39.0 562.8,38.2 560.1,37.6C557.5,37.0 554.4,36.6 551.5,36.9C548.6,37.1 545.8,38.3 542.9,39.0C540.0,39.7 536.9,40.5 534.3,41.2C531.6,41.9 529.5,42.7 527.1,43.3C524.7,43.9 522.5,44.8 519.9,44.8C517.3,44.8 513.9,44.1 511.3,43.3C508.6,42.6 506.0,41.9 504.1,40.5C502.2,39.0 501.0,36.9 499.8,34.7C498.6,32.6 498.1,29.4 496.9,27.5C495.7,25.6 493.5,25.1 492.6,23.2C491.6,21.3 490.9,18.2 491.2,16.0C491.4,13.9 493.1,12.4 494.0,10.3C495.0,8.1 496.4,7.2 496.9,3.1C497.4,-1.0 504.1,-11.3 496.9,-14.1C489.7,-17.0 460.7,-17.0 453.8,-14.1Z" fill="#f6e8c3"/><path d="M594.6,-14.1C585.8,-11.3 595.3,-1.2 596.1,3.1C596.8,7.4 598.0,8.8 598.9,11.7C599.9,14.6 600.9,17.5 601.8,20.3C602.8,23.2 603.5,26.6 604.7,29.0C605.9,31.4 607.3,33.0 609.0,34.7C610.7,36.4 612.8,37.8 614.7,39.0C616.7,40.2 619.1,42.1 620.5,41.9C621.9,41.7 623.4,39.3 623.4,37.6C623.4,35.9 621.5,34.0 620.5,31.8C619.5,29.7 617.9,27.0 617.6,24.7C617.4,22.3 618.1,19.6 619.1,17.5C620.0,15.3 621.7,13.6 623.4,11.7C625.0,9.8 627.4,7.4 629.1,6.0C630.8,4.5 630.1,3.6 633.4,3.1C636.8,2.6 646.6,6.0 649.2,3.1C651.9,0.2 658.3,-11.3 649.2,-14.1C640.1,-17.0 603.5,-17.0 594.6,-14.1Z" fill="#f6e8c3"/><path d="M193.3,10.3C194.4,9.1 196.5,8.0 199.1,7.4C201.7,6.8 206.0,6.4 209.2,6.7C212.3,6.9 214.9,7.8 217.8,8.8C220.7,9.9 224.5,11.5 226.4,13.2C228.3,14.8 229.8,17.2 229.3,18.9C228.8,20.6 225.9,22.1 223.5,23.2C221.1,24.3 217.8,24.9 214.9,25.4C212.0,25.9 208.9,26.2 206.3,26.1C203.6,26.0 201.0,25.6 199.1,24.7C197.2,23.7 195.9,22.0 194.8,20.3C193.7,18.7 192.9,16.3 192.6,14.6C192.4,12.9 192.3,11.5 193.3,10.3Z" fill="#f5f5f5"/><path d="M18.9,-14.1C15.1,-11.3 18.4,-1.5 18.1,3.1C17.9,7.6 17.4,9.8 17.4,13.2C17.4,16.5 17.4,20.8 18.1,23.2C18.9,25.6 20.4,26.3 21.7,27.5C23.0,28.7 25.3,29.0 26.0,30.4C26.8,31.8 26.5,34.7 26.0,36.1C25.6,37.6 23.4,37.6 23.2,39.0C22.9,40.5 23.4,43.6 24.6,44.8C25.8,46.0 28.4,46.2 30.4,46.2C32.3,46.2 34.7,45.7 36.1,44.8C37.5,43.8 38.3,40.5 39.0,40.5C39.7,40.5 39.5,43.5 40.4,44.8C41.4,46.1 43.0,47.8 44.7,48.4C46.4,49.0 49.0,49.0 50.5,48.4C51.9,47.8 53.0,46.3 53.3,44.8C53.7,43.2 52.4,40.7 52.6,39.0C52.9,37.3 53.9,36.4 54.8,34.7C55.6,33.0 57.1,30.9 57.7,29.0C58.3,27.0 58.5,25.1 58.4,23.2C58.3,21.3 58.0,18.9 56.9,17.5C55.9,16.0 53.7,15.3 51.9,14.6C50.1,13.9 48.1,13.6 46.2,13.2C44.2,12.7 41.6,12.9 40.4,11.7C39.2,10.5 38.7,7.6 39.0,6.0C39.2,4.3 41.6,5.0 41.8,1.7C42.1,-1.7 44.2,-11.5 40.4,-14.1C36.6,-16.8 22.6,-17.0 18.9,-14.1Z" fill="#80cdc1"/><path d="M149.5,56.3C149.4,54.1 150.5,51.0 151.7,49.1C152.9,47.2 154.7,45.8 156.7,44.8C158.7,43.7 161.3,43.3 163.9,42.6C166.5,41.9 169.6,41.1 172.5,40.5C175.4,39.9 178.3,39.5 181.1,39.0C184.0,38.5 186.9,38.1 189.8,37.6C192.6,37.1 195.5,36.3 198.4,36.1C201.3,36.0 204.2,36.6 207.0,36.9C209.8,37.1 212.1,37.5 214.9,37.6C217.7,37.7 220.7,38.1 223.5,37.6C226.4,37.1 229.8,35.9 232.1,34.7C234.5,33.5 236.0,31.8 237.9,30.4C239.8,29.0 241.5,27.4 243.6,26.1C245.8,24.8 248.2,23.6 250.8,22.5C253.5,21.4 256.6,20.3 259.5,19.6C262.3,18.9 265.4,18.2 268.1,18.2C270.7,18.2 273.3,18.8 275.3,19.6C277.2,20.5 277.9,22.1 279.6,23.2C281.2,24.3 283.2,25.1 285.3,26.1C287.5,27.0 290.1,27.8 292.5,29.0C294.9,30.2 297.5,31.6 299.7,33.3C301.8,35.0 303.5,37.3 305.4,39.0C307.4,40.7 309.0,42.0 311.2,43.3C313.3,44.7 316.5,45.7 318.4,46.9C320.3,48.1 322.4,49.3 322.7,50.5C322.9,51.7 321.5,53.2 319.8,54.1C318.1,55.1 315.0,55.7 312.6,56.3C310.2,56.9 307.8,57.6 305.4,57.7C303.0,57.8 300.6,57.5 298.3,57.0C295.9,56.5 293.5,55.7 291.1,54.8C288.7,54.0 286.3,52.9 283.9,52.0C281.5,51.0 279.1,49.7 276.7,49.1C274.3,48.5 271.7,48.1 269.5,48.4C267.4,48.6 265.4,49.4 263.8,50.5C262.1,51.6 260.5,53.2 259.5,54.8C258.4,56.5 257.8,58.7 257.3,60.6C256.8,62.5 257.4,64.7 256.6,66.3C255.7,68.0 253.5,69.2 252.3,70.6C251.1,72.1 249.2,73.5 249.4,75.0C249.6,76.4 252.0,77.6 253.7,79.3C255.4,80.9 257.8,83.1 259.5,85.0C261.1,86.9 262.8,88.8 263.8,90.8C264.7,92.7 265.7,94.8 265.2,96.5C264.7,98.2 262.8,99.7 260.9,100.8C259.0,101.9 256.1,102.7 253.7,103.0C251.3,103.2 248.9,102.6 246.5,102.3C244.1,101.9 241.7,101.4 239.3,100.8C236.9,100.2 234.3,99.5 232.1,98.7C230.0,97.8 228.1,96.9 226.4,95.8C224.7,94.7 223.5,93.3 222.1,92.2C220.7,91.1 219.5,90.3 217.8,89.3C216.1,88.4 213.9,87.2 212.0,86.4C210.1,85.7 208.2,85.5 206.3,85.0C204.4,84.5 202.4,83.8 200.5,83.6C198.6,83.3 196.7,84.1 194.8,83.6C192.9,83.1 191.2,81.7 189.0,80.7C186.9,79.7 184.5,79.3 181.8,77.8C179.2,76.4 176.1,73.5 173.2,72.1C170.4,70.6 167.5,70.2 164.6,69.2C161.7,68.2 158.0,67.5 156.0,66.3C153.9,65.1 153.5,63.7 152.4,62.0C151.3,60.3 149.6,58.4 149.5,56.3Z" fill="#dfc27d"/><path d="M353.8,149.7C338.2,146.3 352.1,134.4 350.9,129.6C349.7,124.8 347.8,124.1 346.6,120.9C345.4,117.8 344.4,114.2 343.7,110.9C343.0,107.5 342.3,103.9 342.3,100.8C342.3,97.7 343.7,95.3 343.7,92.2C343.7,89.1 343.0,85.3 342.3,82.1C341.6,79.0 339.7,76.1 339.4,73.5C339.2,70.9 339.4,68.2 340.8,66.3C342.3,64.4 345.4,63.5 348.0,62.0C350.7,60.6 353.8,58.9 356.7,57.7C359.5,56.5 362.4,55.8 365.3,54.8C368.2,53.9 371.0,52.9 373.9,52.0C376.8,51.0 379.9,50.3 382.5,49.1C385.2,47.9 387.3,46.2 389.7,44.8C392.1,43.3 394.7,41.9 396.9,40.5C399.1,39.0 401.2,37.8 402.6,36.1C404.1,34.5 404.8,32.3 405.5,30.4C406.2,28.5 406.0,26.3 407.0,24.7C407.9,23.0 409.4,21.3 411.3,20.3C413.2,19.4 416.1,18.9 418.5,18.9C420.8,18.9 423.5,19.1 425.6,20.3C427.8,21.5 429.5,23.9 431.4,26.1C433.3,28.2 435.5,30.9 437.1,33.3C438.8,35.7 440.0,37.8 441.4,40.5C442.9,43.1 444.8,46.2 445.8,49.1C446.7,52.0 446.7,54.6 447.2,57.7C447.7,60.8 447.7,64.7 448.6,67.8C449.6,70.9 451.5,73.8 452.9,76.4C454.4,79.0 456.1,81.2 457.3,83.6C458.5,86.0 459.9,88.4 460.1,90.8C460.4,93.2 459.9,95.5 458.7,97.9C457.5,100.3 454.6,102.7 452.9,105.1C451.3,107.5 449.8,109.7 448.6,112.3C447.4,114.9 446.5,118.1 445.8,120.9C445.0,123.8 444.6,124.8 444.3,129.6C444.1,134.4 459.4,146.3 444.3,149.7C429.2,153.0 369.4,153.0 353.8,149.7Z" fill="#80cdc1"/><path d="M517.0,77.8C517.3,75.2 518.7,72.1 519.9,69.2C521.1,66.3 522.5,63.2 524.2,60.6C525.9,57.9 527.8,55.2 530.0,53.4C532.1,51.6 534.5,50.5 537.1,49.8C539.8,49.1 542.9,48.8 545.8,49.1C548.6,49.3 552.0,50.3 554.4,51.2C556.8,52.2 558.7,53.0 560.1,54.8C561.6,56.6 562.1,59.6 563.0,62.0C564.0,64.4 564.4,67.0 565.9,69.2C567.3,71.4 569.5,73.0 571.6,75.0C573.8,76.9 577.1,78.5 578.8,80.7C580.5,82.9 581.5,85.5 581.7,87.9C581.9,90.3 581.2,92.7 580.3,95.1C579.3,97.5 577.4,100.1 575.9,102.3C574.5,104.4 573.3,106.6 571.6,108.0C570.0,109.4 567.8,110.5 565.9,110.9C564.0,111.2 562.1,110.6 560.1,110.2C558.2,109.7 556.5,108.6 554.4,108.0C552.2,107.4 549.4,107.0 547.2,106.6C545.0,106.1 543.4,106.1 541.5,105.1C539.5,104.2 537.9,102.5 535.7,100.8C533.5,99.1 530.7,96.7 528.5,95.1C526.4,93.4 524.4,92.4 522.8,90.8C521.1,89.1 519.4,87.2 518.5,85.0C517.5,82.9 516.8,80.5 517.0,77.8Z" fill="#dfc27d"/><path d="M28.2,21.8C28.6,20.6 29.8,18.9 31.1,18.2C32.4,17.5 34.5,17.1 36.1,17.5C37.7,17.8 39.3,18.9 40.4,20.3C41.5,21.8 42.1,23.9 42.6,26.1C43.0,28.2 43.6,31.1 43.3,33.3C42.9,35.4 41.4,38.3 40.4,39.0C39.5,39.7 38.4,38.5 37.5,37.6C36.7,36.6 36.3,34.7 35.4,33.3C34.4,31.8 32.9,30.3 31.8,29.0C30.7,27.6 29.5,26.6 28.9,25.4C28.3,24.2 27.8,23.0 28.2,21.8Z" fill="#35978f"/><path d="M168.2,54.8C168.3,53.4 169.6,51.6 171.1,50.5C172.5,49.4 174.7,48.8 176.8,48.4C179.0,47.9 181.6,47.5 184.0,47.6C186.4,47.8 188.8,48.4 191.2,49.1C193.6,49.8 196.1,51.2 198.4,52.0C200.7,52.7 202.6,53.3 204.8,53.4C207.1,53.5 209.4,52.7 212.0,52.7C214.7,52.7 217.8,53.0 220.7,53.4C223.5,53.8 226.6,53.9 229.3,54.8C231.9,55.8 234.3,57.5 236.5,59.1C238.6,60.8 240.8,63.0 242.2,64.9C243.6,66.8 245.1,69.0 245.1,70.6C245.1,72.3 243.6,73.8 242.2,75.0C240.8,76.1 238.6,77.1 236.5,77.8C234.3,78.5 231.7,79.3 229.3,79.3C226.9,79.3 224.5,78.5 222.1,77.8C219.7,77.1 217.1,76.1 214.9,75.0C212.7,73.8 211.1,72.1 209.2,70.6C207.2,69.2 205.1,67.8 203.4,66.3C201.7,64.9 200.8,63.0 199.1,62.0C197.4,61.1 195.5,60.8 193.3,60.6C191.2,60.3 188.1,60.1 186.2,60.6C184.2,61.1 183.5,63.1 181.8,63.5C180.2,63.8 178.0,63.5 176.1,62.7C174.2,62.0 171.7,60.5 170.4,59.1C169.0,57.8 168.1,56.3 168.2,54.8Z" fill="#bf812d"/><path d="M361.0,149.7C349.0,147.3 359.8,139.6 359.5,135.3C359.3,131.0 360.0,127.2 359.5,123.8C359.1,120.5 357.6,118.1 356.7,115.2C355.7,112.3 354.0,109.2 353.8,106.6C353.5,103.9 354.7,102.0 355.2,99.4C355.7,96.7 356.8,93.9 356.7,90.8C356.5,87.6 355.1,83.8 354.5,80.7C353.9,77.6 353.2,75.0 353.1,72.1C352.9,69.2 352.5,65.5 353.8,63.5C355.1,61.4 358.1,60.8 361.0,59.9C363.8,58.9 367.9,58.5 371.0,57.7C374.1,56.9 376.8,56.0 379.7,54.8C382.5,53.6 385.6,51.7 388.3,50.5C390.9,49.3 393.1,48.6 395.5,47.6C397.9,46.7 400.2,45.7 402.6,44.8C405.0,43.8 407.7,42.9 409.8,41.9C412.0,40.9 413.7,40.0 415.6,39.0C417.5,38.1 419.4,36.9 421.3,36.1C423.2,35.4 425.2,34.5 427.1,34.7C429.0,35.0 431.1,36.1 432.8,37.6C434.5,39.0 435.9,41.4 437.1,43.3C438.3,45.3 439.3,46.9 440.0,49.1C440.7,51.2 441.4,53.9 441.4,56.3C441.4,58.7 440.0,60.8 440.0,63.5C440.0,66.1 440.5,69.2 441.4,72.1C442.4,75.0 444.1,78.3 445.8,80.7C447.4,83.1 450.3,84.5 451.5,86.4C452.7,88.4 453.4,90.3 452.9,92.2C452.5,94.1 450.5,96.0 448.6,97.9C446.7,99.9 443.4,101.8 441.4,103.7C439.5,105.6 438.6,107.0 437.1,109.4C435.7,111.8 433.8,115.2 432.8,118.1C431.9,120.9 431.6,121.4 431.4,126.7C431.1,132.0 443.1,145.8 431.4,149.7C419.6,153.5 372.9,152.1 361.0,149.7Z" fill="#35978f"/><path d="M528.5,79.3C528.6,77.1 529.5,74.2 530.7,72.1C531.9,69.9 533.9,67.9 535.7,66.3C537.5,64.8 539.5,63.5 541.5,62.7C543.4,62.0 545.3,61.7 547.2,62.0C549.1,62.4 551.3,63.7 552.9,64.9C554.6,66.1 555.8,67.8 557.3,69.2C558.7,70.6 560.1,71.8 561.6,73.5C563.0,75.2 564.8,77.3 565.9,79.3C567.0,81.2 568.0,82.9 568.0,85.0C568.0,87.2 567.2,90.3 565.9,92.2C564.6,94.1 562.3,95.4 560.1,96.5C558.0,97.6 555.3,98.5 552.9,98.7C550.6,98.8 547.9,98.1 545.8,97.2C543.6,96.4 541.9,95.0 540.0,93.6C538.1,92.3 535.9,90.8 534.3,89.3C532.6,87.9 530.9,86.7 530.0,85.0C529.0,83.3 528.4,81.4 528.5,79.3Z" fill="#bf812d"/><path d="M412.7,50.5C413.4,48.8 414.4,47.2 415.6,46.2C416.8,45.3 418.5,44.5 419.9,44.8C421.3,45.0 422.8,46.4 424.2,47.6C425.6,48.8 427.6,50.3 428.5,52.0C429.5,53.6 429.9,55.8 429.9,57.7C429.9,59.6 428.5,61.5 428.5,63.5C428.5,65.4 429.0,67.3 429.9,69.2C430.9,71.1 432.6,73.0 434.3,75.0C435.9,76.9 438.6,78.8 440.0,80.7C441.4,82.6 443.1,84.5 442.9,86.4C442.6,88.4 440.2,90.5 438.6,92.2C436.9,93.9 434.7,95.1 432.8,96.5C430.9,97.9 429.0,99.1 427.1,100.8C425.2,102.5 423.0,104.7 421.3,106.6C419.6,108.5 418.0,110.2 417.0,112.3C416.1,114.5 415.8,116.9 415.6,119.5C415.3,122.1 415.8,125.5 415.6,128.1C415.3,130.8 414.9,131.7 414.1,135.3C413.4,138.9 417.5,147.3 411.3,149.7C405.0,152.1 383.0,153.0 376.8,149.7C370.5,146.3 374.6,134.4 373.9,129.6C373.2,124.8 372.5,123.6 372.5,120.9C372.5,118.3 372.7,115.7 373.9,113.8C375.1,111.8 377.5,110.6 379.7,109.4C381.8,108.2 384.9,108.0 386.8,106.6C388.8,105.1 390.7,103.0 391.1,100.8C391.6,98.7 390.7,95.5 389.7,93.6C388.8,91.7 386.7,90.8 385.4,89.3C384.1,87.9 382.3,86.7 381.8,85.0C381.3,83.3 381.4,80.9 382.5,79.3C383.6,77.6 385.9,76.1 388.3,75.0C390.7,73.8 394.0,73.3 396.9,72.1C399.8,70.9 403.4,69.4 405.5,67.8C407.7,66.1 408.9,63.9 409.8,62.0C410.8,60.1 410.8,58.2 411.3,56.3C411.7,54.4 412.0,52.2 412.7,50.5Z" fill="#01665e"/><path d="M400.5,81.0C400.5,80.1 402.3,78.8 404.1,78.3C405.9,77.7 409.0,77.5 411.3,77.5C413.5,77.6 416.1,77.8 417.7,78.4C419.4,79.0 421.3,80.1 421.3,81.0C421.3,81.8 419.4,83.0 417.7,83.6C416.1,84.1 413.5,84.4 411.3,84.4C409.0,84.4 405.9,84.1 404.1,83.6C402.3,83.0 400.5,81.9 400.5,81.0Z" fill="#003c30"/></g>
<use href="#cst"/><use href="#cst" x="633.5"/><use href="#cst" x="-633.5"/>
</g></g>
<line x1="844.7" y1="115.8" x2="861.1" y2="115.8" stroke="#484848" stroke-width="1.3" stroke-dasharray="4.3 3.6" stroke-dashoffset="0.00"/><line x1="920.4" y1="115.8" x2="1019.6" y2="115.8" stroke="#484848" stroke-width="1.3" stroke-dasharray="4.3 3.6" stroke-dashoffset="4.57"/><line x1="1027.0" y1="115.8" x2="1036.5" y2="115.8" stroke="#484848" stroke-width="1.3" stroke-dasharray="4.3 3.6" stroke-dashoffset="0.60"/><line x1="1051.6" y1="115.8" x2="1055.5" y2="115.8" stroke="#484848" stroke-width="1.3" stroke-dasharray="4.3 3.6" stroke-dashoffset="1.54"/><line x1="1056.2" y1="115.8" x2="1337.2" y2="115.8" stroke="#484848" stroke-width="1.3" stroke-dasharray="4.3 3.6" stroke-dashoffset="6.12"/><line x1="1391.3" y1="115.8" x2="1478.2" y2="115.8" stroke="#484848" stroke-width="1.3" stroke-dasharray="4.3 3.6" stroke-dashoffset="1.46"/><line x1="1161.4" y1="45.4" x2="1161.4" y2="186.2" stroke="#484848" stroke-width="1.3" stroke-dasharray="4.3 3.6"/>
<g transform="translate(844.7,45.4)"><g clip-path="url(#pc)">
<path class="kd" d="M57.7,141.1C58.0,139.6 59.0,135.1 59.8,132.4C60.7,129.8 61.4,126.9 62.7,125.2C64.0,123.6 65.4,122.7 67.7,122.4C70.0,122.0 73.5,122.7 76.3,123.1C79.2,123.5 82.3,124.4 85.0,124.5C87.6,124.7 90.7,124.9 92.1,123.8C93.6,122.7 93.8,120.2 93.6,118.1C93.3,115.9 91.3,113.3 90.7,110.9C90.1,108.5 89.5,105.8 90.0,103.7C90.5,101.5 92.0,99.6 93.6,97.9C95.1,96.3 97.2,95.1 99.3,93.6C101.5,92.2 104.4,90.8 106.5,89.3C108.7,87.9 110.7,86.7 112.3,85.0C113.8,83.3 115.4,81.2 115.9,79.3C116.3,77.3 116.0,75.4 115.1,73.5C114.3,71.6 112.7,69.6 110.8,67.8C108.9,66.0 106.0,64.3 103.6,62.7C101.2,61.2 99.1,59.6 96.5,58.4C93.8,57.2 90.7,56.3 87.8,55.6C85.0,54.8 82.1,54.4 79.2,54.1C76.3,53.8 73.5,53.6 70.6,53.7C67.7,53.8 64.6,54.3 62.0,54.8C59.3,55.4 56.6,56.0 54.8,57.0C53.0,57.9 51.9,58.8 51.2,60.6C50.5,62.4 50.2,65.4 50.5,67.8C50.7,70.2 52.1,72.6 52.6,75.0C53.1,77.3 53.9,80.0 53.3,82.1C52.7,84.3 51.0,86.2 49.0,87.9C47.1,89.6 44.5,90.9 41.8,92.2C39.2,93.5 36.1,94.8 33.2,95.8C30.4,96.7 27.5,97.4 24.6,97.9C21.7,98.5 18.9,98.7 16.0,99.1C13.1,99.5 9.5,99.5 7.4,100.1C5.2,100.7 3.6,101.2 3.0,103.0C2.4,104.8 2.9,108.4 3.8,110.9C4.6,113.4 7.0,115.4 8.1,118.1C9.2,120.7 10.2,124.1 10.2,126.7C10.2,129.3 9.3,132.0 8.1,133.9C6.9,135.8 4.5,137.1 3.0,138.2C1.6,139.3 0.1,140.0 -0.5,140.3"/><path class="kc" d="M111.5,10.3C111.7,9.7 112.3,8.8 113.0,8.6C113.7,8.3 115.3,8.4 115.9,8.8C116.5,9.3 116.8,10.3 116.6,11.0C116.3,11.7 115.2,12.7 114.4,12.9C113.7,13.1 112.5,12.6 112.0,12.2C111.5,11.7 111.4,10.9 111.5,10.3Z"/><path class="kd" d="M168.6,0.9C167.6,1.8 163.9,4.2 162.6,6.0C161.2,7.8 160.4,10.0 160.4,11.7C160.4,13.4 161.2,15.0 162.6,16.0C163.9,17.0 166.2,17.6 168.3,17.8C170.5,17.9 173.1,17.5 175.5,16.7C177.9,16.0 180.5,14.6 182.7,13.2C184.8,11.7 187.1,10.2 188.4,8.1C189.8,6.1 190.5,2.1 190.9,0.9"/><path class="kc" d="M270.9,0.9C269.5,1.7 265.0,3.8 262.3,5.3C259.7,6.7 257.1,8.0 255.1,9.6C253.2,11.1 251.1,13.2 250.8,14.6C250.6,16.0 252.0,17.3 253.7,18.2C255.4,19.0 258.5,19.1 260.9,19.6C263.3,20.1 265.9,20.2 268.1,21.1C270.2,21.9 271.9,23.5 273.8,24.7C275.7,25.9 277.4,27.4 279.6,28.2C281.7,29.1 284.5,29.8 286.8,29.7C289.0,29.6 291.1,28.8 293.2,27.5C295.4,26.2 297.7,23.8 299.7,21.8C301.7,19.7 303.5,17.5 305.4,15.3C307.4,13.2 309.3,10.6 311.2,8.8C313.1,7.0 315.0,5.9 316.9,4.5C318.9,3.1 322.0,1.2 323.0,0.5"/><path class="kc" d="M230.7,52.0C231.0,50.8 233.1,49.7 235.0,49.1C236.9,48.5 240.1,48.2 242.2,48.4C244.4,48.5 246.6,48.7 248.0,49.8C249.3,50.9 249.5,53.4 250.1,54.8C250.7,56.3 252.1,57.5 251.5,58.4C250.9,59.3 248.6,60.2 246.5,60.3C244.5,60.4 241.5,59.8 239.3,59.1C237.2,58.5 235.0,57.5 233.6,56.3C232.1,55.1 230.5,53.2 230.7,52.0Z"/><path class="kd" d="M256.6,110.9C257.2,109.1 259.2,106.9 260.9,105.1C262.6,103.3 264.7,101.3 266.6,100.1C268.6,98.9 270.9,97.7 272.4,97.9C273.8,98.2 274.4,99.9 275.3,101.5C276.1,103.2 276.5,106.0 277.4,108.0C278.4,110.0 280.2,111.6 281.0,113.8C281.8,115.9 282.3,118.5 282.4,120.9C282.6,123.3 282.7,126.3 281.7,128.1C280.8,129.9 278.5,131.2 276.7,131.7C274.9,132.2 272.9,131.7 270.9,131.0C269.0,130.3 267.0,129.0 265.2,127.4C263.4,125.8 261.5,123.6 260.2,121.7C258.9,119.7 257.9,117.7 257.3,115.9C256.7,114.1 256.0,112.7 256.6,110.9Z"/><path class="kc" d="M366.7,-1.2C366.8,0.7 367.4,6.7 367.4,10.3C367.4,13.9 367.3,17.2 366.7,20.3C366.1,23.5 364.9,26.1 363.8,29.0C362.8,31.8 361.0,34.7 360.3,37.6C359.5,40.5 360.4,43.6 359.5,46.2C358.7,48.8 357.4,51.0 355.2,53.4C353.1,55.8 349.2,58.4 346.6,60.6C344.0,62.7 341.0,64.2 339.4,66.3C337.9,68.5 337.5,71.1 337.3,73.5C337.0,75.9 338.8,78.3 338.0,80.7C337.1,83.1 334.0,85.3 332.2,87.9C330.4,90.5 328.4,93.4 327.2,96.5C326.0,99.6 325.3,103.2 325.0,106.6C324.8,109.9 325.2,113.0 325.8,116.6C326.4,120.2 327.7,124.1 328.6,128.1C329.5,132.2 330.7,138.9 331.1,141.1"/><path class="kc" d="M349.8,141.1C349.1,139.4 347.2,134.1 345.9,131.0C344.5,127.9 342.8,125.2 341.6,122.4C340.4,119.5 339.1,116.6 338.7,113.8C338.3,110.9 338.6,108.0 339.4,105.1C340.3,102.3 341.8,99.1 343.7,96.5C345.6,93.9 348.3,91.5 350.9,89.3C353.5,87.2 356.4,85.5 359.5,83.6C362.6,81.7 366.2,79.5 369.6,77.8C372.9,76.1 376.5,74.8 379.7,73.5C382.8,72.2 386.5,71.1 388.3,69.9C390.1,68.7 390.9,67.6 390.4,66.3C390.0,65.0 386.8,63.7 385.4,62.0C384.0,60.3 382.0,58.2 381.8,56.3C381.6,54.4 382.6,52.4 384.0,50.5C385.3,48.6 388.0,46.9 389.7,44.8C391.4,42.6 393.2,40.0 394.0,37.6C394.9,35.2 395.2,32.6 394.7,30.4C394.3,28.2 391.6,26.2 391.1,24.7C390.7,23.1 390.9,22.1 391.9,21.1C392.8,20.1 395.1,18.9 396.9,18.6C398.7,18.4 401.1,18.9 402.6,19.6C404.2,20.4 405.5,21.7 406.2,23.2C407.0,24.8 406.4,27.0 407.0,29.0C407.6,30.9 408.4,32.8 409.8,34.7C411.3,36.6 413.4,38.5 415.6,40.5C417.7,42.4 420.6,44.5 422.8,46.2C424.9,47.9 427.2,48.8 428.5,50.5C429.8,52.2 430.9,54.4 430.7,56.3C430.4,58.2 427.8,60.1 427.1,62.0C426.4,63.9 425.6,65.8 426.4,67.8C427.1,69.7 429.4,71.6 431.4,73.5C433.4,75.4 436.7,77.3 438.6,79.3C440.5,81.2 442.4,82.9 442.9,85.0C443.4,87.2 442.4,89.8 441.4,92.2C440.5,94.6 438.8,97.2 437.1,99.4C435.5,101.5 433.5,103.2 431.4,105.1C429.2,107.0 426.2,108.7 424.2,110.9C422.2,113.0 420.4,115.4 419.2,118.1C418.0,120.7 417.5,122.9 417.0,126.7C416.5,130.5 416.4,138.7 416.3,141.1"/><path class="kc" d="M371.3,141.1C370.8,140.1 369.2,137.2 368.2,135.3C367.1,133.4 366.1,132.0 365.3,129.6C364.4,127.2 363.8,123.8 363.1,120.9C362.4,118.1 361.2,115.2 361.0,112.3C360.7,109.4 361.0,106.1 361.7,103.7C362.4,101.3 363.5,99.6 365.3,97.9C367.1,96.3 369.6,94.8 372.5,93.6C375.3,92.4 378.9,91.6 382.5,90.8C386.1,89.9 390.7,89.2 394.0,88.6C397.4,88.0 400.4,87.0 402.6,87.2C404.9,87.3 406.7,87.8 407.7,89.3C408.6,90.9 408.4,93.6 408.4,96.5C408.4,99.4 408.0,103.2 407.7,106.6C407.3,109.9 406.7,113.3 406.2,116.6C405.8,120.0 405.5,123.6 404.8,126.7C404.1,129.8 403.3,132.9 401.9,135.3C400.6,137.7 397.5,140.1 396.6,141.1"/><path class="kc" d="M412.0,-1.2C413.3,-0.3 417.1,2.4 419.9,4.5C422.6,6.7 425.9,9.1 428.5,11.7C431.1,14.4 433.5,17.5 435.7,20.3C437.9,23.2 439.8,26.1 441.4,29.0C443.1,31.8 444.6,34.5 445.8,37.6C447.0,40.7 448.0,44.5 448.6,47.6C449.2,50.8 449.3,53.2 449.3,56.3C449.3,59.4 448.3,63.2 448.6,66.3C449.0,69.4 450.5,72.1 451.5,75.0C452.5,77.8 453.8,80.7 454.4,83.6C455.0,86.4 455.1,89.3 455.1,92.2C455.1,95.1 455.5,97.9 454.4,100.8C453.3,103.7 451.0,106.8 448.6,109.4C446.2,112.1 442.6,114.5 440.0,116.6C437.4,118.8 434.5,120.0 432.8,122.4C431.1,124.8 430.4,127.9 429.9,131.0C429.5,134.1 429.9,139.4 429.9,141.1"/><path class="kd" d="M593.9,4.2C593.1,4.7 590.7,5.7 588.9,6.7C587.1,7.7 585.0,9.0 583.1,10.3C581.2,11.6 578.6,12.9 577.4,14.6C576.2,16.3 576.5,18.2 575.9,20.3C575.3,22.5 574.3,25.1 573.8,27.5C573.3,29.9 572.8,32.3 573.1,34.7C573.3,37.1 574.6,39.5 575.2,41.9C575.8,44.3 576.7,46.7 576.7,49.1C576.7,51.5 575.6,53.9 575.2,56.3C574.9,58.7 574.3,61.1 574.5,63.5C574.7,65.8 575.7,68.5 576.7,70.6C577.6,72.8 578.9,74.5 580.3,76.4C581.6,78.3 583.5,80.3 584.6,82.1C585.6,83.9 587.0,85.5 586.7,87.2C586.5,88.8 584.7,90.9 583.1,92.2C581.6,93.5 579.5,93.9 577.4,95.1C575.2,96.3 572.3,97.7 570.2,99.4C568.0,101.1 566.1,103.2 564.4,105.1C562.8,107.0 561.8,109.2 560.1,110.9C558.5,112.6 556.8,114.2 554.4,115.2C552.0,116.1 548.9,116.3 545.8,116.6C542.6,117.0 539.1,117.1 535.7,117.3C532.4,117.6 529.0,117.9 525.6,118.1C522.3,118.2 518.7,118.3 515.6,118.1C512.5,117.8 509.6,117.6 507.0,116.6C504.3,115.7 501.9,114.0 499.8,112.3C497.6,110.6 495.7,108.7 494.0,106.6C492.4,104.4 490.9,101.8 489.7,99.4C488.5,97.0 487.8,94.6 486.8,92.2C485.9,89.8 485.2,87.4 484.0,85.0C482.8,82.6 480.9,80.2 479.7,77.8C478.5,75.4 477.1,73.3 476.8,70.6C476.4,68.0 477.1,64.9 477.5,62.0C477.9,59.1 478.6,56.3 478.9,53.4C479.3,50.5 479.8,47.6 479.7,44.8C479.5,41.9 478.7,39.0 478.2,36.1C477.7,33.3 477.1,30.4 476.8,27.5C476.4,24.7 476.1,21.8 476.1,18.9C476.1,16.0 476.7,11.7 476.8,10.3"/><path class="kd" d="M529.7,1.4C528.5,1.9 525.1,3.5 522.8,4.5C520.4,5.5 518.2,6.4 515.6,7.4C513.0,8.4 509.6,9.3 507.0,10.3C504.3,11.2 501.7,12.0 499.8,13.2C497.9,14.4 496.2,15.3 495.5,17.5C494.7,19.6 495.2,23.2 495.5,26.1C495.7,29.0 496.5,31.8 496.9,34.7C497.3,37.6 497.6,40.5 497.6,43.3C497.6,46.2 497.1,49.1 496.9,52.0C496.7,54.8 496.4,57.7 496.2,60.6C495.9,63.5 495.2,66.8 495.5,69.2C495.7,71.6 496.4,73.4 497.6,75.0C498.8,76.5 500.6,77.6 502.7,78.5C504.7,79.5 507.2,80.0 509.8,80.7C512.5,81.4 515.6,82.4 518.5,82.9C521.3,83.3 524.4,83.8 527.1,83.6C529.7,83.3 532.4,82.4 534.3,81.4C536.2,80.5 537.4,79.4 538.6,77.8C539.8,76.3 540.7,74.2 541.5,72.1C542.2,69.9 541.9,66.8 542.9,64.9C543.8,63.0 545.8,62.0 547.2,60.6C548.6,59.1 550.6,57.9 551.5,56.3C552.5,54.6 553.2,52.4 552.9,50.5C552.7,48.6 550.9,46.9 550.1,44.8C549.2,42.6 548.4,40.2 547.9,37.6C547.4,35.0 547.3,31.8 547.2,29.0C547.1,26.1 547.0,23.0 547.2,20.3C547.4,17.7 547.9,15.6 548.6,13.2C549.4,10.8 550.6,8.0 551.5,6.0C552.4,3.9 553.7,1.8 554.1,0.9"/>
</g></g>
<line x1="844.7" y1="45.4" x2="844.7" y2="40.2" stroke="#000" stroke-width="3.0" stroke-linecap="round"/>
<line x1="844.7" y1="186.2" x2="844.7" y2="191.4" stroke="#000" stroke-width="3.0" stroke-linecap="round"/>
<line x1="862.3" y1="45.4" x2="862.3" y2="42.5" stroke="#000" stroke-width="1.5" stroke-linecap="round"/>
<line x1="862.3" y1="186.2" x2="862.3" y2="189.1" stroke="#000" stroke-width="1.5" stroke-linecap="round"/>
<line x1="879.9" y1="45.4" x2="879.9" y2="42.5" stroke="#000" stroke-width="1.5" stroke-linecap="round"/>
<line x1="879.9" y1="186.2" x2="879.9" y2="189.1" stroke="#000" stroke-width="1.5" stroke-linecap="round"/>
<line x1="897.5" y1="45.4" x2="897.5" y2="42.5" stroke="#000" stroke-width="1.5" stroke-linecap="round"/>
<line x1="897.5" y1="186.2" x2="897.5" y2="189.1" stroke="#000" stroke-width="1.5" stroke-linecap="round"/>
<line x1="915.1" y1="45.4" x2="915.1" y2="42.5" stroke="#000" stroke-width="1.5" stroke-linecap="round"/>
<line x1="915.1" y1="186.2" x2="915.1" y2="189.1" stroke="#000" stroke-width="1.5" stroke-linecap="round"/>
<line x1="932.7" y1="45.4" x2="932.7" y2="42.5" stroke="#000" stroke-width="1.5" stroke-linecap="round"/>
<line x1="932.7" y1="186.2" x2="932.7" y2="189.1" stroke="#000" stroke-width="1.5" stroke-linecap="round"/>
<line x1="950.3" y1="45.4" x2="950.3" y2="40.2" stroke="#000" stroke-width="3.0" stroke-linecap="round"/>
<line x1="950.3" y1="186.2" x2="950.3" y2="191.4" stroke="#000" stroke-width="3.0" stroke-linecap="round"/>
<line x1="967.9" y1="45.4" x2="967.9" y2="42.5" stroke="#000" stroke-width="1.5" stroke-linecap="round"/>
<line x1="967.9" y1="186.2" x2="967.9" y2="189.1" stroke="#000" stroke-width="1.5" stroke-linecap="round"/>
<line x1="985.5" y1="45.4" x2="985.5" y2="42.5" stroke="#000" stroke-width="1.5" stroke-linecap="round"/>
<line x1="985.5" y1="186.2" x2="985.5" y2="189.1" stroke="#000" stroke-width="1.5" stroke-linecap="round"/>
<line x1="1003.1" y1="45.4" x2="1003.1" y2="42.5" stroke="#000" stroke-width="1.5" stroke-linecap="round"/>
<line x1="1003.1" y1="186.2" x2="1003.1" y2="189.1" stroke="#000" stroke-width="1.5" stroke-linecap="round"/>
<line x1="1020.7" y1="45.4" x2="1020.7" y2="42.5" stroke="#000" stroke-width="1.5" stroke-linecap="round"/>
<line x1="1020.7" y1="186.2" x2="1020.7" y2="189.1" stroke="#000" stroke-width="1.5" stroke-linecap="round"/>
<line x1="1038.3" y1="45.4" x2="1038.3" y2="42.5" stroke="#000" stroke-width="1.5" stroke-linecap="round"/>
<line x1="1038.3" y1="186.2" x2="1038.3" y2="189.1" stroke="#000" stroke-width="1.5" stroke-linecap="round"/>
<line x1="1055.9" y1="45.4" x2="1055.9" y2="40.2" stroke="#000" stroke-width="3.0" stroke-linecap="round"/>
<line x1="1055.9" y1="186.2" x2="1055.9" y2="191.4" stroke="#000" stroke-width="3.0" stroke-linecap="round"/>
<line x1="1073.5" y1="45.4" x2="1073.5" y2="42.5" stroke="#000" stroke-width="1.5" stroke-linecap="round"/>
<line x1="1073.5" y1="186.2" x2="1073.5" y2="189.1" stroke="#000" stroke-width="1.5" stroke-linecap="round"/>
<line x1="1091.1" y1="45.4" x2="1091.1" y2="42.5" stroke="#000" stroke-width="1.5" stroke-linecap="round"/>
<line x1="1091.1" y1="186.2" x2="1091.1" y2="189.1" stroke="#000" stroke-width="1.5" stroke-linecap="round"/>
<line x1="1108.7" y1="45.4" x2="1108.7" y2="42.5" stroke="#000" stroke-width="1.5" stroke-linecap="round"/>
<line x1="1108.7" y1="186.2" x2="1108.7" y2="189.1" stroke="#000" stroke-width="1.5" stroke-linecap="round"/>
<line x1="1126.3" y1="45.4" x2="1126.3" y2="42.5" stroke="#000" stroke-width="1.5" stroke-linecap="round"/>
<line x1="1126.3" y1="186.2" x2="1126.3" y2="189.1" stroke="#000" stroke-width="1.5" stroke-linecap="round"/>
<line x1="1143.8" y1="45.4" x2="1143.8" y2="42.5" stroke="#000" stroke-width="1.5" stroke-linecap="round"/>
<line x1="1143.8" y1="186.2" x2="1143.8" y2="189.1" stroke="#000" stroke-width="1.5" stroke-linecap="round"/>
<line x1="1161.4" y1="45.4" x2="1161.4" y2="40.2" stroke="#000" stroke-width="3.0" stroke-linecap="round"/>
<line x1="1161.4" y1="186.2" x2="1161.4" y2="191.4" stroke="#000" stroke-width="3.0" stroke-linecap="round"/>
<line x1="1179.0" y1="45.4" x2="1179.0" y2="42.5" stroke="#000" stroke-width="1.5" stroke-linecap="round"/>
<line x1="1179.0" y1="186.2" x2="1179.0" y2="189.1" stroke="#000" stroke-width="1.5" stroke-linecap="round"/>
<line x1="1196.6" y1="45.4" x2="1196.6" y2="42.5" stroke="#000" stroke-width="1.5" stroke-linecap="round"/>
<line x1="1196.6" y1="186.2" x2="1196.6" y2="189.1" stroke="#000" stroke-width="1.5" stroke-linecap="round"/>
<line x1="1214.2" y1="45.4" x2="1214.2" y2="42.5" stroke="#000" stroke-width="1.5" stroke-linecap="round"/>
<line x1="1214.2" y1="186.2" x2="1214.2" y2="189.1" stroke="#000" stroke-width="1.5" stroke-linecap="round"/>
<line x1="1231.8" y1="45.4" x2="1231.8" y2="42.5" stroke="#000" stroke-width="1.5" stroke-linecap="round"/>
<line x1="1231.8" y1="186.2" x2="1231.8" y2="189.1" stroke="#000" stroke-width="1.5" stroke-linecap="round"/>
<line x1="1249.4" y1="45.4" x2="1249.4" y2="42.5" stroke="#000" stroke-width="1.5" stroke-linecap="round"/>
<line x1="1249.4" y1="186.2" x2="1249.4" y2="189.1" stroke="#000" stroke-width="1.5" stroke-linecap="round"/>
<line x1="1267.0" y1="45.4" x2="1267.0" y2="40.2" stroke="#000" stroke-width="3.0" stroke-linecap="round"/>
<line x1="1267.0" y1="186.2" x2="1267.0" y2="191.4" stroke="#000" stroke-width="3.0" stroke-linecap="round"/>
<line x1="1284.6" y1="45.4" x2="1284.6" y2="42.5" stroke="#000" stroke-width="1.5" stroke-linecap="round"/>
<line x1="1284.6" y1="186.2" x2="1284.6" y2="189.1" stroke="#000" stroke-width="1.5" stroke-linecap="round"/>
<line x1="1302.2" y1="45.4" x2="1302.2" y2="42.5" stroke="#000" stroke-width="1.5" stroke-linecap="round"/>
<line x1="1302.2" y1="186.2" x2="1302.2" y2="189.1" stroke="#000" stroke-width="1.5" stroke-linecap="round"/>
<line x1="1319.8" y1="45.4" x2="1319.8" y2="42.5" stroke="#000" stroke-width="1.5" stroke-linecap="round"/>
<line x1="1319.8" y1="186.2" x2="1319.8" y2="189.1" stroke="#000" stroke-width="1.5" stroke-linecap="round"/>
<line x1="1337.4" y1="45.4" x2="1337.4" y2="42.5" stroke="#000" stroke-width="1.5" stroke-linecap="round"/>
<line x1="1337.4" y1="186.2" x2="1337.4" y2="189.1" stroke="#000" stroke-width="1.5" stroke-linecap="round"/>
<line x1="1355.0" y1="45.4" x2="1355.0" y2="42.5" stroke="#000" stroke-width="1.5" stroke-linecap="round"/>
<line x1="1355.0" y1="186.2" x2="1355.0" y2="189.1" stroke="#000" stroke-width="1.5" stroke-linecap="round"/>
<line x1="1372.6" y1="45.4" x2="1372.6" y2="40.2" stroke="#000" stroke-width="3.0" stroke-linecap="round"/>
<line x1="1372.6" y1="186.2" x2="1372.6" y2="191.4" stroke="#000" stroke-width="3.0" stroke-linecap="round"/>
<line x1="1390.2" y1="45.4" x2="1390.2" y2="42.5" stroke="#000" stroke-width="1.5" stroke-linecap="round"/>
<line x1="1390.2" y1="186.2" x2="1390.2" y2="189.1" stroke="#000" stroke-width="1.5" stroke-linecap="round"/>
<line x1="1407.8" y1="45.4" x2="1407.8" y2="42.5" stroke="#000" stroke-width="1.5" stroke-linecap="round"/>
<line x1="1407.8" y1="186.2" x2="1407.8" y2="189.1" stroke="#000" stroke-width="1.5" stroke-linecap="round"/>
<line x1="1425.4" y1="45.4" x2="1425.4" y2="42.5" stroke="#000" stroke-width="1.5" stroke-linecap="round"/>
<line x1="1425.4" y1="186.2" x2="1425.4" y2="189.1" stroke="#000" stroke-width="1.5" stroke-linecap="round"/>
<line x1="1443.0" y1="45.4" x2="1443.0" y2="42.5" stroke="#000" stroke-width="1.5" stroke-linecap="round"/>
<line x1="1443.0" y1="186.2" x2="1443.0" y2="189.1" stroke="#000" stroke-width="1.5" stroke-linecap="round"/>
<line x1="1460.6" y1="45.4" x2="1460.6" y2="42.5" stroke="#000" stroke-width="1.5" stroke-linecap="round"/>
<line x1="1460.6" y1="186.2" x2="1460.6" y2="189.1" stroke="#000" stroke-width="1.5" stroke-linecap="round"/>
<line x1="1478.2" y1="45.4" x2="1478.2" y2="40.2" stroke="#000" stroke-width="3.0" stroke-linecap="round"/>
<line x1="1478.2" y1="186.2" x2="1478.2" y2="191.4" stroke="#000" stroke-width="3.0" stroke-linecap="round"/>
<line x1="844.7" y1="168.6" x2="839.5" y2="168.6" stroke="#000" stroke-width="3.0" stroke-linecap="round"/>
<line x1="1478.2" y1="168.6" x2="1483.4" y2="168.6" stroke="#000" stroke-width="3.0" stroke-linecap="round"/>
<line x1="844.7" y1="151.0" x2="841.8" y2="151.0" stroke="#000" stroke-width="1.5" stroke-linecap="round"/>
<line x1="1478.2" y1="151.0" x2="1481.1" y2="151.0" stroke="#000" stroke-width="1.5" stroke-linecap="round"/>
<line x1="844.7" y1="133.4" x2="841.8" y2="133.4" stroke="#000" stroke-width="1.5" stroke-linecap="round"/>
<line x1="1478.2" y1="133.4" x2="1481.1" y2="133.4" stroke="#000" stroke-width="1.5" stroke-linecap="round"/>
<line x1="844.7" y1="115.8" x2="839.5" y2="115.8" stroke="#000" stroke-width="3.0" stroke-linecap="round"/>
<line x1="1478.2" y1="115.8" x2="1483.4" y2="115.8" stroke="#000" stroke-width="3.0" stroke-linecap="round"/>
<line x1="844.7" y1="98.2" x2="841.8" y2="98.2" stroke="#000" stroke-width="1.5" stroke-linecap="round"/>
<line x1="1478.2" y1="98.2" x2="1481.1" y2="98.2" stroke="#000" stroke-width="1.5" stroke-linecap="round"/>
<line x1="844.7" y1="80.6" x2="841.8" y2="80.6" stroke="#000" stroke-width="1.5" stroke-linecap="round"/>
<line x1="1478.2" y1="80.6" x2="1481.1" y2="80.6" stroke="#000" stroke-width="1.5" stroke-linecap="round"/>
<line x1="844.7" y1="63.0" x2="839.5" y2="63.0" stroke="#000" stroke-width="3.0" stroke-linecap="round"/>
<line x1="1478.2" y1="63.0" x2="1483.4" y2="63.0" stroke="#000" stroke-width="3.0" stroke-linecap="round"/>
<rect x="844.7" y="45.4" width="633.5" height="140.8" fill="none" stroke="#000" stroke-width="3.3"/>
<text class="t34" id="t5" x="842.9" y="30.2" textLength="218.9" lengthAdjust="spacingAndGlyphs">5-Apr to 9-Apr</text>
<g transform="translate(844.7,260.1)"><g clip-path="url(#pc)">
<rect x="0" y="0" width="633.5" height="140.8" fill="#f5f5f5"/>
<g filter="url(#sm)"><path d="M34.7,40.8C35.0,39.3 35.9,36.3 37.5,35.0C39.2,33.7 42.3,33.6 44.7,32.9C47.1,32.1 50.2,31.8 51.9,30.7C53.6,29.6 53.6,27.5 54.8,26.4C56.0,25.3 57.9,24.0 59.1,24.2C60.3,24.5 61.0,26.3 62.0,27.8C62.9,29.4 63.9,31.7 64.8,33.6C65.8,35.5 66.5,37.9 67.7,39.3C68.9,40.8 71.2,41.0 72.0,42.2C72.9,43.4 73.5,45.3 72.7,46.5C72.0,47.7 69.8,48.7 67.7,49.4C65.7,50.1 62.7,50.3 60.5,50.8C58.4,51.3 56.9,52.4 54.8,52.3C52.6,52.1 50.0,51.1 47.6,50.1C45.2,49.1 42.4,47.6 40.4,46.5C38.4,45.4 36.3,44.6 35.4,43.6C34.4,42.7 34.3,42.2 34.7,40.8Z" fill="#c7eae5"/><path d="M99.3,76.7C100.2,74.1 101.5,71.2 103.6,69.5C105.8,67.8 109.2,67.2 112.3,66.6C115.4,66.0 119.0,65.8 122.3,65.9C125.7,66.0 129.0,66.6 132.4,67.3C135.7,68.1 139.3,69.1 142.4,70.2C145.6,71.3 148.4,72.5 151.1,73.8C153.7,75.1 156.9,76.7 158.3,78.1C159.6,79.6 159.7,81.2 159.0,82.4C158.3,83.6 156.0,84.1 153.9,85.3C151.9,86.5 148.9,88.2 146.8,89.6C144.6,91.1 142.7,92.3 141.0,93.9C139.3,95.6 138.1,97.8 136.7,99.7C135.3,101.6 134.1,103.8 132.4,105.4C130.7,107.1 128.8,108.5 126.6,109.7C124.5,110.9 122.1,112.0 119.5,112.6C116.8,113.2 113.7,113.6 110.8,113.3C108.0,113.1 104.6,112.3 102.2,111.2C99.8,110.1 97.8,108.5 96.5,106.9C95.1,105.2 94.3,103.3 94.3,101.1C94.3,99.0 95.7,96.6 96.5,93.9C97.2,91.3 98.1,88.2 98.6,85.3C99.1,82.4 98.5,79.3 99.3,76.7Z" fill="#c7eae5"/><path d="M138.9,-13.8C132.1,-17.0 105.9,-17.2 99.3,-13.8C92.7,-10.5 98.6,2.0 99.3,6.3C100.1,10.6 102.0,10.3 103.6,12.0C105.3,13.7 107.2,15.4 109.4,16.3C111.5,17.3 114.2,17.0 116.6,17.8C119.0,18.5 121.6,19.4 123.8,20.6C125.9,21.8 128.3,23.0 129.5,25.0C130.7,26.9 130.2,29.7 130.9,32.1C131.7,34.5 132.6,37.2 133.8,39.3C135.0,41.5 136.9,42.9 138.1,45.1C139.3,47.2 139.8,50.1 141.0,52.3C142.2,54.4 143.9,56.3 145.3,58.0C146.8,59.7 148.0,61.1 149.6,62.3C151.3,63.5 153.2,64.2 155.4,65.2C157.5,66.1 160.8,67.2 162.6,68.1C164.3,68.9 164.0,70.0 166.0,70.2C168.1,70.5 172.0,69.5 174.7,69.5C177.3,69.5 179.5,69.7 181.8,70.2C184.2,70.7 186.4,71.7 189.0,72.4C191.7,73.1 194.8,73.8 197.7,74.5C200.5,75.3 203.4,76.1 206.3,76.7C209.2,77.3 212.0,78.2 214.9,78.1C217.8,78.0 220.7,76.4 223.5,76.0C226.4,75.5 229.3,75.1 232.1,75.3C235.0,75.4 237.9,76.7 240.8,76.7C243.6,76.7 246.8,76.0 249.4,75.3C252.0,74.5 254.4,73.6 256.6,72.4C258.7,71.2 260.2,69.1 262.3,68.1C264.5,67.0 266.9,66.4 269.5,65.9C272.1,65.4 275.3,65.4 278.1,65.2C281.0,65.0 283.9,64.7 286.8,64.5C289.6,64.2 292.5,64.1 295.4,63.8C298.3,63.4 302.7,63.5 304.0,62.3C305.4,61.1 301.9,57.6 303.5,56.6C305.1,55.5 310.0,56.1 313.5,55.9C317.1,55.6 321.2,55.5 325.0,55.1C328.9,54.8 332.9,54.2 336.5,53.7C340.1,53.2 343.2,52.7 346.6,52.3C350.0,51.8 353.5,51.4 356.7,50.8C359.8,50.2 362.6,49.6 365.3,48.7C367.9,47.7 370.3,46.4 372.5,45.1C374.6,43.8 375.8,42.2 378.2,40.8C380.6,39.3 384.0,37.6 386.8,36.4C389.7,35.3 392.8,34.5 395.5,33.6C398.1,32.6 400.5,32.1 402.6,30.7C404.8,29.3 406.8,27.1 408.4,25.0C409.9,22.8 411.5,20.4 412.0,17.8C412.5,15.1 412.1,12.1 411.3,9.1C410.4,6.2 407.7,4.1 407.0,0.2C406.2,-3.6 426.7,-11.5 407.0,-13.8C387.2,-16.2 308.0,-16.6 288.2,-13.8C268.4,-11.1 289.6,-0.7 288.2,2.7C286.8,6.0 282.2,4.7 279.6,6.3C276.9,7.8 274.8,9.6 272.4,12.0C270.0,14.4 267.4,17.8 265.2,20.6C263.0,23.5 261.1,26.4 259.5,29.3C257.8,32.1 256.3,35.0 255.1,37.9C253.9,40.8 253.2,43.9 252.3,46.5C251.3,49.1 250.6,51.9 249.4,53.7C248.2,55.5 247.0,56.6 245.1,57.3C243.2,58.0 240.5,58.1 237.9,58.0C235.3,57.9 232.1,57.3 229.3,56.6C226.4,55.9 223.5,54.9 220.7,53.7C217.8,52.5 214.9,50.6 212.0,49.4C209.2,48.2 206.3,47.3 203.4,46.5C200.5,45.7 197.7,45.3 194.8,44.4C191.9,43.4 189.0,42.3 186.2,40.8C183.3,39.2 180.4,36.9 177.5,35.0C174.7,33.1 171.8,30.9 168.9,29.3C166.0,27.6 163.2,26.4 160.3,25.0C157.4,23.5 154.5,22.3 151.7,20.6C148.8,19.0 145.1,17.5 143.0,14.9C141.0,12.3 140.3,9.6 139.6,4.8C138.9,0.0 145.6,-10.7 138.9,-13.8Z" fill="#f6e8c3"/><path d="M204.1,22.8C204.6,21.8 207.1,20.8 209.2,19.9C211.2,19.1 213.9,18.6 216.3,17.8C218.7,16.9 221.1,15.4 223.5,14.9C225.9,14.4 229.2,14.3 230.7,14.9C232.3,15.5 233.3,17.3 232.9,18.5C232.4,19.7 229.9,21.1 227.8,22.1C225.8,23.0 223.3,23.6 220.7,24.2C218.0,24.8 214.4,25.4 212.0,25.7C209.6,25.9 207.6,26.2 206.3,25.7C205.0,25.2 203.6,23.8 204.1,22.8Z" fill="#c7eae5"/><path d="M302.8,75.3C302.6,73.2 303.8,70.9 305.6,69.5C307.4,68.1 310.3,67.2 313.5,66.6C316.8,66.0 321.2,65.9 325.0,65.9C328.9,65.9 332.9,66.1 336.5,66.6C340.1,67.1 343.7,67.9 346.6,68.8C349.5,69.6 352.3,70.3 353.8,71.7C355.2,73.0 355.7,75.1 355.2,76.7C354.7,78.2 353.1,79.7 350.9,81.0C348.8,82.3 345.4,83.5 342.3,84.6C339.2,85.7 335.6,86.9 332.2,87.5C328.9,88.1 325.3,88.4 322.2,88.2C319.1,87.9 316.2,87.1 313.5,86.0C310.9,85.0 308.2,83.5 306.4,81.7C304.6,79.9 302.9,77.3 302.8,75.3Z" fill="#c7eae5"/><path d="M283.2,81.0C283.3,80.0 285.9,79.0 287.5,78.8C289.0,78.7 291.8,79.4 292.5,80.3C293.2,81.1 292.7,83.2 291.8,83.9C290.8,84.6 288.2,85.1 286.8,84.6C285.3,84.1 283.0,82.0 283.2,81.0Z" fill="#c7eae5"/><path d="M166.8,104.0C167.0,100.9 167.6,97.9 168.9,95.4C170.2,92.9 172.5,90.3 174.7,88.9C176.8,87.5 179.2,86.9 181.8,86.7C184.5,86.6 187.8,87.2 190.5,88.2C193.1,89.1 195.3,90.8 197.7,92.5C200.1,94.2 202.7,96.1 204.8,98.2C207.0,100.4 209.3,102.8 210.6,105.4C211.9,108.1 212.5,110.9 212.7,114.1C213.0,117.2 212.6,121.0 212.0,124.1C211.4,127.2 210.1,129.9 209.2,132.7C208.2,135.6 206.8,138.5 206.3,141.4C205.8,144.2 214.9,148.5 206.3,150.0C197.7,151.4 163.2,152.4 154.5,150.0C145.9,147.6 154.1,139.2 154.5,135.6C155.0,132.0 156.0,130.6 157.4,128.4C158.9,126.3 161.5,125.1 163.2,122.7C164.8,120.3 166.9,117.2 167.5,114.1C168.1,110.9 166.5,107.1 166.8,104.0Z" fill="#c7eae5"/><path d="M333.5,116.9C334.4,116.4 336.2,114.7 338.5,114.1C340.8,113.5 344.5,113.3 347.1,113.3C349.7,113.3 351.9,113.8 354.3,114.1C356.7,114.3 358.0,113.9 361.5,114.8C365.0,115.6 371.8,117.6 375.3,119.1C378.8,120.5 380.4,121.8 382.5,123.4C384.7,125.0 386.8,126.6 388.3,128.4C389.7,130.2 390.9,132.0 391.1,134.2C391.4,136.3 390.2,138.7 389.7,141.4C389.2,144.0 395.5,148.5 388.3,150.0C381.1,151.4 354.3,152.4 346.6,150.0C338.9,147.6 343.7,139.2 342.3,135.6C340.8,132.0 339.3,130.6 338.0,128.4C336.7,126.3 335.2,124.6 334.4,122.7C333.5,120.8 333.1,117.9 332.9,116.9C332.8,116.0 332.5,117.4 333.5,116.9Z" fill="#f6e8c3"/><path d="M381.1,72.4C381.1,70.0 382.3,67.1 384.0,65.2C385.6,63.3 388.5,61.8 391.1,60.9C393.8,59.9 396.9,60.0 399.8,59.4C402.6,58.8 405.8,58.1 408.4,57.3C411.0,56.4 412.9,55.0 415.6,54.4C418.2,53.8 421.7,53.5 424.2,53.7C426.7,53.9 429.7,54.8 430.7,55.9C431.6,56.9 431.0,58.8 429.9,60.2C428.9,61.5 425.6,62.4 424.2,63.8C422.8,65.1 421.1,66.6 421.3,68.1C421.6,69.5 423.7,71.2 425.6,72.4C427.6,73.6 430.2,74.3 432.8,75.3C435.5,76.2 438.8,76.9 441.4,78.1C444.1,79.3 446.2,81.0 448.6,82.4C451.0,83.9 454.1,87.0 455.8,86.7C457.5,86.5 457.3,82.6 458.7,81.0C460.1,79.4 462.0,78.1 464.4,77.4C466.8,76.7 470.2,76.6 473.1,76.7C475.9,76.8 478.8,77.4 481.7,78.1C484.6,78.8 487.7,79.8 490.3,81.0C492.9,82.2 495.6,83.4 497.5,85.3C499.4,87.2 501.3,89.9 501.8,92.5C502.3,95.1 500.8,98.0 500.4,101.1C499.9,104.2 499.4,107.8 498.9,111.2C498.5,114.5 497.9,117.9 497.5,121.2C497.1,124.6 496.8,126.5 496.8,131.3C496.8,136.1 507.0,146.9 497.5,150.0C488.0,153.1 450.1,152.4 440.0,150.0C429.9,147.6 438.6,139.4 437.1,135.6C435.7,131.8 433.5,129.4 431.4,127.0C429.2,124.6 425.8,123.4 424.2,121.2C422.6,119.1 422.3,116.4 422.0,114.1C421.8,111.7 423.4,109.0 422.8,106.9C422.2,104.7 420.1,103.0 418.5,101.1C416.8,99.2 414.4,97.3 412.7,95.4C411.0,93.5 409.8,91.3 408.4,89.6C407.0,87.9 406.0,86.0 404.1,85.3C402.2,84.6 399.3,85.6 396.9,85.3C394.5,85.1 391.9,84.8 389.7,83.9C387.6,82.9 385.4,81.5 384.0,79.6C382.5,77.6 381.1,74.8 381.1,72.4Z" fill="#c7eae5"/><path d="M491.2,75.3C491.6,73.1 494.5,70.9 496.9,69.5C499.3,68.1 502.9,66.9 505.5,66.6C508.2,66.4 510.6,67.3 512.7,68.1C514.9,68.8 518.0,69.3 518.5,70.9C518.9,72.6 516.5,75.7 515.6,78.1C514.6,80.5 513.4,82.9 512.7,85.3C512.0,87.7 512.5,90.6 511.3,92.5C510.1,94.4 507.2,96.3 505.5,96.8C503.8,97.3 502.4,96.6 501.2,95.4C500.0,94.2 499.5,91.8 498.3,89.6C497.1,87.5 495.2,84.8 494.0,82.4C492.8,80.0 490.7,77.4 491.2,75.3Z" fill="#c7eae5"/><path d="M540.0,83.9C539.8,81.0 540.3,78.8 541.5,76.7C542.6,74.5 545.0,72.6 547.2,70.9C549.4,69.3 552.0,67.8 554.4,66.6C556.8,65.4 559.4,65.0 561.6,63.8C563.7,62.6 566.1,61.4 567.3,59.4C568.5,57.5 568.5,54.2 568.8,52.3C569.0,50.3 567.8,49.1 568.8,47.9C569.7,46.7 572.1,45.7 574.5,45.1C576.9,44.5 580.3,44.2 583.1,44.4C586.0,44.5 589.1,45.0 591.8,45.8C594.4,46.6 597.3,48.1 598.9,49.4C600.6,50.7 601.7,52.0 601.8,53.7C601.9,55.4 599.4,57.5 599.7,59.4C599.9,61.4 601.9,63.3 603.2,65.2C604.6,67.1 606.6,69.0 607.6,70.9C608.5,72.9 609.2,74.5 609.0,76.7C608.8,78.8 607.6,81.7 606.1,83.9C604.7,86.0 602.3,87.7 600.4,89.6C598.5,91.5 596.1,93.2 594.6,95.4C593.2,97.5 592.1,100.2 591.8,102.6C591.4,105.0 592.7,107.6 592.5,109.7C592.2,111.9 591.6,114.2 590.3,115.5C589.0,116.8 586.7,117.6 584.6,117.6C582.4,117.6 579.8,116.3 577.4,115.5C575.0,114.7 572.6,113.5 570.2,112.6C567.8,111.8 565.4,111.4 563.0,110.5C560.6,109.5 558.2,108.4 555.8,106.9C553.4,105.3 550.8,103.3 548.6,101.1C546.5,99.0 544.3,96.8 542.9,93.9C541.5,91.1 540.3,86.7 540.0,83.9Z" fill="#f6e8c3"/><path d="M609.0,39.3C609.7,38.2 611.2,36.9 611.9,37.2C612.6,37.4 613.3,39.4 613.3,40.8C613.3,42.1 611.4,43.9 611.9,45.1C612.3,46.3 614.7,47.6 616.2,47.9C617.6,48.3 619.9,46.9 620.5,47.2C621.1,47.6 620.7,49.5 619.8,50.1C618.8,50.7 616.3,50.9 614.7,50.8C613.2,50.7 611.9,49.9 610.4,49.4C609.0,48.9 606.6,48.9 606.1,47.9C605.6,47.0 607.1,45.1 607.6,43.6C608.0,42.2 608.3,40.4 609.0,39.3Z" fill="#f6e8c3"/><path d="M307.1,-13.8C296.5,-11.5 307.2,-3.4 307.1,0.2C307.0,3.8 306.0,5.5 306.4,7.7C306.7,9.9 307.6,11.8 309.2,13.5C310.9,15.1 313.3,16.6 316.4,17.8C319.5,19.0 324.1,20.3 327.9,20.6C331.7,21.0 336.1,20.5 339.4,19.9C342.8,19.3 345.2,18.1 348.0,17.0C350.9,16.0 354.0,14.5 356.7,13.5C359.3,12.4 361.9,11.8 363.8,10.6C365.8,9.4 367.1,8.0 368.2,6.3C369.2,4.5 370.0,3.6 370.3,0.2C370.7,-3.1 380.8,-11.5 370.3,-13.8C359.8,-16.2 317.6,-16.2 307.1,-13.8Z" fill="#f5f5f5"/><path d="M115.1,76.7C115.7,75.6 117.5,74.5 119.5,73.8C121.4,73.1 124.0,72.5 126.6,72.4C129.3,72.3 132.6,72.6 135.3,73.1C137.9,73.6 140.9,74.4 142.4,75.3C144.0,76.1 145.1,77.0 144.6,78.1C144.1,79.2 141.6,80.5 139.6,81.7C137.5,82.9 134.8,84.6 132.4,85.3C130.0,86.0 127.4,86.3 125.2,86.0C123.0,85.8 121.0,84.8 119.5,83.9C117.9,82.9 116.6,81.5 115.9,80.3C115.1,79.1 114.5,77.8 115.1,76.7Z" fill="#80cdc1"/><path d="M158.9,55.1C158.9,53.3 160.7,50.8 162.4,49.4C164.2,47.9 167.2,46.9 169.6,46.5C172.0,46.1 174.4,46.7 176.8,47.2C179.2,47.7 181.8,48.3 184.0,49.4C186.2,50.5 189.0,52.3 189.8,53.7C190.5,55.1 189.5,56.8 188.3,58.0C187.1,59.2 184.7,60.2 182.6,60.9C180.4,61.6 177.8,62.1 175.4,62.3C173.0,62.6 170.4,62.7 168.2,62.3C166.0,62.0 164.0,61.4 162.4,60.2C160.9,59.0 158.9,56.9 158.9,55.1Z" fill="#dfc27d"/><path d="M315.0,75.3C315.5,74.5 317.0,73.4 318.6,73.1C320.1,72.8 322.8,73.2 324.3,73.5C325.8,73.9 327.4,74.5 327.6,75.3C327.9,76.0 327.0,77.5 325.8,78.1C324.5,78.7 321.7,78.9 320.0,78.8C318.3,78.8 316.5,78.4 315.7,77.8C314.9,77.2 314.5,76.0 315.0,75.3Z" fill="#80cdc1"/><path d="M183.3,106.9C183.5,105.2 184.4,102.8 185.4,101.8C186.5,100.9 188.3,100.5 189.8,101.1C191.2,101.7 192.9,103.8 194.1,105.4C195.3,107.1 196.6,109.3 196.9,111.2C197.3,113.1 197.1,115.6 196.2,116.9C195.4,118.2 193.5,119.2 191.9,119.1C190.4,119.0 188.2,117.4 186.9,116.2C185.6,115.0 184.6,113.5 184.0,111.9C183.4,110.3 183.0,108.5 183.3,106.9Z" fill="#80cdc1"/><path d="M131.6,74.5C132.5,73.3 135.4,74.2 137.3,74.5C139.2,74.9 142.0,75.8 143.0,76.7C144.1,77.5 144.7,78.7 143.8,79.6C142.8,80.4 139.3,81.4 137.3,81.7C135.3,82.1 132.5,82.9 131.6,81.7C130.6,80.5 130.6,75.7 131.6,74.5Z" fill="#80cdc1"/><path d="M551.5,83.9C551.9,82.4 552.7,80.9 554.4,79.6C556.1,78.2 558.9,77.0 561.6,76.0C564.2,74.9 567.3,73.8 570.2,73.1C573.1,72.4 575.9,71.9 578.8,71.7C581.7,71.4 585.4,71.2 587.4,71.7C589.5,72.1 591.0,73.2 591.0,74.5C591.0,75.8 589.0,78.0 587.4,79.6C585.9,81.1 583.6,82.4 581.7,83.9C579.8,85.3 577.6,86.7 575.9,88.2C574.3,89.6 573.1,91.2 571.6,92.5C570.2,93.8 569.0,95.6 567.3,96.1C565.6,96.6 563.5,96.1 561.6,95.4C559.7,94.7 557.4,93.0 555.8,91.8C554.3,90.6 552.9,89.5 552.2,88.2C551.5,86.9 551.2,85.3 551.5,83.9Z" fill="#dfc27d"/></g>
<use href="#cst"/><use href="#cst" x="633.5"/><use href="#cst" x="-633.5"/>
</g></g>
<line x1="844.7" y1="330.5" x2="861.1" y2="330.5" stroke="#484848" stroke-width="1.3" stroke-dasharray="4.3 3.6" stroke-dashoffset="0.00"/><line x1="920.4" y1="330.5" x2="1019.6" y2="330.5" stroke="#484848" stroke-width="1.3" stroke-dasharray="4.3 3.6" stroke-dashoffset="4.57"/><line x1="1027.0" y1="330.5" x2="1036.5" y2="330.5" stroke="#484848" stroke-width="1.3" stroke-dasharray="4.3 3.6" stroke-dashoffset="0.60"/><line x1="1051.6" y1="330.5" x2="1055.5" y2="330.5" stroke="#484848" stroke-width="1.3" stroke-dasharray="4.3 3.6" stroke-dashoffset="1.54"/><line x1="1056.2" y1="330.5" x2="1337.2" y2="330.5" stroke="#484848" stroke-width="1.3" stroke-dasharray="4.3 3.6" stroke-dashoffset="6.12"/><line x1="1391.3" y1="330.5" x2="1478.2" y2="330.5" stroke="#484848" stroke-width="1.3" stroke-dasharray="4.3 3.6" stroke-dashoffset="1.46"/><line x1="1161.4" y1="260.1" x2="1161.4" y2="400.9" stroke="#484848" stroke-width="1.3" stroke-dasharray="4.3 3.6"/>
<g transform="translate(844.7,260.1)"><g clip-path="url(#pc)">
<path class="kd" d="M111.1,1.2C110.6,2.1 108.7,4.5 108.0,6.3C107.2,8.1 106.4,10.1 106.5,12.0C106.6,13.9 107.5,16.2 108.7,17.8C109.9,19.3 111.7,20.4 113.7,21.4C115.7,22.3 118.5,23.1 120.9,23.5C123.3,23.9 125.8,24.2 128.1,23.8C130.4,23.4 132.7,22.6 134.5,21.4C136.3,20.1 137.8,18.1 138.9,16.3C139.9,14.5 140.2,12.3 141.0,10.6C141.8,8.9 142.7,7.6 143.9,6.3C145.1,5.0 147.5,3.3 148.2,2.7"/><path class="kd" d="M129.5,56.6C129.8,55.5 130.6,54.1 131.7,53.7C132.7,53.3 134.2,54.1 136.0,54.4C137.8,54.8 140.2,55.0 142.4,55.9C144.7,56.7 147.2,58.2 149.6,59.4C152.0,60.6 154.7,62.0 156.8,63.0C159.0,64.1 161.2,65.0 162.6,65.9C163.9,66.9 165.0,67.9 164.7,68.8C164.5,69.6 162.9,70.5 161.1,70.9C159.3,71.4 156.3,71.7 153.9,71.7C151.5,71.7 149.2,71.7 146.8,70.9C144.4,70.2 141.7,68.5 139.6,67.3C137.4,66.1 135.4,65.0 133.8,63.8C132.3,62.6 130.9,61.4 130.2,60.2C129.5,59.0 129.3,57.6 129.5,56.6Z"/><path class="kd" d="M107.2,104.0C107.6,102.7 109.0,100.5 110.8,99.0C112.6,97.4 115.4,96.0 118.0,94.7C120.6,93.3 123.8,92.1 126.6,91.1C129.5,90.0 132.4,89.1 135.3,88.2C138.1,87.2 141.2,86.5 143.9,85.3C146.5,84.1 149.2,82.2 151.1,81.0C153.0,79.8 153.5,78.7 155.4,78.1C157.3,77.6 160.2,77.7 162.6,77.8C165.0,78.0 168.0,78.2 169.8,78.8C171.5,79.5 173.2,80.3 173.3,81.7C173.5,83.2 171.8,85.4 170.5,87.5C169.2,89.5 167.2,91.7 165.4,93.9C163.6,96.2 161.4,98.7 159.7,101.1C158.0,103.5 156.6,106.1 155.4,108.3C154.2,110.5 153.9,112.1 152.5,114.1C151.1,116.0 148.7,118.1 146.8,119.8C144.8,121.5 142.9,122.9 141.0,124.1C139.1,125.3 137.2,126.6 135.3,127.0C133.3,127.3 131.4,127.0 129.5,126.3C127.6,125.5 125.7,124.2 123.8,122.7C121.8,121.1 119.9,118.8 118.0,116.9C116.1,115.0 113.8,112.9 112.3,111.2C110.7,109.5 109.5,108.1 108.7,106.9C107.8,105.7 106.9,105.3 107.2,104.0Z"/><path class="kd" d="M223.5,62.3C224.4,61.5 227.1,60.4 229.3,60.2C231.4,59.9 234.8,60.4 236.5,60.9C238.1,61.4 239.3,62.3 239.3,63.0C239.3,63.8 238.1,64.7 236.5,65.2C234.8,65.7 231.3,65.9 229.3,65.9C227.2,65.9 225.2,65.8 224.2,65.2C223.3,64.6 222.7,63.2 223.5,62.3Z"/><path class="kd" d="M325.8,141.4C325.6,140.6 325.5,138.7 325.0,137.0C324.6,135.4 323.8,133.5 322.9,131.3C321.9,129.1 320.6,126.5 319.3,124.1C318.0,121.7 316.4,119.3 315.0,116.9C313.5,114.5 310.9,111.7 310.7,109.7C310.4,107.8 311.9,106.9 313.5,105.4C315.2,104.0 318.1,102.8 320.7,101.1C323.4,99.4 326.5,97.3 329.4,95.4C332.2,93.5 335.1,91.4 338.0,89.6C340.8,87.8 343.7,86.0 346.6,84.6C349.5,83.2 352.3,82.0 355.2,81.0C358.1,80.0 360.7,79.4 363.8,78.8C367.0,78.3 370.5,78.0 373.9,77.8C377.3,77.7 380.6,77.8 384.0,78.1C387.3,78.4 391.1,78.8 394.0,79.6C396.9,80.3 399.3,81.0 401.2,82.4C403.1,83.9 404.4,86.0 405.5,88.2C406.6,90.3 407.1,92.7 407.7,95.4C408.3,98.0 408.6,101.1 409.1,104.0C409.6,106.9 410.2,109.7 410.5,112.6C410.9,115.5 411.1,118.4 411.3,121.2C411.4,124.1 411.7,127.2 411.3,129.9C410.8,132.5 409.4,135.1 408.4,137.0C407.4,139.0 405.8,140.6 405.2,141.4"/><path class="kd" d="M355.7,81.7C354.1,82.6 348.8,85.1 345.7,86.7C342.6,88.4 339.9,90.1 337.1,91.8C334.2,93.5 331.3,95.1 328.4,96.8C325.6,98.5 322.2,100.4 319.8,101.8C317.4,103.3 315.0,104.8 314.1,105.4"/><path class="kd" d="M373.9,140.6C372.9,139.8 369.5,137.4 368.2,135.6C366.8,133.8 366.5,132.0 366.0,129.9C365.5,127.7 365.0,125.1 365.3,122.7C365.5,120.3 366.2,117.6 367.4,115.5C368.6,113.3 370.7,111.1 372.5,109.7C374.3,108.4 376.1,107.7 378.2,107.6C380.4,107.5 383.2,107.9 385.4,109.0C387.6,110.1 389.5,112.1 391.1,114.1C392.8,116.0 394.5,118.4 395.5,120.5C396.4,122.7 397.1,125.0 396.9,127.0C396.7,129.0 395.5,131.1 394.0,132.7C392.6,134.4 390.4,135.7 388.3,137.0C386.1,138.4 382.3,140.0 381.1,140.6"/><path class="kc" d="M440.0,-0.9C440.2,0.8 441.2,5.8 441.4,9.1C441.7,12.5 441.7,15.9 441.4,19.2C441.2,22.6 440.5,25.9 440.0,29.3C439.5,32.6 438.9,36.0 438.6,39.3C438.2,42.7 438.0,46.0 437.9,49.4C437.7,52.7 437.5,56.3 437.9,59.4C438.2,62.6 438.9,65.2 440.0,68.1C441.1,70.9 443.1,73.8 444.3,76.7C445.5,79.6 446.8,82.4 447.2,85.3C447.6,88.2 447.2,91.1 446.5,93.9C445.8,96.8 444.2,99.7 442.9,102.6C441.6,105.4 439.9,108.3 438.6,111.2C437.3,114.1 435.8,116.9 435.0,119.8C434.1,122.7 433.7,125.5 433.5,128.4C433.4,131.3 433.9,134.9 434.3,137.0C434.7,139.2 435.7,140.6 436.0,141.4"/><path class="kc" d="M454.7,141.4C454.1,140.6 452.5,138.7 451.5,137.0C450.5,135.4 449.0,133.5 448.6,131.3C448.3,129.1 448.6,126.5 449.3,124.1C450.1,121.7 451.4,119.3 452.9,116.9C454.5,114.5 457.0,112.1 458.7,109.7C460.4,107.3 461.9,105.2 463.0,102.6C464.1,99.9 465.0,96.8 465.2,93.9C465.3,91.1 464.2,87.9 463.7,85.3C463.2,82.7 462.4,80.8 462.3,78.1C462.2,75.5 463.2,72.4 463.0,69.5C462.8,66.6 461.1,63.5 460.8,60.9C460.6,58.2 461.0,56.1 461.6,53.7C462.2,51.3 463.4,49.1 464.4,46.5C465.5,43.9 467.4,40.8 468.0,37.9C468.6,35.0 468.5,31.9 468.0,29.3C467.6,26.6 466.0,24.7 465.2,22.1C464.3,19.4 463.1,16.1 463.0,13.5C462.9,10.8 463.5,8.1 464.4,6.3C465.4,4.5 467.1,3.4 468.8,2.7C470.4,2.0 472.8,1.6 474.5,2.0C476.2,2.3 477.6,3.4 478.8,4.8C480.0,6.3 480.7,8.7 481.7,10.6C482.6,12.5 483.4,14.4 484.6,16.3C485.8,18.2 487.4,20.2 488.9,22.1C490.3,24.0 491.5,26.0 493.2,27.8C494.9,29.6 497.0,31.2 498.9,32.9C500.8,34.5 503.1,35.9 504.7,37.9C506.3,39.9 506.6,42.7 508.4,45.1C510.2,47.5 513.7,49.9 515.6,52.3C517.5,54.7 518.9,57.0 519.9,59.4C520.9,61.8 520.4,64.2 521.3,66.6C522.3,69.0 524.1,71.4 525.6,73.8C527.2,76.2 529.2,78.6 530.7,81.0C532.1,83.4 533.3,85.6 534.3,88.2C535.2,90.8 536.4,93.9 536.4,96.8C536.4,99.7 535.6,103.3 534.3,105.4C532.9,107.6 530.9,108.4 528.5,109.7C526.1,111.1 522.8,112.1 519.9,113.3C517.0,114.5 513.9,115.8 511.3,116.9C508.6,118.0 506.0,118.6 504.1,119.8C502.2,121.0 500.6,122.2 499.8,124.1C498.9,126.0 499.3,128.4 499.1,131.3C498.8,134.2 498.5,139.7 498.3,141.4"/><path class="kc" d="M483.1,81.0C483.2,79.7 484.3,78.4 486.0,77.4C487.7,76.4 490.5,75.5 493.2,75.3C495.8,75.0 499.3,75.4 501.8,76.0C504.3,76.6 507.0,77.6 508.3,78.8C509.6,80.0 510.1,81.7 509.7,83.2C509.3,84.6 507.9,86.4 506.1,87.5C504.3,88.5 501.3,89.5 498.9,89.6C496.5,89.7 494.0,88.9 491.7,88.2C489.5,87.5 486.7,86.5 485.3,85.3C483.8,84.1 483.0,82.3 483.1,81.0Z"/><path class="kc" d="M501.9,3.4C503.0,4.1 506.1,6.3 508.4,7.7C510.7,9.1 513.2,10.5 515.6,12.0C518.0,13.6 520.6,15.1 522.8,17.0C524.9,19.0 526.8,21.2 528.5,23.5C530.2,25.8 531.9,28.1 532.8,30.7C533.8,33.3 533.8,36.7 534.3,39.3C534.7,42.0 534.7,44.1 535.7,46.5C536.7,48.9 539.1,51.5 540.0,53.7C541.0,55.9 541.2,57.3 541.5,59.4C541.7,61.6 541.0,64.2 541.5,66.6C541.9,69.0 542.9,71.4 544.3,73.8C545.8,76.2 548.2,78.8 550.1,81.0C552.0,83.2 554.0,84.8 555.8,86.7C557.6,88.7 559.7,90.3 560.9,92.5C562.1,94.7 562.8,97.3 563.0,99.7C563.2,102.1 562.5,104.5 562.3,106.9C562.1,109.3 562.2,111.9 561.6,114.1C561.0,116.2 560.4,118.1 558.7,119.8C557.0,121.5 554.1,122.9 551.5,124.1C548.9,125.3 545.5,125.9 542.9,127.0C540.3,128.1 537.6,129.1 535.7,130.6C533.8,132.0 532.5,133.8 531.4,135.6C530.3,137.4 529.4,140.4 528.9,141.4"/><path class="kc" d="M599.7,32.1 L603.0,31.3"/>
</g></g>
<line x1="844.7" y1="260.1" x2="844.7" y2="254.9" stroke="#000" stroke-width="3.0" stroke-linecap="round"/>
<line x1="844.7" y1="400.9" x2="844.7" y2="406.1" stroke="#000" stroke-width="3.0" stroke-linecap="round"/>
<line x1="862.3" y1="260.1" x2="862.3" y2="257.2" stroke="#000" stroke-width="1.5" stroke-linecap="round"/>
<line x1="862.3" y1="400.9" x2="862.3" y2="403.8" stroke="#000" stroke-width="1.5" stroke-linecap="round"/>
<line x1="879.9" y1="260.1" x2="879.9" y2="257.2" stroke="#000" stroke-width="1.5" stroke-linecap="round"/>
<line x1="879.9" y1="400.9" x2="879.9" y2="403.8" stroke="#000" stroke-width="1.5" stroke-linecap="round"/>
<line x1="897.5" y1="260.1" x2="897.5" y2="257.2" stroke="#000" stroke-width="1.5" stroke-linecap="round"/>
<line x1="897.5" y1="400.9" x2="897.5" y2="403.8" stroke="#000" stroke-width="1.5" stroke-linecap="round"/>
<line x1="915.1" y1="260.1" x2="915.1" y2="257.2" stroke="#000" stroke-width="1.5" stroke-linecap="round"/>
<line x1="915.1" y1="400.9" x2="915.1" y2="403.8" stroke="#000" stroke-width="1.5" stroke-linecap="round"/>
<line x1="932.7" y1="260.1" x2="932.7" y2="257.2" stroke="#000" stroke-width="1.5" stroke-linecap="round"/>
<line x1="932.7" y1="400.9" x2="932.7" y2="403.8" stroke="#000" stroke-width="1.5" stroke-linecap="round"/>
<line x1="950.3" y1="260.1" x2="950.3" y2="254.9" stroke="#000" stroke-width="3.0" stroke-linecap="round"/>
<line x1="950.3" y1="400.9" x2="950.3" y2="406.1" stroke="#000" stroke-width="3.0" stroke-linecap="round"/>
<line x1="967.9" y1="260.1" x2="967.9" y2="257.2" stroke="#000" stroke-width="1.5" stroke-linecap="round"/>
<line x1="967.9" y1="400.9" x2="967.9" y2="403.8" stroke="#000" stroke-width="1.5" stroke-linecap="round"/>
<line x1="985.5" y1="260.1" x2="985.5" y2="257.2" stroke="#000" stroke-width="1.5" stroke-linecap="round"/>
<line x1="985.5" y1="400.9" x2="985.5" y2="403.8" stroke="#000" stroke-width="1.5" stroke-linecap="round"/>
<line x1="1003.1" y1="260.1" x2="1003.1" y2="257.2" stroke="#000" stroke-width="1.5" stroke-linecap="round"/>
<line x1="1003.1" y1="400.9" x2="1003.1" y2="403.8" stroke="#000" stroke-width="1.5" stroke-linecap="round"/>
<line x1="1020.7" y1="260.1" x2="1020.7" y2="257.2" stroke="#000" stroke-width="1.5" stroke-linecap="round"/>
<line x1="1020.7" y1="400.9" x2="1020.7" y2="403.8" stroke="#000" stroke-width="1.5" stroke-linecap="round"/>
<line x1="1038.3" y1="260.1" x2="1038.3" y2="257.2" stroke="#000" stroke-width="1.5" stroke-linecap="round"/>
<line x1="1038.3" y1="400.9" x2="1038.3" y2="403.8" stroke="#000" stroke-width="1.5" stroke-linecap="round"/>
<line x1="1055.9" y1="260.1" x2="1055.9" y2="254.9" stroke="#000" stroke-width="3.0" stroke-linecap="round"/>
<line x1="1055.9" y1="400.9" x2="1055.9" y2="406.1" stroke="#000" stroke-width="3.0" stroke-linecap="round"/>
<line x1="1073.5" y1="260.1" x2="1073.5" y2="257.2" stroke="#000" stroke-width="1.5" stroke-linecap="round"/>
<line x1="1073.5" y1="400.9" x2="1073.5" y2="403.8" stroke="#000" stroke-width="1.5" stroke-linecap="round"/>
<line x1="1091.1" y1="260.1" x2="1091.1" y2="257.2" stroke="#000" stroke-width="1.5" stroke-linecap="round"/>
<line x1="1091.1" y1="400.9" x2="1091.1" y2="403.8" stroke="#000" stroke-width="1.5" stroke-linecap="round"/>
<line x1="1108.7" y1="260.1" x2="1108.7" y2="257.2" stroke="#000" stroke-width="1.5" stroke-linecap="round"/>
<line x1="1108.7" y1="400.9" x2="1108.7" y2="403.8" stroke="#000" stroke-width="1.5" stroke-linecap="round"/>
<line x1="1126.3" y1="260.1" x2="1126.3" y2="257.2" stroke="#000" stroke-width="1.5" stroke-linecap="round"/>
<line x1="1126.3" y1="400.9" x2="1126.3" y2="403.8" stroke="#000" stroke-width="1.5" stroke-linecap="round"/>
<line x1="1143.8" y1="260.1" x2="1143.8" y2="257.2" stroke="#000" stroke-width="1.5" stroke-linecap="round"/>
<line x1="1143.8" y1="400.9" x2="1143.8" y2="403.8" stroke="#000" stroke-width="1.5" stroke-linecap="round"/>
<line x1="1161.4" y1="260.1" x2="1161.4" y2="254.9" stroke="#000" stroke-width="3.0" stroke-linecap="round"/>
<line x1="1161.4" y1="400.9" x2="1161.4" y2="406.1" stroke="#000" stroke-width="3.0" stroke-linecap="round"/>
<line x1="1179.0" y1="260.1" x2="1179.0" y2="257.2" stroke="#000" stroke-width="1.5" stroke-linecap="round"/>
<line x1="1179.0" y1="400.9" x2="1179.0" y2="403.8" stroke="#000" stroke-width="1.5" stroke-linecap="round"/>
<line x1="1196.6" y1="260.1" x2="1196.6" y2="257.2" stroke="#000" stroke-width="1.5" stroke-linecap="round"/>
<line x1="1196.6" y1="400.9" x2="1196.6" y2="403.8" stroke="#000" stroke-width="1.5" stroke-linecap="round"/>
<line x1="1214.2" y1="260.1" x2="1214.2" y2="257.2" stroke="#000" stroke-width="1.5" stroke-linecap="round"/>
<line x1="1214.2" y1="400.9" x2="1214.2" y2="403.8" stroke="#000" stroke-width="1.5" stroke-linecap="round"/>
<line x1="1231.8" y1="260.1" x2="1231.8" y2="257.2" stroke="#000" stroke-width="1.5" stroke-linecap="round"/>
<line x1="1231.8" y1="400.9" x2="1231.8" y2="403.8" stroke="#000" stroke-width="1.5" stroke-linecap="round"/>
<line x1="1249.4" y1="260.1" x2="1249.4" y2="257.2" stroke="#000" stroke-width="1.5" stroke-linecap="round"/>
<line x1="1249.4" y1="400.9" x2="1249.4" y2="403.8" stroke="#000" stroke-width="1.5" stroke-linecap="round"/>
<line x1="1267.0" y1="260.1" x2="1267.0" y2="254.9" stroke="#000" stroke-width="3.0" stroke-linecap="round"/>
<line x1="1267.0" y1="400.9" x2="1267.0" y2="406.1" stroke="#000" stroke-width="3.0" stroke-linecap="round"/>
<line x1="1284.6" y1="260.1" x2="1284.6" y2="257.2" stroke="#000" stroke-width="1.5" stroke-linecap="round"/>
<line x1="1284.6" y1="400.9" x2="1284.6" y2="403.8" stroke="#000" stroke-width="1.5" stroke-linecap="round"/>
<line x1="1302.2" y1="260.1" x2="1302.2" y2="257.2" stroke="#000" stroke-width="1.5" stroke-linecap="round"/>
<line x1="1302.2" y1="400.9" x2="1302.2" y2="403.8" stroke="#000" stroke-width="1.5" stroke-linecap="round"/>
<line x1="1319.8" y1="260.1" x2="1319.8" y2="257.2" stroke="#000" stroke-width="1.5" stroke-linecap="round"/>
<line x1="1319.8" y1="400.9" x2="1319.8" y2="403.8" stroke="#000" stroke-width="1.5" stroke-linecap="round"/>
<line x1="1337.4" y1="260.1" x2="1337.4" y2="257.2" stroke="#000" stroke-width="1.5" stroke-linecap="round"/>
<line x1="1337.4" y1="400.9" x2="1337.4" y2="403.8" stroke="#000" stroke-width="1.5" stroke-linecap="round"/>
<line x1="1355.0" y1="260.1" x2="1355.0" y2="257.2" stroke="#000" stroke-width="1.5" stroke-linecap="round"/>
<line x1="1355.0" y1="400.9" x2="1355.0" y2="403.8" stroke="#000" stroke-width="1.5" stroke-linecap="round"/>
<line x1="1372.6" y1="260.1" x2="1372.6" y2="254.9" stroke="#000" stroke-width="3.0" stroke-linecap="round"/>
<line x1="1372.6" y1="400.9" x2="1372.6" y2="406.1" stroke="#000" stroke-width="3.0" stroke-linecap="round"/>
<line x1="1390.2" y1="260.1" x2="1390.2" y2="257.2" stroke="#000" stroke-width="1.5" stroke-linecap="round"/>
<line x1="1390.2" y1="400.9" x2="1390.2" y2="403.8" stroke="#000" stroke-width="1.5" stroke-linecap="round"/>
<line x1="1407.8" y1="260.1" x2="1407.8" y2="257.2" stroke="#000" stroke-width="1.5" stroke-linecap="round"/>
<line x1="1407.8" y1="400.9" x2="1407.8" y2="403.8" stroke="#000" stroke-width="1.5" stroke-linecap="round"/>
<line x1="1425.4" y1="260.1" x2="1425.4" y2="257.2" stroke="#000" stroke-width="1.5" stroke-linecap="round"/>
<line x1="1425.4" y1="400.9" x2="1425.4" y2="403.8" stroke="#000" stroke-width="1.5" stroke-linecap="round"/>
<line x1="1443.0" y1="260.1" x2="1443.0" y2="257.2" stroke="#000" stroke-width="1.5" stroke-linecap="round"/>
<line x1="1443.0" y1="400.9" x2="1443.0" y2="403.8" stroke="#000" stroke-width="1.5" stroke-linecap="round"/>
<line x1="1460.6" y1="260.1" x2="1460.6" y2="257.2" stroke="#000" stroke-width="1.5" stroke-linecap="round"/>
<line x1="1460.6" y1="400.9" x2="1460.6" y2="403.8" stroke="#000" stroke-width="1.5" stroke-linecap="round"/>
<line x1="1478.2" y1="260.1" x2="1478.2" y2="254.9" stroke="#000" stroke-width="3.0" stroke-linecap="round"/>
<line x1="1478.2" y1="400.9" x2="1478.2" y2="406.1" stroke="#000" stroke-width="3.0" stroke-linecap="round"/>
<line x1="844.7" y1="383.3" x2="839.5" y2="383.3" stroke="#000" stroke-width="3.0" stroke-linecap="round"/>
<line x1="1478.2" y1="383.3" x2="1483.4" y2="383.3" stroke="#000" stroke-width="3.0" stroke-linecap="round"/>
<line x1="844.7" y1="365.7" x2="841.8" y2="365.7" stroke="#000" stroke-width="1.5" stroke-linecap="round"/>
<line x1="1478.2" y1="365.7" x2="1481.1" y2="365.7" stroke="#000" stroke-width="1.5" stroke-linecap="round"/>
<line x1="844.7" y1="348.1" x2="841.8" y2="348.1" stroke="#000" stroke-width="1.5" stroke-linecap="round"/>
<line x1="1478.2" y1="348.1" x2="1481.1" y2="348.1" stroke="#000" stroke-width="1.5" stroke-linecap="round"/>
<line x1="844.7" y1="330.5" x2="839.5" y2="330.5" stroke="#000" stroke-width="3.0" stroke-linecap="round"/>
<line x1="1478.2" y1="330.5" x2="1483.4" y2="330.5" stroke="#000" stroke-width="3.0" stroke-linecap="round"/>
<line x1="844.7" y1="312.9" x2="841.8" y2="312.9" stroke="#000" stroke-width="1.5" stroke-linecap="round"/>
<line x1="1478.2" y1="312.9" x2="1481.1" y2="312.9" stroke="#000" stroke-width="1.5" stroke-linecap="round"/>
<line x1="844.7" y1="295.3" x2="841.8" y2="295.3" stroke="#000" stroke-width="1.5" stroke-linecap="round"/>
<line x1="1478.2" y1="295.3" x2="1481.1" y2="295.3" stroke="#000" stroke-width="1.5" stroke-linecap="round"/>
<line x1="844.7" y1="277.7" x2="839.5" y2="277.7" stroke="#000" stroke-width="3.0" stroke-linecap="round"/>
<line x1="1478.2" y1="277.7" x2="1483.4" y2="277.7" stroke="#000" stroke-width="3.0" stroke-linecap="round"/>
<rect x="844.7" y="260.1" width="633.5" height="140.8" fill="none" stroke="#000" stroke-width="3.3"/>
<text class="t34" id="t6" x="841.8" y="244.9" textLength="256.4" lengthAdjust="spacingAndGlyphs">10-Apr to 14-Apr</text>
<g transform="translate(844.7,474.8)"><g clip-path="url(#pc)">
<rect x="0" y="0" width="633.5" height="140.8" fill="#f5f5f5"/>
<g filter="url(#sm)"><path d="M-8.4,32.4C-7.1,21.8 -2.5,35.3 -0.1,35.3C2.3,35.3 3.7,33.6 5.9,32.4C8.1,31.2 10.7,29.6 13.1,28.1C15.5,26.7 18.1,25.3 20.3,23.8C22.4,22.4 23.9,20.9 26.0,19.5C28.2,18.1 30.8,16.4 33.2,15.2C35.6,14.0 38.0,13.3 40.4,12.3C42.8,11.4 45.2,10.2 47.6,9.4C50.0,8.7 52.1,8.5 54.8,8.0C57.4,7.5 61.0,6.6 63.4,6.6C65.8,6.6 68.9,6.8 69.2,8.0C69.4,9.2 65.1,11.8 64.8,13.8C64.6,15.7 66.3,18.1 67.7,19.5C69.2,20.9 72.0,21.2 73.5,22.4C74.9,23.6 76.1,25.3 76.3,26.7C76.6,28.1 76.1,29.9 74.9,31.0C73.7,32.1 70.8,32.0 69.2,33.2C67.5,34.4 65.4,35.9 64.8,38.2C64.2,40.5 65.3,43.9 65.6,46.8C65.8,49.7 66.9,52.8 66.3,55.4C65.7,58.1 63.4,60.7 62.0,62.6C60.5,64.5 58.9,65.3 57.7,66.9C56.5,68.6 55.7,70.5 54.8,72.7C53.8,74.8 53.1,77.7 51.9,79.9C50.7,82.0 49.0,83.7 47.6,85.6C46.2,87.5 44.7,89.4 43.3,91.4C41.8,93.3 40.4,95.4 39.0,97.1C37.5,98.8 36.3,100.3 34.7,101.4C33.0,102.5 30.6,103.6 28.9,103.6C27.2,103.6 25.8,102.5 24.6,101.4C23.4,100.3 23.4,97.9 21.7,97.1C20.1,96.3 16.9,96.3 14.5,96.4C12.1,96.5 9.5,97.3 7.4,97.8C5.2,98.3 4.2,99.0 1.6,99.3C-1.0,99.5 -6.8,110.4 -8.4,99.3C-10.1,88.1 -9.8,43.1 -8.4,32.4Z" fill="#f6e8c3"/><path d="M108.7,6.6C109.4,5.6 110.5,5.1 112.3,5.1C114.1,5.1 117.5,5.6 119.5,6.6C121.4,7.5 122.6,9.2 123.8,10.9C125.0,12.6 125.2,15.0 126.6,16.6C128.1,18.3 130.5,19.9 132.4,20.9C134.3,22.0 136.5,22.1 138.1,23.1C139.8,24.1 141.6,24.9 142.4,26.7C143.3,28.5 143.4,31.5 143.2,33.9C142.9,36.3 141.1,38.4 141.0,41.1C140.9,43.7 141.5,47.0 142.4,49.7C143.4,52.3 145.1,54.7 146.8,56.9C148.4,59.0 150.3,60.7 152.5,62.6C154.7,64.5 157.1,66.7 159.7,68.4C162.3,70.0 165.4,71.2 168.3,72.7C171.2,74.1 174.1,75.6 176.9,77.0C179.8,78.4 182.9,79.9 185.6,81.3C188.2,82.7 190.8,83.9 192.7,85.6C194.7,87.3 196.1,89.4 197.1,91.4C198.0,93.3 197.8,95.2 198.5,97.1C199.2,99.0 200.1,100.9 201.4,102.9C202.7,104.8 204.5,106.9 206.3,108.6C208.1,110.3 209.9,111.7 212.0,112.9C214.2,114.1 216.8,114.8 219.2,115.8C221.6,116.7 224.0,117.7 226.4,118.7C228.8,119.6 231.4,120.6 233.6,121.5C235.7,122.5 237.7,123.2 239.3,124.4C241.0,125.6 242.4,127.0 243.6,128.7C244.8,130.4 245.3,132.3 246.5,134.5C247.7,136.6 250.1,139.0 250.8,141.7C251.5,144.3 275.6,148.8 250.8,150.3C226.1,151.7 127.5,152.7 102.2,150.3C77.0,147.9 100.5,139.7 99.3,135.9C98.1,132.1 96.2,130.2 95.0,127.3C93.8,124.4 93.1,121.5 92.1,118.7C91.2,115.8 90.1,112.9 89.3,110.0C88.4,107.2 87.4,104.3 87.1,101.4C86.9,98.5 87.8,95.7 87.8,92.8C87.8,89.9 86.9,87.0 87.1,84.2C87.4,81.3 88.8,78.4 89.3,75.6C89.8,72.7 89.8,69.8 90.0,66.9C90.2,64.1 90.4,60.9 90.7,58.3C91.1,55.7 91.0,53.3 92.1,51.1C93.3,49.0 96.0,47.3 97.9,45.4C99.8,43.5 102.2,41.5 103.6,39.6C105.1,37.7 105.3,35.8 106.5,33.9C107.7,32.0 109.9,30.0 110.8,28.1C111.8,26.2 112.5,24.3 112.3,22.4C112.0,20.5 110.1,18.5 109.4,16.6C108.7,14.7 108.1,12.6 108.0,10.9C107.8,9.2 108.0,7.5 108.7,6.6Z" fill="#c7eae5"/><path d="M181.8,49.7C182.1,47.8 184.2,44.7 186.2,42.5C188.1,40.3 191.0,38.2 193.3,36.7C195.7,35.3 198.1,34.1 200.5,33.9C202.9,33.6 205.3,34.5 207.7,35.3C210.1,36.2 212.3,38.2 214.9,38.9C217.5,39.6 220.2,39.6 223.5,39.6C226.9,39.6 231.2,39.3 235.0,38.9C238.9,38.5 242.7,38.1 246.5,37.5C250.4,36.9 254.2,36.0 258.0,35.3C261.8,34.6 265.7,33.9 269.5,33.2C273.3,32.4 277.2,31.6 281.0,31.0C284.8,30.4 288.7,30.0 292.5,29.6C296.3,29.1 300.2,28.6 304.0,28.1C307.8,27.6 311.7,27.0 315.5,26.7C319.3,26.3 323.2,26.0 327.0,26.0C330.8,26.0 335.1,26.2 338.5,26.7C341.8,27.2 345.0,27.6 347.1,28.8C349.3,30.0 350.7,32.1 351.4,33.9C352.1,35.7 351.9,37.7 351.4,39.6C350.9,41.5 350.0,43.5 348.6,45.4C347.1,47.3 345.0,49.7 342.8,51.1C340.6,52.6 338.3,53.0 335.6,54.0C333.0,55.0 330.1,55.9 327.0,56.9C323.9,57.8 320.3,58.8 316.9,59.7C313.6,60.7 310.2,61.8 306.9,62.6C303.5,63.5 300.2,64.2 296.8,64.8C293.5,65.4 290.1,65.9 286.8,66.2C283.4,66.6 280.1,67.0 276.7,66.9C273.3,66.8 269.8,66.4 266.6,65.5C263.5,64.5 260.9,62.6 258.0,61.2C255.1,59.7 252.3,58.1 249.4,56.9C246.5,55.7 243.6,54.5 240.8,54.0C237.9,53.5 235.0,53.5 232.1,54.0C229.3,54.5 226.4,56.0 223.5,56.9C220.7,57.7 217.8,58.5 214.9,59.0C212.0,59.5 209.2,59.7 206.3,59.7C203.4,59.7 200.3,59.5 197.7,59.0C195.0,58.5 192.6,57.7 190.5,56.9C188.3,56.0 186.2,55.2 184.7,54.0C183.3,52.8 181.6,51.6 181.8,49.7Z" fill="#f6e8c3"/><path d="M296.3,78.4C297.5,77.2 301.8,77.3 304.9,77.0C308.0,76.6 311.6,76.3 315.0,76.3C318.3,76.3 322.5,76.4 325.0,77.0C327.6,77.6 329.1,78.4 330.1,79.9C331.0,81.3 331.1,83.7 330.8,85.6C330.4,87.5 329.4,89.7 327.9,91.4C326.5,93.0 324.3,94.5 322.2,95.7C320.0,96.9 317.1,97.9 315.0,98.5C312.8,99.1 310.9,99.7 309.2,99.3C307.6,98.8 306.2,97.2 304.9,95.7C303.6,94.1 302.5,91.8 301.3,89.9C300.1,88.0 298.6,86.1 297.7,84.2C296.9,82.3 295.1,79.6 296.3,78.4Z" fill="#c7eae5"/><path d="M363.1,72.7C363.4,69.6 364.2,65.7 365.3,62.6C366.4,59.5 367.7,56.6 369.6,54.0C371.5,51.4 374.1,48.7 376.8,46.8C379.4,44.9 382.0,43.5 385.4,42.5C388.8,41.5 393.1,41.2 396.9,41.1C400.7,40.9 405.0,42.0 408.4,41.8C411.7,41.5 414.1,40.3 417.0,39.6C419.9,38.9 422.9,37.8 425.6,37.5C428.4,37.1 432.3,36.6 433.5,37.5C434.7,38.3 433.4,40.5 432.8,42.5C432.2,44.5 431.4,47.5 429.9,49.7C428.5,51.8 426.1,53.8 424.2,55.4C422.3,57.1 419.2,58.3 418.5,59.7C417.7,61.2 418.2,62.4 419.9,64.1C421.6,65.7 425.6,67.9 428.5,69.8C431.4,71.7 434.7,73.6 437.1,75.6C439.5,77.5 442.2,79.1 442.9,81.3C443.6,83.5 442.6,86.3 441.4,88.5C440.2,90.6 437.9,92.3 435.7,94.2C433.5,96.1 430.7,98.1 428.5,100.0C426.4,101.9 424.4,103.6 422.8,105.7C421.1,107.9 419.6,110.5 418.5,112.9C417.3,115.3 416.3,117.7 415.6,120.1C414.9,122.5 415.1,125.1 414.1,127.3C413.2,129.4 411.7,131.6 409.8,133.0C407.9,134.5 405.3,135.4 402.6,135.9C400.0,136.4 396.9,135.9 394.0,135.9C391.1,135.9 388.0,135.7 385.4,135.9C382.8,136.1 380.4,136.9 378.2,137.3C376.1,137.8 372.9,139.7 372.5,138.8C372.0,137.8 374.9,134.2 375.3,131.6C375.8,129.0 375.6,125.8 375.3,123.0C375.1,120.1 374.9,117.2 373.9,114.4C372.9,111.5 371.0,108.4 369.6,105.7C368.2,103.1 366.4,100.9 365.3,98.5C364.2,96.1 363.4,94.2 363.1,91.4C362.9,88.5 363.8,84.4 363.8,81.3C363.8,78.2 362.9,75.8 363.1,72.7Z" fill="#c7eae5"/><path d="M471.0,62.6C471.3,61.2 472.0,58.5 473.2,56.9C474.4,55.2 476.4,54.0 478.2,52.6C480.0,51.1 482.3,49.6 484.0,48.2C485.6,46.9 486.8,45.0 488.3,44.7C489.7,44.3 491.4,45.0 492.6,46.1C493.8,47.2 494.9,49.3 495.5,51.1C496.1,52.9 496.4,55.1 496.2,56.9C495.9,58.7 495.3,60.6 494.0,61.9C492.7,63.2 490.4,63.9 488.3,64.8C486.1,65.6 483.4,66.4 481.1,66.9C478.8,67.4 476.3,67.9 474.6,67.6C473.0,67.4 471.9,66.3 471.3,65.5C470.7,64.7 470.7,64.1 471.0,62.6Z" fill="#f6e8c3"/><path d="M514.9,84.2C515.7,81.8 516.7,78.9 518.5,77.0C520.3,75.1 523.0,73.8 525.6,72.7C528.3,71.6 531.6,71.2 534.3,70.5C536.9,69.8 539.3,69.4 541.5,68.4C543.6,67.3 545.8,65.7 547.2,64.1C548.6,62.4 548.9,59.9 550.1,58.3C551.3,56.7 552.2,55.7 554.4,54.7C556.5,53.8 559.9,53.0 563.0,52.6C566.1,52.1 569.7,51.7 573.1,51.8C576.4,52.0 580.0,52.6 583.1,53.3C586.2,54.0 589.1,55.3 591.8,56.2C594.4,57.0 596.5,57.8 598.9,58.3C601.3,58.8 603.7,58.8 606.1,59.0C608.5,59.3 610.9,60.1 613.3,59.7C615.7,59.4 618.3,58.3 620.5,56.9C622.6,55.4 624.6,52.8 626.2,51.1C627.9,49.4 629.3,47.8 630.6,46.8C631.8,45.9 630.5,45.6 633.6,45.4C636.7,45.1 646.6,36.3 649.2,45.4C651.8,54.5 651.8,91.0 649.2,100.0C646.6,109.0 637.4,99.4 633.6,99.3C629.7,99.1 628.9,99.1 626.2,99.3C623.6,99.4 620.0,99.4 617.6,100.0C615.2,100.6 612.9,100.9 611.9,102.9C610.8,104.8 611.3,108.4 611.2,111.5C611.0,114.6 611.5,118.4 611.2,121.5C610.8,124.7 610.3,127.8 609.0,130.2C607.7,132.6 605.6,134.6 603.2,135.9C600.9,137.2 597.7,137.8 594.6,138.1C591.5,138.3 587.9,137.9 584.6,137.3C581.2,136.7 577.9,135.7 574.5,134.5C571.2,133.3 567.6,131.6 564.4,130.2C561.3,128.7 558.5,127.3 555.8,125.8C553.2,124.4 550.8,123.0 548.6,121.5C546.5,120.1 544.8,118.7 542.9,117.2C541.0,115.8 539.3,114.1 537.1,112.9C535.0,111.7 532.4,111.0 530.0,110.0C527.6,109.1 524.9,108.1 522.8,107.2C520.6,106.2 518.5,105.7 517.0,104.3C515.6,102.9 514.7,100.7 514.1,98.5C513.5,96.4 513.3,93.8 513.4,91.4C513.5,89.0 514.0,86.6 514.9,84.2Z" fill="#f6e8c3"/><path d="M156.0,150.3C147.6,148.8 155.5,144.1 156.0,141.7C156.5,139.3 157.2,137.2 158.9,135.9C160.5,134.6 162.9,134.1 166.0,133.8C169.2,133.4 173.7,133.6 177.5,133.8C181.4,133.9 185.4,134.1 189.0,134.5C192.6,134.8 196.5,135.2 199.1,135.9C201.7,136.6 203.6,136.4 204.8,138.8C206.0,141.2 214.4,148.4 206.3,150.3C198.1,152.2 164.4,151.7 156.0,150.3Z" fill="#f5f5f5"/><path d="M593.9,74.8C594.5,74.0 596.4,72.7 598.9,72.0C601.5,71.2 606.1,70.5 609.0,70.5C611.9,70.5 614.9,71.2 616.2,72.0C617.5,72.7 617.9,74.0 616.9,74.8C615.9,75.7 612.9,76.5 610.4,77.0C607.9,77.5 604.3,77.7 601.8,77.7C599.3,77.7 596.7,77.5 595.3,77.0C594.0,76.5 593.3,75.7 593.9,74.8Z" fill="#f5f5f5"/><path d="M18.9,49.7C18.9,47.3 20.5,44.9 21.7,42.5C22.9,40.1 24.4,37.1 26.0,35.3C27.7,33.5 29.6,32.2 31.8,31.7C33.9,31.2 37.1,31.6 39.0,32.4C40.9,33.3 41.8,35.3 43.3,36.7C44.7,38.2 45.9,39.4 47.6,41.1C49.3,42.7 51.9,44.9 53.3,46.8C54.8,48.7 55.6,50.6 56.2,52.6C56.8,54.5 57.4,56.6 56.9,58.3C56.5,60.0 54.9,61.4 53.3,62.6C51.8,63.8 49.8,64.7 47.6,65.5C45.4,66.3 42.8,67.4 40.4,67.6C38.0,67.9 35.4,67.8 33.2,66.9C31.1,66.1 29.4,64.3 27.5,62.6C25.6,60.9 23.2,59.0 21.7,56.9C20.3,54.7 18.9,52.1 18.9,49.7Z" fill="#dfc27d"/><path d="M99.3,78.4C99.5,75.6 99.6,72.4 100.8,69.8C102.0,67.2 104.1,64.3 106.5,62.6C108.9,60.9 112.3,60.7 115.1,59.7C118.0,58.8 121.4,57.6 123.8,56.9C126.2,56.2 127.6,54.7 129.5,55.4C131.4,56.2 133.3,59.3 135.3,61.2C137.2,63.1 138.9,65.3 141.0,66.9C143.2,68.6 145.6,69.8 148.2,71.2C150.8,72.7 154.2,73.9 156.8,75.6C159.5,77.2 161.8,79.1 164.0,81.3C166.2,83.5 167.8,86.1 169.8,88.5C171.7,90.9 173.9,93.3 175.5,95.7C177.1,98.1 178.9,100.7 179.1,102.9C179.3,105.0 178.5,107.5 176.9,108.6C175.4,109.7 172.4,109.3 169.8,109.3C167.1,109.3 164.0,108.6 161.1,108.6C158.3,108.6 155.4,109.1 152.5,109.3C149.6,109.6 146.8,109.7 143.9,110.0C141.0,110.4 138.1,110.8 135.3,111.5C132.4,112.2 129.5,113.8 126.6,114.4C123.8,115.0 120.6,115.3 118.0,115.1C115.4,114.8 113.0,114.0 110.8,112.9C108.7,111.8 106.6,110.3 105.1,108.6C103.5,106.9 102.3,105.0 101.5,102.9C100.7,100.7 100.3,98.3 100.1,95.7C99.8,93.0 100.2,89.9 100.1,87.0C99.9,84.2 99.2,81.3 99.3,78.4Z" fill="#80cdc1"/><path d="M376.8,74.1C376.5,71.2 377.5,68.1 378.2,65.5C378.9,62.9 379.7,60.0 381.1,58.3C382.5,56.6 385.2,55.4 386.8,55.4C388.5,55.4 389.5,56.9 391.1,58.3C392.8,59.7 394.7,62.1 396.9,64.1C399.1,66.0 401.7,67.9 404.1,69.8C406.5,71.7 408.9,73.9 411.3,75.6C413.7,77.2 417.1,78.5 418.5,79.9C419.8,81.2 420.1,82.1 419.2,83.5C418.2,84.8 415.2,86.4 412.7,87.8C410.2,89.1 407.0,90.0 404.1,91.4C401.2,92.7 397.9,95.3 395.5,95.7C393.1,96.0 391.6,94.7 389.7,93.5C387.8,92.3 385.6,90.3 384.0,88.5C382.3,86.7 380.8,85.1 379.7,82.7C378.5,80.3 377.0,77.0 376.8,74.1Z" fill="#80cdc1"/><path d="M527.8,85.6C527.8,83.6 528.4,81.8 530.0,80.6C531.5,79.3 534.5,78.6 537.1,78.1C539.8,77.7 542.9,77.7 545.8,77.7C548.6,77.8 551.5,77.8 554.4,78.4C557.3,79.0 560.4,80.2 563.0,81.3C565.6,82.4 568.0,83.5 570.2,84.9C572.3,86.3 574.6,88.1 575.9,89.9C577.3,91.7 578.1,93.5 578.1,95.7C578.1,97.8 577.3,100.8 575.9,102.9C574.6,104.9 572.3,106.7 570.2,107.9C568.0,109.1 565.4,109.9 563.0,110.0C560.6,110.2 558.2,109.3 555.8,108.6C553.4,107.9 551.0,106.8 548.6,105.7C546.2,104.7 543.8,103.5 541.5,102.1C539.1,100.8 536.2,99.4 534.3,97.8C532.4,96.3 531.0,94.8 530.0,92.8C528.9,90.8 527.8,87.6 527.8,85.6Z" fill="#dfc27d"/><path d="M111.5,77.0C111.7,75.6 112.4,73.6 113.7,72.7C115.0,71.7 117.3,71.4 119.5,71.2C121.6,71.1 124.2,71.6 126.6,72.0C129.0,72.3 131.4,72.7 133.8,73.4C136.2,74.1 139.3,75.3 141.0,76.3C142.7,77.2 144.1,78.1 143.9,79.1C143.6,80.2 141.2,81.7 139.6,82.7C137.9,83.8 135.7,84.5 133.8,85.6C131.9,86.7 130.0,88.5 128.1,89.2C126.2,89.9 124.2,90.5 122.3,89.9C120.4,89.3 118.1,87.0 116.6,85.6C115.0,84.2 113.8,82.7 113.0,81.3C112.1,79.9 111.4,78.4 111.5,77.0Z" fill="#35978f"/></g>
<use href="#cst"/><use href="#cst" x="633.5"/><use href="#cst" x="-633.5"/>
</g></g>
<line x1="844.7" y1="545.2" x2="861.1" y2="545.2" stroke="#484848" stroke-width="1.3" stroke-dasharray="4.3 3.6" stroke-dashoffset="0.00"/><line x1="920.4" y1="545.2" x2="1019.6" y2="545.2" stroke="#484848" stroke-width="1.3" stroke-dasharray="4.3 3.6" stroke-dashoffset="4.57"/><line x1="1027.0" y1="545.2" x2="1036.5" y2="545.2" stroke="#484848" stroke-width="1.3" stroke-dasharray="4.3 3.6" stroke-dashoffset="0.60"/><line x1="1051.6" y1="545.2" x2="1055.5" y2="545.2" stroke="#484848" stroke-width="1.3" stroke-dasharray="4.3 3.6" stroke-dashoffset="1.54"/><line x1="1056.2" y1="545.2" x2="1337.2" y2="545.2" stroke="#484848" stroke-width="1.3" stroke-dasharray="4.3 3.6" stroke-dashoffset="6.12"/><line x1="1391.3" y1="545.2" x2="1478.2" y2="545.2" stroke="#484848" stroke-width="1.3" stroke-dasharray="4.3 3.6" stroke-dashoffset="1.46"/><line x1="1161.4" y1="474.8" x2="1161.4" y2="615.6" stroke="#484848" stroke-width="1.3" stroke-dasharray="4.3 3.6"/>
<g transform="translate(844.7,474.8)"><g clip-path="url(#pc)">
<path class="kc" d="M72.3,141.7C71.1,140.0 67.0,134.5 64.8,131.6C62.6,128.7 60.8,126.8 59.1,124.4C57.4,122.0 56.2,119.4 54.8,117.2C53.3,115.1 51.9,113.2 50.5,111.5C49.0,109.8 47.2,108.6 46.2,107.2C45.1,105.7 44.1,104.4 44.0,102.9C43.9,101.3 44.6,99.5 45.4,97.8C46.3,96.1 47.5,94.2 49.0,92.8C50.6,91.4 52.9,90.2 54.8,89.2C56.7,88.2 58.6,88.0 60.5,87.0C62.4,86.1 64.6,84.7 66.3,83.5C68.0,82.3 69.2,81.2 70.6,79.9C72.0,78.5 73.9,77.2 74.9,75.6C75.9,73.9 76.2,71.7 76.3,69.8C76.5,67.9 75.4,65.7 75.6,64.1C75.9,62.4 76.7,61.2 77.8,59.7C78.9,58.3 80.7,56.7 82.1,55.4C83.5,54.1 84.7,53.2 86.4,51.8C88.1,50.5 90.0,49.1 92.1,47.5C94.3,46.0 96.9,44.1 99.3,42.5C101.7,40.9 104.1,39.4 106.5,38.2C108.9,37.0 111.3,36.0 113.7,35.3C116.1,34.6 118.5,34.1 120.9,33.9C123.3,33.6 125.9,33.5 128.1,33.9C130.2,34.2 132.4,34.8 133.8,36.0C135.3,37.2 136.5,39.3 136.7,41.1C136.9,42.9 136.0,44.9 135.3,46.8C134.5,48.7 133.0,50.4 132.4,52.6C131.8,54.7 131.9,57.3 131.7,59.7C131.4,62.1 131.3,64.5 130.9,66.9C130.6,69.3 129.6,71.7 129.5,74.1C129.4,76.5 129.8,79.1 130.2,81.3C130.7,83.5 131.5,84.9 132.4,87.0C133.2,89.2 134.3,91.8 135.3,94.2C136.2,96.6 137.3,98.8 138.1,101.4C139.0,104.1 139.8,107.2 140.3,110.0C140.8,112.9 140.9,115.8 141.0,118.7C141.1,121.5 141.4,124.7 141.0,127.3C140.6,129.9 139.8,132.1 138.9,134.5C137.9,136.9 136.1,140.5 135.5,141.7"/><path class="kc" d="M120.9,6.6C121.1,5.4 122.3,3.7 123.8,3.0C125.2,2.2 127.6,1.9 129.5,2.0C131.4,2.0 133.9,2.6 135.3,3.4C136.6,4.2 137.5,5.4 137.4,6.6C137.3,7.7 136.1,9.3 134.5,10.2C133.0,11.0 130.1,11.6 128.1,11.6C126.0,11.6 123.5,11.0 122.3,10.2C121.1,9.3 120.6,7.8 120.9,6.6Z"/><path class="kd" d="M255.1,6.6C255.6,6.2 257.0,4.8 258.0,4.4C259.0,4.0 260.6,4.1 261.2,4.0"/><path class="kd" d="M261.6,9.4C262.2,9.1 264.3,7.9 265.2,7.3C266.1,6.6 266.6,5.9 266.9,5.6"/><path class="kd" d="M416.3,136.6C416.4,135.8 417.3,133.6 417.0,131.6C416.8,129.6 415.6,126.8 414.9,124.4C414.1,122.0 412.7,119.9 412.7,117.2C412.7,114.6 413.9,111.5 414.9,108.6C415.8,105.7 417.1,102.9 418.5,100.0C419.8,97.1 421.3,94.0 422.8,91.4C424.2,88.7 425.4,86.3 427.1,84.2C428.8,82.0 430.9,79.9 432.8,78.4C434.7,77.0 436.4,76.6 438.6,75.6C440.7,74.5 443.4,73.2 445.8,72.0C448.2,70.8 451.1,69.7 452.9,68.4C454.7,67.0 456.4,65.7 456.5,64.1C456.7,62.4 454.4,60.0 453.7,58.3C452.9,56.6 451.9,55.2 452.2,54.0C452.6,52.8 454.0,51.8 455.8,51.1C457.6,50.4 460.6,49.9 463.0,49.7C465.4,49.5 468.0,49.6 470.2,50.0C472.3,50.3 474.0,50.9 475.9,51.8C477.9,52.7 479.8,54.1 481.7,55.4C483.6,56.7 485.5,58.1 487.4,59.7C489.3,61.4 491.3,63.7 493.2,65.5C495.1,67.3 497.0,69.0 498.9,70.5C500.8,72.1 502.6,73.3 504.7,74.8C506.7,76.4 509.5,78.1 511.3,79.9C513.1,81.7 514.6,83.5 515.6,85.6C516.5,87.8 517.0,90.4 517.0,92.8C517.0,95.2 516.5,97.6 515.6,100.0C514.6,102.4 513.0,104.8 511.3,107.2C509.6,109.6 507.1,112.0 505.5,114.4C504.0,116.7 502.7,118.9 501.9,121.5C501.2,124.2 501.3,126.8 501.2,130.2C501.1,133.5 501.2,139.7 501.2,141.7"/><path class="kd" d="M447.2,136.6C446.8,135.3 445.2,131.5 445.0,128.7C444.9,126.0 445.4,122.5 446.5,120.1C447.6,117.7 449.5,115.7 451.5,114.4C453.5,113.0 456.3,112.3 458.7,112.2C461.1,112.1 463.5,112.6 465.9,113.6C468.3,114.7 471.1,116.9 473.1,118.7C475.0,120.5 476.4,122.3 477.4,124.4C478.3,126.6 479.0,129.0 478.8,131.6C478.6,134.2 476.4,138.8 475.9,140.2"/><path class="kc" d="M543.6,8.0C544.0,6.7 544.4,5.0 545.8,4.4C547.1,3.8 549.6,3.9 551.5,4.4C553.4,4.9 555.3,6.0 557.3,7.3C559.2,8.6 561.1,10.5 563.0,12.3C564.9,14.1 566.8,16.4 568.8,18.1C570.7,19.7 572.3,21.2 574.5,22.4C576.7,23.6 579.3,24.2 581.7,25.3C584.1,26.3 587.1,27.4 588.9,28.8C590.7,30.3 592.1,32.1 592.5,33.9C592.8,35.7 590.8,37.7 591.0,39.6C591.3,41.5 592.6,43.5 593.9,45.4C595.2,47.3 597.5,49.2 598.9,51.1C600.4,53.0 601.6,54.7 602.5,56.9C603.5,59.0 603.8,61.7 604.7,64.1C605.5,66.4 606.6,68.8 607.6,71.2C608.5,73.6 610.0,76.4 610.4,78.4C610.9,80.5 611.4,82.1 610.4,83.5C609.5,84.8 607.1,85.7 604.7,86.3C602.3,87.0 598.9,87.2 596.1,87.3C593.2,87.5 590.3,87.3 587.4,87.0C584.6,86.8 581.7,86.3 578.8,85.6C575.9,84.9 572.8,83.8 570.2,82.7C567.6,81.7 565.2,80.5 563.0,79.1C560.9,77.8 558.8,76.4 557.3,74.8C555.7,73.3 554.4,71.8 553.7,69.8C552.9,67.8 553.7,64.8 552.9,62.6C552.2,60.5 550.2,59.0 549.4,56.9C548.5,54.7 547.9,52.1 547.9,49.7C547.9,47.3 548.8,44.9 549.4,42.5C550.0,40.1 550.7,37.7 551.5,35.3C552.4,32.9 554.4,30.3 554.4,28.1C554.4,26.0 552.8,24.3 551.5,22.4C550.2,20.5 547.8,18.3 546.5,16.6C545.2,15.0 544.1,13.8 543.6,12.3C543.1,10.9 543.2,9.3 543.6,8.0Z"/>
</g></g>
<line x1="844.7" y1="474.8" x2="844.7" y2="469.6" stroke="#000" stroke-width="3.0" stroke-linecap="round"/>
<line x1="844.7" y1="615.6" x2="844.7" y2="620.8" stroke="#000" stroke-width="3.0" stroke-linecap="round"/>
<line x1="862.3" y1="474.8" x2="862.3" y2="471.9" stroke="#000" stroke-width="1.5" stroke-linecap="round"/>
<line x1="862.3" y1="615.6" x2="862.3" y2="618.5" stroke="#000" stroke-width="1.5" stroke-linecap="round"/>
<line x1="879.9" y1="474.8" x2="879.9" y2="471.9" stroke="#000" stroke-width="1.5" stroke-linecap="round"/>
<line x1="879.9" y1="615.6" x2="879.9" y2="618.5" stroke="#000" stroke-width="1.5" stroke-linecap="round"/>
<line x1="897.5" y1="474.8" x2="897.5" y2="471.9" stroke="#000" stroke-width="1.5" stroke-linecap="round"/>
<line x1="897.5" y1="615.6" x2="897.5" y2="618.5" stroke="#000" stroke-width="1.5" stroke-linecap="round"/>
<line x1="915.1" y1="474.8" x2="915.1" y2="471.9" stroke="#000" stroke-width="1.5" stroke-linecap="round"/>
<line x1="915.1" y1="615.6" x2="915.1" y2="618.5" stroke="#000" stroke-width="1.5" stroke-linecap="round"/>
<line x1="932.7" y1="474.8" x2="932.7" y2="471.9" stroke="#000" stroke-width="1.5" stroke-linecap="round"/>
<line x1="932.7" y1="615.6" x2="932.7" y2="618.5" stroke="#000" stroke-width="1.5" stroke-linecap="round"/>
<line x1="950.3" y1="474.8" x2="950.3" y2="469.6" stroke="#000" stroke-width="3.0" stroke-linecap="round"/>
<line x1="950.3" y1="615.6" x2="950.3" y2="620.8" stroke="#000" stroke-width="3.0" stroke-linecap="round"/>
<line x1="967.9" y1="474.8" x2="967.9" y2="471.9" stroke="#000" stroke-width="1.5" stroke-linecap="round"/>
<line x1="967.9" y1="615.6" x2="967.9" y2="618.5" stroke="#000" stroke-width="1.5" stroke-linecap="round"/>
<line x1="985.5" y1="474.8" x2="985.5" y2="471.9" stroke="#000" stroke-width="1.5" stroke-linecap="round"/>
<line x1="985.5" y1="615.6" x2="985.5" y2="618.5" stroke="#000" stroke-width="1.5" stroke-linecap="round"/>
<line x1="1003.1" y1="474.8" x2="1003.1" y2="471.9" stroke="#000" stroke-width="1.5" stroke-linecap="round"/>
<line x1="1003.1" y1="615.6" x2="1003.1" y2="618.5" stroke="#000" stroke-width="1.5" stroke-linecap="round"/>
<line x1="1020.7" y1="474.8" x2="1020.7" y2="471.9" stroke="#000" stroke-width="1.5" stroke-linecap="round"/>
<line x1="1020.7" y1="615.6" x2="1020.7" y2="618.5" stroke="#000" stroke-width="1.5" stroke-linecap="round"/>
<line x1="1038.3" y1="474.8" x2="1038.3" y2="471.9" stroke="#000" stroke-width="1.5" stroke-linecap="round"/>
<line x1="1038.3" y1="615.6" x2="1038.3" y2="618.5" stroke="#000" stroke-width="1.5" stroke-linecap="round"/>
<line x1="1055.9" y1="474.8" x2="1055.9" y2="469.6" stroke="#000" stroke-width="3.0" stroke-linecap="round"/>
<line x1="1055.9" y1="615.6" x2="1055.9" y2="620.8" stroke="#000" stroke-width="3.0" stroke-linecap="round"/>
<line x1="1073.5" y1="474.8" x2="1073.5" y2="471.9" stroke="#000" stroke-width="1.5" stroke-linecap="round"/>
<line x1="1073.5" y1="615.6" x2="1073.5" y2="618.5" stroke="#000" stroke-width="1.5" stroke-linecap="round"/>
<line x1="1091.1" y1="474.8" x2="1091.1" y2="471.9" stroke="#000" stroke-width="1.5" stroke-linecap="round"/>
<line x1="1091.1" y1="615.6" x2="1091.1" y2="618.5" stroke="#000" stroke-width="1.5" stroke-linecap="round"/>
<line x1="1108.7" y1="474.8" x2="1108.7" y2="471.9" stroke="#000" stroke-width="1.5" stroke-linecap="round"/>
<line x1="1108.7" y1="615.6" x2="1108.7" y2="618.5" stroke="#000" stroke-width="1.5" stroke-linecap="round"/>
<line x1="1126.3" y1="474.8" x2="1126.3" y2="471.9" stroke="#000" stroke-width="1.5" stroke-linecap="round"/>
<line x1="1126.3" y1="615.6" x2="1126.3" y2="618.5" stroke="#000" stroke-width="1.5" stroke-linecap="round"/>
<line x1="1143.8" y1="474.8" x2="1143.8" y2="471.9" stroke="#000" stroke-width="1.5" stroke-linecap="round"/>
<line x1="1143.8" y1="615.6" x2="1143.8" y2="618.5" stroke="#000" stroke-width="1.5" stroke-linecap="round"/>
<line x1="1161.4" y1="474.8" x2="1161.4" y2="469.6" stroke="#000" stroke-width="3.0" stroke-linecap="round"/>
<line x1="1161.4" y1="615.6" x2="1161.4" y2="620.8" stroke="#000" stroke-width="3.0" stroke-linecap="round"/>
<line x1="1179.0" y1="474.8" x2="1179.0" y2="471.9" stroke="#000" stroke-width="1.5" stroke-linecap="round"/>
<line x1="1179.0" y1="615.6" x2="1179.0" y2="618.5" stroke="#000" stroke-width="1.5" stroke-linecap="round"/>
<line x1="1196.6" y1="474.8" x2="1196.6" y2="471.9" stroke="#000" stroke-width="1.5" stroke-linecap="round"/>
<line x1="1196.6" y1="615.6" x2="1196.6" y2="618.5" stroke="#000" stroke-width="1.5" stroke-linecap="round"/>
<line x1="1214.2" y1="474.8" x2="1214.2" y2="471.9" stroke="#000" stroke-width="1.5" stroke-linecap="round"/>
<line x1="1214.2" y1="615.6" x2="1214.2" y2="618.5" stroke="#000" stroke-width="1.5" stroke-linecap="round"/>
<line x1="1231.8" y1="474.8" x2="1231.8" y2="471.9" stroke="#000" stroke-width="1.5" stroke-linecap="round"/>
<line x1="1231.8" y1="615.6" x2="1231.8" y2="618.5" stroke="#000" stroke-width="1.5" stroke-linecap="round"/>
<line x1="1249.4" y1="474.8" x2="1249.4" y2="471.9" stroke="#000" stroke-width="1.5" stroke-linecap="round"/>
<line x1="1249.4" y1="615.6" x2="1249.4" y2="618.5" stroke="#000" stroke-width="1.5" stroke-linecap="round"/>
<line x1="1267.0" y1="474.8" x2="1267.0" y2="469.6" stroke="#000" stroke-width="3.0" stroke-linecap="round"/>
<line x1="1267.0" y1="615.6" x2="1267.0" y2="620.8" stroke="#000" stroke-width="3.0" stroke-linecap="round"/>
<line x1="1284.6" y1="474.8" x2="1284.6" y2="471.9" stroke="#000" stroke-width="1.5" stroke-linecap="round"/>
<line x1="1284.6" y1="615.6" x2="1284.6" y2="618.5" stroke="#000" stroke-width="1.5" stroke-linecap="round"/>
<line x1="1302.2" y1="474.8" x2="1302.2" y2="471.9" stroke="#000" stroke-width="1.5" stroke-linecap="round"/>
<line x1="1302.2" y1="615.6" x2="1302.2" y2="618.5" stroke="#000" stroke-width="1.5" stroke-linecap="round"/>
<line x1="1319.8" y1="474.8" x2="1319.8" y2="471.9" stroke="#000" stroke-width="1.5" stroke-linecap="round"/>
<line x1="1319.8" y1="615.6" x2="1319.8" y2="618.5" stroke="#000" stroke-width="1.5" stroke-linecap="round"/>
<line x1="1337.4" y1="474.8" x2="1337.4" y2="471.9" stroke="#000" stroke-width="1.5" stroke-linecap="round"/>
<line x1="1337.4" y1="615.6" x2="1337.4" y2="618.5" stroke="#000" stroke-width="1.5" stroke-linecap="round"/>
<line x1="1355.0" y1="474.8" x2="1355.0" y2="471.9" stroke="#000" stroke-width="1.5" stroke-linecap="round"/>
<line x1="1355.0" y1="615.6" x2="1355.0" y2="618.5" stroke="#000" stroke-width="1.5" stroke-linecap="round"/>
<line x1="1372.6" y1="474.8" x2="1372.6" y2="469.6" stroke="#000" stroke-width="3.0" stroke-linecap="round"/>
<line x1="1372.6" y1="615.6" x2="1372.6" y2="620.8" stroke="#000" stroke-width="3.0" stroke-linecap="round"/>
<line x1="1390.2" y1="474.8" x2="1390.2" y2="471.9" stroke="#000" stroke-width="1.5" stroke-linecap="round"/>
<line x1="1390.2" y1="615.6" x2="1390.2" y2="618.5" stroke="#000" stroke-width="1.5" stroke-linecap="round"/>
<line x1="1407.8" y1="474.8" x2="1407.8" y2="471.9" stroke="#000" stroke-width="1.5" stroke-linecap="round"/>
<line x1="1407.8" y1="615.6" x2="1407.8" y2="618.5" stroke="#000" stroke-width="1.5" stroke-linecap="round"/>
<line x1="1425.4" y1="474.8" x2="1425.4" y2="471.9" stroke="#000" stroke-width="1.5" stroke-linecap="round"/>
<line x1="1425.4" y1="615.6" x2="1425.4" y2="618.5" stroke="#000" stroke-width="1.5" stroke-linecap="round"/>
<line x1="1443.0" y1="474.8" x2="1443.0" y2="471.9" stroke="#000" stroke-width="1.5" stroke-linecap="round"/>
<line x1="1443.0" y1="615.6" x2="1443.0" y2="618.5" stroke="#000" stroke-width="1.5" stroke-linecap="round"/>
<line x1="1460.6" y1="474.8" x2="1460.6" y2="471.9" stroke="#000" stroke-width="1.5" stroke-linecap="round"/>
<line x1="1460.6" y1="615.6" x2="1460.6" y2="618.5" stroke="#000" stroke-width="1.5" stroke-linecap="round"/>
<line x1="1478.2" y1="474.8" x2="1478.2" y2="469.6" stroke="#000" stroke-width="3.0" stroke-linecap="round"/>
<line x1="1478.2" y1="615.6" x2="1478.2" y2="620.8" stroke="#000" stroke-width="3.0" stroke-linecap="round"/>
<line x1="844.7" y1="598.0" x2="839.5" y2="598.0" stroke="#000" stroke-width="3.0" stroke-linecap="round"/>
<line x1="1478.2" y1="598.0" x2="1483.4" y2="598.0" stroke="#000" stroke-width="3.0" stroke-linecap="round"/>
<line x1="844.7" y1="580.4" x2="841.8" y2="580.4" stroke="#000" stroke-width="1.5" stroke-linecap="round"/>
<line x1="1478.2" y1="580.4" x2="1481.1" y2="580.4" stroke="#000" stroke-width="1.5" stroke-linecap="round"/>
<line x1="844.7" y1="562.8" x2="841.8" y2="562.8" stroke="#000" stroke-width="1.5" stroke-linecap="round"/>
<line x1="1478.2" y1="562.8" x2="1481.1" y2="562.8" stroke="#000" stroke-width="1.5" stroke-linecap="round"/>
<line x1="844.7" y1="545.2" x2="839.5" y2="545.2" stroke="#000" stroke-width="3.0" stroke-linecap="round"/>
<line x1="1478.2" y1="545.2" x2="1483.4" y2="545.2" stroke="#000" stroke-width="3.0" stroke-linecap="round"/>
<line x1="844.7" y1="527.6" x2="841.8" y2="527.6" stroke="#000" stroke-width="1.5" stroke-linecap="round"/>
<line x1="1478.2" y1="527.6" x2="1481.1" y2="527.6" stroke="#000" stroke-width="1.5" stroke-linecap="round"/>
<line x1="844.7" y1="510.0" x2="841.8" y2="510.0" stroke="#000" stroke-width="1.5" stroke-linecap="round"/>
<line x1="1478.2" y1="510.0" x2="1481.1" y2="510.0" stroke="#000" stroke-width="1.5" stroke-linecap="round"/>
<line x1="844.7" y1="492.4" x2="839.5" y2="492.4" stroke="#000" stroke-width="3.0" stroke-linecap="round"/>
<line x1="1478.2" y1="492.4" x2="1483.4" y2="492.4" stroke="#000" stroke-width="3.0" stroke-linecap="round"/>
<rect x="844.7" y="474.8" width="633.5" height="140.8" fill="none" stroke="#000" stroke-width="3.3"/>
<text class="t34" id="t7" x="841.8" y="459.6" textLength="256.4" lengthAdjust="spacingAndGlyphs">15-Apr to 19-Apr</text>
<g transform="translate(844.7,689.5)"><g clip-path="url(#pc)">
<rect x="0" y="0" width="633.5" height="140.8" fill="#f5f5f5"/>
<g filter="url(#sm)"><path d="M23.9,96.0C23.6,93.3 24.0,90.2 24.6,87.3C25.2,84.5 26.5,81.6 27.5,78.7C28.4,75.9 29.4,72.7 30.4,70.1C31.3,67.5 32.0,65.3 33.2,62.9C34.4,60.5 36.1,57.8 37.5,55.7C39.0,53.7 39.9,51.8 41.8,50.7C43.8,49.6 46.4,49.4 49.0,49.3C51.7,49.1 55.3,50.2 57.7,50.0C60.1,49.7 61.5,48.2 63.4,47.8C65.3,47.5 67.6,47.2 69.2,47.8C70.7,48.4 72.3,50.0 72.7,51.4C73.2,52.9 72.9,55.1 72.0,56.5C71.2,57.8 69.2,58.5 67.7,59.3C66.3,60.2 64.4,60.2 63.4,61.5C62.4,62.8 61.7,65.3 62.0,67.2C62.2,69.1 63.4,71.3 64.8,73.0C66.3,74.7 68.4,76.3 70.6,77.3C72.7,78.2 75.9,77.8 77.8,78.7C79.7,79.7 81.0,81.5 82.1,83.0C83.2,84.6 84.5,86.6 84.2,88.1C84.0,89.5 82.2,90.7 80.7,91.7C79.1,92.6 76.6,92.9 74.9,93.8C73.2,94.8 72.3,96.1 70.6,97.4C68.9,98.7 66.8,100.3 64.8,101.7C62.9,103.2 61.0,104.8 59.1,106.0C57.2,107.2 55.5,108.3 53.3,108.9C51.2,109.5 48.6,109.6 46.2,109.6C43.8,109.6 41.4,109.3 39.0,108.9C36.6,108.5 33.9,108.4 31.8,107.5C29.6,106.5 27.4,105.1 26.0,103.2C24.7,101.2 24.1,98.6 23.9,96.0Z" fill="#f6e8c3"/><path d="M110.8,65.8C111.1,63.9 112.3,62.0 113.7,60.0C115.1,58.1 117.3,56.2 119.5,54.3C121.6,52.4 124.5,50.0 126.6,48.5C128.8,47.1 130.5,45.8 132.4,45.7C134.3,45.6 136.7,46.6 138.1,47.8C139.6,49.0 139.6,51.5 141.0,52.9C142.4,54.2 144.6,54.5 146.8,55.7C148.9,56.9 151.8,58.4 153.9,60.0C156.1,61.7 157.8,63.6 159.7,65.8C161.6,67.9 163.3,70.6 165.4,73.0C167.6,75.4 170.2,78.0 172.6,80.2C175.0,82.3 177.7,84.0 179.8,85.9C182.0,87.8 183.9,89.7 185.6,91.7C187.2,93.6 188.7,95.3 189.9,97.4C191.1,99.6 192.5,102.2 192.7,104.6C193.0,107.0 192.3,109.4 191.3,111.8C190.3,114.2 188.4,116.6 187.0,119.0C185.6,121.4 184.4,124.6 182.7,126.1C181.0,127.7 179.1,128.2 176.9,128.3C174.8,128.4 172.1,127.6 169.8,126.9C167.4,126.1 165.0,125.3 162.6,124.0C160.2,122.7 157.8,120.5 155.4,119.0C153.0,117.4 150.6,116.3 148.2,114.7C145.8,113.0 143.2,110.8 141.0,108.9C138.9,107.0 137.2,105.1 135.3,103.2C133.3,101.2 131.4,99.6 129.5,97.4C127.6,95.3 125.4,92.6 123.8,90.2C122.1,87.8 120.9,85.2 119.5,83.0C118.0,80.9 116.3,79.2 115.1,77.3C113.9,75.4 113.0,73.5 112.3,71.5C111.5,69.6 110.6,67.7 110.8,65.8Z" fill="#c7eae5"/><path d="M189.8,42.8C190.0,40.4 190.2,37.8 191.2,35.6C192.1,33.5 193.6,31.3 195.5,29.9C197.4,28.4 200.2,27.6 202.7,27.0C205.2,26.4 208.1,26.6 210.6,26.3C213.1,25.9 215.4,25.7 217.8,24.8C220.2,24.0 222.6,22.6 225.0,21.2C227.4,19.9 229.8,18.4 232.1,16.9C234.5,15.5 236.9,14.1 239.3,12.6C241.7,11.2 244.4,9.7 246.5,8.3C248.7,6.9 250.6,7.6 252.3,4.0C253.9,0.4 246.8,-10.4 256.6,-13.2C266.4,-16.1 301.6,-16.1 311.2,-13.2C320.8,-10.4 312.6,-0.1 314.1,4.0C315.5,8.1 317.4,9.3 319.8,11.2C322.2,13.1 325.6,14.1 328.4,15.5C331.3,16.9 334.7,18.1 337.1,19.8C339.5,21.5 341.1,23.4 342.8,25.6C344.5,27.7 346.2,30.1 347.1,32.7C348.1,35.4 348.6,38.5 348.6,41.4C348.6,44.2 348.1,47.3 347.1,50.0C346.2,52.6 344.7,55.0 342.8,57.2C340.9,59.3 338.3,61.5 335.6,62.9C333.0,64.4 329.6,64.8 327.0,65.8C324.4,66.7 322.0,67.5 319.8,68.7C317.7,69.9 315.5,71.3 314.1,73.0C312.6,74.7 311.8,76.3 311.2,78.7C310.6,81.1 310.7,84.5 310.5,87.3C310.2,90.2 310.3,93.3 309.8,96.0C309.2,98.6 308.3,101.0 306.9,103.2C305.4,105.3 303.3,107.5 301.1,108.9C299.0,110.3 296.6,111.3 293.9,111.8C291.3,112.3 288.2,112.0 285.3,111.8C282.4,111.5 279.3,110.3 276.7,110.3C274.1,110.3 271.9,111.1 269.5,111.8C267.1,112.5 265.0,114.2 262.3,114.7C259.7,115.1 256.6,115.1 253.7,114.7C250.8,114.2 247.7,113.0 245.1,111.8C242.4,110.6 240.3,108.9 237.9,107.5C235.5,106.0 233.1,104.8 230.7,103.2C228.3,101.5 225.4,99.3 223.5,97.4C221.6,95.5 220.4,93.8 219.2,91.7C218.0,89.5 217.3,86.9 216.3,84.5C215.4,82.1 214.9,79.2 213.5,77.3C212.0,75.4 209.6,74.7 207.7,73.0C205.8,71.3 203.9,69.1 202.0,67.2C200.1,65.3 197.9,63.4 196.2,61.5C194.5,59.6 193.0,57.6 191.9,55.7C190.8,53.8 190.1,52.1 189.8,50.0C189.4,47.8 189.5,45.2 189.8,42.8Z" fill="#f6e8c3"/><path d="M347.3,84.5C347.7,81.1 349.4,78.7 350.9,75.9C352.5,73.0 354.5,70.1 356.7,67.2C358.8,64.4 361.4,61.2 363.8,58.6C366.2,56.0 368.6,53.8 371.0,51.4C373.4,49.0 375.6,46.4 378.2,44.2C380.8,42.1 383.7,40.2 386.8,38.5C390.0,36.8 393.5,35.5 396.9,34.2C400.2,32.9 403.6,31.7 407.0,30.6C410.3,29.5 413.9,28.9 417.0,27.7C420.1,26.5 423.0,24.8 425.6,23.4C428.3,22.0 430.2,20.2 432.8,19.1C435.5,18.0 438.6,17.1 441.4,16.9C444.3,16.8 447.7,17.4 450.1,18.4C452.5,19.3 454.1,21.0 455.8,22.7C457.5,24.4 459.2,26.5 460.1,28.4C461.1,30.3 462.0,32.3 461.6,34.2C461.1,36.1 458.7,38.0 457.3,39.9C455.8,41.8 454.4,43.8 452.9,45.7C451.5,47.6 449.6,49.5 448.6,51.4C447.7,53.3 447.0,55.3 447.2,57.2C447.4,59.1 448.6,61.2 450.1,62.9C451.5,64.6 453.4,66.3 455.8,67.2C458.2,68.2 461.6,68.2 464.4,68.7C467.3,69.1 470.9,69.1 473.1,70.1C475.2,71.1 476.4,72.7 477.4,74.4C478.3,76.1 477.9,78.5 478.8,80.2C479.8,81.8 481.9,82.8 483.1,84.5C484.3,86.2 486.0,88.3 486.0,90.2C486.0,92.1 484.6,94.1 483.1,96.0C481.7,97.9 479.3,99.8 477.4,101.7C475.5,103.6 473.3,105.3 471.6,107.5C469.9,109.6 468.5,112.3 467.3,114.7C466.1,117.0 465.0,119.4 464.4,121.8C463.8,124.2 464.2,126.6 463.7,129.0C463.2,131.4 462.4,132.6 461.6,136.2C460.7,139.8 471.4,148.2 458.7,150.6C446.0,153.0 398.8,153.2 385.4,150.6C372.0,147.9 380.8,138.6 378.2,134.8C375.6,130.9 372.2,130.0 369.6,127.6C367.0,125.2 364.6,122.8 362.4,120.4C360.3,118.0 358.3,115.8 356.7,113.2C355.0,110.6 353.7,107.5 352.3,104.6C351.0,101.7 349.6,99.3 348.8,96.0C347.9,92.6 347.0,87.8 347.3,84.5Z" fill="#c7eae5"/><path d="M530.7,84.5C530.8,82.9 531.3,81.2 532.8,80.2C534.4,79.1 537.4,78.5 540.0,78.0C542.6,77.5 545.8,77.3 548.6,77.3C551.5,77.3 554.6,77.5 557.3,78.0C559.9,78.5 562.1,79.3 564.4,80.2C566.8,81.0 569.5,82.1 571.6,83.0C573.8,84.0 575.6,84.7 577.4,85.9C579.2,87.1 581.5,88.5 582.4,90.2C583.4,91.9 583.4,94.3 583.1,96.0C582.9,97.6 580.7,99.0 581.0,100.3C581.2,101.6 583.1,102.7 584.6,103.9C586.0,105.1 589.0,106.1 589.6,107.5C590.2,108.8 589.2,110.9 588.2,111.8C587.1,112.6 584.9,112.9 583.1,112.5C581.3,112.1 579.3,110.7 577.4,109.6C575.5,108.5 573.8,106.9 571.6,106.0C569.5,105.2 567.1,104.8 564.4,104.6C561.8,104.4 558.5,104.8 555.8,104.6C553.2,104.4 551.0,104.0 548.6,103.2C546.2,102.3 543.6,101.0 541.5,99.6C539.3,98.1 537.3,96.2 535.7,94.5C534.1,92.9 532.9,91.2 532.1,89.5C531.3,87.8 530.6,86.0 530.7,84.5Z" fill="#f6e8c3"/><path d="M123.8,73.0C123.8,71.2 124.0,69.3 125.2,67.9C126.4,66.6 128.6,65.7 130.9,65.1C133.3,64.4 136.7,63.9 139.6,64.1C142.4,64.2 145.6,65.0 148.2,65.8C150.8,66.6 153.2,67.5 155.4,68.7C157.5,69.9 159.8,71.4 161.1,73.0C162.4,74.5 163.3,76.4 163.3,78.0C163.3,79.6 162.7,81.1 161.1,82.3C159.6,83.5 156.6,84.5 153.9,85.2C151.3,85.9 148.2,86.5 145.3,86.6C142.4,86.7 139.3,86.5 136.7,85.9C134.1,85.3 131.4,84.2 129.5,83.0C127.6,81.8 126.2,80.4 125.2,78.7C124.2,77.0 123.8,74.8 123.8,73.0Z" fill="#80cdc1"/><path d="M237.9,51.4C237.9,50.0 239.3,47.6 240.8,45.7C242.2,43.8 244.4,41.6 246.5,39.9C248.7,38.2 251.1,36.8 253.7,35.6C256.3,34.4 259.2,33.5 262.3,32.7C265.4,32.0 269.0,31.7 272.4,31.3C275.7,30.9 279.1,30.7 282.4,30.6C285.8,30.5 289.2,30.3 292.5,30.6C295.9,30.8 299.5,31.4 302.6,32.0C305.7,32.6 308.3,33.2 311.2,34.2C314.1,35.1 317.4,36.3 319.8,37.8C322.2,39.2 324.1,40.8 325.6,42.8C327.0,44.8 328.7,47.8 328.4,50.0C328.2,52.1 326.0,54.3 324.1,55.7C322.2,57.2 319.3,57.6 316.9,58.6C314.5,59.6 311.9,60.3 309.8,61.5C307.6,62.7 305.7,64.1 304.0,65.8C302.3,67.5 300.9,69.4 299.7,71.5C298.5,73.7 297.2,76.3 296.8,78.7C296.5,81.1 297.8,83.5 297.5,85.9C297.3,88.3 296.7,91.1 295.4,93.1C294.1,95.1 292.0,96.9 289.6,98.1C287.2,99.3 283.9,100.0 281.0,100.3C278.1,100.5 275.3,100.0 272.4,99.6C269.5,99.1 266.4,98.2 263.8,97.4C261.1,96.6 258.7,95.5 256.6,94.5C254.4,93.6 252.7,91.9 250.8,91.7C248.9,91.4 247.0,92.9 245.1,93.1C243.2,93.3 241.2,93.6 239.3,93.1C237.4,92.6 235.3,91.4 233.6,90.2C231.9,89.0 230.0,87.6 229.3,85.9C228.6,84.2 228.6,81.8 229.3,80.2C230.0,78.5 231.7,76.8 233.6,75.9C235.5,74.9 238.6,74.9 240.8,74.4C242.9,73.9 244.8,74.2 246.5,73.0C248.2,71.8 250.1,69.1 250.8,67.2C251.5,65.3 251.5,63.2 250.8,61.5C250.1,59.8 248.2,58.4 246.5,57.2C244.8,56.0 242.2,55.3 240.8,54.3C239.3,53.3 237.9,52.9 237.9,51.4Z" fill="#dfc27d"/><path d="M361.7,84.5C361.9,82.3 362.5,79.7 363.8,77.3C365.2,74.9 367.2,72.5 369.6,70.1C372.0,67.7 375.1,65.0 378.2,62.9C381.3,60.9 384.7,59.2 388.3,57.9C391.9,56.6 395.9,55.7 399.8,55.0C403.6,54.3 407.9,53.8 411.3,53.6C414.6,53.3 417.7,53.0 419.9,53.6C422.0,54.2 423.1,55.4 424.2,57.2C425.3,59.0 424.9,62.2 426.4,64.4C427.8,66.5 430.3,68.4 432.8,70.1C435.3,71.8 438.9,73.0 441.4,74.4C444.0,75.9 446.5,77.0 447.9,78.7C449.3,80.4 450.2,82.3 450.1,84.5C449.9,86.6 448.6,89.5 447.2,91.7C445.8,93.8 443.8,95.5 441.4,97.4C439.1,99.3 435.7,101.2 432.8,103.2C429.9,105.1 426.8,107.0 424.2,108.9C421.6,110.8 419.2,113.0 417.0,114.7C414.9,116.3 413.7,117.9 411.3,119.0C408.9,120.0 405.8,120.9 402.6,121.1C399.5,121.4 395.7,121.0 392.6,120.4C389.5,119.8 386.6,119.0 384.0,117.5C381.3,116.1 378.9,113.9 376.8,111.8C374.6,109.6 372.9,107.2 371.0,104.6C369.1,102.0 366.7,98.4 365.3,96.0C363.8,93.6 363.0,92.1 362.4,90.2C361.8,88.3 361.4,86.6 361.7,84.5Z" fill="#80cdc1"/><path d="M379.4,84.5C379.2,82.8 379.8,80.9 381.1,79.4C382.3,78.0 384.4,76.7 386.8,75.9C389.2,75.0 392.6,74.2 395.5,74.1C398.3,74.0 401.2,74.6 404.1,75.1C407.0,75.7 410.1,76.4 412.7,77.3C415.3,78.1 418.2,79.2 419.9,80.2C421.6,81.1 422.9,82.0 422.8,83.0C422.6,84.1 421.1,85.6 419.2,86.6C417.3,87.7 414.0,88.7 411.3,89.5C408.5,90.3 405.5,90.9 402.6,91.7C399.8,92.4 396.7,93.6 394.0,93.8C391.4,94.1 388.9,93.8 386.8,93.1C384.8,92.4 383.1,90.9 381.8,89.5C380.6,88.1 379.5,86.2 379.4,84.5Z" fill="#35978f"/></g>
<use href="#cst"/><use href="#cst" x="633.5"/><use href="#cst" x="-633.5"/>
</g></g>
<line x1="844.7" y1="759.9" x2="861.1" y2="759.9" stroke="#484848" stroke-width="1.3" stroke-dasharray="4.3 3.6" stroke-dashoffset="0.00"/><line x1="920.4" y1="759.9" x2="1019.6" y2="759.9" stroke="#484848" stroke-width="1.3" stroke-dasharray="4.3 3.6" stroke-dashoffset="4.57"/><line x1="1027.0" y1="759.9" x2="1036.5" y2="759.9" stroke="#484848" stroke-width="1.3" stroke-dasharray="4.3 3.6" stroke-dashoffset="0.60"/><line x1="1051.6" y1="759.9" x2="1055.5" y2="759.9" stroke="#484848" stroke-width="1.3" stroke-dasharray="4.3 3.6" stroke-dashoffset="1.54"/><line x1="1056.2" y1="759.9" x2="1337.2" y2="759.9" stroke="#484848" stroke-width="1.3" stroke-dasharray="4.3 3.6" stroke-dashoffset="6.12"/><line x1="1391.3" y1="759.9" x2="1478.2" y2="759.9" stroke="#484848" stroke-width="1.3" stroke-dasharray="4.3 3.6" stroke-dashoffset="1.46"/><line x1="1161.4" y1="689.5" x2="1161.4" y2="830.3" stroke="#484848" stroke-width="1.3" stroke-dasharray="4.3 3.6"/>
<g transform="translate(844.7,689.5)"><g clip-path="url(#pc)">
<path class="kc" d="M191.0,-1.0C190.1,-0.2 186.9,2.4 185.6,4.0C184.2,5.6 183.2,6.6 182.7,8.3C182.2,10.0 182.2,12.1 182.7,14.1C183.2,16.0 184.6,17.9 185.6,19.8C186.5,21.7 188.0,23.6 188.4,25.6C188.9,27.5 189.4,29.4 188.4,31.3C187.5,33.2 184.6,35.1 182.7,37.0C180.8,39.0 178.9,40.9 176.9,42.8C175.0,44.7 173.1,46.6 171.2,48.5C169.3,50.5 166.9,52.1 165.4,54.3C164.0,56.5 162.9,59.1 162.6,61.5C162.2,63.9 162.6,66.5 163.3,68.7C164.0,70.8 165.3,72.5 166.9,74.4C168.4,76.3 170.7,78.2 172.6,80.2C174.5,82.1 176.6,84.0 178.4,85.9C180.2,87.8 182.0,89.7 183.4,91.7C184.8,93.6 186.4,95.5 187.0,97.4C187.6,99.3 187.6,101.2 187.0,103.2C186.4,105.1 184.2,107.0 183.4,108.9C182.6,110.8 181.7,112.7 182.0,114.7C182.2,116.6 184.1,118.5 184.8,120.4C185.6,122.3 186.2,124.2 186.3,126.1C186.4,128.1 185.2,130.2 185.6,131.9C185.9,133.6 187.0,135.1 188.4,136.2C189.9,137.4 191.9,138.3 194.2,138.8C196.4,139.3 199.5,139.4 202.0,139.4C204.5,139.3 207.0,138.9 209.2,138.4C211.3,137.8 213.2,137.2 214.9,136.2C216.6,135.3 218.0,134.1 219.2,132.6C220.4,131.2 221.5,129.6 222.1,127.6C222.7,125.6 222.9,122.8 222.8,120.4C222.7,118.0 221.2,115.4 221.4,113.2C221.5,111.1 222.0,109.0 223.5,107.5C225.1,105.9 228.3,105.1 230.7,103.9C233.1,102.7 235.5,101.6 237.9,100.3C240.3,99.0 242.9,97.4 245.1,96.0C247.2,94.5 249.4,93.3 250.8,91.7C252.3,90.0 253.7,87.8 253.7,85.9C253.7,84.0 252.0,81.8 250.8,80.2C249.6,78.5 247.6,77.3 246.5,75.9C245.4,74.4 244.1,73.0 244.4,71.5C244.6,70.1 246.8,68.7 248.0,67.2C249.2,65.8 251.1,64.6 251.5,62.9C252.0,61.2 251.7,59.1 250.8,57.2C250.0,55.3 248.2,53.3 246.5,51.4C244.8,49.5 242.7,47.6 240.8,45.7C238.9,43.8 236.9,41.8 235.0,39.9C233.1,38.0 231.0,36.1 229.3,34.2C227.6,32.3 225.7,30.1 225.0,28.4C224.2,26.8 224.5,25.6 225.0,24.1C225.4,22.7 226.9,21.2 227.8,19.8C228.8,18.4 229.8,17.2 230.7,15.5C231.7,13.8 232.7,11.7 233.6,9.7C234.4,7.8 235.4,5.8 235.7,4.0C236.1,2.2 235.9,-0.2 235.9,-1.0"/><path class="kc" d="M314.8,142.0C315.1,140.3 316.0,135.0 316.9,131.9C317.9,128.8 319.1,125.9 320.5,123.3C322.0,120.6 323.5,118.0 325.6,116.1C327.6,114.2 330.1,112.7 332.7,111.8C335.4,110.8 338.5,110.5 341.4,110.3C344.2,110.2 347.9,110.5 350.0,111.1C352.1,111.7 353.4,112.6 353.8,113.9C354.2,115.3 353.2,117.2 352.3,119.0C351.5,120.8 350.0,122.6 348.8,124.7C347.6,126.9 346.4,129.0 345.2,131.9C343.9,134.8 341.8,140.3 341.1,142.0"/><path class="kd" d="M530.7,84.5C531.0,83.3 532.5,81.4 534.3,80.2C536.1,79.0 538.8,78.0 541.5,77.3C544.1,76.6 547.2,76.0 550.1,75.9C552.9,75.7 555.8,76.1 558.7,76.6C561.6,77.0 565.0,77.6 567.3,78.7C569.6,79.8 571.8,81.5 572.3,83.0C572.9,84.6 572.0,86.6 570.9,88.1C569.8,89.5 567.9,90.6 565.9,91.7C563.8,92.7 561.1,93.9 558.7,94.5C556.3,95.1 553.9,95.4 551.5,95.3C549.1,95.1 546.7,94.5 544.3,93.8C541.9,93.1 539.2,92.0 537.1,90.9C535.1,89.9 533.2,88.4 532.1,87.3C531.0,86.3 530.3,85.7 530.7,84.5Z"/><path class="kd" d="M513.4,135.5C513.4,134.2 513.1,130.1 513.4,127.6C513.8,125.1 514.5,122.8 515.6,120.4C516.7,118.0 518.2,115.3 519.9,113.2C521.6,111.2 523.5,109.5 525.6,108.2C527.8,106.9 530.2,105.9 532.8,105.3C535.5,104.7 539.1,104.4 541.5,104.6C543.8,104.8 545.5,105.6 547.2,106.7C548.9,107.9 550.1,110.0 551.5,111.8C552.9,113.6 554.4,115.4 555.8,117.5C557.3,119.7 558.5,122.6 560.1,124.7C561.8,126.9 564.0,128.7 565.9,130.5C567.8,132.3 569.8,133.8 571.6,135.5C573.5,137.2 576.2,139.7 577.1,140.5"/>
</g></g>
<line x1="844.7" y1="689.5" x2="844.7" y2="684.3" stroke="#000" stroke-width="3.0" stroke-linecap="round"/>
<line x1="844.7" y1="830.3" x2="844.7" y2="835.5" stroke="#000" stroke-width="3.0" stroke-linecap="round"/>
<line x1="862.3" y1="689.5" x2="862.3" y2="686.6" stroke="#000" stroke-width="1.5" stroke-linecap="round"/>
<line x1="862.3" y1="830.3" x2="862.3" y2="833.2" stroke="#000" stroke-width="1.5" stroke-linecap="round"/>
<line x1="879.9" y1="689.5" x2="879.9" y2="686.6" stroke="#000" stroke-width="1.5" stroke-linecap="round"/>
<line x1="879.9" y1="830.3" x2="879.9" y2="833.2" stroke="#000" stroke-width="1.5" stroke-linecap="round"/>
<line x1="897.5" y1="689.5" x2="897.5" y2="686.6" stroke="#000" stroke-width="1.5" stroke-linecap="round"/>
<line x1="897.5" y1="830.3" x2="897.5" y2="833.2" stroke="#000" stroke-width="1.5" stroke-linecap="round"/>
<line x1="915.1" y1="689.5" x2="915.1" y2="686.6" stroke="#000" stroke-width="1.5" stroke-linecap="round"/>
<line x1="915.1" y1="830.3" x2="915.1" y2="833.2" stroke="#000" stroke-width="1.5" stroke-linecap="round"/>
<line x1="932.7" y1="689.5" x2="932.7" y2="686.6" stroke="#000" stroke-width="1.5" stroke-linecap="round"/>
<line x1="932.7" y1="830.3" x2="932.7" y2="833.2" stroke="#000" stroke-width="1.5" stroke-linecap="round"/>
<line x1="950.3" y1="689.5" x2="950.3" y2="684.3" stroke="#000" stroke-width="3.0" stroke-linecap="round"/>
<line x1="950.3" y1="830.3" x2="950.3" y2="835.5" stroke="#000" stroke-width="3.0" stroke-linecap="round"/>
<line x1="967.9" y1="689.5" x2="967.9" y2="686.6" stroke="#000" stroke-width="1.5" stroke-linecap="round"/>
<line x1="967.9" y1="830.3" x2="967.9" y2="833.2" stroke="#000" stroke-width="1.5" stroke-linecap="round"/>
<line x1="985.5" y1="689.5" x2="985.5" y2="686.6" stroke="#000" stroke-width="1.5" stroke-linecap="round"/>
<line x1="985.5" y1="830.3" x2="985.5" y2="833.2" stroke="#000" stroke-width="1.5" stroke-linecap="round"/>
<line x1="1003.1" y1="689.5" x2="1003.1" y2="686.6" stroke="#000" stroke-width="1.5" stroke-linecap="round"/>
<line x1="1003.1" y1="830.3" x2="1003.1" y2="833.2" stroke="#000" stroke-width="1.5" stroke-linecap="round"/>
<line x1="1020.7" y1="689.5" x2="1020.7" y2="686.6" stroke="#000" stroke-width="1.5" stroke-linecap="round"/>
<line x1="1020.7" y1="830.3" x2="1020.7" y2="833.2" stroke="#000" stroke-width="1.5" stroke-linecap="round"/>
<line x1="1038.3" y1="689.5" x2="1038.3" y2="686.6" stroke="#000" stroke-width="1.5" stroke-linecap="round"/>
<line x1="1038.3" y1="830.3" x2="1038.3" y2="833.2" stroke="#000" stroke-width="1.5" stroke-linecap="round"/>
<line x1="1055.9" y1="689.5" x2="1055.9" y2="684.3" stroke="#000" stroke-width="3.0" stroke-linecap="round"/>
<line x1="1055.9" y1="830.3" x2="1055.9" y2="835.5" stroke="#000" stroke-width="3.0" stroke-linecap="round"/>
<line x1="1073.5" y1="689.5" x2="1073.5" y2="686.6" stroke="#000" stroke-width="1.5" stroke-linecap="round"/>
<line x1="1073.5" y1="830.3" x2="1073.5" y2="833.2" stroke="#000" stroke-width="1.5" stroke-linecap="round"/>
<line x1="1091.1" y1="689.5" x2="1091.1" y2="686.6" stroke="#000" stroke-width="1.5" stroke-linecap="round"/>
<line x1="1091.1" y1="830.3" x2="1091.1" y2="833.2" stroke="#000" stroke-width="1.5" stroke-linecap="round"/>
<line x1="1108.7" y1="689.5" x2="1108.7" y2="686.6" stroke="#000" stroke-width="1.5" stroke-linecap="round"/>
<line x1="1108.7" y1="830.3" x2="1108.7" y2="833.2" stroke="#000" stroke-width="1.5" stroke-linecap="round"/>
<line x1="1126.3" y1="689.5" x2="1126.3" y2="686.6" stroke="#000" stroke-width="1.5" stroke-linecap="round"/>
<line x1="1126.3" y1="830.3" x2="1126.3" y2="833.2" stroke="#000" stroke-width="1.5" stroke-linecap="round"/>
<line x1="1143.8" y1="689.5" x2="1143.8" y2="686.6" stroke="#000" stroke-width="1.5" stroke-linecap="round"/>
<line x1="1143.8" y1="830.3" x2="1143.8" y2="833.2" stroke="#000" stroke-width="1.5" stroke-linecap="round"/>
<line x1="1161.4" y1="689.5" x2="1161.4" y2="684.3" stroke="#000" stroke-width="3.0" stroke-linecap="round"/>
<line x1="1161.4" y1="830.3" x2="1161.4" y2="835.5" stroke="#000" stroke-width="3.0" stroke-linecap="round"/>
<line x1="1179.0" y1="689.5" x2="1179.0" y2="686.6" stroke="#000" stroke-width="1.5" stroke-linecap="round"/>
<line x1="1179.0" y1="830.3" x2="1179.0" y2="833.2" stroke="#000" stroke-width="1.5" stroke-linecap="round"/>
<line x1="1196.6" y1="689.5" x2="1196.6" y2="686.6" stroke="#000" stroke-width="1.5" stroke-linecap="round"/>
<line x1="1196.6" y1="830.3" x2="1196.6" y2="833.2" stroke="#000" stroke-width="1.5" stroke-linecap="round"/>
<line x1="1214.2" y1="689.5" x2="1214.2" y2="686.6" stroke="#000" stroke-width="1.5" stroke-linecap="round"/>
<line x1="1214.2" y1="830.3" x2="1214.2" y2="833.2" stroke="#000" stroke-width="1.5" stroke-linecap="round"/>
<line x1="1231.8" y1="689.5" x2="1231.8" y2="686.6" stroke="#000" stroke-width="1.5" stroke-linecap="round"/>
<line x1="1231.8" y1="830.3" x2="1231.8" y2="833.2" stroke="#000" stroke-width="1.5" stroke-linecap="round"/>
<line x1="1249.4" y1="689.5" x2="1249.4" y2="686.6" stroke="#000" stroke-width="1.5" stroke-linecap="round"/>
<line x1="1249.4" y1="830.3" x2="1249.4" y2="833.2" stroke="#000" stroke-width="1.5" stroke-linecap="round"/>
<line x1="1267.0" y1="689.5" x2="1267.0" y2="684.3" stroke="#000" stroke-width="3.0" stroke-linecap="round"/>
<line x1="1267.0" y1="830.3" x2="1267.0" y2="835.5" stroke="#000" stroke-width="3.0" stroke-linecap="round"/>
<line x1="1284.6" y1="689.5" x2="1284.6" y2="686.6" stroke="#000" stroke-width="1.5" stroke-linecap="round"/>
<line x1="1284.6" y1="830.3" x2="1284.6" y2="833.2" stroke="#000" stroke-width="1.5" stroke-linecap="round"/>
<line x1="1302.2" y1="689.5" x2="1302.2" y2="686.6" stroke="#000" stroke-width="1.5" stroke-linecap="round"/>
<line x1="1302.2" y1="830.3" x2="1302.2" y2="833.2" stroke="#000" stroke-width="1.5" stroke-linecap="round"/>
<line x1="1319.8" y1="689.5" x2="1319.8" y2="686.6" stroke="#000" stroke-width="1.5" stroke-linecap="round"/>
<line x1="1319.8" y1="830.3" x2="1319.8" y2="833.2" stroke="#000" stroke-width="1.5" stroke-linecap="round"/>
<line x1="1337.4" y1="689.5" x2="1337.4" y2="686.6" stroke="#000" stroke-width="1.5" stroke-linecap="round"/>
<line x1="1337.4" y1="830.3" x2="1337.4" y2="833.2" stroke="#000" stroke-width="1.5" stroke-linecap="round"/>
<line x1="1355.0" y1="689.5" x2="1355.0" y2="686.6" stroke="#000" stroke-width="1.5" stroke-linecap="round"/>
<line x1="1355.0" y1="830.3" x2="1355.0" y2="833.2" stroke="#000" stroke-width="1.5" stroke-linecap="round"/>
<line x1="1372.6" y1="689.5" x2="1372.6" y2="684.3" stroke="#000" stroke-width="3.0" stroke-linecap="round"/>
<line x1="1372.6" y1="830.3" x2="1372.6" y2="835.5" stroke="#000" stroke-width="3.0" stroke-linecap="round"/>
<line x1="1390.2" y1="689.5" x2="1390.2" y2="686.6" stroke="#000" stroke-width="1.5" stroke-linecap="round"/>
<line x1="1390.2" y1="830.3" x2="1390.2" y2="833.2" stroke="#000" stroke-width="1.5" stroke-linecap="round"/>
<line x1="1407.8" y1="689.5" x2="1407.8" y2="686.6" stroke="#000" stroke-width="1.5" stroke-linecap="round"/>
<line x1="1407.8" y1="830.3" x2="1407.8" y2="833.2" stroke="#000" stroke-width="1.5" stroke-linecap="round"/>
<line x1="1425.4" y1="689.5" x2="1425.4" y2="686.6" stroke="#000" stroke-width="1.5" stroke-linecap="round"/>
<line x1="1425.4" y1="830.3" x2="1425.4" y2="833.2" stroke="#000" stroke-width="1.5" stroke-linecap="round"/>
<line x1="1443.0" y1="689.5" x2="1443.0" y2="686.6" stroke="#000" stroke-width="1.5" stroke-linecap="round"/>
<line x1="1443.0" y1="830.3" x2="1443.0" y2="833.2" stroke="#000" stroke-width="1.5" stroke-linecap="round"/>
<line x1="1460.6" y1="689.5" x2="1460.6" y2="686.6" stroke="#000" stroke-width="1.5" stroke-linecap="round"/>
<line x1="1460.6" y1="830.3" x2="1460.6" y2="833.2" stroke="#000" stroke-width="1.5" stroke-linecap="round"/>
<line x1="1478.2" y1="689.5" x2="1478.2" y2="684.3" stroke="#000" stroke-width="3.0" stroke-linecap="round"/>
<line x1="1478.2" y1="830.3" x2="1478.2" y2="835.5" stroke="#000" stroke-width="3.0" stroke-linecap="round"/>
<line x1="844.7" y1="812.7" x2="839.5" y2="812.7" stroke="#000" stroke-width="3.0" stroke-linecap="round"/>
<line x1="1478.2" y1="812.7" x2="1483.4" y2="812.7" stroke="#000" stroke-width="3.0" stroke-linecap="round"/>
<line x1="844.7" y1="795.1" x2="841.8" y2="795.1" stroke="#000" stroke-width="1.5" stroke-linecap="round"/>
<line x1="1478.2" y1="795.1" x2="1481.1" y2="795.1" stroke="#000" stroke-width="1.5" stroke-linecap="round"/>
<line x1="844.7" y1="777.5" x2="841.8" y2="777.5" stroke="#000" stroke-width="1.5" stroke-linecap="round"/>
<line x1="1478.2" y1="777.5" x2="1481.1" y2="777.5" stroke="#000" stroke-width="1.5" stroke-linecap="round"/>
<line x1="844.7" y1="759.9" x2="839.5" y2="759.9" stroke="#000" stroke-width="3.0" stroke-linecap="round"/>
<line x1="1478.2" y1="759.9" x2="1483.4" y2="759.9" stroke="#000" stroke-width="3.0" stroke-linecap="round"/>
<line x1="844.7" y1="742.3" x2="841.8" y2="742.3" stroke="#000" stroke-width="1.5" stroke-linecap="round"/>
<line x1="1478.2" y1="742.3" x2="1481.1" y2="742.3" stroke="#000" stroke-width="1.5" stroke-linecap="round"/>
<line x1="844.7" y1="724.7" x2="841.8" y2="724.7" stroke="#000" stroke-width="1.5" stroke-linecap="round"/>
<line x1="1478.2" y1="724.7" x2="1481.1" y2="724.7" stroke="#000" stroke-width="1.5" stroke-linecap="round"/>
<line x1="844.7" y1="707.1" x2="839.5" y2="707.1" stroke="#000" stroke-width="3.0" stroke-linecap="round"/>
<line x1="1478.2" y1="707.1" x2="1483.4" y2="707.1" stroke="#000" stroke-width="3.0" stroke-linecap="round"/>
<rect x="844.7" y="689.5" width="633.5" height="140.8" fill="none" stroke="#000" stroke-width="3.3"/>
<text class="t34" id="t8" x="842.8" y="674.3" textLength="257.6" lengthAdjust="spacingAndGlyphs">20-Apr to 24-Apr</text>
<text class="tk" x="844.7" y="885.5" text-anchor="middle">0</text>
<text class="tk" x="950.3" y="885.5" text-anchor="middle">60E</text>
<text class="tk" x="1055.9" y="885.5" text-anchor="middle">120E</text>
<text class="tk" x="1161.4" y="885.5" text-anchor="middle">180</text>
<text class="tk" x="1267.0" y="885.5" text-anchor="middle">120W</text>
<text class="tk" x="1372.6" y="885.5" text-anchor="middle">60W</text>
<text class="tk" x="1478.2" y="885.5" text-anchor="middle">0</text>
<text class="t34" id="tobs" x="586.5" y="37.3" textLength="151.5" lengthAdjust="spacingAndGlyphs">Observed</text>
<text class="t34" id="tcfs" x="1263.4" y="37.3" textLength="214.7" lengthAdjust="spacingAndGlyphs">CFS Forecast</text>
<g transform="translate(252.7,135.2)"><g stroke="#fff" stroke-width="2.6" fill="#fff" stroke-linejoin="round"><path d="M-5.3,-0.8 C-5.6,-5.4 -1.2,-9.2 3.6,-9.9 C4.6,-9.6 4.6,-8.3 3.8,-7.6 C2.4,-7.1 1.4,-6.3 0.9,-5.0 Z"/><path d="M-5.3,-0.8 C-5.6,-5.4 -1.2,-9.2 3.6,-9.9 C4.6,-9.6 4.6,-8.3 3.8,-7.6 C2.4,-7.1 1.4,-6.3 0.9,-5.0 Z" transform="rotate(180)"/><circle r="5.3"/></g><g stroke="#000" stroke-width="1.15" fill="#f00000" stroke-linejoin="round"><path d="M-5.3,-0.8 C-5.6,-5.4 -1.2,-9.2 3.6,-9.9 C4.6,-9.6 4.6,-8.3 3.8,-7.6 C2.4,-7.1 1.4,-6.3 0.9,-5.0 Z"/><path d="M-5.3,-0.8 C-5.6,-5.4 -1.2,-9.2 3.6,-9.9 C4.6,-9.6 4.6,-8.3 3.8,-7.6 C2.4,-7.1 1.4,-6.3 0.9,-5.0 Z" transform="rotate(180)"/><circle r="5.3"/></g><circle r="4.7" fill="#f00000"/><text x="0" y="3.4" text-anchor="middle" style="font-size:9.5px;font-weight:bold;fill:#fff;stroke:#fff;stroke-width:0.5px">E</text></g>
<g transform="translate(349.1,144.5)"><g stroke="#fff" stroke-width="2.6" fill="#fff" stroke-linejoin="round"><path d="M-5.3,-0.8 C-5.6,-5.4 -1.2,-9.2 3.6,-9.9 C4.6,-9.6 4.6,-8.3 3.8,-7.6 C2.4,-7.1 1.4,-6.3 0.9,-5.0 Z"/><path d="M-5.3,-0.8 C-5.6,-5.4 -1.2,-9.2 3.6,-9.9 C4.6,-9.6 4.6,-8.3 3.8,-7.6 C2.4,-7.1 1.4,-6.3 0.9,-5.0 Z" transform="rotate(180)"/><circle r="5.3"/></g><g stroke="#000" stroke-width="1.15" fill="#f00000" stroke-linejoin="round"><path d="M-5.3,-0.8 C-5.6,-5.4 -1.2,-9.2 3.6,-9.9 C4.6,-9.6 4.6,-8.3 3.8,-7.6 C2.4,-7.1 1.4,-6.3 0.9,-5.0 Z"/><path d="M-5.3,-0.8 C-5.6,-5.4 -1.2,-9.2 3.6,-9.9 C4.6,-9.6 4.6,-8.3 3.8,-7.6 C2.4,-7.1 1.4,-6.3 0.9,-5.0 Z" transform="rotate(180)"/><circle r="5.3"/></g><circle r="4.7" fill="#f00000"/><text x="0" y="3.4" text-anchor="middle" style="font-size:9.5px;font-weight:bold;fill:#fff;stroke:#fff;stroke-width:0.5px">16</text></g>
<g transform="translate(238.4,572.9)"><g stroke="#fff" stroke-width="2.6" fill="#fff" stroke-linejoin="round"><path d="M-5.3,-0.8 C-5.6,-5.4 -1.2,-9.2 3.6,-9.9 C4.6,-9.6 4.6,-8.3 3.8,-7.6 C2.4,-7.1 1.4,-6.3 0.9,-5.0 Z"/><path d="M-5.3,-0.8 C-5.6,-5.4 -1.2,-9.2 3.6,-9.9 C4.6,-9.6 4.6,-8.3 3.8,-7.6 C2.4,-7.1 1.4,-6.3 0.9,-5.0 Z" transform="rotate(180)"/><circle r="5.3"/></g><g stroke="#000" stroke-width="1.15" fill="#f00000" stroke-linejoin="round"><path d="M-5.3,-0.8 C-5.6,-5.4 -1.2,-9.2 3.6,-9.9 C4.6,-9.6 4.6,-8.3 3.8,-7.6 C2.4,-7.1 1.4,-6.3 0.9,-5.0 Z"/><path d="M-5.3,-0.8 C-5.6,-5.4 -1.2,-9.2 3.6,-9.9 C4.6,-9.6 4.6,-8.3 3.8,-7.6 C2.4,-7.1 1.4,-6.3 0.9,-5.0 Z" transform="rotate(180)"/><circle r="5.3"/></g><circle r="4.7" fill="#f00000"/><text x="0" y="3.1" text-anchor="middle" style="font-size:8.5px;font-weight:bold;fill:#fff;stroke:#fff;stroke-width:0.5px">17</text></g>
<rect x="229.3" y="945.4" width="54.9" height="21.6" fill="#543005" stroke="#000" stroke-width="1.2"/>
<rect x="284.2" y="945.4" width="54.9" height="21.6" fill="#8c510a" stroke="#000" stroke-width="1.2"/>
<rect x="339.1" y="945.4" width="54.9" height="21.6" fill="#bf812d" stroke="#000" stroke-width="1.2"/>
<rect x="394.0" y="945.4" width="54.9" height="21.6" fill="#dfc27d" stroke="#000" stroke-width="1.2"/>
<rect x="448.9" y="945.4" width="54.9" height="21.6" fill="#f6e8c3" stroke="#000" stroke-width="1.2"/>
<rect x="503.8" y="945.4" width="54.9" height="21.6" fill="#f5f5f5" stroke="#000" stroke-width="1.2"/>
<rect x="558.7" y="945.4" width="54.9" height="21.6" fill="#c7eae5" stroke="#000" stroke-width="1.2"/>
<rect x="613.6" y="945.4" width="54.9" height="21.6" fill="#80cdc1" stroke="#000" stroke-width="1.2"/>
<rect x="668.5" y="945.4" width="54.9" height="21.6" fill="#35978f" stroke="#000" stroke-width="1.2"/>
<rect x="723.4" y="945.4" width="54.9" height="21.6" fill="#01665e" stroke="#000" stroke-width="1.2"/>
<rect x="778.3" y="945.4" width="54.9" height="21.6" fill="#003c30" stroke="#000" stroke-width="1.2"/>
<text class="cb" x="284.2" y="994.8" text-anchor="middle">-5</text>
<text class="cb" x="339.1" y="994.8" text-anchor="middle">-4</text>
<text class="cb" x="394.0" y="994.8" text-anchor="middle">-3</text>
<text class="cb" x="448.9" y="994.8" text-anchor="middle">-2</text>
<text class="cb" x="503.8" y="994.8" text-anchor="middle">-1</text>
<text class="cb" x="558.7" y="994.8" text-anchor="middle">1</text>
<text class="cb" x="613.6" y="994.8" text-anchor="middle">2</text>
<text class="cb" x="668.5" y="994.8" text-anchor="middle">3</text>
<text class="cb" x="723.4" y="994.8" text-anchor="middle">4</text>
<text class="cb" x="778.3" y="994.8" text-anchor="middle">5</text>
<text x="855" y="982" style="font-size:30.2px">x10^6 m2 s-1</text>
<line x1="1088.4" y1="971.6" x2="1157.2" y2="971.6" stroke="#000" stroke-width="2.9"/>
<text class="lg" x="1171" y="981.6">MJO</text>
<line x1="1313.8" y1="971.6" x2="1379.9" y2="971.6" stroke="#0000ff" stroke-width="2.9"/>
<text class="lg" x="1392.5" y="981.6">Kelvin x2</text>
<line x1="1088.4" y1="1012.3" x2="1157.2" y2="1012.3" stroke="#a020f0" stroke-width="2.9"/>
<text class="lg" x="1171" y="1022.3">Low</text>
<line x1="1313.8" y1="1012.3" x2="1379.9" y2="1012.3" stroke="#e00000" stroke-width="2.9"/>
<text class="lg" x="1392.5" y="1022.3">ER</text>
<text x="1084" y="1059.6" style="font-size:26.6px">Contours every 1 x10^6 m2 s-1</text>
<text x="222" y="1079.7" style="font-size:51.6px">5-day CHI850 with CFS forecasts</text>
<text class="sm" x="4" y="1118">monitor.cicsnc.org/mjo</text>
<text x="755" y="1117" text-anchor="middle" style="font-size:13.2px;stroke:none">Tue 2016-04-05 1015 UTC</text>
<text class="sm" x="1505" y="1118" text-anchor="end">Carl Schreck (cjschrec@ncsu.edu)</text>
<g id="logo" transform="translate(0,1015.2) scale(1,0.981) translate(0,-1015.2)">
<defs>
<radialGradient id="lgsky" gradientUnits="userSpaceOnUse" cx="82.1" cy="1001.2" r="78.4"><stop offset="0" stop-color="#1c7ccb"/><stop offset="0.38" stop-color="#2069bd"/><stop offset="0.68" stop-color="#2a4ba9"/><stop offset="0.9" stop-color="#2e3b9b"/><stop offset="1" stop-color="#2f3696"/></radialGradient>
<radialGradient id="lgmt" gradientUnits="userSpaceOnUse" cx="82.1" cy="1081.2" r="70"><stop offset="0" stop-color="#1878cb"/><stop offset="0.45" stop-color="#2259b5"/><stop offset="1" stop-color="#2d3a9e"/></radialGradient>
<linearGradient id="lggold" x1="0" y1="0" x2="0" y2="1"><stop offset="0" stop-color="#f6c260"/><stop offset="1" stop-color="#e39a2e"/></linearGradient>
<clipPath id="lgclip"><circle cx="84.1" cy="1015.2" r="72.4"/></clipPath>
<path id="lgarc" d="M26.10,1027.53 A59.3,59.3 0 0 1 141.76,1001.36"/>
<path id="lgsp" d="M73.0,1005.4 L73.7,1006.8 L74.7,1008.1 L76.1,1009.2 L77.7,1009.9 L79.6,1010.3 L81.6,1010.3 L83.7,1009.9 L85.6,1009.0 L87.3,1007.7 L88.8,1005.9 L89.8,1003.9 L90.3,1001.6 L90.3,999.1 L89.7,996.7 L88.5,994.4 L86.7,992.4 L84.5,990.7 L81.8,989.5 L78.9,988.9 L75.8,988.9 L72.7,989.5 L69.7,990.9 L67.1,992.9 L65.0,995.4 L63.5,998.4 L62.6,1001.7 L62.6,1005.1 L63.4,1008.6 L65.0,1011.9 L67.4,1014.8 L70.4,1017.2 L74.0,1018.9 L78.0,1019.9 L82.2,1020.0 L86.4,1019.2 L90.4,1017.6 L94.0,1015.1 L96.9,1011.8 L99.1,1008.0 L100.3,1003.7 L100.6,999.2 L99.7,994.7 L97.8,990.4 L95.0,986.5 L91.2,983.3 L86.7,980.9 L81.7,979.4 L76.4,979.1 L71.1,979.8 L66.0,981.7 L61.4,984.6 L57.6,988.5 L54.6,993.2 L52.8,998.4 L52.3,1003.9 L53.0,1009.5 L55.1,1014.9 L58.3,1019.8 L62.7,1023.9 L68.0,1027.1 L73.9,1029.1 L80.3,1029.8 L86.8,1029.2 L93.0,1027.3 L98.7,1024.0 L103.6,1019.6 L107.3,1014.2 L109.8,1008.1 L110.8,1001.6 L110.3,994.9 L108.3,988.4 L104.7,982.5 L99.9,977.4 L93.8,973.3 L87.0,970.6 L79.6,969.4 L72.0,969.7 L64.6,971.6 L57.8,975.1 L51.8,979.9 L47.1,985.9 L43.8,992.8 L42.2,1000.3 L42.3,1008.1 L44.3,1015.6 L47.9,1022.7 L53.2,1028.9 L59.8,1033.9 L67.5,1037.4 L75.9,1039.3 L84.6,1039.4 L93.2,1037.7 L101.2,1034.1 L108.3,1029.0 L114.1,1022.4 L118.3,1014.8 L120.7,1006.4 L121.0,997.6 L119.3,988.9 L115.6,980.6 L110.1,973.3 L103.0,967.3 L94.5,962.8 L85.2,960.2 L75.4,959.6 L65.7,961.0 L56.4,964.5 L48.1,969.8 L41.1,976.8 L35.9,985.1 L32.7,994.4 L31.7,1004.2 L33.0,1014.0 L36.6,1023.4 L42.3,1031.9 L49.8,1039.1 L58.9,1044.6 L69.1,1048.1 L79.9,1049.3 L90.8,1048.3 L101.4,1045.1 L110.9,1039.7 L119.1,1032.4 L125.4,1023.5 L129.6,1013.4 L131.4,1002.6 L130.6,991.7 L127.3,981.1 L121.6,971.4"/>
</defs>
<circle cx="84.1" cy="1015.2" r="72.4" fill="url(#lgsky)"/>
<g clip-path="url(#lgclip)">
<text style="font-size:5.4px;fill:#a9c9e8;fill-opacity:0.33;stroke:none;letter-spacing:0.2px"><textPath href="#lgsp">1001010100001101010110011001011010011010101100101001011001010110100101101011010010110101100110100101100110010101000011010101100110010110100110101011001010010110</textPath></text>
<path d="M11.3,1034.1 L18.1,1032.9 L30.2,1030.3 L40.0,1023.5 L49.8,1033.3 L54.3,1029.6 L66.4,1036.7 L82.2,1014.5 L98.1,1030.6 L105.6,1026.5 L110.9,1019.0 L119.2,1033.6 L128.2,1020.5 L140.3,1011.5 L153.9,1001.7 L159.9,997.1 L161.5,1092.6 L6.7,1092.6 Z" fill="url(#lgmt)"/>
<path d="M11.3,1034.1 L18.1,1032.9 L30.2,1030.3 L40.0,1023.5 L49.8,1033.3 L54.3,1029.6 L66.4,1036.7 L82.2,1014.5 L98.1,1030.6 L105.6,1026.5 L110.9,1019.0 L119.2,1033.6 L128.2,1020.5 L140.3,1011.5 L153.9,1001.7 L159.9,997.1" fill="none" stroke="#e23a2e" stroke-width="1.5" stroke-linejoin="round"/>
<circle cx="138.0" cy="1008.4" r="5.2" fill="#f0a63a"/><circle cx="138.0" cy="1008.4" r="3.2" fill="none" stroke="#f8d27a" stroke-width="0.9"/>
</g>
<text style="font-size:9.6px;fill:#fff;stroke:none"><textPath href="#lgarc" startOffset="0" textLength="183.7" lengthAdjust="spacingAndGlyphs">Cooperative Institute for Climate and Satellites</textPath></text>
<text x="83.5" y="1059.8" text-anchor="middle" style="font-size:33.4px;fill:url(#lggold);stroke:#e9a83e;stroke-width:0.3px">cics.nc</text>
</g>
</svg></body></html>
